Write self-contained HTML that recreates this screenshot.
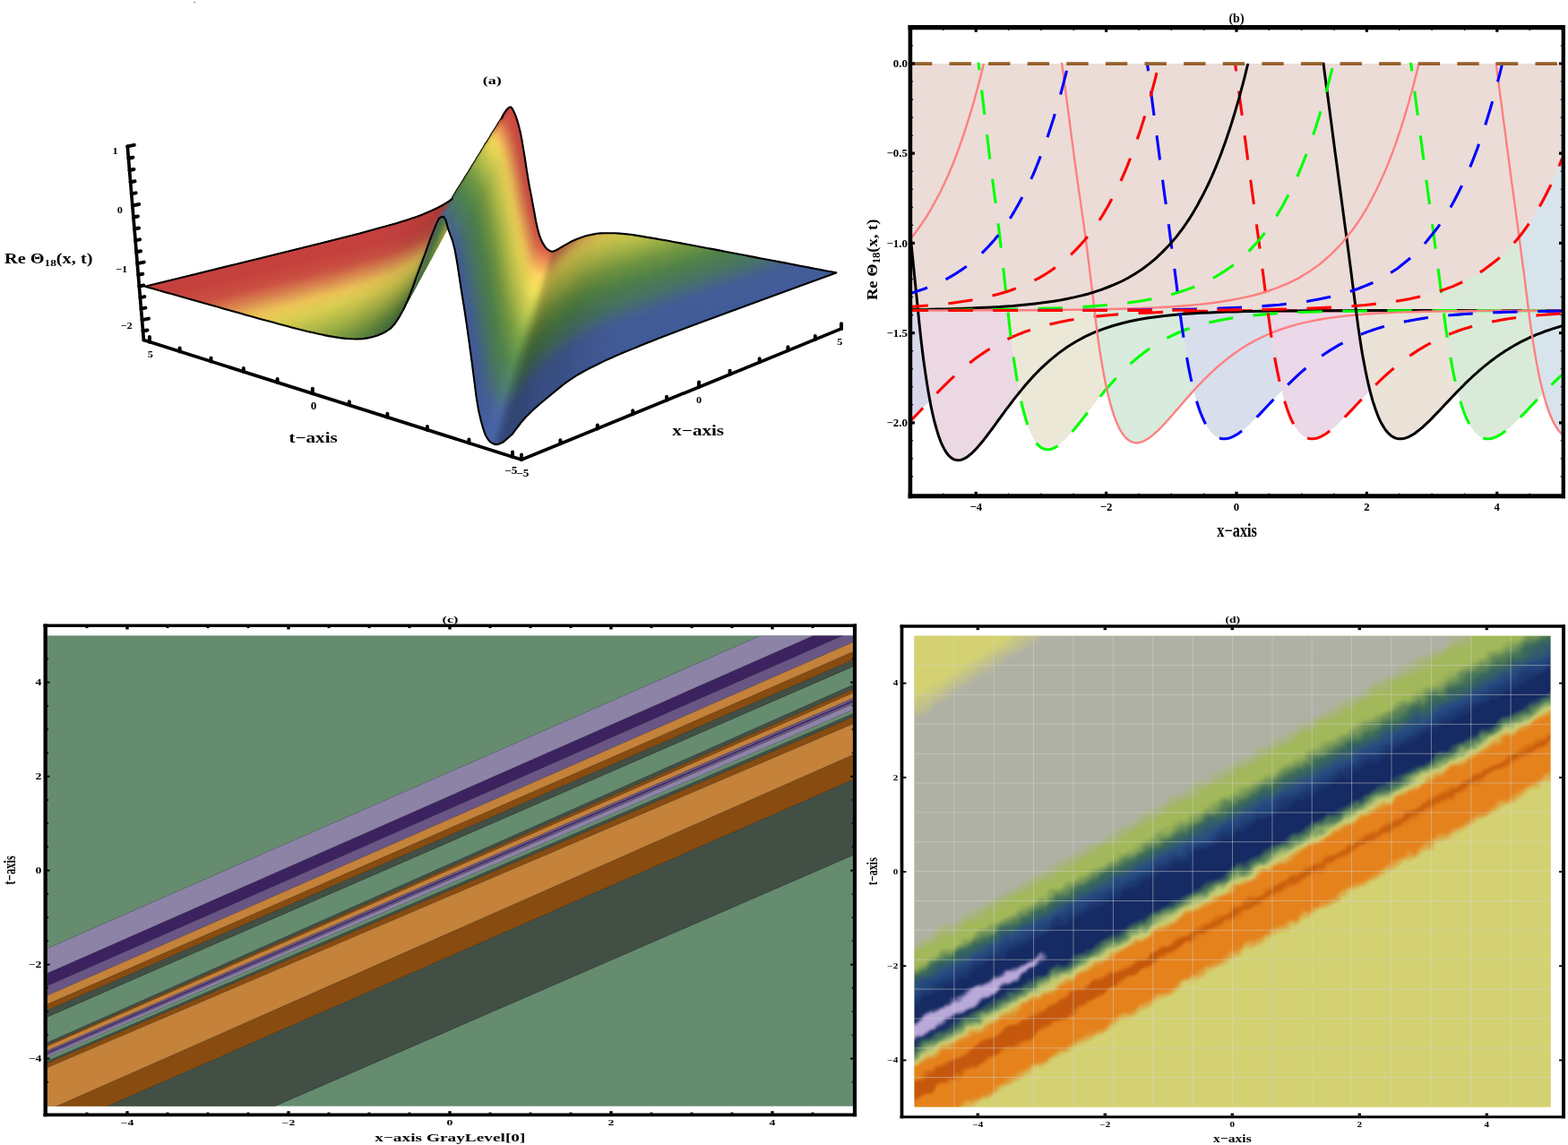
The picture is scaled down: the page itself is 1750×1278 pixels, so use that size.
<!DOCTYPE html>
<html lang="en"><head><meta charset="utf-8"><title>Figure</title>
<style>
html,body{margin:0;padding:0;background:#fff;}
body{width:1750px;height:1278px;overflow:hidden;}
svg{display:block;font-family:"Liberation Serif","DejaVu Serif",serif;fill:#000;}
</style></head><body>
<svg width="1750" height="1278" viewBox="0 0 1750 1278">
<rect width="1750" height="1278" fill="#fff"/>
<rect x="216" y="2" width="2.2" height="1" fill="#8a8a8a"/>
<clipPath id="cc"><rect x="53" y="709.4" width="899" height="525.3"/></clipPath>
<rect x="53" y="709.4" width="899" height="525.3" fill="#668c70"/>
<g clip-path="url(#cc)">
<path d="M52,1058.9L953,663.8L953,689.9L52,1087.1Z" fill="#8c83a6" />
<path d="M52,1086.8L953,689.6L953,704.3L52,1101.1Z" fill="#3c2360" />
<path d="M52,1100.8L953,704L953,716.6L52,1111.8Z" fill="#6a5685" />
<path d="M52,1111.5L953,716.3L953,727.3L52,1121.6Z" fill="#c4823b" />
<path d="M52,1121.3L953,727L953,736.3L52,1128.2Z" fill="#884c10" />
<path d="M52,1127.9L953,736L953,743.7L52,1135.6Z" fill="#424f45" />
<path d="M52,1164L953,763.9L953,769.2L52,1166.8Z" fill="#424f45" />
<path d="M52,1166.5L953,768.9L953,773.3L52,1168.4Z" fill="#884c10" />
<path d="M52,1168.1L953,773L953,779L52,1173.3Z" fill="#c4823b" />
<path d="M52,1173L953,778.7L953,781.5L52,1175.3Z" fill="#6a5685" />
<path d="M52,1175L953,781.2L953,783.3L52,1176.6Z" fill="#3c2360" />
<path d="M52,1176.3L953,783L953,785.6L52,1178.3Z" fill="#6a5685" />
<path d="M52,1178L953,785.3L953,792.1L52,1180.8Z" fill="#8c83a6" />
<path d="M52,1184.6L953,796L953,800.3L52,1187.3Z" fill="#424f45" />
<path d="M52,1187L953,800L953,807.8L52,1192.3Z" fill="#884c10" />
<path d="M52,1192L953,807.5L953,842.3L52,1240Z" fill="#c4823b" />
<path d="M52,1239.7L953,842L953,870.2L52,1264.8Z" fill="#884c10" />
<path d="M52,1264.5L953,869.9L953,954.3L52,1345.5Z" fill="#424f45" />
<path d="M52,1058.9L953,663.8M52,1086.8L953,689.6M52,1100.8L953,704M52,1111.5L953,716.3M52,1121.3L953,727M52,1127.9L953,736M52,1135.3L953,743.4M52,1164L953,763.9M52,1166.5L953,768.9M52,1168.1L953,773M52,1173L953,778.7M52,1178L953,785.3M52,1180.5L953,791.8M52,1184.6L953,796M52,1187L953,800M52,1192L953,807.5M52,1239.7L953,842M52,1264.5L953,869.9M52,1345.2L953,954" stroke="#15151a" stroke-opacity="0.4" stroke-width="0.6" fill="none"/>
</g>
<path d="M48.5,698.3H956.1" stroke="#000" stroke-width="3.5"/>
<path d="M48.5,1244.4H956.1" stroke="#000" stroke-width="3.8"/>
<path d="M50.7,696.5V1246.3" stroke="#000" stroke-width="4.4"/>
<path d="M954,696.5V1246.3" stroke="#000" stroke-width="4.2"/>
<path d="M97,1242.9L97,1241.6" stroke="#000" stroke-width="3.0" fill="none"/>
<path d="M97,699.8L97,701.1" stroke="#000" stroke-width="3.0" fill="none"/>
<path d="M187,1242.9L187,1241.6" stroke="#000" stroke-width="3.0" fill="none"/>
<path d="M187,699.8L187,701.1" stroke="#000" stroke-width="3.0" fill="none"/>
<path d="M232,1242.9L232,1241.6" stroke="#000" stroke-width="3.0" fill="none"/>
<path d="M232,699.8L232,701.1" stroke="#000" stroke-width="3.0" fill="none"/>
<path d="M277,1242.9L277,1241.6" stroke="#000" stroke-width="3.0" fill="none"/>
<path d="M277,699.8L277,701.1" stroke="#000" stroke-width="3.0" fill="none"/>
<path d="M367,1242.9L367,1241.6" stroke="#000" stroke-width="3.0" fill="none"/>
<path d="M367,699.8L367,701.1" stroke="#000" stroke-width="3.0" fill="none"/>
<path d="M412,1242.9L412,1241.6" stroke="#000" stroke-width="3.0" fill="none"/>
<path d="M412,699.8L412,701.1" stroke="#000" stroke-width="3.0" fill="none"/>
<path d="M457,1242.9L457,1241.6" stroke="#000" stroke-width="3.0" fill="none"/>
<path d="M457,699.8L457,701.1" stroke="#000" stroke-width="3.0" fill="none"/>
<path d="M547,1242.9L547,1241.6" stroke="#000" stroke-width="3.0" fill="none"/>
<path d="M547,699.8L547,701.1" stroke="#000" stroke-width="3.0" fill="none"/>
<path d="M592,1242.9L592,1241.6" stroke="#000" stroke-width="3.0" fill="none"/>
<path d="M592,699.8L592,701.1" stroke="#000" stroke-width="3.0" fill="none"/>
<path d="M637,1242.9L637,1241.6" stroke="#000" stroke-width="3.0" fill="none"/>
<path d="M637,699.8L637,701.1" stroke="#000" stroke-width="3.0" fill="none"/>
<path d="M727,1242.9L727,1241.6" stroke="#000" stroke-width="3.0" fill="none"/>
<path d="M727,699.8L727,701.1" stroke="#000" stroke-width="3.0" fill="none"/>
<path d="M772,1242.9L772,1241.6" stroke="#000" stroke-width="3.0" fill="none"/>
<path d="M772,699.8L772,701.1" stroke="#000" stroke-width="3.0" fill="none"/>
<path d="M817,1242.9L817,1241.6" stroke="#000" stroke-width="3.0" fill="none"/>
<path d="M817,699.8L817,701.1" stroke="#000" stroke-width="3.0" fill="none"/>
<path d="M907,1242.9L907,1241.6" stroke="#000" stroke-width="3.0" fill="none"/>
<path d="M907,699.8L907,701.1" stroke="#000" stroke-width="3.0" fill="none"/>
<path d="M142,1242.9L142,1240.2" stroke="#000" stroke-width="3.4" fill="none"/>
<path d="M142,699.8L142,702.5" stroke="#000" stroke-width="3.4" fill="none"/>
<path d="M322,1242.9L322,1240.2" stroke="#000" stroke-width="3.4" fill="none"/>
<path d="M322,699.8L322,702.5" stroke="#000" stroke-width="3.4" fill="none"/>
<path d="M502,1242.9L502,1240.2" stroke="#000" stroke-width="3.4" fill="none"/>
<path d="M502,699.8L502,702.5" stroke="#000" stroke-width="3.4" fill="none"/>
<path d="M682,1242.9L682,1240.2" stroke="#000" stroke-width="3.4" fill="none"/>
<path d="M682,699.8L682,702.5" stroke="#000" stroke-width="3.4" fill="none"/>
<path d="M862,1242.9L862,1240.2" stroke="#000" stroke-width="3.4" fill="none"/>
<path d="M862,699.8L862,702.5" stroke="#000" stroke-width="3.4" fill="none"/>
<path d="M52.2,1207.8L53.9,1207.8" stroke="#000" stroke-width="1.6" fill="none"/>
<path d="M952.5,1207.8L950.8,1207.8" stroke="#000" stroke-width="1.6" fill="none"/>
<path d="M52.2,1155.3L53.9,1155.3" stroke="#000" stroke-width="1.6" fill="none"/>
<path d="M952.5,1155.3L950.8,1155.3" stroke="#000" stroke-width="1.6" fill="none"/>
<path d="M52.2,1129.1L53.9,1129.1" stroke="#000" stroke-width="1.6" fill="none"/>
<path d="M952.5,1129.1L950.8,1129.1" stroke="#000" stroke-width="1.6" fill="none"/>
<path d="M52.2,1102.8L53.9,1102.8" stroke="#000" stroke-width="1.6" fill="none"/>
<path d="M952.5,1102.8L950.8,1102.8" stroke="#000" stroke-width="1.6" fill="none"/>
<path d="M52.2,1050.3L53.9,1050.3" stroke="#000" stroke-width="1.6" fill="none"/>
<path d="M952.5,1050.3L950.8,1050.3" stroke="#000" stroke-width="1.6" fill="none"/>
<path d="M52.2,1024.1L53.9,1024.1" stroke="#000" stroke-width="1.6" fill="none"/>
<path d="M952.5,1024.1L950.8,1024.1" stroke="#000" stroke-width="1.6" fill="none"/>
<path d="M52.2,997.9L53.9,997.9" stroke="#000" stroke-width="1.6" fill="none"/>
<path d="M952.5,997.9L950.8,997.9" stroke="#000" stroke-width="1.6" fill="none"/>
<path d="M52.2,945.4L53.9,945.4" stroke="#000" stroke-width="1.6" fill="none"/>
<path d="M952.5,945.4L950.8,945.4" stroke="#000" stroke-width="1.6" fill="none"/>
<path d="M52.2,919.1L53.9,919.1" stroke="#000" stroke-width="1.6" fill="none"/>
<path d="M952.5,919.1L950.8,919.1" stroke="#000" stroke-width="1.6" fill="none"/>
<path d="M52.2,892.9L53.9,892.9" stroke="#000" stroke-width="1.6" fill="none"/>
<path d="M952.5,892.9L950.8,892.9" stroke="#000" stroke-width="1.6" fill="none"/>
<path d="M52.2,840.4L53.9,840.4" stroke="#000" stroke-width="1.6" fill="none"/>
<path d="M952.5,840.4L950.8,840.4" stroke="#000" stroke-width="1.6" fill="none"/>
<path d="M52.2,814.1L53.9,814.1" stroke="#000" stroke-width="1.6" fill="none"/>
<path d="M952.5,814.1L950.8,814.1" stroke="#000" stroke-width="1.6" fill="none"/>
<path d="M52.2,787.9L53.9,787.9" stroke="#000" stroke-width="1.6" fill="none"/>
<path d="M952.5,787.9L950.8,787.9" stroke="#000" stroke-width="1.6" fill="none"/>
<path d="M52.2,735.4L53.9,735.4" stroke="#000" stroke-width="1.6" fill="none"/>
<path d="M952.5,735.4L950.8,735.4" stroke="#000" stroke-width="1.6" fill="none"/>
<path d="M52.2,1181.6L55.6,1181.6" stroke="#000" stroke-width="1.9" fill="none"/>
<path d="M952.5,1181.6L949.1,1181.6" stroke="#000" stroke-width="1.9" fill="none"/>
<path d="M52.2,1076.6L55.6,1076.6" stroke="#000" stroke-width="1.9" fill="none"/>
<path d="M952.5,1076.6L949.1,1076.6" stroke="#000" stroke-width="1.9" fill="none"/>
<path d="M52.2,971.6L55.6,971.6" stroke="#000" stroke-width="1.9" fill="none"/>
<path d="M952.5,971.6L949.1,971.6" stroke="#000" stroke-width="1.9" fill="none"/>
<path d="M52.2,866.6L55.6,866.6" stroke="#000" stroke-width="1.9" fill="none"/>
<path d="M952.5,866.6L949.1,866.6" stroke="#000" stroke-width="1.9" fill="none"/>
<path d="M52.2,761.6L55.6,761.6" stroke="#000" stroke-width="1.9" fill="none"/>
<path d="M952.5,761.6L949.1,761.6" stroke="#000" stroke-width="1.9" fill="none"/>
<text transform="translate(46.5,1184.8) scale(1.450,1.000)" font-size="9.5" text-anchor="end" font-weight="bold" >−4</text>
<text transform="translate(142,1256) scale(1.600,1.000)" font-size="8.6" text-anchor="middle" font-weight="bold" >−4</text>
<text transform="translate(46.5,1079.8) scale(1.450,1.000)" font-size="9.5" text-anchor="end" font-weight="bold" >−2</text>
<text transform="translate(322,1256) scale(1.600,1.000)" font-size="8.6" text-anchor="middle" font-weight="bold" >−2</text>
<text transform="translate(46.5,974.8) scale(1.450,1.000)" font-size="9.5" text-anchor="end" font-weight="bold" >0</text>
<text transform="translate(502,1256) scale(1.600,1.000)" font-size="8.6" text-anchor="middle" font-weight="bold" >0</text>
<text transform="translate(46.5,869.8) scale(1.450,1.000)" font-size="9.5" text-anchor="end" font-weight="bold" >2</text>
<text transform="translate(682,1256) scale(1.600,1.000)" font-size="8.6" text-anchor="middle" font-weight="bold" >2</text>
<text transform="translate(46.5,764.8) scale(1.450,1.000)" font-size="9.5" text-anchor="end" font-weight="bold" >4</text>
<text transform="translate(862,1256) scale(1.600,1.000)" font-size="8.6" text-anchor="middle" font-weight="bold" >4</text>
<text transform="translate(502.5,695) scale(1.550,1.000)" font-size="10.5" text-anchor="middle" font-weight="bold" >(c)</text>
<text transform="translate(502.3,1274.3) scale(1.535,1.000)" font-size="12.6" text-anchor="middle" font-weight="bold" >x−axis GrayLevel[0]</text>
<text transform="translate(17.2,971.3) rotate(-90) scale(0.675,1.000)" font-size="18.6" text-anchor="middle" font-weight="bold" >t−axis</text>
<clipPath id="cd"><rect x="1020.5" y="709.7" width="710" height="525.8"/></clipPath>
<filter id="jag" filterUnits="userSpaceOnUse" x="1000" y="690" width="750" height="570"><feTurbulence type="fractalNoise" baseFrequency="0.07" numOctaves="2" seed="7" result="n"/><feDisplacementMap in="SourceGraphic" in2="n" scale="11" xChannelSelector="R" yChannelSelector="G"/><feGaussianBlur stdDeviation="0.8"/></filter>
<filter id="bl3" x="-20%" y="-50%" width="140%" height="200%"><feGaussianBlur stdDeviation="1.6"/></filter>
<rect x="1020.5" y="709.7" width="710" height="525.8" fill="#d4d172"/>
<g clip-path="url(#cd)"><g filter="url(#jag)">
<rect x="996.5" y="679.7" width="758" height="585.8" fill="#d4d172"/>
<path d="M1006.5,708.9L1744.5,238.1L1744.5,315.6L1006.5,786.4Z" fill="#d4d172" />
<path d="M1006.5,784.9L1744.5,314.1L1744.5,317.7L1006.5,788.6Z" fill="#d3d074" />
<path d="M1006.5,787.1L1744.5,316.2L1744.5,319.9L1006.5,790.7Z" fill="#d0ce77" />
<path d="M1006.5,789.2L1744.5,318.4L1744.5,322L1006.5,792.9Z" fill="#cdcb7b" />
<path d="M1006.5,791.4L1744.5,320.5L1744.5,324.1L1006.5,795Z" fill="#cbc97f" />
<path d="M1006.5,793.5L1744.5,322.6L1744.5,326.3L1006.5,797.1Z" fill="#c8c782" />
<path d="M1006.5,795.6L1744.5,324.8L1744.5,328.4L1006.5,799.3Z" fill="#c5c486" />
<path d="M1006.5,797.8L1744.5,326.9L1744.5,330.6L1006.5,801.4Z" fill="#c3c28a" />
<path d="M1006.5,799.9L1744.5,329.1L1744.5,332.7L1006.5,803.6Z" fill="#c0c08d" />
<path d="M1006.5,802.1L1744.5,331.2L1744.5,334.9L1006.5,805.7Z" fill="#bebe91" />
<path d="M1006.5,804.2L1744.5,333.4L1744.5,337L1006.5,807.9Z" fill="#bbbb95" />
<path d="M1006.5,806.4L1744.5,335.5L1744.5,339.1L1006.5,810Z" fill="#b8b998" />
<path d="M1006.5,808.5L1744.5,337.6L1744.5,341.3L1006.5,812.1Z" fill="#b6b79c" />
<path d="M1006.5,810.6L1744.5,339.8L1744.5,343.4L1006.5,814.3Z" fill="#b3b4a0" />
<path d="M1006.5,812.8L1744.5,341.9L1744.5,345.6L1006.5,816.4Z" fill="#b0b2a3" />
<path d="M1006.5,814.9L1744.5,344.1L1744.5,641.6L1006.5,1059.4Z" fill="#afb1a5" />
<path d="M1006.5,1057.9L1744.5,640.1L1744.5,643.8L1006.5,1061.4Z" fill="#aeb1a1" />
<path d="M1006.5,1059.9L1744.5,642.3L1744.5,646L1006.5,1063.4Z" fill="#adb298" />
<path d="M1006.5,1061.9L1744.5,644.5L1744.5,648.3L1006.5,1065.4Z" fill="#abb390" />
<path d="M1006.5,1063.9L1744.5,646.8L1744.5,650.5L1006.5,1067.4Z" fill="#aab488" />
<path d="M1006.5,1065.9L1744.5,649L1744.5,652.7L1006.5,1069.4Z" fill="#a8b480" />
<path d="M1006.5,1067.9L1744.5,651.2L1744.5,654.9L1006.5,1071.4Z" fill="#a7b577" />
<path d="M1006.5,1069.9L1744.5,653.4L1744.5,657.2L1006.5,1073.4Z" fill="#a6b66f" />
<path d="M1006.5,1071.9L1744.5,655.7L1744.5,659.4L1006.5,1075.4Z" fill="#a4b766" />
<path d="M1006.5,1073.9L1744.5,657.9L1744.5,661.6L1006.5,1077.4Z" fill="#a3b85e" />
<path d="M1006.5,1075.9L1744.5,660.1L1744.5,683.8L1006.5,1087.2Z" fill="#a2b85a" />
<path d="M1006.5,1085.7L1744.5,682.3L1744.5,686.1L1006.5,1088.4Z" fill="#9db45a" />
<path d="M1006.5,1086.9L1744.5,684.6L1744.5,688.3L1006.5,1089.7Z" fill="#93ad5a" />
<path d="M1006.5,1088.2L1744.5,686.8L1744.5,690.5L1006.5,1091Z" fill="#88a55a" />
<path d="M1006.5,1089.5L1744.5,689L1744.5,692.7L1006.5,1092.3Z" fill="#7e9d59" />
<path d="M1006.5,1090.8L1744.5,691.2L1744.5,694.9L1006.5,1093.6Z" fill="#749659" />
<path d="M1006.5,1092.1L1744.5,693.4L1744.5,697.2L1006.5,1094.8Z" fill="#6a8e59" />
<path d="M1006.5,1093.3L1744.5,695.7L1744.5,699.4L1006.5,1096.1Z" fill="#608759" />
<path d="M1006.5,1094.6L1744.5,697.9L1744.5,701.6L1006.5,1097.4Z" fill="#567f58" />
<path d="M1006.5,1095.9L1744.5,700.1L1744.5,703.8L1006.5,1098.7Z" fill="#4b7758" />
<path d="M1006.5,1097.2L1744.5,702.3L1744.5,706L1006.5,1100Z" fill="#417058" />
<path d="M1006.5,1098.5L1744.5,704.5L1744.5,708.3L1006.5,1101.6Z" fill="#3b6a5b" />
<path d="M1006.5,1100.1L1744.5,706.8L1744.5,710.6L1006.5,1103.2Z" fill="#386660" />
<path d="M1006.5,1101.7L1744.5,709.1L1744.5,712.8L1006.5,1104.8Z" fill="#366265" />
<path d="M1006.5,1103.3L1744.5,711.3L1744.5,715.1L1006.5,1106.4Z" fill="#335e6a" />
<path d="M1006.5,1104.9L1744.5,713.6L1744.5,717.3L1006.5,1108Z" fill="#315a70" />
<path d="M1006.5,1106.5L1744.5,715.8L1744.5,719.6L1006.5,1109.6Z" fill="#2e5675" />
<path d="M1006.5,1108.1L1744.5,718.1L1744.5,721.9L1006.5,1111.3Z" fill="#2c527a" />
<path d="M1006.5,1109.8L1744.5,720.4L1744.5,724.1L1006.5,1112.9Z" fill="#294e7f" />
<path d="M1006.5,1111.4L1744.5,722.6L1744.5,726.4L1006.5,1114.9Z" fill="#274a80" />
<path d="M1006.5,1113.4L1744.5,724.9L1744.5,728.6L1006.5,1116.9Z" fill="#25467d" />
<path d="M1006.5,1115.4L1744.5,727.1L1744.5,730.8L1006.5,1118.9Z" fill="#23437a" />
<path d="M1006.5,1117.4L1744.5,729.3L1744.5,733L1006.5,1120.9Z" fill="#213f76" />
<path d="M1006.5,1119.4L1744.5,731.5L1744.5,735.3L1006.5,1122.9Z" fill="#1f3b73" />
<path d="M1006.5,1121.4L1744.5,733.8L1744.5,737.5L1006.5,1124.8Z" fill="#1d3770" />
<path d="M1006.5,1123.3L1744.5,736L1744.5,739.7L1006.5,1126.8Z" fill="#1b336c" />
<path d="M1006.5,1125.3L1744.5,738.2L1744.5,741.9L1006.5,1128.8Z" fill="#193069" />
<path d="M1006.5,1127.3L1744.5,740.4L1744.5,744.2L1006.5,1130.8Z" fill="#172c66" />
<path d="M1006.5,1129.3L1744.5,742.7L1744.5,764.8L1006.5,1173.2Z" fill="#162a64" />
<path d="M1006.5,1171.7L1744.5,763.3L1744.5,766.5L1006.5,1175.3Z" fill="#1c3263" />
<path d="M1006.5,1173.8L1744.5,765L1744.5,768.3L1006.5,1177.3Z" fill="#274361" />
<path d="M1006.5,1175.8L1744.5,766.8L1744.5,770.1L1006.5,1179.3Z" fill="#33545f" />
<path d="M1006.5,1177.8L1744.5,768.6L1744.5,771.9L1006.5,1181.3Z" fill="#3f645d" />
<path d="M1006.5,1179.8L1744.5,770.4L1744.5,773.7L1006.5,1183.3Z" fill="#4a755b" />
<path d="M1006.5,1181.8L1744.5,772.2L1744.5,775.7L1006.5,1185.3Z" fill="#5c865d" />
<path d="M1006.5,1183.8L1744.5,774.2L1744.5,777.7L1006.5,1187.3Z" fill="#769763" />
<path d="M1006.5,1185.8L1744.5,776.2L1744.5,779.7L1006.5,1189.3Z" fill="#8ea869" />
<path d="M1006.5,1187.8L1744.5,778.2L1744.5,781.7L1006.5,1191.3Z" fill="#a8ba6f" />
<path d="M1006.5,1189.8L1744.5,780.2L1744.5,783.7L1006.5,1193.3Z" fill="#c0cb75" />
<path d="M1006.5,1191.8L1744.5,782.2L1744.5,786L1006.5,1195.5Z" fill="#d0ca6c" />
<path d="M1006.5,1194L1744.5,784.5L1744.5,788.2L1006.5,1197.8Z" fill="#d6b556" />
<path d="M1006.5,1196.3L1744.5,786.7L1744.5,790.5L1006.5,1200Z" fill="#dca13e" />
<path d="M1006.5,1198.5L1744.5,789L1744.5,792.7L1006.5,1202.3Z" fill="#e28c28" />
<path d="M1006.5,1200.8L1744.5,791.2L1744.5,809.7L1006.5,1219.3Z" fill="#e5821c" />
<path d="M1006.5,1217.8L1744.5,808.2L1744.5,812.1L1006.5,1221.6Z" fill="#e07b19" />
<path d="M1006.5,1220.1L1744.5,810.6L1744.5,814.4L1006.5,1223.9Z" fill="#d66d13" />
<path d="M1006.5,1222.4L1744.5,812.9L1744.5,816.7L1006.5,1226.3Z" fill="#cb5f0d" />
<path d="M1006.5,1224.8L1744.5,815.2L1744.5,819.1L1006.5,1228.6Z" fill="#cb5f0d" />
<path d="M1006.5,1227.1L1744.5,817.6L1744.5,821.4L1006.5,1230.9Z" fill="#d66d13" />
<path d="M1006.5,1229.4L1744.5,819.9L1744.5,823.7L1006.5,1233.3Z" fill="#e07b19" />
<path d="M1006.5,1231.8L1744.5,822.2L1744.5,855.6L1006.5,1271.4Z" fill="#e5821c" />
<path d="M1006.5,1269.9L1744.5,854.1L1744.5,857.8L1006.5,1273.4Z" fill="#e38a25" />
<path d="M1006.5,1271.9L1744.5,856.3L1744.5,860L1006.5,1275.4Z" fill="#e09a36" />
<path d="M1006.5,1273.9L1744.5,858.5L1744.5,862.2L1006.5,1277.4Z" fill="#dcaa47" />
<path d="M1006.5,1275.9L1744.5,860.7L1744.5,864.4L1006.5,1279.4Z" fill="#d9b958" />
<path d="M1006.5,1277.9L1744.5,862.9L1744.5,866.6L1006.5,1281.4Z" fill="#d6c969" />
<path d="M1006.5,1279.9L1744.5,865.1L1744.5,1293.6L1006.5,1709.4Z" fill="#d4d172" />
<path d="M1006,1214L1190,1111.9L1260,1077.1L1330,1042.2L1330,1048.2L1260,1091.1L1190,1133.9L1006,1236Z" fill="#c6580a" filter="url(#bl3)"/>
<path d="M1005,1151.3L1060,1119.6L1100,1097.7L1130,1081.7L1150,1072L1166,1065.1L1166,1068.1L1150,1080L1130,1093.7L1100,1112.7L1060,1137.6L1005,1170.3Z" fill="#b9a9da" filter="url(#bl3)"/>
</g>
<path d="M1064.9,709.7V1235.5" stroke="#d6d6d0" stroke-opacity="0.47" stroke-width="1"/>
<path d="M1020.5,742.6H1730.5" stroke="#d6d6d0" stroke-opacity="0.47" stroke-width="1"/>
<path d="M1109.2,709.7V1235.5" stroke="#d6d6d0" stroke-opacity="0.47" stroke-width="1"/>
<path d="M1020.5,775.4H1730.5" stroke="#d6d6d0" stroke-opacity="0.47" stroke-width="1"/>
<path d="M1153.6,709.7V1235.5" stroke="#d6d6d0" stroke-opacity="0.47" stroke-width="1"/>
<path d="M1020.5,808.3H1730.5" stroke="#d6d6d0" stroke-opacity="0.47" stroke-width="1"/>
<path d="M1198,709.7V1235.5" stroke="#d6d6d0" stroke-opacity="0.47" stroke-width="1"/>
<path d="M1020.5,841.2H1730.5" stroke="#d6d6d0" stroke-opacity="0.47" stroke-width="1"/>
<path d="M1242.4,709.7V1235.5" stroke="#d6d6d0" stroke-opacity="0.47" stroke-width="1"/>
<path d="M1020.5,874H1730.5" stroke="#d6d6d0" stroke-opacity="0.47" stroke-width="1"/>
<path d="M1286.8,709.7V1235.5" stroke="#d6d6d0" stroke-opacity="0.47" stroke-width="1"/>
<path d="M1020.5,906.9H1730.5" stroke="#d6d6d0" stroke-opacity="0.47" stroke-width="1"/>
<path d="M1331.1,709.7V1235.5" stroke="#d6d6d0" stroke-opacity="0.47" stroke-width="1"/>
<path d="M1020.5,939.7H1730.5" stroke="#d6d6d0" stroke-opacity="0.47" stroke-width="1"/>
<path d="M1375.5,709.7V1235.5" stroke="#d6d6d0" stroke-opacity="0.47" stroke-width="1"/>
<path d="M1020.5,972.6H1730.5" stroke="#d6d6d0" stroke-opacity="0.47" stroke-width="1"/>
<path d="M1419.9,709.7V1235.5" stroke="#d6d6d0" stroke-opacity="0.47" stroke-width="1"/>
<path d="M1020.5,1005.5H1730.5" stroke="#d6d6d0" stroke-opacity="0.47" stroke-width="1"/>
<path d="M1464.2,709.7V1235.5" stroke="#d6d6d0" stroke-opacity="0.47" stroke-width="1"/>
<path d="M1020.5,1038.3H1730.5" stroke="#d6d6d0" stroke-opacity="0.47" stroke-width="1"/>
<path d="M1508.6,709.7V1235.5" stroke="#d6d6d0" stroke-opacity="0.47" stroke-width="1"/>
<path d="M1020.5,1071.2H1730.5" stroke="#d6d6d0" stroke-opacity="0.47" stroke-width="1"/>
<path d="M1553,709.7V1235.5" stroke="#d6d6d0" stroke-opacity="0.47" stroke-width="1"/>
<path d="M1020.5,1104H1730.5" stroke="#d6d6d0" stroke-opacity="0.47" stroke-width="1"/>
<path d="M1597.4,709.7V1235.5" stroke="#d6d6d0" stroke-opacity="0.47" stroke-width="1"/>
<path d="M1020.5,1136.9H1730.5" stroke="#d6d6d0" stroke-opacity="0.47" stroke-width="1"/>
<path d="M1641.8,709.7V1235.5" stroke="#d6d6d0" stroke-opacity="0.47" stroke-width="1"/>
<path d="M1020.5,1169.8H1730.5" stroke="#d6d6d0" stroke-opacity="0.47" stroke-width="1"/>
<path d="M1686.1,709.7V1235.5" stroke="#d6d6d0" stroke-opacity="0.47" stroke-width="1"/>
<path d="M1020.5,1202.6H1730.5" stroke="#d6d6d0" stroke-opacity="0.47" stroke-width="1"/>
</g>
<path d="M1004.6,699H1747" stroke="#000" stroke-width="3.3"/>
<path d="M1004.6,1246.8H1747" stroke="#000" stroke-width="3.1"/>
<path d="M1006.5,697.4V1248.3" stroke="#000" stroke-width="3.7"/>
<path d="M1745,697.4V1248.3" stroke="#000" stroke-width="4.0"/>
<path d="M1091.3,1245.3L1091.3,1242.6" stroke="#000" stroke-width="3.4" fill="none"/>
<path d="M1091.3,700.5L1091.3,703.2" stroke="#000" stroke-width="3.4" fill="none"/>
<path d="M1233.3,1245.3L1233.3,1242.6" stroke="#000" stroke-width="3.4" fill="none"/>
<path d="M1233.3,700.5L1233.3,703.2" stroke="#000" stroke-width="3.4" fill="none"/>
<path d="M1375.3,1245.3L1375.3,1242.6" stroke="#000" stroke-width="3.4" fill="none"/>
<path d="M1375.3,700.5L1375.3,703.2" stroke="#000" stroke-width="3.4" fill="none"/>
<path d="M1517.3,1245.3L1517.3,1242.6" stroke="#000" stroke-width="3.4" fill="none"/>
<path d="M1517.3,700.5L1517.3,703.2" stroke="#000" stroke-width="3.4" fill="none"/>
<path d="M1659.3,1245.3L1659.3,1242.6" stroke="#000" stroke-width="3.4" fill="none"/>
<path d="M1659.3,700.5L1659.3,703.2" stroke="#000" stroke-width="3.4" fill="none"/>
<path d="M1008,1183.4L1011.4,1183.4" stroke="#000" stroke-width="1.9" fill="none"/>
<path d="M1743.5,1183.4L1740.1,1183.4" stroke="#000" stroke-width="1.9" fill="none"/>
<path d="M1008,1078.2L1011.4,1078.2" stroke="#000" stroke-width="1.9" fill="none"/>
<path d="M1743.5,1078.2L1740.1,1078.2" stroke="#000" stroke-width="1.9" fill="none"/>
<path d="M1008,973L1011.4,973" stroke="#000" stroke-width="1.9" fill="none"/>
<path d="M1743.5,973L1740.1,973" stroke="#000" stroke-width="1.9" fill="none"/>
<path d="M1008,867.8L1011.4,867.8" stroke="#000" stroke-width="1.9" fill="none"/>
<path d="M1743.5,867.8L1740.1,867.8" stroke="#000" stroke-width="1.9" fill="none"/>
<path d="M1008,762.6L1011.4,762.6" stroke="#000" stroke-width="1.9" fill="none"/>
<path d="M1743.5,762.6L1740.1,762.6" stroke="#000" stroke-width="1.9" fill="none"/>
<text transform="translate(1002.2,1186.2) scale(1.350,1.000)" font-size="8.2" text-anchor="end" font-weight="bold" >−4</text>
<text transform="translate(1091.3,1257.8) scale(1.350,1.000)" font-size="8.2" text-anchor="middle" font-weight="bold" >−4</text>
<text transform="translate(1002.2,1081) scale(1.350,1.000)" font-size="8.2" text-anchor="end" font-weight="bold" >−2</text>
<text transform="translate(1233.3,1257.8) scale(1.350,1.000)" font-size="8.2" text-anchor="middle" font-weight="bold" >−2</text>
<text transform="translate(1002.2,975.8) scale(1.350,1.000)" font-size="8.2" text-anchor="end" font-weight="bold" >0</text>
<text transform="translate(1375.3,1257.8) scale(1.350,1.000)" font-size="8.2" text-anchor="middle" font-weight="bold" >0</text>
<text transform="translate(1002.2,870.6) scale(1.350,1.000)" font-size="8.2" text-anchor="end" font-weight="bold" >2</text>
<text transform="translate(1517.3,1257.8) scale(1.350,1.000)" font-size="8.2" text-anchor="middle" font-weight="bold" >2</text>
<text transform="translate(1002.2,765.4) scale(1.350,1.000)" font-size="8.2" text-anchor="end" font-weight="bold" >4</text>
<text transform="translate(1659.3,1257.8) scale(1.350,1.000)" font-size="8.2" text-anchor="middle" font-weight="bold" >4</text>
<text transform="translate(1375.7,695.2) scale(1.300,1.000)" font-size="10.5" text-anchor="middle" font-weight="bold" >(d)</text>
<text transform="translate(1375.4,1274.6) scale(1.200,1.000)" font-size="13" text-anchor="middle" font-weight="bold" >x−axis</text>
<text transform="translate(978.6,972.6) rotate(-90) scale(0.755,1.000)" font-size="16" text-anchor="middle" font-weight="bold" >t−axis</text>
<clipPath id="cb"><rect x="1015.9" y="30.7" width="729.1" height="523.0"/></clipPath>
<clipPath id="cb2"><rect x="1015.9" y="69.8" width="729.1" height="482.70000000000005"/></clipPath>
<g clip-path="url(#cb2)">
<path d="M1016.5,71L1016.5,469.4L1018.1,467.8L1019.7,466.2L1021.3,464.5L1023,462.9L1024.6,461.2L1026.2,459.5L1027.8,457.8L1029.4,456.1L1031,454.3L1032.7,452.6L1034.3,450.9L1035.9,449.2L1037.5,447.5L1039.1,445.7L1040.7,444L1042.3,442.3L1044,440.6L1045.6,439L1047.2,437.3L1048.8,435.6L1050.4,434L1052,432.4L1053.7,430.7L1055.3,429.1L1056.9,427.5L1058.5,426L1060.1,424.4L1061.7,422.9L1063.4,421.4L1065,419.9L1066.6,418.4L1068.2,416.9L1069.8,415.5L1071.4,414.1L1073,412.7L1074.7,411.3L1076.3,409.9L1077.9,408.6L1079.5,407.3L1081.1,406L1082.7,404.7L1084.4,403.5L1086,402.2L1087.6,401L1089.2,399.8L1090.8,398.6L1092.4,397.5L1094,396.3L1095.7,395.2L1097.3,394.1L1098.9,393.1L1100.5,392L1102.1,391L1103.7,390L1105.4,389L1107,388L1108.6,387L1110.2,386.1L1111.8,385.2L1113.4,384.3L1115,383.4L1116.7,382.5L1118.3,381.7L1119.9,380.9L1121.5,380L1123.1,379.2L1124.7,378.5L1126.4,377.7L1128,377L1129.6,376.2L1131.2,375.5L1132.8,374.8L1134.4,374.1L1136.1,373.4L1137.7,372.8L1139.3,372.2L1140.9,371.5L1142.5,370.9L1144.1,370.3L1145.7,369.7L1147.4,369.2L1149,368.6L1150.6,368L1152.2,367.5L1153.8,367L1155.4,366.5L1157.1,366L1158.7,365.5L1160.3,365L1161.9,364.5L1171.8,361.9L1181.6,359.7L1191.5,357.7L1201.3,356.1L1211.2,354.6L1221,353.4L1230.9,352.4L1240.8,351.5L1250.6,350.7L1260.5,350.1L1270.3,349.5L1280.2,349.1L1290,348.7L1299.9,348.3L1309.8,348L1319.6,347.8L1329.5,347.6L1339.3,347.4L1349.2,347.3L1359.1,347.2L1368.9,347.1L1378.8,347L1388.6,346.9L1398.5,346.9L1408.3,346.8L1418.2,346.8L1428.1,346.7L1437.9,346.7L1447.8,346.7L1457.6,346.7L1467.5,346.6L1477.3,346.6L1487.2,346.6L1497.1,346.6L1506.9,346.6L1516.8,346.6L1526.6,346.6L1536.5,346.6L1546.3,346.6L1556.2,346.6L1566.1,346.6L1575.9,346.6L1585.8,346.6L1595.6,346.6L1605.5,346.6L1615.4,346.6L1625.2,346.6L1635.1,346.6L1644.9,346.6L1654.8,346.6L1664.6,346.6L1674.5,346.6L1684.4,346.6L1694.2,346.6L1704.1,346.6L1713.9,346.6L1723.8,346.6L1733.6,346.6L1743.5,346.6L1743.5,71Z" fill="#d9d8eb" />
<path d="M1016.5,71L1016.5,267.5L1018.1,282.9L1019.7,298.7L1021.3,314.7L1023,331L1024.6,347.4L1026.2,363.1L1027.8,377.8L1029.4,391.4L1031,404L1032.7,415.6L1034.3,426.4L1035.9,436.3L1037.5,445.3L1039.1,453.7L1040.7,461.3L1042.3,468.2L1044,474.5L1045.6,480.2L1047.2,485.4L1048.8,490L1050.4,494.1L1052,497.7L1053.7,500.9L1055.3,503.7L1056.9,506L1058.5,508L1060.1,509.7L1061.7,511.1L1063.4,512.1L1065,512.9L1066.6,513.4L1068.2,513.6L1069.8,513.7L1071.4,513.5L1073,513.1L1074.7,512.5L1076.3,511.8L1077.9,510.9L1079.5,509.9L1081.1,508.7L1082.7,507.4L1084.4,506L1086,504.5L1087.6,502.9L1089.2,501.2L1090.8,499.4L1092.4,497.6L1094,495.7L1095.7,493.8L1097.3,491.8L1098.9,489.7L1100.5,487.6L1102.1,485.5L1103.7,483.4L1105.4,481.2L1107,479L1108.6,476.8L1110.2,474.6L1111.8,472.4L1113.4,470.2L1115,468L1116.7,465.7L1118.3,463.5L1119.9,461.3L1121.5,459.1L1123.1,456.9L1124.7,454.8L1126.4,452.6L1128,450.5L1129.6,448.3L1131.2,446.2L1132.8,444.2L1134.4,442.1L1136.1,440.1L1137.7,438L1139.3,436.1L1140.9,434.1L1142.5,432.2L1144.1,430.3L1145.7,428.4L1147.4,426.5L1149,424.7L1150.6,422.9L1152.2,421.1L1153.8,419.4L1155.4,417.7L1157.1,416L1158.7,414.4L1160.3,412.7L1161.9,411.2L1171.8,402.1L1181.6,394.1L1191.5,387.1L1201.3,381L1211.2,375.7L1221,371.2L1230.9,367.3L1240.8,364L1250.6,361.2L1260.5,358.8L1270.3,356.8L1280.2,355.1L1290,353.7L1299.9,352.5L1309.8,351.5L1319.6,350.6L1329.5,349.9L1339.3,349.3L1349.2,348.9L1359.1,348.5L1368.9,348.1L1378.8,347.9L1388.6,347.6L1398.5,347.4L1408.3,347.3L1418.2,347.1L1428.1,347L1437.9,347L1447.8,346.9L1457.6,346.8L1467.5,346.8L1477.3,346.7L1487.2,346.7L1497.1,346.7L1506.9,346.7L1516.8,346.6L1526.6,346.6L1536.5,346.6L1546.3,346.6L1556.2,346.6L1566.1,346.6L1575.9,346.6L1585.8,346.6L1595.6,346.6L1605.5,346.6L1615.4,346.6L1625.2,346.6L1635.1,346.6L1644.9,346.6L1654.8,346.6L1664.6,346.6L1674.5,346.6L1684.4,346.6L1694.2,346.6L1704.1,346.6L1713.9,346.6L1723.8,346.6L1733.6,346.6L1743.5,346.6L1743.5,71Z" fill="#ebd8e3" />
<path d="M1090.7,71L1090.7,71L1092.3,72.4L1093.9,86L1095.5,99.6L1097.1,113.2L1098.7,126.8L1100.3,140.4L1102,154L1103.6,167.6L1105.2,180.6L1106.8,193.2L1108.4,205.7L1110,218.1L1111.7,230.6L1113.3,243.5L1114.9,256.7L1116.5,270.3L1118.1,284.4L1119.7,298.9L1121.3,313.7L1123,328.9L1124.6,344.2L1126.2,359.2L1127.8,373.2L1129.4,386.1L1131,398L1132.7,409.1L1134.3,419.3L1135.9,428.7L1137.5,437.3L1139.1,445.2L1140.7,452.4L1142.4,459L1144,464.9L1145.6,470.3L1147.2,475.2L1148.8,479.5L1150.4,483.4L1152,486.8L1153.7,489.9L1155.3,492.5L1156.9,494.7L1158.5,496.6L1160.1,498.2L1161.7,499.4L1163.4,500.4L1165,501.1L1166.6,501.6L1168.2,501.8L1169.8,501.8L1171.4,501.7L1173,501.3L1174.7,500.8L1176.3,500.1L1177.9,499.2L1179.5,498.2L1181.1,497.1L1182.7,495.9L1184.4,494.6L1186,493.1L1187.6,491.6L1189.2,490L1190.8,488.4L1192.4,486.7L1194,484.9L1195.7,483L1197.3,481.1L1198.9,479.2L1200.5,477.3L1202.1,475.3L1203.7,473.3L1205.4,471.2L1207,469.2L1208.6,467.1L1210.2,465L1211.8,463L1213.4,460.9L1215.1,458.8L1216.7,456.7L1218.3,454.6L1219.9,452.6L1221.5,450.5L1223.1,448.5L1224.7,446.4L1226.4,444.4L1228,442.4L1229.6,440.4L1231.2,438.5L1232.8,436.5L1234.4,434.6L1236.1,432.7L1244.7,423L1253.3,414L1261.9,405.9L1270.5,398.5L1279.1,391.8L1287.7,385.9L1296.3,380.7L1304.9,376.1L1313.5,372L1322.1,368.5L1330.7,365.4L1339.3,362.7L1347.9,360.4L1356.5,358.4L1365.1,356.7L1373.7,355.2L1382.3,353.9L1390.9,352.8L1399.5,351.9L1408.1,351.1L1416.7,350.4L1425.3,349.8L1433.9,349.3L1442.5,348.9L1451.1,348.5L1459.7,348.2L1468.3,348L1476.9,347.7L1485.5,347.6L1494.1,347.4L1502.7,347.3L1511.3,347.2L1519.9,347.1L1528.5,347L1537.1,346.9L1545.7,346.9L1554.3,346.8L1562.9,346.8L1571.5,346.7L1580.1,346.7L1588.7,346.7L1597.3,346.7L1605.9,346.6L1614.5,346.6L1623.1,346.6L1631.7,346.6L1640.3,346.6L1648.9,346.6L1657.5,346.6L1666.1,346.6L1674.7,346.6L1683.3,346.6L1691.9,346.6L1700.5,346.6L1709.1,346.6L1717.7,346.6L1726.3,346.6L1734.9,346.6L1743.5,346.6L1743.5,71Z" fill="#ebe8d8" />
<path d="M1016.5,71L1016.5,266.3L1016.7,266L1016.9,265.7L1017.2,265.5L1017.4,265.2L1017.6,264.9L1017.8,264.6L1018,264.4L1018.2,264.1L1018.5,263.8L1018.7,263.6L1018.9,263.3L1019.1,263L1019.3,262.7L1019.6,262.4L1019.8,262.2L1020,261.9L1020.2,261.6L1020.4,261.3L1020.6,261L1020.9,260.7L1021.1,260.5L1021.3,260.2L1021.5,259.9L1021.7,259.6L1022,259.3L1022.2,259L1022.4,258.7L1022.6,258.4L1022.8,258.1L1023,257.8L1023.3,257.5L1023.5,257.2L1023.7,257L1023.9,256.7L1024.1,256.4L1024.4,256.1L1024.6,255.7L1024.8,255.4L1025,255.1L1025.2,254.8L1027.1,252.2L1029,249.5L1030.8,246.7L1032.7,243.9L1034.5,241L1036.4,237.9L1038.3,234.8L1040.1,231.6L1042,228.2L1043.9,224.8L1045.7,221.3L1047.6,217.7L1049.5,214.1L1051.3,210.3L1053.2,206.5L1055,202.6L1056.9,198.5L1058.8,194.3L1060.6,189.9L1062.5,185.4L1064.4,180.7L1066.2,176L1068.1,171.1L1070,166.1L1071.8,160.9L1073.7,155.5L1075.6,150L1077.4,144.4L1079.3,138.6L1081.1,132.7L1083,126.6L1084.9,120.4L1086.7,114L1088.6,107.3L1090.5,100.4L1092.3,93.4L1094.2,86.1L1096.1,78.6L1097.9,71L1097.9,71Z" fill="#d8ebdd" />
<path d="M1183.7,71L1183.7,71L1185.3,72.2L1186.9,84.5L1188.6,96.7L1190.2,109L1191.8,121.2L1193.4,133.5L1195,145.7L1196.6,158L1198.2,170.2L1199.9,182.4L1201.5,194.3L1203.1,205.8L1204.7,217L1206.3,228.2L1207.9,239.4L1209.6,250.9L1211.2,262.7L1212.8,274.9L1214.4,287.4L1216,300.4L1217.6,313.7L1219.3,327.3L1220.9,341L1222.5,354.7L1224.1,367.5L1225.7,379.4L1227.3,390.5L1228.9,400.8L1230.6,410.4L1232.2,419.3L1233.8,427.4L1235.4,435L1237,441.9L1238.6,448.3L1240.3,454.1L1241.9,459.4L1243.5,464.3L1245.1,468.6L1246.7,472.6L1248.3,476.1L1249.9,479.3L1251.6,482.1L1253.2,484.5L1254.8,486.7L1256.4,488.5L1258,490L1259.6,491.3L1261.3,492.3L1262.9,493.1L1264.5,493.7L1266.1,494L1267.7,494.2L1269.3,494.2L1271,494L1272.6,493.7L1274.2,493.2L1275.8,492.6L1277.4,491.8L1279,491L1280.6,490L1282.3,488.9L1283.9,487.8L1285.5,486.5L1287.1,485.2L1288.7,483.8L1290.3,482.4L1292,480.8L1293.6,479.3L1295.2,477.6L1296.8,476L1298.4,474.3L1300,472.6L1301.6,470.8L1303.3,469L1304.9,467.2L1306.5,465.4L1308.1,463.5L1309.7,461.7L1311.3,459.8L1313,457.9L1314.6,456.1L1316.2,454.2L1317.8,452.3L1319.4,450.5L1321,448.6L1322.6,446.8L1324.3,444.9L1325.9,443.1L1327.5,441.2L1329.1,439.4L1336.1,431.7L1343.2,424.4L1350.2,417.4L1357.2,410.9L1364.2,404.8L1371.3,399.2L1378.3,394L1385.3,389.2L1392.3,384.9L1399.3,380.9L1406.4,377.3L1413.4,374L1420.4,371.1L1427.4,368.4L1434.5,366L1441.5,363.8L1448.5,361.9L1455.5,360.2L1462.6,358.6L1469.6,357.3L1476.6,356L1483.6,354.9L1490.7,354L1497.7,353.1L1504.7,352.3L1511.7,351.7L1518.7,351.1L1525.8,350.5L1532.8,350L1539.8,349.6L1546.8,349.3L1553.9,348.9L1560.9,348.6L1567.9,348.4L1574.9,348.2L1582,348L1589,347.8L1596,347.6L1603,347.5L1610.1,347.4L1617.1,347.3L1624.1,347.2L1631.1,347.1L1638.1,347L1645.2,347L1652.2,346.9L1659.2,346.9L1666.2,346.8L1673.3,346.8L1680.3,346.8L1687.3,346.7L1694.3,346.7L1701.4,346.7L1708.4,346.7L1715.4,346.7L1722.4,346.6L1729.5,346.6L1736.5,346.6L1743.5,346.6L1743.5,71Z" fill="#d8ebdd" />
<path d="M1016.5,71L1016.5,327.3L1019.1,326.6L1021.7,325.8L1024.2,324.9L1026.8,324L1029.4,323.1L1032,322.2L1034.6,321.2L1037.1,320.2L1039.7,319.1L1042.3,318.1L1044.9,317L1047.5,315.8L1050.1,314.6L1052.6,313.4L1055.2,312.1L1057.8,310.7L1060.4,309.2L1063,307.7L1065.5,306.2L1068.1,304.5L1070.7,302.8L1073.3,301.1L1075.9,299.3L1078.4,297.5L1081,295.5L1083.6,293.5L1086.2,291.3L1088.8,289.1L1091.3,286.8L1093.9,284.4L1096.5,281.9L1099.1,279.3L1101.7,276.7L1104.2,274L1106.8,271.1L1109.4,268.2L1112,265.1L1114.6,261.8L1117.2,258.4L1119.7,254.8L1121.6,252.2L1123.5,249.5L1125.3,246.7L1127.2,243.9L1129.1,241L1130.9,237.9L1132.8,234.8L1134.6,231.6L1136.5,228.2L1138.4,224.8L1140.2,221.3L1142.1,217.7L1144,214.1L1145.8,210.3L1147.7,206.5L1149.6,202.6L1151.4,198.5L1153.3,194.3L1155.2,189.9L1157,185.4L1158.9,180.7L1160.7,176L1162.6,171.1L1164.5,166.1L1166.3,160.9L1168.2,155.5L1170.1,150L1171.9,144.4L1173.8,138.6L1175.7,132.7L1177.5,126.6L1179.4,120.4L1181.2,114L1183.1,107.3L1185,100.4L1186.8,93.4L1188.7,86.1L1190.6,78.6L1192.4,71L1192.4,71Z" fill="#d8deeb" />
<path d="M1278.9,71L1278.9,71L1280.6,72.2L1282.2,84.5L1283.8,96.7L1285.4,109L1287,121.2L1288.6,133.5L1290.3,145.7L1291.9,158L1293.5,170.2L1295.1,182.4L1296.7,194.6L1298.3,206.6L1299.9,218.5L1301.6,230.4L1303.2,242.4L1304.8,254.4L1306.4,266.5L1308,278.8L1309.6,291.1L1311.3,303.5L1312.9,316.1L1314.5,328.8L1316.1,341.5L1317.7,354L1319.3,365.9L1321,376.9L1322.6,387.3L1324.2,396.9L1325.8,405.9L1327.4,414.2L1329,422L1330.6,429.2L1332.3,435.8L1333.9,441.9L1335.5,447.6L1337.1,452.8L1338.7,457.5L1340.3,461.8L1342,465.8L1343.6,469.4L1345.2,472.6L1346.8,475.4L1348.4,478L1350,480.3L1351.6,482.3L1353.3,484L1354.9,485.4L1356.5,486.7L1358.1,487.7L1359.7,488.5L1361.3,489.1L1363,489.5L1364.6,489.8L1366.2,489.8L1367.8,489.8L1369.4,489.5L1371,489.2L1372.6,488.7L1374.3,488.1L1375.9,487.4L1377.5,486.6L1379.1,485.7L1380.7,484.7L1382.3,483.7L1384,482.5L1385.6,481.3L1387.2,480.1L1388.8,478.7L1390.4,477.4L1392,475.9L1393.7,474.5L1395.3,472.9L1396.9,471.4L1398.5,469.8L1400.1,468.2L1401.7,466.6L1403.3,464.9L1405,463.3L1406.6,461.6L1408.2,459.9L1409.8,458.2L1411.4,456.5L1413,454.8L1414.7,453L1416.3,451.3L1417.9,449.6L1419.5,447.9L1421.1,446.2L1422.7,444.5L1424.3,442.8L1429.8,437.1L1435.2,431.6L1440.6,426.3L1446,421.2L1451.4,416.2L1456.8,411.5L1462.2,407L1467.6,402.8L1473,398.8L1478.4,395L1483.9,391.4L1489.3,388.1L1494.7,384.9L1500.1,382L1505.5,379.3L1510.9,376.7L1516.3,374.3L1521.7,372.1L1527.1,370.1L1532.5,368.2L1537.9,366.4L1543.4,364.8L1548.8,363.3L1554.2,361.9L1559.6,360.6L1565,359.5L1570.4,358.4L1575.8,357.4L1581.2,356.5L1586.6,355.6L1592,354.8L1597.4,354.1L1602.9,353.5L1608.3,352.9L1613.7,352.3L1619.1,351.8L1624.5,351.4L1629.9,350.9L1635.3,350.5L1640.7,350.2L1646.1,349.9L1651.5,349.6L1657,349.3L1662.4,349.1L1667.8,348.8L1673.2,348.6L1678.6,348.4L1684,348.3L1689.4,348.1L1694.8,348L1700.2,347.8L1705.6,347.7L1711,347.6L1716.5,347.5L1721.9,347.4L1727.3,347.4L1732.7,347.3L1738.1,347.2L1743.5,347.2L1743.5,71Z" fill="#d8deeb" />
<path d="M1016.5,71L1016.5,342.4L1021.6,342.1L1026.7,341.7L1031.8,341.3L1036.9,340.9L1042,340.4L1047.1,339.9L1052.3,339.4L1057.4,338.8L1062.5,338.2L1067.6,337.5L1072.7,336.8L1077.8,336L1082.9,335.2L1088,334.3L1093.1,333.3L1098.2,332.2L1103.3,331L1108.4,329.8L1113.5,328.5L1118.6,327L1123.8,325.4L1128.9,323.7L1134,321.8L1139.1,319.8L1144.2,317.7L1149.3,315.5L1154.4,313L1159.5,310.3L1164.6,307.4L1169.7,304.2L1174.8,300.8L1179.9,297.1L1185,293.1L1190.1,288.8L1195.3,284.1L1200.4,279.1L1205.5,273.8L1210.6,268L1215.7,261.7L1220.8,254.8L1222.7,252.2L1224.5,249.5L1226.4,246.7L1228.2,243.9L1230.1,241L1232,237.9L1233.8,234.8L1235.7,231.6L1237.6,228.2L1239.4,224.8L1241.3,221.3L1243.2,217.7L1245,214.1L1246.9,210.3L1248.7,206.5L1250.6,202.6L1252.5,198.5L1254.3,194.3L1256.2,189.9L1258.1,185.4L1259.9,180.7L1261.8,176L1263.7,171.1L1265.5,166.1L1267.4,160.9L1269.3,155.5L1271.1,150L1273,144.4L1274.8,138.6L1276.7,132.7L1278.6,126.6L1280.4,120.4L1282.3,114L1284.2,107.3L1286,100.4L1287.9,93.4L1289.8,86.1L1291.6,78.6L1293.5,71L1293.5,71Z" fill="#ebd8e9" />
<path d="M1377.1,71L1377.1,71L1378.7,72.2L1380.3,84.5L1381.9,96.7L1383.6,109L1385.2,121.2L1386.8,133.5L1388.4,145.7L1390,158L1391.6,170.2L1393.2,182.4L1394.9,194.6L1396.5,206.6L1398.1,218.5L1399.7,230.4L1401.3,242.4L1402.9,254.4L1404.6,266.5L1406.2,278.8L1407.8,291.1L1409.4,303.5L1411,316.1L1412.6,328.8L1414.2,341.5L1415.9,354L1417.5,365.9L1419.1,376.9L1420.7,387.3L1422.3,396.9L1423.9,405.9L1425.6,414.2L1427.2,422L1428.8,429.2L1430.4,435.8L1432,441.9L1433.6,447.6L1435.3,452.8L1436.9,457.5L1438.5,461.8L1440.1,465.8L1441.7,469.4L1443.3,472.6L1444.9,475.4L1446.6,478L1448.2,480.3L1449.8,482.3L1451.4,484L1453,485.4L1454.6,486.7L1456.3,487.7L1457.9,488.5L1459.5,489.1L1461.1,489.5L1462.7,489.8L1464.3,489.8L1465.9,489.8L1467.6,489.5L1469.2,489.2L1470.8,488.7L1472.4,488.1L1474,487.4L1475.6,486.6L1477.3,485.7L1478.9,484.7L1480.5,483.7L1482.1,482.5L1483.7,481.3L1485.3,480.1L1486.9,478.7L1488.6,477.4L1490.2,475.9L1491.8,474.5L1493.4,472.9L1495,471.4L1496.6,469.8L1498.3,468.2L1499.9,466.6L1501.5,464.9L1503.1,463.3L1504.7,461.6L1506.3,459.9L1508,458.2L1509.6,456.5L1511.2,454.8L1512.8,453L1514.4,451.3L1516,449.6L1517.6,447.9L1519.3,446.2L1520.9,444.5L1522.5,442.8L1526.2,438.8L1530,435L1533.7,431.2L1537.5,427.5L1541.2,423.9L1545,420.4L1548.7,417L1552.5,413.7L1556.2,410.5L1560,407.4L1563.7,404.4L1567.4,401.5L1571.2,398.8L1574.9,396.1L1578.7,393.6L1582.4,391.1L1586.2,388.8L1589.9,386.6L1593.7,384.5L1597.4,382.4L1601.2,380.5L1604.9,378.7L1608.6,376.9L1612.4,375.2L1616.1,373.6L1619.9,372.1L1623.6,370.7L1627.4,369.3L1631.1,368L1634.9,366.8L1638.6,365.7L1642.4,364.6L1646.1,363.5L1649.9,362.5L1653.6,361.6L1657.3,360.7L1661.1,359.9L1664.8,359.1L1668.6,358.4L1672.3,357.7L1676.1,357L1679.8,356.4L1683.6,355.8L1687.3,355.2L1691.1,354.7L1694.8,354.2L1698.5,353.8L1702.3,353.3L1706,352.9L1709.8,352.5L1713.5,352.2L1717.3,351.8L1721,351.5L1724.8,351.2L1728.5,350.9L1732.3,350.6L1736,350.4L1739.8,350.1L1743.5,349.9L1743.5,71Z" fill="#ebd8e9" />
<path d="M1016.5,71L1016.5,345.6L1024.1,345.5L1031.7,345.4L1039.3,345.2L1046.9,345.1L1054.4,344.9L1062,344.7L1069.6,344.4L1077.2,344.2L1084.8,343.9L1092.4,343.6L1100,343.3L1107.6,342.9L1115.2,342.5L1122.8,341.9L1130.3,341.4L1137.9,340.7L1145.5,340L1153.1,339.2L1160.7,338.3L1168.3,337.3L1175.9,336.2L1183.5,335L1191.1,333.5L1198.7,331.9L1206.2,330.1L1213.8,328.2L1221.4,325.9L1229,323.4L1236.6,320.5L1244.2,317.4L1251.8,314L1259.4,310L1267,305.5L1274.6,300.5L1282.1,294.9L1289.7,288.6L1297.3,281.4L1304.9,273.6L1312.5,264.9L1320.1,254.8L1322,252.2L1323.8,249.5L1325.7,246.7L1327.6,243.9L1329.4,241L1331.3,237.9L1333.1,234.8L1335,231.6L1336.9,228.2L1338.7,224.8L1340.6,221.3L1342.5,217.7L1344.3,214.1L1346.2,210.3L1348.1,206.5L1349.9,202.6L1351.8,198.5L1353.6,194.3L1355.5,189.9L1357.4,185.4L1359.2,180.7L1361.1,176L1363,171.1L1364.8,166.1L1366.7,160.9L1368.6,155.5L1370.4,150L1372.3,144.4L1374.2,138.6L1376,132.7L1377.9,126.6L1379.7,120.4L1381.6,114L1383.5,107.3L1385.3,100.4L1387.2,93.4L1389.1,86.1L1390.9,78.6L1392.8,71L1392.8,71Z" fill="#ebe2d8" />
<path d="M1475.6,71L1475.6,71L1477.2,72.2L1478.8,84.5L1480.4,96.7L1482.1,109L1483.7,121.2L1485.3,133.5L1486.9,145.7L1488.5,158L1490.1,170.2L1491.8,182.4L1493.4,194.6L1495,206.6L1496.6,218.5L1498.2,230.4L1499.8,242.4L1501.4,254.4L1503.1,266.5L1504.7,278.8L1506.3,291.1L1507.9,303.5L1509.5,316.1L1511.1,328.8L1512.8,341.5L1514.4,354L1516,365.9L1517.6,376.9L1519.2,387.3L1520.8,396.9L1522.5,405.9L1524.1,414.2L1525.7,422L1527.3,429.2L1528.9,435.8L1530.5,441.9L1532.1,447.6L1533.8,452.8L1535.4,457.5L1537,461.8L1538.6,465.8L1540.2,469.4L1541.8,472.6L1543.5,475.4L1545.1,478L1546.7,480.3L1548.3,482.3L1549.9,484L1551.5,485.4L1553.1,486.7L1554.8,487.7L1556.4,488.5L1558,489.1L1559.6,489.5L1561.2,489.8L1562.8,489.8L1564.5,489.8L1566.1,489.5L1567.7,489.2L1569.3,488.7L1570.9,488.1L1572.5,487.4L1574.1,486.6L1575.8,485.7L1577.4,484.7L1579,483.7L1580.6,482.5L1582.2,481.3L1583.8,480.1L1585.5,478.7L1587.1,477.4L1588.7,475.9L1590.3,474.5L1591.9,472.9L1593.5,471.4L1595.2,469.8L1596.8,468.2L1598.4,466.6L1600,464.9L1601.6,463.3L1603.2,461.6L1604.8,459.9L1606.5,458.2L1608.1,456.5L1609.7,454.8L1611.3,453L1612.9,451.3L1614.5,449.6L1616.2,447.9L1617.8,446.2L1619.4,444.5L1621,442.8L1623.1,440.6L1625.2,438.4L1627.2,436.3L1629.3,434.2L1631.4,432.1L1633.5,430L1635.5,427.9L1637.6,425.9L1639.7,423.9L1641.8,422L1643.8,420L1645.9,418.1L1648,416.3L1650.1,414.4L1652.1,412.6L1654.2,410.9L1656.3,409.1L1658.4,407.4L1660.4,405.8L1662.5,404.1L1664.6,402.5L1666.7,401L1668.8,399.4L1670.8,397.9L1672.9,396.5L1675,395.1L1677.1,393.7L1679.1,392.3L1681.2,391L1683.3,389.7L1685.4,388.4L1687.4,387.2L1689.5,386L1691.6,384.8L1693.7,383.6L1695.7,382.5L1697.8,381.4L1699.9,380.4L1702,379.3L1704.1,378.3L1706.1,377.4L1708.2,376.4L1710.3,375.5L1712.4,374.6L1714.4,373.7L1716.5,372.9L1718.6,372.1L1720.7,371.3L1722.7,370.5L1724.8,369.7L1726.9,369L1729,368.3L1731,367.6L1733.1,366.9L1735.2,366.3L1737.3,365.6L1739.3,365L1741.4,364.4L1743.5,363.8L1743.5,71Z" fill="#ebe2d8" />
<path d="M1016.5,71L1016.5,346.3L1026.5,346.3L1036.4,346.2L1046.4,346.2L1056.4,346.2L1066.4,346.1L1076.3,346L1086.3,345.9L1096.3,345.8L1106.3,345.7L1116.2,345.6L1126.2,345.4L1136.2,345.2L1146.2,345L1156.1,344.7L1166.1,344.4L1176.1,344L1186.1,343.7L1196,343.2L1206,342.7L1216,342.1L1226,341.3L1235.9,340.5L1245.9,339.5L1255.9,338.3L1265.9,337L1275.8,335.5L1285.8,333.7L1295.8,331.5L1305.8,329.1L1315.7,326.3L1325.7,322.9L1335.7,319.1L1345.7,314.7L1355.6,309.5L1365.6,303.4L1375.6,296.4L1385.6,288.2L1395.5,278.6L1405.5,267.8L1415.5,254.8L1417.3,252.2L1419.2,249.5L1421.1,246.7L1422.9,243.9L1424.8,241L1426.7,237.9L1428.5,234.8L1430.4,231.6L1432.3,228.2L1434.1,224.8L1436,221.3L1437.8,217.7L1439.7,214.1L1441.6,210.3L1443.4,206.5L1445.3,202.6L1447.2,198.5L1449,194.3L1450.9,189.9L1452.8,185.4L1454.6,180.7L1456.5,176L1458.4,171.1L1460.2,166.1L1462.1,160.9L1463.9,155.5L1465.8,150L1467.7,144.4L1469.5,138.6L1471.4,132.7L1473.3,126.6L1475.1,120.4L1477,114L1478.9,107.3L1480.7,100.4L1482.6,93.4L1484.4,86.1L1486.3,78.6L1488.2,71L1488.2,71Z" fill="#d9ebd8" />
<path d="M1573.2,71L1573.2,71L1574.9,72.2L1576.5,84.5L1578.1,96.7L1579.7,109L1581.3,121.2L1582.9,133.5L1584.5,145.7L1586.2,158L1587.8,170.2L1589.4,182.4L1591,194.6L1592.6,206.6L1594.2,218.5L1595.9,230.4L1597.5,242.4L1599.1,254.4L1600.7,266.5L1602.3,278.8L1603.9,291.1L1605.5,303.5L1607.2,316.1L1608.8,328.8L1610.4,341.5L1612,354L1613.6,365.9L1615.2,376.9L1616.9,387.3L1618.5,396.9L1620.1,405.9L1621.7,414.2L1623.3,422L1624.9,429.2L1626.5,435.8L1628.2,441.9L1629.8,447.6L1631.4,452.8L1633,457.5L1634.6,461.8L1636.2,465.8L1637.9,469.4L1639.5,472.6L1641.1,475.4L1642.7,478L1644.3,480.3L1645.9,482.3L1647.6,484L1649.2,485.4L1650.8,486.7L1652.4,487.7L1654,488.5L1655.6,489.1L1657.2,489.5L1658.9,489.8L1660.5,489.8L1662.1,489.8L1663.7,489.5L1665.3,489.2L1666.9,488.7L1668.6,488.1L1670.2,487.4L1671.8,486.6L1673.4,485.7L1675,484.7L1676.6,483.7L1678.2,482.5L1679.9,481.3L1681.5,480.1L1683.1,478.7L1684.7,477.4L1686.3,475.9L1687.9,474.5L1689.6,472.9L1691.2,471.4L1692.8,469.8L1694.4,468.2L1696,466.6L1697.6,464.9L1699.2,463.3L1700.9,461.6L1702.5,459.9L1704.1,458.2L1705.7,456.5L1707.3,454.8L1708.9,453L1710.6,451.3L1712.2,449.6L1713.8,447.9L1715.4,446.2L1717,444.5L1718.6,442.8L1719.1,442.3L1719.5,441.9L1719.9,441.4L1720.3,441L1720.7,440.6L1721.2,440.1L1721.6,439.7L1722,439.2L1722.4,438.8L1722.9,438.4L1723.3,437.9L1723.7,437.5L1724.1,437.1L1724.5,436.6L1725,436.2L1725.4,435.8L1725.8,435.3L1726.2,434.9L1726.6,434.5L1727.1,434L1727.5,433.6L1727.9,433.2L1728.3,432.8L1728.8,432.3L1729.2,431.9L1729.6,431.5L1730,431.1L1730.4,430.6L1730.9,430.2L1731.3,429.8L1731.7,429.4L1732.1,429L1732.5,428.6L1733,428.2L1733.4,427.7L1733.8,427.3L1734.2,426.9L1734.7,426.5L1735.1,426.1L1735.5,425.7L1735.9,425.3L1736.3,424.9L1736.8,424.5L1737.2,424.1L1737.6,423.7L1738,423.3L1738.4,422.9L1738.9,422.5L1739.3,422.1L1739.7,421.7L1740.1,421.3L1740.6,420.9L1741,420.5L1741.4,420.1L1741.8,419.7L1742.2,419.3L1742.7,419L1743.1,418.6L1743.5,418.2L1743.5,71Z" fill="#d9ebd8" />
<path d="M1016.5,71L1016.5,346.5L1028.9,346.5L1041.2,346.5L1053.6,346.5L1065.9,346.4L1078.3,346.4L1090.7,346.4L1103,346.3L1115.4,346.3L1127.7,346.2L1140.1,346.2L1152.4,346.2L1164.8,346.1L1177.2,346L1189.5,345.8L1201.9,345.7L1214.2,345.5L1226.6,345.3L1239,345L1251.3,344.7L1263.7,344.3L1276,343.9L1288.4,343.4L1300.8,342.8L1313.1,342L1325.5,341L1337.8,339.9L1350.2,338.5L1362.6,336.8L1374.9,334.8L1387.3,332.4L1399.6,329.5L1412,326L1424.3,321.7L1436.7,316.7L1449.1,310.6L1461.4,303.1L1473.8,294.2L1486.1,283.3L1498.5,270.5L1510.9,254.8L1512.7,252.2L1514.6,249.5L1516.5,246.7L1518.3,243.9L1520.2,241L1522,237.9L1523.9,234.8L1525.8,231.6L1527.6,228.2L1529.5,224.8L1531.4,221.3L1533.2,217.7L1535.1,214.1L1537,210.3L1538.8,206.5L1540.7,202.6L1542.5,198.5L1544.4,194.3L1546.3,189.9L1548.1,185.4L1550,180.7L1551.9,176L1553.7,171.1L1555.6,166.1L1557.5,160.9L1559.3,155.5L1561.2,150L1563.1,144.4L1564.9,138.6L1566.8,132.7L1568.6,126.6L1570.5,120.4L1572.4,114L1574.2,107.3L1576.1,100.4L1578,93.4L1579.8,86.1L1581.7,78.6L1583.6,71L1583.6,71Z" fill="#d8e4eb" />
<path d="M1668.3,71L1668.3,71L1669.9,72.2L1671.5,84.5L1673.1,96.7L1674.7,109L1676.3,121.2L1677.9,133.5L1679.6,145.7L1681.2,158L1682.8,170.2L1684.4,182.4L1686,194.6L1687.6,206.6L1689.3,218.5L1690.9,230.4L1692.5,242.4L1694.1,254.4L1695.7,266.5L1697.3,278.8L1699,291.1L1700.6,303.5L1702.2,316.1L1703.8,328.8L1705.4,341.5L1707,354L1708.6,365.9L1710.3,376.9L1711.9,387.3L1713.5,396.9L1715.1,405.9L1716.7,414.2L1718.3,422L1720,429.2L1721.6,435.8L1723.2,441.9L1724.8,447.6L1726.4,452.8L1728,457.5L1729.6,461.8L1731.3,465.8L1732.9,469.4L1734.5,472.6L1736.1,475.4L1737.7,478L1739.3,480.3L1741,482.3L1742.6,484L1743.5,484.9L1743.5,71Z" fill="#d8e4eb" />
<path d="M1016.5,71L1016.5,346.5L1031.2,346.5L1045.9,346.5L1060.6,346.5L1075.2,346.5L1089.9,346.5L1104.6,346.5L1119.3,346.5L1134,346.5L1148.7,346.4L1163.4,346.4L1178,346.4L1192.7,346.3L1207.4,346.3L1222.1,346.2L1236.8,346.2L1251.5,346.1L1266.2,346L1280.8,345.9L1295.5,345.7L1310.2,345.5L1324.9,345.2L1339.6,344.9L1354.3,344.4L1368.9,343.9L1383.6,343.3L1398.3,342.5L1413,341.4L1427.7,340.2L1442.4,338.6L1457.1,336.6L1471.7,334.1L1486.4,331L1501.1,327.2L1515.8,322.3L1530.5,316.3L1545.2,308.9L1559.9,299.5L1574.5,287.7L1589.2,273.1L1603.9,254.8L1605.8,252.2L1607.6,249.5L1609.5,246.7L1611.4,243.9L1613.2,241L1615.1,237.9L1617,234.8L1618.8,231.6L1620.7,228.2L1622.6,224.8L1624.4,221.3L1626.3,217.7L1628.1,214.1L1630,210.3L1631.9,206.5L1633.7,202.6L1635.6,198.5L1637.5,194.3L1639.3,189.9L1641.2,185.4L1643.1,180.7L1644.9,176L1646.8,171.1L1648.7,166.1L1650.5,160.9L1652.4,155.5L1654.2,150L1656.1,144.4L1658,138.6L1659.8,132.7L1661.7,126.6L1663.6,120.4L1665.4,114L1667.3,107.3L1669.2,100.4L1671,93.4L1672.9,86.1L1674.8,78.6L1676.6,71L1676.6,71Z" fill="#e6d8eb" />
<path d="M1016.5,71L1016.5,346.5L1032.9,346.5L1049.2,346.5L1065.6,346.5L1081.9,346.5L1098.3,346.5L1114.6,346.5L1131,346.5L1147.4,346.5L1163.7,346.5L1180.1,346.5L1196.4,346.5L1212.8,346.5L1229.1,346.5L1245.5,346.5L1261.9,346.4L1278.2,346.4L1294.6,346.3L1310.9,346.3L1327.3,346.2L1343.7,346.2L1360,346L1376.4,345.9L1392.7,345.7L1409.1,345.5L1425.4,345.2L1441.8,344.8L1458.2,344.2L1474.5,343.6L1490.9,342.9L1507.2,341.8L1523.6,340.5L1539.9,338.7L1556.3,336.5L1572.7,333.7L1589,330.1L1605.4,325.5L1621.7,319.6L1638.1,312.1L1654.4,302.4L1670.8,290L1672.7,288.3L1674.5,286.7L1676.4,284.9L1678.3,283.2L1680.1,281.3L1682,279.5L1683.8,277.6L1685.7,275.6L1687.6,273.7L1689.4,271.6L1691.3,269.5L1693.2,267.3L1695,265.1L1696.9,262.7L1698.8,260.3L1700.6,257.8L1702.5,255.3L1704.4,252.6L1706.2,249.9L1708.1,247.2L1709.9,244.3L1711.8,241.4L1713.7,238.4L1715.5,235.3L1717.4,232.1L1719.3,228.8L1721.1,225.4L1723,221.9L1724.9,218.3L1726.7,214.7L1728.6,210.9L1730.5,207.1L1732.3,203.2L1734.2,199.1L1736,194.9L1737.9,190.6L1739.8,186.1L1741.6,181.5L1743.5,176.7L1743.5,71Z" fill="#ebdcd8" />
<path d="M1016.5,469.4L1018.1,467.8L1019.7,466.2L1021.3,464.5L1023,462.9L1024.6,461.2L1026.2,459.5L1027.8,457.8L1029.4,456.1L1031,454.3L1032.7,452.6L1034.3,450.9L1035.9,449.2L1037.5,447.5L1039.1,445.7L1040.7,444L1042.3,442.3L1044,440.6L1045.6,439L1047.2,437.3L1048.8,435.6L1050.4,434L1052,432.4L1053.7,430.7L1055.3,429.1L1056.9,427.5L1058.5,426L1060.1,424.4L1061.7,422.9L1063.4,421.4L1065,419.9L1066.6,418.4L1068.2,416.9L1069.8,415.5L1071.4,414.1L1073,412.7L1074.7,411.3L1076.3,409.9L1077.9,408.6L1079.5,407.3L1081.1,406L1082.7,404.7L1084.4,403.5L1086,402.2L1087.6,401L1089.2,399.8L1090.8,398.6L1092.4,397.5L1094,396.3L1095.7,395.2L1097.3,394.1L1098.9,393.1L1100.5,392L1102.1,391L1103.7,390L1105.4,389L1107,388L1108.6,387L1110.2,386.1L1111.8,385.2L1113.4,384.3L1115,383.4L1116.7,382.5L1118.3,381.7L1119.9,380.9L1121.5,380L1123.1,379.2L1124.7,378.5L1126.4,377.7L1128,377L1129.6,376.2L1131.2,375.5L1132.8,374.8L1134.4,374.1L1136.1,373.4L1137.7,372.8L1139.3,372.2L1140.9,371.5L1142.5,370.9L1144.1,370.3L1145.7,369.7L1147.4,369.2L1149,368.6L1150.6,368L1152.2,367.5L1153.8,367L1155.4,366.5L1157.1,366L1158.7,365.5L1160.3,365L1161.9,364.5L1171.8,361.9L1181.6,359.7L1191.5,357.7L1201.3,356.1L1211.2,354.6L1221,353.4L1230.9,352.4L1240.8,351.5L1250.6,350.7L1260.5,350.1L1270.3,349.5L1280.2,349.1L1290,348.7L1299.9,348.3L1309.8,348L1319.6,347.8L1329.5,347.6L1339.3,347.4L1349.2,347.3L1359.1,347.2L1368.9,347.1L1378.8,347L1388.6,346.9L1398.5,346.9L1408.3,346.8L1418.2,346.8L1428.1,346.7L1437.9,346.7L1447.8,346.7L1457.6,346.7L1467.5,346.6L1477.3,346.6L1487.2,346.6L1497.1,346.6L1506.9,346.6L1516.8,346.6L1526.6,346.6L1536.5,346.6L1546.3,346.6L1556.2,346.6L1566.1,346.6L1575.9,346.6L1585.8,346.6L1595.6,346.6L1605.5,346.6L1615.4,346.6L1625.2,346.6L1635.1,346.6L1644.9,346.6L1654.8,346.6L1664.6,346.6L1674.5,346.6L1684.4,346.6L1694.2,346.6L1704.1,346.6L1713.9,346.6L1723.8,346.6L1733.6,346.6L1743.5,346.6" fill="none" stroke="#ff0000" stroke-width="3.1" stroke-dasharray="27.5 22.5" stroke-dashoffset="8"/>
<path d="M1016.5,267.5L1018.1,282.9L1019.7,298.7L1021.3,314.7L1023,331L1024.6,347.4L1026.2,363.1L1027.8,377.8L1029.4,391.4L1031,404L1032.7,415.6L1034.3,426.4L1035.9,436.3L1037.5,445.3L1039.1,453.7L1040.7,461.3L1042.3,468.2L1044,474.5L1045.6,480.2L1047.2,485.4L1048.8,490L1050.4,494.1L1052,497.7L1053.7,500.9L1055.3,503.7L1056.9,506L1058.5,508L1060.1,509.7L1061.7,511.1L1063.4,512.1L1065,512.9L1066.6,513.4L1068.2,513.6L1069.8,513.7L1071.4,513.5L1073,513.1L1074.7,512.5L1076.3,511.8L1077.9,510.9L1079.5,509.9L1081.1,508.7L1082.7,507.4L1084.4,506L1086,504.5L1087.6,502.9L1089.2,501.2L1090.8,499.4L1092.4,497.6L1094,495.7L1095.7,493.8L1097.3,491.8L1098.9,489.7L1100.5,487.6L1102.1,485.5L1103.7,483.4L1105.4,481.2L1107,479L1108.6,476.8L1110.2,474.6L1111.8,472.4L1113.4,470.2L1115,468L1116.7,465.7L1118.3,463.5L1119.9,461.3L1121.5,459.1L1123.1,456.9L1124.7,454.8L1126.4,452.6L1128,450.5L1129.6,448.3L1131.2,446.2L1132.8,444.2L1134.4,442.1L1136.1,440.1L1137.7,438L1139.3,436.1L1140.9,434.1L1142.5,432.2L1144.1,430.3L1145.7,428.4L1147.4,426.5L1149,424.7L1150.6,422.9L1152.2,421.1L1153.8,419.4L1155.4,417.7L1157.1,416L1158.7,414.4L1160.3,412.7L1161.9,411.2L1171.8,402.1L1181.6,394.1L1191.5,387.1L1201.3,381L1211.2,375.7L1221,371.2L1230.9,367.3L1240.8,364L1250.6,361.2L1260.5,358.8L1270.3,356.8L1280.2,355.1L1290,353.7L1299.9,352.5L1309.8,351.5L1319.6,350.6L1329.5,349.9L1339.3,349.3L1349.2,348.9L1359.1,348.5L1368.9,348.1L1378.8,347.9L1388.6,347.6L1398.5,347.4L1408.3,347.3L1418.2,347.1L1428.1,347L1437.9,347L1447.8,346.9L1457.6,346.8L1467.5,346.8L1477.3,346.7L1487.2,346.7L1497.1,346.7L1506.9,346.7L1516.8,346.6L1526.6,346.6L1536.5,346.6L1546.3,346.6L1556.2,346.6L1566.1,346.6L1575.9,346.6L1585.8,346.6L1595.6,346.6L1605.5,346.6L1615.4,346.6L1625.2,346.6L1635.1,346.6L1644.9,346.6L1654.8,346.6L1664.6,346.6L1674.5,346.6L1684.4,346.6L1694.2,346.6L1704.1,346.6L1713.9,346.6L1723.8,346.6L1733.6,346.6L1743.5,346.6" fill="none" stroke="#000000" stroke-width="3.0"/>
<path d="M1090.7,58.8L1092.3,72.4L1093.9,86L1095.5,99.6L1097.1,113.2L1098.7,126.8L1100.3,140.4L1102,154L1103.6,167.6L1105.2,180.6L1106.8,193.2L1108.4,205.7L1110,218.1L1111.7,230.6L1113.3,243.5L1114.9,256.7L1116.5,270.3L1118.1,284.4L1119.7,298.9L1121.3,313.7L1123,328.9L1124.6,344.2L1126.2,359.2L1127.8,373.2L1129.4,386.1L1131,398L1132.7,409.1L1134.3,419.3L1135.9,428.7L1137.5,437.3L1139.1,445.2L1140.7,452.4L1142.4,459L1144,464.9L1145.6,470.3L1147.2,475.2L1148.8,479.5L1150.4,483.4L1152,486.8L1153.7,489.9L1155.3,492.5L1156.9,494.7L1158.5,496.6L1160.1,498.2L1161.7,499.4L1163.4,500.4L1165,501.1L1166.6,501.6L1168.2,501.8L1169.8,501.8L1171.4,501.7L1173,501.3L1174.7,500.8L1176.3,500.1L1177.9,499.2L1179.5,498.2L1181.1,497.1L1182.7,495.9L1184.4,494.6L1186,493.1L1187.6,491.6L1189.2,490L1190.8,488.4L1192.4,486.7L1194,484.9L1195.7,483L1197.3,481.1L1198.9,479.2L1200.5,477.3L1202.1,475.3L1203.7,473.3L1205.4,471.2L1207,469.2L1208.6,467.1L1210.2,465L1211.8,463L1213.4,460.9L1215.1,458.8L1216.7,456.7L1218.3,454.6L1219.9,452.6L1221.5,450.5L1223.1,448.5L1224.7,446.4L1226.4,444.4L1228,442.4L1229.6,440.4L1231.2,438.5L1232.8,436.5L1234.4,434.6L1236.1,432.7L1244.7,423L1253.3,414L1261.9,405.9L1270.5,398.5L1279.1,391.8L1287.7,385.9L1296.3,380.7L1304.9,376.1L1313.5,372L1322.1,368.5L1330.7,365.4L1339.3,362.7L1347.9,360.4L1356.5,358.4L1365.1,356.7L1373.7,355.2L1382.3,353.9L1390.9,352.8L1399.5,351.9L1408.1,351.1L1416.7,350.4L1425.3,349.8L1433.9,349.3L1442.5,348.9L1451.1,348.5L1459.7,348.2L1468.3,348L1476.9,347.7L1485.5,347.6L1494.1,347.4L1502.7,347.3L1511.3,347.2L1519.9,347.1L1528.5,347L1537.1,346.9L1545.7,346.9L1554.3,346.8L1562.9,346.8L1571.5,346.7L1580.1,346.7L1588.7,346.7L1597.3,346.7L1605.9,346.6L1614.5,346.6L1623.1,346.6L1631.7,346.6L1640.3,346.6L1648.9,346.6L1657.5,346.6L1666.1,346.6L1674.7,346.6L1683.3,346.6L1691.9,346.6L1700.5,346.6L1709.1,346.6L1717.7,346.6L1726.3,346.6L1734.9,346.6L1743.5,346.6" fill="none" stroke="#00ff00" stroke-width="3.1" stroke-dasharray="27.5 22.5" stroke-dashoffset="8"/>
<path d="M1016.5,266.3L1016.7,266L1016.9,265.7L1017.2,265.5L1017.4,265.2L1017.6,264.9L1017.8,264.6L1018,264.4L1018.2,264.1L1018.5,263.8L1018.7,263.6L1018.9,263.3L1019.1,263L1019.3,262.7L1019.6,262.4L1019.8,262.2L1020,261.9L1020.2,261.6L1020.4,261.3L1020.6,261L1020.9,260.7L1021.1,260.5L1021.3,260.2L1021.5,259.9L1021.7,259.6L1022,259.3L1022.2,259L1022.4,258.7L1022.6,258.4L1022.8,258.1L1023,257.8L1023.3,257.5L1023.5,257.2L1023.7,257L1023.9,256.7L1024.1,256.4L1024.4,256.1L1024.6,255.7L1024.8,255.4L1025,255.1L1025.2,254.8L1027.1,252.2L1029,249.5L1030.8,246.7L1032.7,243.9L1034.5,241L1036.4,237.9L1038.3,234.8L1040.1,231.6L1042,228.2L1043.9,224.8L1045.7,221.3L1047.6,217.7L1049.5,214.1L1051.3,210.3L1053.2,206.5L1055,202.6L1056.9,198.5L1058.8,194.3L1060.6,189.9L1062.5,185.4L1064.4,180.7L1066.2,176L1068.1,171.1L1070,166.1L1071.8,160.9L1073.7,155.5L1075.6,150L1077.4,144.4L1079.3,138.6L1081.1,132.7L1083,126.6L1084.9,120.4L1086.7,114L1088.6,107.3L1090.5,100.4L1092.3,93.4L1094.2,86.1L1096.1,78.6L1097.9,71" fill="none" stroke="#ff8080" stroke-width="2.4"/>
<path d="M1183.7,60L1185.3,72.2L1186.9,84.5L1188.6,96.7L1190.2,109L1191.8,121.2L1193.4,133.5L1195,145.7L1196.6,158L1198.2,170.2L1199.9,182.4L1201.5,194.3L1203.1,205.8L1204.7,217L1206.3,228.2L1207.9,239.4L1209.6,250.9L1211.2,262.7L1212.8,274.9L1214.4,287.4L1216,300.4L1217.6,313.7L1219.3,327.3L1220.9,341L1222.5,354.7L1224.1,367.5L1225.7,379.4L1227.3,390.5L1228.9,400.8L1230.6,410.4L1232.2,419.3L1233.8,427.4L1235.4,435L1237,441.9L1238.6,448.3L1240.3,454.1L1241.9,459.4L1243.5,464.3L1245.1,468.6L1246.7,472.6L1248.3,476.1L1249.9,479.3L1251.6,482.1L1253.2,484.5L1254.8,486.7L1256.4,488.5L1258,490L1259.6,491.3L1261.3,492.3L1262.9,493.1L1264.5,493.7L1266.1,494L1267.7,494.2L1269.3,494.2L1271,494L1272.6,493.7L1274.2,493.2L1275.8,492.6L1277.4,491.8L1279,491L1280.6,490L1282.3,488.9L1283.9,487.8L1285.5,486.5L1287.1,485.2L1288.7,483.8L1290.3,482.4L1292,480.8L1293.6,479.3L1295.2,477.6L1296.8,476L1298.4,474.3L1300,472.6L1301.6,470.8L1303.3,469L1304.9,467.2L1306.5,465.4L1308.1,463.5L1309.7,461.7L1311.3,459.8L1313,457.9L1314.6,456.1L1316.2,454.2L1317.8,452.3L1319.4,450.5L1321,448.6L1322.6,446.8L1324.3,444.9L1325.9,443.1L1327.5,441.2L1329.1,439.4L1336.1,431.7L1343.2,424.4L1350.2,417.4L1357.2,410.9L1364.2,404.8L1371.3,399.2L1378.3,394L1385.3,389.2L1392.3,384.9L1399.3,380.9L1406.4,377.3L1413.4,374L1420.4,371.1L1427.4,368.4L1434.5,366L1441.5,363.8L1448.5,361.9L1455.5,360.2L1462.6,358.6L1469.6,357.3L1476.6,356L1483.6,354.9L1490.7,354L1497.7,353.1L1504.7,352.3L1511.7,351.7L1518.7,351.1L1525.8,350.5L1532.8,350L1539.8,349.6L1546.8,349.3L1553.9,348.9L1560.9,348.6L1567.9,348.4L1574.9,348.2L1582,348L1589,347.8L1596,347.6L1603,347.5L1610.1,347.4L1617.1,347.3L1624.1,347.2L1631.1,347.1L1638.1,347L1645.2,347L1652.2,346.9L1659.2,346.9L1666.2,346.8L1673.3,346.8L1680.3,346.8L1687.3,346.7L1694.3,346.7L1701.4,346.7L1708.4,346.7L1715.4,346.7L1722.4,346.6L1729.5,346.6L1736.5,346.6L1743.5,346.6" fill="none" stroke="#ff8080" stroke-width="2.4"/>
<path d="M1016.5,327.3L1019.1,326.6L1021.7,325.8L1024.2,324.9L1026.8,324L1029.4,323.1L1032,322.2L1034.6,321.2L1037.1,320.2L1039.7,319.1L1042.3,318.1L1044.9,317L1047.5,315.8L1050.1,314.6L1052.6,313.4L1055.2,312.1L1057.8,310.7L1060.4,309.2L1063,307.7L1065.5,306.2L1068.1,304.5L1070.7,302.8L1073.3,301.1L1075.9,299.3L1078.4,297.5L1081,295.5L1083.6,293.5L1086.2,291.3L1088.8,289.1L1091.3,286.8L1093.9,284.4L1096.5,281.9L1099.1,279.3L1101.7,276.7L1104.2,274L1106.8,271.1L1109.4,268.2L1112,265.1L1114.6,261.8L1117.2,258.4L1119.7,254.8L1121.6,252.2L1123.5,249.5L1125.3,246.7L1127.2,243.9L1129.1,241L1130.9,237.9L1132.8,234.8L1134.6,231.6L1136.5,228.2L1138.4,224.8L1140.2,221.3L1142.1,217.7L1144,214.1L1145.8,210.3L1147.7,206.5L1149.6,202.6L1151.4,198.5L1153.3,194.3L1155.2,189.9L1157,185.4L1158.9,180.7L1160.7,176L1162.6,171.1L1164.5,166.1L1166.3,160.9L1168.2,155.5L1170.1,150L1171.9,144.4L1173.8,138.6L1175.7,132.7L1177.5,126.6L1179.4,120.4L1181.2,114L1183.1,107.3L1185,100.4L1186.8,93.4L1188.7,86.1L1190.6,78.6L1192.4,71" fill="none" stroke="#0000ff" stroke-width="3.1" stroke-dasharray="27.5 22.5" stroke-dashoffset="8"/>
<path d="M1278.9,60L1280.6,72.2L1282.2,84.5L1283.8,96.7L1285.4,109L1287,121.2L1288.6,133.5L1290.3,145.7L1291.9,158L1293.5,170.2L1295.1,182.4L1296.7,194.6L1298.3,206.6L1299.9,218.5L1301.6,230.4L1303.2,242.4L1304.8,254.4L1306.4,266.5L1308,278.8L1309.6,291.1L1311.3,303.5L1312.9,316.1L1314.5,328.8L1316.1,341.5L1317.7,354L1319.3,365.9L1321,376.9L1322.6,387.3L1324.2,396.9L1325.8,405.9L1327.4,414.2L1329,422L1330.6,429.2L1332.3,435.8L1333.9,441.9L1335.5,447.6L1337.1,452.8L1338.7,457.5L1340.3,461.8L1342,465.8L1343.6,469.4L1345.2,472.6L1346.8,475.4L1348.4,478L1350,480.3L1351.6,482.3L1353.3,484L1354.9,485.4L1356.5,486.7L1358.1,487.7L1359.7,488.5L1361.3,489.1L1363,489.5L1364.6,489.8L1366.2,489.8L1367.8,489.8L1369.4,489.5L1371,489.2L1372.6,488.7L1374.3,488.1L1375.9,487.4L1377.5,486.6L1379.1,485.7L1380.7,484.7L1382.3,483.7L1384,482.5L1385.6,481.3L1387.2,480.1L1388.8,478.7L1390.4,477.4L1392,475.9L1393.7,474.5L1395.3,472.9L1396.9,471.4L1398.5,469.8L1400.1,468.2L1401.7,466.6L1403.3,464.9L1405,463.3L1406.6,461.6L1408.2,459.9L1409.8,458.2L1411.4,456.5L1413,454.8L1414.7,453L1416.3,451.3L1417.9,449.6L1419.5,447.9L1421.1,446.2L1422.7,444.5L1424.3,442.8L1429.8,437.1L1435.2,431.6L1440.6,426.3L1446,421.2L1451.4,416.2L1456.8,411.5L1462.2,407L1467.6,402.8L1473,398.8L1478.4,395L1483.9,391.4L1489.3,388.1L1494.7,384.9L1500.1,382L1505.5,379.3L1510.9,376.7L1516.3,374.3L1521.7,372.1L1527.1,370.1L1532.5,368.2L1537.9,366.4L1543.4,364.8L1548.8,363.3L1554.2,361.9L1559.6,360.6L1565,359.5L1570.4,358.4L1575.8,357.4L1581.2,356.5L1586.6,355.6L1592,354.8L1597.4,354.1L1602.9,353.5L1608.3,352.9L1613.7,352.3L1619.1,351.8L1624.5,351.4L1629.9,350.9L1635.3,350.5L1640.7,350.2L1646.1,349.9L1651.5,349.6L1657,349.3L1662.4,349.1L1667.8,348.8L1673.2,348.6L1678.6,348.4L1684,348.3L1689.4,348.1L1694.8,348L1700.2,347.8L1705.6,347.7L1711,347.6L1716.5,347.5L1721.9,347.4L1727.3,347.4L1732.7,347.3L1738.1,347.2L1743.5,347.2" fill="none" stroke="#0000ff" stroke-width="3.1" stroke-dasharray="27.5 22.5" stroke-dashoffset="8"/>
<path d="M1016.5,342.4L1021.6,342.1L1026.7,341.7L1031.8,341.3L1036.9,340.9L1042,340.4L1047.1,339.9L1052.3,339.4L1057.4,338.8L1062.5,338.2L1067.6,337.5L1072.7,336.8L1077.8,336L1082.9,335.2L1088,334.3L1093.1,333.3L1098.2,332.2L1103.3,331L1108.4,329.8L1113.5,328.5L1118.6,327L1123.8,325.4L1128.9,323.7L1134,321.8L1139.1,319.8L1144.2,317.7L1149.3,315.5L1154.4,313L1159.5,310.3L1164.6,307.4L1169.7,304.2L1174.8,300.8L1179.9,297.1L1185,293.1L1190.1,288.8L1195.3,284.1L1200.4,279.1L1205.5,273.8L1210.6,268L1215.7,261.7L1220.8,254.8L1222.7,252.2L1224.5,249.5L1226.4,246.7L1228.2,243.9L1230.1,241L1232,237.9L1233.8,234.8L1235.7,231.6L1237.6,228.2L1239.4,224.8L1241.3,221.3L1243.2,217.7L1245,214.1L1246.9,210.3L1248.7,206.5L1250.6,202.6L1252.5,198.5L1254.3,194.3L1256.2,189.9L1258.1,185.4L1259.9,180.7L1261.8,176L1263.7,171.1L1265.5,166.1L1267.4,160.9L1269.3,155.5L1271.1,150L1273,144.4L1274.8,138.6L1276.7,132.7L1278.6,126.6L1280.4,120.4L1282.3,114L1284.2,107.3L1286,100.4L1287.9,93.4L1289.8,86.1L1291.6,78.6L1293.5,71" fill="none" stroke="#ff0000" stroke-width="3.1" stroke-dasharray="27.5 22.5" stroke-dashoffset="8"/>
<path d="M1377.1,60L1378.7,72.2L1380.3,84.5L1381.9,96.7L1383.6,109L1385.2,121.2L1386.8,133.5L1388.4,145.7L1390,158L1391.6,170.2L1393.2,182.4L1394.9,194.6L1396.5,206.6L1398.1,218.5L1399.7,230.4L1401.3,242.4L1402.9,254.4L1404.6,266.5L1406.2,278.8L1407.8,291.1L1409.4,303.5L1411,316.1L1412.6,328.8L1414.2,341.5L1415.9,354L1417.5,365.9L1419.1,376.9L1420.7,387.3L1422.3,396.9L1423.9,405.9L1425.6,414.2L1427.2,422L1428.8,429.2L1430.4,435.8L1432,441.9L1433.6,447.6L1435.3,452.8L1436.9,457.5L1438.5,461.8L1440.1,465.8L1441.7,469.4L1443.3,472.6L1444.9,475.4L1446.6,478L1448.2,480.3L1449.8,482.3L1451.4,484L1453,485.4L1454.6,486.7L1456.3,487.7L1457.9,488.5L1459.5,489.1L1461.1,489.5L1462.7,489.8L1464.3,489.8L1465.9,489.8L1467.6,489.5L1469.2,489.2L1470.8,488.7L1472.4,488.1L1474,487.4L1475.6,486.6L1477.3,485.7L1478.9,484.7L1480.5,483.7L1482.1,482.5L1483.7,481.3L1485.3,480.1L1486.9,478.7L1488.6,477.4L1490.2,475.9L1491.8,474.5L1493.4,472.9L1495,471.4L1496.6,469.8L1498.3,468.2L1499.9,466.6L1501.5,464.9L1503.1,463.3L1504.7,461.6L1506.3,459.9L1508,458.2L1509.6,456.5L1511.2,454.8L1512.8,453L1514.4,451.3L1516,449.6L1517.6,447.9L1519.3,446.2L1520.9,444.5L1522.5,442.8L1526.2,438.8L1530,435L1533.7,431.2L1537.5,427.5L1541.2,423.9L1545,420.4L1548.7,417L1552.5,413.7L1556.2,410.5L1560,407.4L1563.7,404.4L1567.4,401.5L1571.2,398.8L1574.9,396.1L1578.7,393.6L1582.4,391.1L1586.2,388.8L1589.9,386.6L1593.7,384.5L1597.4,382.4L1601.2,380.5L1604.9,378.7L1608.6,376.9L1612.4,375.2L1616.1,373.6L1619.9,372.1L1623.6,370.7L1627.4,369.3L1631.1,368L1634.9,366.8L1638.6,365.7L1642.4,364.6L1646.1,363.5L1649.9,362.5L1653.6,361.6L1657.3,360.7L1661.1,359.9L1664.8,359.1L1668.6,358.4L1672.3,357.7L1676.1,357L1679.8,356.4L1683.6,355.8L1687.3,355.2L1691.1,354.7L1694.8,354.2L1698.5,353.8L1702.3,353.3L1706,352.9L1709.8,352.5L1713.5,352.2L1717.3,351.8L1721,351.5L1724.8,351.2L1728.5,350.9L1732.3,350.6L1736,350.4L1739.8,350.1L1743.5,349.9" fill="none" stroke="#ff0000" stroke-width="3.1" stroke-dasharray="27.5 22.5" stroke-dashoffset="8"/>
<path d="M1016.5,345.6L1024.1,345.5L1031.7,345.4L1039.3,345.2L1046.9,345.1L1054.4,344.9L1062,344.7L1069.6,344.4L1077.2,344.2L1084.8,343.9L1092.4,343.6L1100,343.3L1107.6,342.9L1115.2,342.5L1122.8,341.9L1130.3,341.4L1137.9,340.7L1145.5,340L1153.1,339.2L1160.7,338.3L1168.3,337.3L1175.9,336.2L1183.5,335L1191.1,333.5L1198.7,331.9L1206.2,330.1L1213.8,328.2L1221.4,325.9L1229,323.4L1236.6,320.5L1244.2,317.4L1251.8,314L1259.4,310L1267,305.5L1274.6,300.5L1282.1,294.9L1289.7,288.6L1297.3,281.4L1304.9,273.6L1312.5,264.9L1320.1,254.8L1322,252.2L1323.8,249.5L1325.7,246.7L1327.6,243.9L1329.4,241L1331.3,237.9L1333.1,234.8L1335,231.6L1336.9,228.2L1338.7,224.8L1340.6,221.3L1342.5,217.7L1344.3,214.1L1346.2,210.3L1348.1,206.5L1349.9,202.6L1351.8,198.5L1353.6,194.3L1355.5,189.9L1357.4,185.4L1359.2,180.7L1361.1,176L1363,171.1L1364.8,166.1L1366.7,160.9L1368.6,155.5L1370.4,150L1372.3,144.4L1374.2,138.6L1376,132.7L1377.9,126.6L1379.7,120.4L1381.6,114L1383.5,107.3L1385.3,100.4L1387.2,93.4L1389.1,86.1L1390.9,78.6L1392.8,71" fill="none" stroke="#000000" stroke-width="3.0"/>
<path d="M1475.6,60L1477.2,72.2L1478.8,84.5L1480.4,96.7L1482.1,109L1483.7,121.2L1485.3,133.5L1486.9,145.7L1488.5,158L1490.1,170.2L1491.8,182.4L1493.4,194.6L1495,206.6L1496.6,218.5L1498.2,230.4L1499.8,242.4L1501.4,254.4L1503.1,266.5L1504.7,278.8L1506.3,291.1L1507.9,303.5L1509.5,316.1L1511.1,328.8L1512.8,341.5L1514.4,354L1516,365.9L1517.6,376.9L1519.2,387.3L1520.8,396.9L1522.5,405.9L1524.1,414.2L1525.7,422L1527.3,429.2L1528.9,435.8L1530.5,441.9L1532.1,447.6L1533.8,452.8L1535.4,457.5L1537,461.8L1538.6,465.8L1540.2,469.4L1541.8,472.6L1543.5,475.4L1545.1,478L1546.7,480.3L1548.3,482.3L1549.9,484L1551.5,485.4L1553.1,486.7L1554.8,487.7L1556.4,488.5L1558,489.1L1559.6,489.5L1561.2,489.8L1562.8,489.8L1564.5,489.8L1566.1,489.5L1567.7,489.2L1569.3,488.7L1570.9,488.1L1572.5,487.4L1574.1,486.6L1575.8,485.7L1577.4,484.7L1579,483.7L1580.6,482.5L1582.2,481.3L1583.8,480.1L1585.5,478.7L1587.1,477.4L1588.7,475.9L1590.3,474.5L1591.9,472.9L1593.5,471.4L1595.2,469.8L1596.8,468.2L1598.4,466.6L1600,464.9L1601.6,463.3L1603.2,461.6L1604.8,459.9L1606.5,458.2L1608.1,456.5L1609.7,454.8L1611.3,453L1612.9,451.3L1614.5,449.6L1616.2,447.9L1617.8,446.2L1619.4,444.5L1621,442.8L1623.1,440.6L1625.2,438.4L1627.2,436.3L1629.3,434.2L1631.4,432.1L1633.5,430L1635.5,427.9L1637.6,425.9L1639.7,423.9L1641.8,422L1643.8,420L1645.9,418.1L1648,416.3L1650.1,414.4L1652.1,412.6L1654.2,410.9L1656.3,409.1L1658.4,407.4L1660.4,405.8L1662.5,404.1L1664.6,402.5L1666.7,401L1668.8,399.4L1670.8,397.9L1672.9,396.5L1675,395.1L1677.1,393.7L1679.1,392.3L1681.2,391L1683.3,389.7L1685.4,388.4L1687.4,387.2L1689.5,386L1691.6,384.8L1693.7,383.6L1695.7,382.5L1697.8,381.4L1699.9,380.4L1702,379.3L1704.1,378.3L1706.1,377.4L1708.2,376.4L1710.3,375.5L1712.4,374.6L1714.4,373.7L1716.5,372.9L1718.6,372.1L1720.7,371.3L1722.7,370.5L1724.8,369.7L1726.9,369L1729,368.3L1731,367.6L1733.1,366.9L1735.2,366.3L1737.3,365.6L1739.3,365L1741.4,364.4L1743.5,363.8" fill="none" stroke="#000000" stroke-width="3.0"/>
<path d="M1016.5,346.3L1026.5,346.3L1036.4,346.2L1046.4,346.2L1056.4,346.2L1066.4,346.1L1076.3,346L1086.3,345.9L1096.3,345.8L1106.3,345.7L1116.2,345.6L1126.2,345.4L1136.2,345.2L1146.2,345L1156.1,344.7L1166.1,344.4L1176.1,344L1186.1,343.7L1196,343.2L1206,342.7L1216,342.1L1226,341.3L1235.9,340.5L1245.9,339.5L1255.9,338.3L1265.9,337L1275.8,335.5L1285.8,333.7L1295.8,331.5L1305.8,329.1L1315.7,326.3L1325.7,322.9L1335.7,319.1L1345.7,314.7L1355.6,309.5L1365.6,303.4L1375.6,296.4L1385.6,288.2L1395.5,278.6L1405.5,267.8L1415.5,254.8L1417.3,252.2L1419.2,249.5L1421.1,246.7L1422.9,243.9L1424.8,241L1426.7,237.9L1428.5,234.8L1430.4,231.6L1432.3,228.2L1434.1,224.8L1436,221.3L1437.8,217.7L1439.7,214.1L1441.6,210.3L1443.4,206.5L1445.3,202.6L1447.2,198.5L1449,194.3L1450.9,189.9L1452.8,185.4L1454.6,180.7L1456.5,176L1458.4,171.1L1460.2,166.1L1462.1,160.9L1463.9,155.5L1465.8,150L1467.7,144.4L1469.5,138.6L1471.4,132.7L1473.3,126.6L1475.1,120.4L1477,114L1478.9,107.3L1480.7,100.4L1482.6,93.4L1484.4,86.1L1486.3,78.6L1488.2,71" fill="none" stroke="#00ff00" stroke-width="3.1" stroke-dasharray="27.5 22.5" stroke-dashoffset="8"/>
<path d="M1573.2,60L1574.9,72.2L1576.5,84.5L1578.1,96.7L1579.7,109L1581.3,121.2L1582.9,133.5L1584.5,145.7L1586.2,158L1587.8,170.2L1589.4,182.4L1591,194.6L1592.6,206.6L1594.2,218.5L1595.9,230.4L1597.5,242.4L1599.1,254.4L1600.7,266.5L1602.3,278.8L1603.9,291.1L1605.5,303.5L1607.2,316.1L1608.8,328.8L1610.4,341.5L1612,354L1613.6,365.9L1615.2,376.9L1616.9,387.3L1618.5,396.9L1620.1,405.9L1621.7,414.2L1623.3,422L1624.9,429.2L1626.5,435.8L1628.2,441.9L1629.8,447.6L1631.4,452.8L1633,457.5L1634.6,461.8L1636.2,465.8L1637.9,469.4L1639.5,472.6L1641.1,475.4L1642.7,478L1644.3,480.3L1645.9,482.3L1647.6,484L1649.2,485.4L1650.8,486.7L1652.4,487.7L1654,488.5L1655.6,489.1L1657.2,489.5L1658.9,489.8L1660.5,489.8L1662.1,489.8L1663.7,489.5L1665.3,489.2L1666.9,488.7L1668.6,488.1L1670.2,487.4L1671.8,486.6L1673.4,485.7L1675,484.7L1676.6,483.7L1678.2,482.5L1679.9,481.3L1681.5,480.1L1683.1,478.7L1684.7,477.4L1686.3,475.9L1687.9,474.5L1689.6,472.9L1691.2,471.4L1692.8,469.8L1694.4,468.2L1696,466.6L1697.6,464.9L1699.2,463.3L1700.9,461.6L1702.5,459.9L1704.1,458.2L1705.7,456.5L1707.3,454.8L1708.9,453L1710.6,451.3L1712.2,449.6L1713.8,447.9L1715.4,446.2L1717,444.5L1718.6,442.8L1719.1,442.3L1719.5,441.9L1719.9,441.4L1720.3,441L1720.7,440.6L1721.2,440.1L1721.6,439.7L1722,439.2L1722.4,438.8L1722.9,438.4L1723.3,437.9L1723.7,437.5L1724.1,437.1L1724.5,436.6L1725,436.2L1725.4,435.8L1725.8,435.3L1726.2,434.9L1726.6,434.5L1727.1,434L1727.5,433.6L1727.9,433.2L1728.3,432.8L1728.8,432.3L1729.2,431.9L1729.6,431.5L1730,431.1L1730.4,430.6L1730.9,430.2L1731.3,429.8L1731.7,429.4L1732.1,429L1732.5,428.6L1733,428.2L1733.4,427.7L1733.8,427.3L1734.2,426.9L1734.7,426.5L1735.1,426.1L1735.5,425.7L1735.9,425.3L1736.3,424.9L1736.8,424.5L1737.2,424.1L1737.6,423.7L1738,423.3L1738.4,422.9L1738.9,422.5L1739.3,422.1L1739.7,421.7L1740.1,421.3L1740.6,420.9L1741,420.5L1741.4,420.1L1741.8,419.7L1742.2,419.3L1742.7,419L1743.1,418.6L1743.5,418.2" fill="none" stroke="#00ff00" stroke-width="3.1" stroke-dasharray="27.5 22.5" stroke-dashoffset="8"/>
<path d="M1016.5,346.5L1028.9,346.5L1041.2,346.5L1053.6,346.5L1065.9,346.4L1078.3,346.4L1090.7,346.4L1103,346.3L1115.4,346.3L1127.7,346.2L1140.1,346.2L1152.4,346.2L1164.8,346.1L1177.2,346L1189.5,345.8L1201.9,345.7L1214.2,345.5L1226.6,345.3L1239,345L1251.3,344.7L1263.7,344.3L1276,343.9L1288.4,343.4L1300.8,342.8L1313.1,342L1325.5,341L1337.8,339.9L1350.2,338.5L1362.6,336.8L1374.9,334.8L1387.3,332.4L1399.6,329.5L1412,326L1424.3,321.7L1436.7,316.7L1449.1,310.6L1461.4,303.1L1473.8,294.2L1486.1,283.3L1498.5,270.5L1510.9,254.8L1512.7,252.2L1514.6,249.5L1516.5,246.7L1518.3,243.9L1520.2,241L1522,237.9L1523.9,234.8L1525.8,231.6L1527.6,228.2L1529.5,224.8L1531.4,221.3L1533.2,217.7L1535.1,214.1L1537,210.3L1538.8,206.5L1540.7,202.6L1542.5,198.5L1544.4,194.3L1546.3,189.9L1548.1,185.4L1550,180.7L1551.9,176L1553.7,171.1L1555.6,166.1L1557.5,160.9L1559.3,155.5L1561.2,150L1563.1,144.4L1564.9,138.6L1566.8,132.7L1568.6,126.6L1570.5,120.4L1572.4,114L1574.2,107.3L1576.1,100.4L1578,93.4L1579.8,86.1L1581.7,78.6L1583.6,71" fill="none" stroke="#ff8080" stroke-width="2.4"/>
<path d="M1668.3,60L1669.9,72.2L1671.5,84.5L1673.1,96.7L1674.7,109L1676.3,121.2L1677.9,133.5L1679.6,145.7L1681.2,158L1682.8,170.2L1684.4,182.4L1686,194.6L1687.6,206.6L1689.3,218.5L1690.9,230.4L1692.5,242.4L1694.1,254.4L1695.7,266.5L1697.3,278.8L1699,291.1L1700.6,303.5L1702.2,316.1L1703.8,328.8L1705.4,341.5L1707,354L1708.6,365.9L1710.3,376.9L1711.9,387.3L1713.5,396.9L1715.1,405.9L1716.7,414.2L1718.3,422L1720,429.2L1721.6,435.8L1723.2,441.9L1724.8,447.6L1726.4,452.8L1728,457.5L1729.6,461.8L1731.3,465.8L1732.9,469.4L1734.5,472.6L1736.1,475.4L1737.7,478L1739.3,480.3L1741,482.3L1742.6,484L1743.5,484.9" fill="none" stroke="#ff8080" stroke-width="2.4"/>
<path d="M1016.5,346.5L1031.2,346.5L1045.9,346.5L1060.6,346.5L1075.2,346.5L1089.9,346.5L1104.6,346.5L1119.3,346.5L1134,346.5L1148.7,346.4L1163.4,346.4L1178,346.4L1192.7,346.3L1207.4,346.3L1222.1,346.2L1236.8,346.2L1251.5,346.1L1266.2,346L1280.8,345.9L1295.5,345.7L1310.2,345.5L1324.9,345.2L1339.6,344.9L1354.3,344.4L1368.9,343.9L1383.6,343.3L1398.3,342.5L1413,341.4L1427.7,340.2L1442.4,338.6L1457.1,336.6L1471.7,334.1L1486.4,331L1501.1,327.2L1515.8,322.3L1530.5,316.3L1545.2,308.9L1559.9,299.5L1574.5,287.7L1589.2,273.1L1603.9,254.8L1605.8,252.2L1607.6,249.5L1609.5,246.7L1611.4,243.9L1613.2,241L1615.1,237.9L1617,234.8L1618.8,231.6L1620.7,228.2L1622.6,224.8L1624.4,221.3L1626.3,217.7L1628.1,214.1L1630,210.3L1631.9,206.5L1633.7,202.6L1635.6,198.5L1637.5,194.3L1639.3,189.9L1641.2,185.4L1643.1,180.7L1644.9,176L1646.8,171.1L1648.7,166.1L1650.5,160.9L1652.4,155.5L1654.2,150L1656.1,144.4L1658,138.6L1659.8,132.7L1661.7,126.6L1663.6,120.4L1665.4,114L1667.3,107.3L1669.2,100.4L1671,93.4L1672.9,86.1L1674.8,78.6L1676.6,71" fill="none" stroke="#0000ff" stroke-width="3.1" stroke-dasharray="27.5 22.5" stroke-dashoffset="8"/>
<path d="M1016.5,346.5L1032.9,346.5L1049.2,346.5L1065.6,346.5L1081.9,346.5L1098.3,346.5L1114.6,346.5L1131,346.5L1147.4,346.5L1163.7,346.5L1180.1,346.5L1196.4,346.5L1212.8,346.5L1229.1,346.5L1245.5,346.5L1261.9,346.4L1278.2,346.4L1294.6,346.3L1310.9,346.3L1327.3,346.2L1343.7,346.2L1360,346L1376.4,345.9L1392.7,345.7L1409.1,345.5L1425.4,345.2L1441.8,344.8L1458.2,344.2L1474.5,343.6L1490.9,342.9L1507.2,341.8L1523.6,340.5L1539.9,338.7L1556.3,336.5L1572.7,333.7L1589,330.1L1605.4,325.5L1621.7,319.6L1638.1,312.1L1654.4,302.4L1670.8,290L1672.7,288.3L1674.5,286.7L1676.4,284.9L1678.3,283.2L1680.1,281.3L1682,279.5L1683.8,277.6L1685.7,275.6L1687.6,273.7L1689.4,271.6L1691.3,269.5L1693.2,267.3L1695,265.1L1696.9,262.7L1698.8,260.3L1700.6,257.8L1702.5,255.3L1704.4,252.6L1706.2,249.9L1708.1,247.2L1709.9,244.3L1711.8,241.4L1713.7,238.4L1715.5,235.3L1717.4,232.1L1719.3,228.8L1721.1,225.4L1723,221.9L1724.9,218.3L1726.7,214.7L1728.6,210.9L1730.5,207.1L1732.3,203.2L1734.2,199.1L1736,194.9L1737.9,190.6L1739.8,186.1L1741.6,181.5L1743.5,176.7" fill="none" stroke="#ff0000" stroke-width="3.1" stroke-dasharray="27.5 22.5" stroke-dashoffset="8"/>
</g>
<path d="M1015.9,71.2H1745.0" stroke="#96602a" stroke-width="3.7" stroke-dasharray="24.4 19.2" fill="none"/>
<path d="M1013.6,30.6H1747" stroke="#000" stroke-width="5.2"/>
<path d="M1013.6,553.8H1747" stroke="#000" stroke-width="5.0"/>
<path d="M1015.9,28V556.3" stroke="#000" stroke-width="4.6"/>
<path d="M1744.8,28V556.3" stroke="#000" stroke-width="4.3"/>
<path d="M1089.2,553.7v-5M1089.2,30.7v5" stroke="#000" stroke-width="3.2"/>
<text transform="translate(1089.2,569.9) scale(0.980,1.000)" font-size="13" text-anchor="middle" font-weight="bold" >−4</text>
<path d="M1234.6,553.7v-5M1234.6,30.7v5" stroke="#000" stroke-width="3.2"/>
<text transform="translate(1234.6,569.9) scale(0.980,1.000)" font-size="13" text-anchor="middle" font-weight="bold" >−2</text>
<path d="M1380,553.7v-5M1380,30.7v5" stroke="#000" stroke-width="3.2"/>
<text transform="translate(1380,569.9) scale(0.980,1.000)" font-size="13" text-anchor="middle" font-weight="bold" >0</text>
<path d="M1525.4,553.7v-5M1525.4,30.7v5" stroke="#000" stroke-width="3.2"/>
<text transform="translate(1525.4,569.9) scale(0.980,1.000)" font-size="13" text-anchor="middle" font-weight="bold" >2</text>
<path d="M1670.8,553.7v-5M1670.8,30.7v5" stroke="#000" stroke-width="3.2"/>
<text transform="translate(1670.8,569.9) scale(0.980,1.000)" font-size="13" text-anchor="middle" font-weight="bold" >4</text>
<path d="M1052.8,553.7v-3.3M1052.8,30.7v3.3" stroke="#000" stroke-width="1.2"/>
<path d="M1125.5,553.7v-3.3M1125.5,30.7v3.3" stroke="#000" stroke-width="1.2"/>
<path d="M1161.9,553.7v-3.3M1161.9,30.7v3.3" stroke="#000" stroke-width="1.2"/>
<path d="M1198.2,553.7v-3.3M1198.2,30.7v3.3" stroke="#000" stroke-width="1.2"/>
<path d="M1271,553.7v-3.3M1271,30.7v3.3" stroke="#000" stroke-width="1.2"/>
<path d="M1307.3,553.7v-3.3M1307.3,30.7v3.3" stroke="#000" stroke-width="1.2"/>
<path d="M1343.7,553.7v-3.3M1343.7,30.7v3.3" stroke="#000" stroke-width="1.2"/>
<path d="M1416.3,553.7v-3.3M1416.3,30.7v3.3" stroke="#000" stroke-width="1.2"/>
<path d="M1452.7,553.7v-3.3M1452.7,30.7v3.3" stroke="#000" stroke-width="1.2"/>
<path d="M1489,553.7v-3.3M1489,30.7v3.3" stroke="#000" stroke-width="1.2"/>
<path d="M1561.8,553.7v-3.3M1561.8,30.7v3.3" stroke="#000" stroke-width="1.2"/>
<path d="M1598.1,553.7v-3.3M1598.1,30.7v3.3" stroke="#000" stroke-width="1.2"/>
<path d="M1634.5,553.7v-3.3M1634.5,30.7v3.3" stroke="#000" stroke-width="1.2"/>
<path d="M1707.2,553.7v-3.3M1707.2,30.7v3.3" stroke="#000" stroke-width="1.2"/>
<path d="M1015.9,71h5M1745.0,71h-5" stroke="#000" stroke-width="3.2"/>
<text transform="translate(1013,75.2) scale(1.050,1.000)" font-size="12.3" text-anchor="end" font-weight="bold" >0.0</text>
<path d="M1015.9,171.2h5M1745.0,171.2h-5" stroke="#000" stroke-width="3.2"/>
<text transform="translate(1013,175.4) scale(1.050,1.000)" font-size="12.3" text-anchor="end" font-weight="bold" >−0.5</text>
<path d="M1015.9,271.4h5M1745.0,271.4h-5" stroke="#000" stroke-width="3.2"/>
<text transform="translate(1013,275.6) scale(1.050,1.000)" font-size="12.3" text-anchor="end" font-weight="bold" >−1.0</text>
<path d="M1015.9,371.6h5M1745.0,371.6h-5" stroke="#000" stroke-width="3.2"/>
<text transform="translate(1013,375.8) scale(1.050,1.000)" font-size="12.3" text-anchor="end" font-weight="bold" >−1.5</text>
<path d="M1015.9,471.8h5M1745.0,471.8h-5" stroke="#000" stroke-width="3.2"/>
<text transform="translate(1013,476) scale(1.050,1.000)" font-size="12.3" text-anchor="end" font-weight="bold" >−2.0</text>
<path d="M1015.9,531.9h3.3M1745.0,531.9h-3.3" stroke="#000" stroke-width="1.1"/>
<path d="M1015.9,511.9h3.3M1745.0,511.9h-3.3" stroke="#000" stroke-width="1.1"/>
<path d="M1015.9,491.8h3.3M1745.0,491.8h-3.3" stroke="#000" stroke-width="1.1"/>
<path d="M1015.9,451.8h3.3M1745.0,451.8h-3.3" stroke="#000" stroke-width="1.1"/>
<path d="M1015.9,431.7h3.3M1745.0,431.7h-3.3" stroke="#000" stroke-width="1.1"/>
<path d="M1015.9,411.7h3.3M1745.0,411.7h-3.3" stroke="#000" stroke-width="1.1"/>
<path d="M1015.9,391.6h3.3M1745.0,391.6h-3.3" stroke="#000" stroke-width="1.1"/>
<path d="M1015.9,351.6h3.3M1745.0,351.6h-3.3" stroke="#000" stroke-width="1.1"/>
<path d="M1015.9,331.5h3.3M1745.0,331.5h-3.3" stroke="#000" stroke-width="1.1"/>
<path d="M1015.9,311.5h3.3M1745.0,311.5h-3.3" stroke="#000" stroke-width="1.1"/>
<path d="M1015.9,291.4h3.3M1745.0,291.4h-3.3" stroke="#000" stroke-width="1.1"/>
<path d="M1015.9,251.4h3.3M1745.0,251.4h-3.3" stroke="#000" stroke-width="1.1"/>
<path d="M1015.9,231.3h3.3M1745.0,231.3h-3.3" stroke="#000" stroke-width="1.1"/>
<path d="M1015.9,211.3h3.3M1745.0,211.3h-3.3" stroke="#000" stroke-width="1.1"/>
<path d="M1015.9,191.2h3.3M1745.0,191.2h-3.3" stroke="#000" stroke-width="1.1"/>
<path d="M1015.9,151.2h3.3M1745.0,151.2h-3.3" stroke="#000" stroke-width="1.1"/>
<path d="M1015.9,131.1h3.3M1745.0,131.1h-3.3" stroke="#000" stroke-width="1.1"/>
<path d="M1015.9,111.1h3.3M1745.0,111.1h-3.3" stroke="#000" stroke-width="1.1"/>
<path d="M1015.9,91h3.3M1745.0,91h-3.3" stroke="#000" stroke-width="1.1"/>
<path d="M1015.9,51h3.3M1745.0,51h-3.3" stroke="#000" stroke-width="1.1"/>
<text transform="translate(1380,24.8) scale(0.970,1.000)" font-size="14.4" text-anchor="middle" font-weight="bold" >(b)</text>
<text transform="translate(1380.6,599.3) scale(0.795,1.000)" font-size="20.5" text-anchor="middle" font-weight="bold" >x−axis</text>
<text transform="translate(979.3,289.8) rotate(-90) scale(1.060,1.000)" font-size="17.5" text-anchor="middle" font-weight="bold" >Re Θ<tspan font-size="12" dy="3">18</tspan><tspan dy="-3">(x, t)</tspan></text>
<g id="sf" fill="currentColor" stroke="currentColor" stroke-width="0.8">
<path color="#c3403e" d="M399.9,262.9l41,-11.4l1.5,-2.3l-41.7,11.5z"/>
<path color="#c3403e" d="M399.2,265l40.2,-11.2l1.5,-2.3l-41,11.4z"/>
<path color="#c3403e" d="M398.4,267.2l39.5,-11l1.5,-2.4l-40.2,11.2z"/>
<path color="#c3403e" d="M397.7,269.4l38.6,-10.9l1.6,-2.3l-39.5,11z"/>
<path color="#c5413e" d="M357.2,273.7l42.7,-10.8l0.8,-2.2l-43.6,11z"/>
<path color="#c3403e" d="M389.1,273.7l45.7,-12.8l1.5,-2.4l-46.5,13z"/>
<path color="#c5413e" d="M357.3,275.7l41.9,-10.7l0.7,-2.1l-42.7,10.8z"/>
<path color="#c3403e" d="M388.5,275.9l44.7,-12.6l1.6,-2.4l-45.7,12.8z"/>
<path color="#9fb046" d="M739.2,269.6l3.9,-1.3l-5,-0.8l0,0z"/>
<path color="#c5413e" d="M357.4,277.7l41,-10.5l0.8,-2.2l-41.9,10.7z"/>
<path color="#c3403e" d="M387.9,278.1l43.7,-12.3l1.6,-2.5l-44.7,12.6z"/>
<path color="#97ac45" d="M739.2,272.1l9,-2.9l-5.1,-0.9l-3.9,1.3z"/>
<path color="#c5413e" d="M357.4,279.8l40.3,-10.4l0.7,-2.2l-41,10.5z"/>
<path color="#90a845" d="M739.2,274.6l14,-4.4l-5,-1l-9,2.9z"/>
<path color="#c3403e" d="M387.3,280.3l42.7,-12.1l1.6,-2.4l-43.7,12.3z"/>
<path color="#89a444" d="M739.2,277.2l19.1,-6.1l-5.1,-0.9l-14,4.4z"/>
<path color="#c3413e" d="M386.6,282.6l41.8,-11.9l1.6,-2.5l-42.7,12.1z"/>
<path color="#82a043" d="M739.2,279.8l24.2,-7.7l-5.1,-1l-19.1,6.1z"/>
<path color="#c5413e" d="M312.6,284.8l44.6,-11.1l-0.1,-2l-45.5,11.3z"/>
<path color="#c5413e" d="M341.3,286l47.8,-12.3l0.7,-2.2l-48.9,12.5z"/>
<path color="#c4433f" d="M386,284.9l40.7,-11.7l1.7,-2.5l-41.8,11.9z"/>
<path color="#7a9b42" d="M739.2,282.4l29.3,-9.4l-5.1,-0.9l-24.2,7.7z"/>
<path color="#c5413e" d="M313.5,286.7l43.8,-11l-0.1,-2l-44.6,11.1z"/>
<path color="#c5413e" d="M341.7,287.9l46.8,-12l0.6,-2.2l-47.8,12.3z"/>
<path color="#739742" d="M739.1,285l34.6,-11l-5.2,-1l-29.3,9.4z"/>
<path color="#c5453f" d="M385.4,287.2l39.7,-11.5l1.6,-2.5l-40.7,11.7z"/>
<path color="#c5413e" d="M314.5,288.5l42.9,-10.8l-0.1,-2l-43.8,11z"/>
<path color="#699143" d="M761.9,283l22.2,-7l-5.2,-1l-19.7,6.2z"/>
<path color="#c5413e" d="M342.2,290l45.7,-11.9l0.6,-2.2l-46.8,12z"/>
<path color="#6d9442" d="M739.1,287.7l39.8,-12.7l-5.2,-1l-34.6,11z"/>
<path color="#648e44" d="M764.6,284.8l24.7,-7.8l-5.2,-1l-22.2,7z"/>
<path color="#c5413e" d="M315.5,290.4l41.9,-10.6l0,-2.1l-42.9,10.8z"/>
<path color="#c54740" d="M384.7,289.5l38.7,-11.2l1.7,-2.6l-39.7,11.5z"/>
<path color="#608b45" d="M767.3,286.7l27.2,-8.8l-5.2,-0.9l-24.7,7.8z"/>
<path color="#c5413e" d="M342.6,292l44.7,-11.7l0.6,-2.2l-45.7,11.9z"/>
<path color="#5b8946" d="M770,288.5l29.8,-9.6l-5.3,-1l-27.2,8.8z"/>
<path color="#c5423f" d="M343.1,294l43.5,-11.4l0.7,-2.3l-44.7,11.7z"/>
<path color="#568648" d="M772.7,290.4l32.4,-10.5l-5.3,-1l-29.8,9.6z"/>
<path color="#c64a40" d="M374.4,294.5l47.3,-13.6l1.7,-2.6l-48.6,13.9z"/>
<path color="#689143" d="M739.1,290.4l22.8,-7.4l-2.7,-1.8l-20.1,6.5z"/>
<path color="#c5413e" d="M265.9,296.3l46.7,-11.5l-1,-1.8l-47.6,11.7z"/>
<path color="#528349" d="M775.5,292.3l34.9,-11.3l-5.3,-1.1l-32.4,10.5z"/>
<path color="#c6443f" d="M343.5,296.1l42.5,-11.2l0.6,-2.3l-43.5,11.4z"/>
<path color="#4e7e4f" d="M794.6,291.6l26.5,-8.6l-5.4,-1l-24.7,8z"/>
<path color="#c74c41" d="M374,296.8l46,-13.3l1.7,-2.6l-47.3,13.6z"/>
<path color="#638e44" d="M739.1,293.1l25.5,-8.3l-2.7,-1.8l-22.8,7.4z"/>
<path color="#c5413e" d="M267.9,298l45.6,-11.3l-0.9,-1.9l-46.7,11.5z"/>
<path color="#4e804b" d="M778.3,294.1l37.4,-12.1l-5.3,-1l-34.9,11.3z"/>
<path color="#c5413e" d="M291.1,298.6l50.2,-12.6l-0.4,-2l-51.4,12.8z"/>
<path color="#4d7c53" d="M798.3,293.2l28.1,-9.2l-5.3,-1l-26.5,8.6z"/>
<path color="#c74640" d="M344,298.2l41.4,-11l0.6,-2.3l-42.5,11.2z"/>
<path color="#c5413e" d="M269.8,299.6l44.7,-11.1l-1,-1.8l-45.6,11.3z"/>
<path color="#c5413e" d="M292.7,300.4l49,-12.5l-0.4,-1.9l-50.2,12.6z"/>
<path color="#5f8b45" d="M739.1,295.9l28.2,-9.2l-2.7,-1.9l-25.5,8.3z"/>
<path color="#c74e41" d="M373.6,299.1l44.7,-13l1.7,-2.6l-46,13.3z"/>
<path color="#4c7a57" d="M802.1,294.9l29.7,-9.9l-5.4,-1l-28.1,9.2z"/>
<path color="#c74940" d="M344.4,300.3l40.3,-10.8l0.7,-2.3l-41.4,11z"/>
<path color="#c5413e" d="M271.8,301.3l43.7,-10.9l-1,-1.9l-44.7,11.1z"/>
<path color="#4b785b" d="M805.8,296.5l31.5,-10.4l-5.5,-1.1l-29.7,9.9z"/>
<path color="#c5413e" d="M294.3,302.1l47.9,-12.1l-0.5,-2.1l-49,12.5z"/>
<path color="#5a8847" d="M739.1,298.7l30.9,-10.2l-2.7,-1.8l-28.2,9.2z"/>
<path color="#c85042" d="M373.2,301.5l43.3,-12.7l1.8,-2.7l-44.7,13z"/>
<path color="#4a765f" d="M809.6,298.1l33.1,-11l-5.4,-1l-31.5,10.4z"/>
<path color="#c5413e" d="M295.9,303.9l46.7,-11.9l-0.4,-2l-47.9,12.1z"/>
<path color="#497564" d="M813.4,299.8l34.8,-11.6l-5.5,-1.1l-33.1,11z"/>
<path color="#558548" d="M739.1,301.5l33.6,-11.1l-2.7,-1.9l-30.9,10.2z"/>
<path color="#ca5844" d="M372.8,303.9l41.9,-12.4l1.8,-2.7l-43.3,12.7z"/>
<path color="#4d7e4f" d="M767.3,300.6l27.3,-9l-3.6,-1.6l-25.6,8.4z"/>
<path color="#c6433f" d="M297.6,305.7l45.5,-11.7l-0.5,-2l-46.7,11.9z"/>
<path color="#477268" d="M817.3,301.5l36.4,-12.3l-5.5,-1l-34.8,11.6z"/>
<path color="#476c77" d="M835.1,301.4l29.7,-10.1l-5.6,-1l-28.4,9.6z"/>
<path color="#518249" d="M739.1,304.3l36.4,-12l-2.8,-1.9l-33.6,11.1z"/>
<path color="#476f6f" d="M821.1,303.2l38.1,-12.9l-5.5,-1.1l-36.4,12.3z"/>
<path color="#c84b41" d="M324.7,307.7l49.7,-13.2l0.4,-2.3l-51.1,13.5z"/>
<path color="#c5413e" d="M217.1,308.3l48.8,-12l-1.9,-1.6l-49.9,12.2z"/>
<path color="#4c7c54" d="M769.2,302.9l29.1,-9.7l-3.7,-1.6l-27.3,9z"/>
<path color="#c6453f" d="M299.2,307.6l44.3,-11.5l-0.4,-2.1l-45.5,11.7z"/>
<path color="#cd6146" d="M372.4,306.3l40.6,-12l1.7,-2.8l-41.9,12.4z"/>
<path color="#46687e" d="M839.5,302.9l30.8,-10.5l-5.5,-1.1l-29.7,10.1z"/>
<path color="#c5413e" d="M220.1,309.8l47.8,-11.8l-2,-1.7l-48.8,12z"/>
<path color="#4e804c" d="M739,307.2l39.3,-13.1l-2.8,-1.8l-36.4,12z"/>
<path color="#c94d42" d="M325.8,309.7l48.2,-12.9l0.4,-2.3l-49.7,13.2z"/>
<path color="#4b7a58" d="M771.2,305.1l30.9,-10.2l-3.8,-1.7l-29.1,9.7z"/>
<path color="#c74740" d="M300.8,309.4l43.2,-11.2l-0.5,-2.1l-44.3,11.5z"/>
<path color="#466585" d="M843.9,304.5l32,-11.1l-5.6,-1l-30.8,10.5z"/>
<path color="#d06a49" d="M372,308.7l39.1,-11.7l1.9,-2.7l-40.6,12z"/>
<path color="#c5413e" d="M238.4,311.8l52.7,-13.2l-1.6,-1.8l-54,13.5z"/>
<path color="#c5413e" d="M223.2,311.2l46.6,-11.6l-1.9,-1.6l-47.8,11.8z"/>
<path color="#45628d" d="M848.3,306.1l33.3,-11.6l-5.7,-1.1l-32,11.1z"/>
<path color="#4a785c" d="M773.1,307.4l32.7,-10.9l-3.7,-1.6l-30.9,10.2z"/>
<path color="#c84941" d="M302.5,311.2l41.9,-10.9l-0.4,-2.1l-43.2,11.2z"/>
<path color="#c94f42" d="M326.9,311.7l46.7,-12.6l0.4,-2.3l-48.2,12.9z"/>
<path color="#c5413e" d="M226.2,312.6l45.6,-11.3l-2,-1.7l-46.6,11.6z"/>
<path color="#c5413e" d="M241.2,313.3l51.5,-12.9l-1.6,-1.8l-52.7,13.2z"/>
<path color="#455e94" d="M852.7,307.6l34.5,-12l-5.6,-1.1l-33.3,11.6z"/>
<path color="#d2744b" d="M371.6,311.1l37.7,-11.3l1.8,-2.8l-39.1,11.7z"/>
<path color="#497660" d="M775.1,309.7l34.5,-11.6l-3.8,-1.6l-32.7,10.9z"/>
<path color="#445d97" d="M857.1,309.2l35.8,-12.5l-5.7,-1.1l-34.5,12z"/>
<path color="#c5413e" d="M244.1,314.8l50.2,-12.7l-1.6,-1.7l-51.5,12.9z"/>
<path color="#ca5243" d="M328,313.7l45.2,-12.2l0.4,-2.4l-46.7,12.6z"/>
<path color="#4d7d50" d="M739,310.1l28.3,-9.5l-1.9,-2.2l-26.4,8.8z"/>
<path color="#445d98" d="M861.6,310.8l37,-13l-5.7,-1.1l-35.8,12.5z"/>
<path color="#c6413f" d="M247,316.3l48.9,-12.4l-1.6,-1.8l-50.2,12.7z"/>
<path color="#487465" d="M777.1,312.1l36.3,-12.3l-3.8,-1.7l-34.5,11.6z"/>
<path color="#cd5b45" d="M329.1,315.8l43.7,-11.9l0.4,-2.4l-45.2,12.2z"/>
<path color="#435d98" d="M866.1,312.4l38.2,-13.5l-5.7,-1.1l-37,13z"/>
<path color="#4c7b54" d="M739,313.1l30.2,-10.2l-1.9,-2.3l-28.3,9.5z"/>
<path color="#435d99" d="M878.7,311.1l31.4,-11.1l-5.8,-1.1l-30.4,10.7z"/>
<path color="#466b78" d="M804.3,311.9l30.8,-10.5l-4.3,-1.5l-29.4,10z"/>
<path color="#c6433f" d="M249.9,317.9l47.7,-12.2l-1.7,-1.8l-48.9,12.4z"/>
<path color="#d57e4e" d="M358.8,317.1l48.7,-14.5l1.8,-2.8l-50.6,15z"/>
<path color="#47716a" d="M779.1,314.4l38.2,-12.9l-3.9,-1.7l-36.3,12.3z"/>
<path color="#435d99" d="M883.5,312.6l32.3,-11.5l-5.7,-1.1l-31.4,11.1z"/>
<path color="#cf6448" d="M330.2,317.8l42.2,-11.5l0.4,-2.4l-43.7,11.9z"/>
<path color="#466880" d="M807.4,314l32.1,-11.1l-4.4,-1.5l-30.8,10.5z"/>
<path color="#c74640" d="M252.9,319.4l46.3,-11.8l-1.6,-1.9l-47.7,12.2z"/>
<path color="#4b7959" d="M739,316.1l32.2,-11l-2,-2.2l-30.2,10.2z"/>
<path color="#425d99" d="M888.4,314.2l33.2,-12l-5.8,-1.1l-32.3,11.5z"/>
<path color="#c5413e" d="M166,320.9l51.1,-12.6l-3,-1.4l-52.3,12.8z"/>
<path color="#476e72" d="M781.1,316.8l40,-13.6l-3.8,-1.7l-38.2,12.9z"/>
<path color="#d88750" d="M358.9,319.5l46.7,-14l1.9,-2.9l-48.7,14.5z"/>
<path color="#c94c41" d="M272.6,321.3l52.1,-13.6l-1,-2l-53.8,13.9z"/>
<path color="#466487" d="M810.4,316l33.5,-11.5l-4.4,-1.6l-32.1,11.1z"/>
<path color="#c74840" d="M255.8,320.9l45,-11.5l-1.6,-1.8l-46.3,11.8z"/>
<path color="#d26e4a" d="M331.3,319.9l40.7,-11.2l0.4,-2.4l-42.2,11.5z"/>
<path color="#c5413e" d="M170.2,322.1l49.9,-12.3l-3,-1.5l-51.1,12.6z"/>
<path color="#425d99" d="M893.3,315.7l34.2,-12.4l-5.9,-1.1l-33.2,12z"/>
<path color="#4a775d" d="M739,319.1l34.1,-11.7l-1.9,-2.3l-32.2,11z"/>
<path color="#c94e42" d="M275.2,322.9l50.6,-13.2l-1.1,-2l-52.1,13.6z"/>
<path color="#c5413e" d="M174.4,323.3l48.8,-12.1l-3.1,-1.4l-49.9,12.3z"/>
<path color="#425c9a" d="M898.2,317.2l35.1,-12.8l-5.8,-1.1l-34.2,12.4z"/>
<path color="#45618f" d="M813.4,318.1l34.9,-12l-4.4,-1.6l-33.5,11.5z"/>
<path color="#c84a41" d="M258.8,322.5l43.7,-11.3l-1.7,-1.8l-45,11.5z"/>
<path color="#db9152" d="M359,321.8l44.7,-13.4l1.9,-2.9l-46.7,14z"/>
<path color="#d5774c" d="M332.4,322l39.2,-10.9l0.4,-2.4l-40.7,11.2z"/>
<path color="#c5413e" d="M178.7,324.5l47.5,-11.9l-3,-1.4l-48.8,12.1z"/>
<path color="#c5413e" d="M182.9,325.7l55.5,-13.9l-2.9,-1.5l-56.8,14.2z"/>
<path color="#ca5042" d="M277.9,324.6l49,-12.9l-1.1,-2l-50.6,13.2z"/>
<path color="#455e96" d="M816.5,320.2l36.2,-12.6l-4.4,-1.5l-34.9,12z"/>
<path color="#497561" d="M739,322.1l36.1,-12.4l-2,-2.3l-34.1,11.7z"/>
<path color="#c5413e" d="M187.2,326.9l54,-13.6l-2.8,-1.5l-55.5,13.9z"/>
<path color="#de9b53" d="M359.1,324.2l42.7,-12.9l1.9,-2.9l-44.7,13.4z"/>
<path color="#cb5443" d="M280.6,326.3l47.4,-12.6l-1.1,-2l-49,12.9z"/>
<path color="#445d98" d="M819.6,322.4l37.5,-13.2l-4.4,-1.6l-36.2,12.6z"/>
<path color="#c5413e" d="M191.5,328.1l52.6,-13.3l-2.9,-1.5l-54,13.6z"/>
<path color="#466a7a" d="M772.3,322.9l32,-11l-2.9,-2l-30.7,10.4z"/>
<path color="#487366" d="M739,325.2l38.1,-13.1l-2,-2.4l-36.1,12.4z"/>
<path color="#435d99" d="M846,322.8l32.7,-11.7l-4.8,-1.5l-31.6,11.3z"/>
<path color="#ce5e46" d="M283.3,327.9l45.8,-12.1l-1.1,-2.1l-47.4,12.6z"/>
<path color="#c6423f" d="M195.8,329.3l51.2,-13l-2.9,-1.5l-52.6,13.3z"/>
<path color="#445d98" d="M822.8,324.5l38.8,-13.7l-4.5,-1.6l-37.5,13.2z"/>
<path color="#e1a654" d="M359.1,326.7l40.8,-12.5l1.9,-2.9l-42.7,12.9z"/>
<path color="#466781" d="M773.9,325.5l33.5,-11.5l-3.1,-2.1l-32,11z"/>
<path color="#435d99" d="M849.8,324.8l33.7,-12.2l-4.8,-1.5l-32.7,11.7z"/>
<path color="#c6443f" d="M200.1,330.5l49.8,-12.6l-2.9,-1.6l-51.2,13z"/>
<path color="#d06748" d="M286.1,329.6l44.1,-11.8l-1.1,-2l-45.8,12.1z"/>
<path color="#435d98" d="M825.9,326.7l40.2,-14.3l-4.5,-1.6l-38.8,13.7z"/>
<path color="#47706c" d="M738.9,328.3l40.2,-13.9l-2,-2.3l-38.1,13.1z"/>
<path color="#d8814f" d="M307.6,331.2l51.2,-14.1l-0.1,-2.3l-53.3,14.5z"/>
<path color="#e5b055" d="M359.2,329.1l38.7,-11.9l2,-3l-40.8,12.5z"/>
<path color="#c74640" d="M204.5,331.8l48.4,-12.4l-3,-1.5l-49.8,12.6z"/>
<path color="#425d99" d="M853.6,326.7l34.8,-12.5l-4.9,-1.6l-33.7,12.2z"/>
<path color="#d3704b" d="M288.8,331.3l42.5,-11.4l-1.1,-2.1l-44.1,11.8z"/>
<path color="#456389" d="M775.4,328.2l35,-12.2l-3,-2l-33.5,11.5z"/>
<path color="#c84840" d="M208.8,333l47,-12.1l-2.9,-1.5l-48.4,12.4z"/>
<path color="#db8b52" d="M309.9,333l49,-13.5l-0.1,-2.4l-51.2,14.1z"/>
<path color="#476d74" d="M738.9,331.5l42.2,-14.7l-2,-2.4l-40.2,13.9z"/>
<path color="#425d9a" d="M857.4,328.7l35.9,-13l-4.9,-1.5l-34.8,12.5z"/>
<path color="#e8ba56" d="M359.3,331.6l36.6,-11.4l2,-3l-38.7,11.9z"/>
<path color="#d6794d" d="M291.6,333l40.8,-11l-1.1,-2.1l-42.5,11.4z"/>
<path color="#c84a41" d="M213.2,334.3l45.6,-11.8l-3,-1.6l-47,12.1z"/>
<path color="#c94d42" d="M217.7,335.5l54.9,-14.2l-2.7,-1.7l-56.7,14.7z"/>
<path color="#456091" d="M777,330.8l36.4,-12.7l-3,-2.1l-35,12.2z"/>
<path color="#de9553" d="M312.1,334.9l46.9,-13.1l-0.1,-2.3l-49,13.5z"/>
<path color="#425c9a" d="M861.3,330.7l36.9,-13.5l-4.9,-1.5l-35.9,13z"/>
<path color="#c94f42" d="M222.1,336.7l53.1,-13.8l-2.6,-1.6l-54.9,14.2z"/>
<path color="#eac357" d="M359.4,334l34.5,-10.7l2,-3.1l-36.6,11.4z"/>
<path color="#445d97" d="M778.6,333.5l37.9,-13.3l-3.1,-2.1l-36.4,12.7z"/>
<path color="#ca5143" d="M226.6,338l51.3,-13.4l-2.7,-1.7l-53.1,13.8z"/>
<path color="#e19f54" d="M314.4,336.8l44.7,-12.6l-0.1,-2.4l-46.9,13.1z"/>
<path color="#46697b" d="M738.9,334.7l33.4,-11.8l-1.6,-2.6l-31.8,11.2z"/>
<path color="#cc5744" d="M231,339.3l49.6,-13l-2.7,-1.7l-51.3,13.4z"/>
<path color="#445d98" d="M780.3,336.3l39.3,-13.9l-3.1,-2.2l-37.9,13.3z"/>
<path color="#435d99" d="M811.9,335l34.1,-12.2l-3.7,-1.9l-33,11.7z"/>
<path color="#e4aa55" d="M316.7,338.6l42.4,-11.9l0,-2.5l-44.7,12.6z"/>
<path color="#cf6047" d="M235.5,340.5l47.8,-12.6l-2.7,-1.6l-49.6,13z"/>
<path color="#466683" d="M738.9,337.9l35,-12.4l-1.6,-2.6l-33.4,11.8z"/>
<path color="#435d99" d="M814.5,337.5l35.3,-12.7l-3.8,-2l-34.1,12.2z"/>
<path color="#435d98" d="M781.9,339l40.9,-14.5l-3.2,-2.1l-39.3,13.9z"/>
<path color="#d16949" d="M240.1,341.8l46,-12.2l-2.8,-1.7l-47.8,12.6z"/>
<path color="#e7c656" d="M342.9,341.5l49,-15.1l2,-3.1l-52.2,16z"/>
<path color="#e7b456" d="M319,340.6l40.2,-11.5l-0.1,-2.4l-42.4,11.9z"/>
<path color="#d4724b" d="M244.6,343.1l44.2,-11.8l-2.7,-1.7l-46,12.2z"/>
<path color="#45628b" d="M738.9,341.2l36.5,-13l-1.5,-2.7l-35,12.4z"/>
<path color="#425d99" d="M817.1,339.9l36.5,-13.2l-3.8,-1.9l-35.3,12.7z"/>
<path color="#ebbe57" d="M321.3,342.5l38,-10.9l-0.1,-2.5l-40.2,11.5z"/>
<path color="#435d98" d="M783.6,341.8l42.3,-15.1l-3.1,-2.2l-40.9,14.5z"/>
<path color="#e4c755" d="M344.1,343.7l45.8,-14.2l2,-3.1l-49,15.1z"/>
<path color="#d98450" d="M253.8,345.7l53.8,-14.5l-2.2,-1.9l-56.2,15.1z"/>
<path color="#d77c4e" d="M249.2,344.4l42.4,-11.4l-2.8,-1.7l-44.2,11.8z"/>
<path color="#425c9a" d="M819.8,342.4l37.6,-13.7l-3.8,-2l-36.5,13.2z"/>
<path color="#dc8e52" d="M258.4,347l51.5,-14l-2.3,-1.8l-53.8,14.5z"/>
<path color="#ebc558" d="M323.6,344.4l35.8,-10.4l-0.1,-2.4l-38,10.9z"/>
<path color="#455f92" d="M738.9,344.5l38.1,-13.7l-1.6,-2.6l-36.5,13z"/>
<path color="#e0c954" d="M345.3,346l42.5,-13.3l2.1,-3.2l-45.8,14.2z"/>
<path color="#df9853" d="M263,348.3l49.1,-13.4l-2.2,-1.9l-51.5,14z"/>
<path color="#425c9a" d="M822.5,344.9l38.8,-14.2l-3.9,-2l-37.6,13.7z"/>
<path color="#e2a254" d="M267.7,349.6l46.7,-12.8l-2.3,-1.9l-49.1,13.4z"/>
<path color="#445d97" d="M738.8,347.9l39.8,-14.4l-1.6,-2.7l-38.1,13.7z"/>
<path color="#ddca52" d="M346.6,348.2l39.1,-12.3l2.1,-3.2l-42.5,13.3z"/>
<path color="#e5ac56" d="M272.4,350.9l44.3,-12.3l-2.3,-1.8l-46.7,12.8z"/>
<path color="#435d99" d="M776.2,347.9l35.7,-12.9l-2.6,-2.4l-34.5,12.3z"/>
<path color="#435d97" d="M738.8,351.3l41.5,-15l-1.7,-2.8l-39.8,14.4z"/>
<path color="#dacc51" d="M347.8,350.5l35.8,-11.4l2.1,-3.2l-39.1,12.3z"/>
<path color="#e8b757" d="M277.1,352.2l41.9,-11.6l-2.3,-2l-44.3,12.3z"/>
<path color="#425d99" d="M777.5,350.8l37,-13.3l-2.6,-2.5l-35.7,12.9z"/>
<path color="#ecc158" d="M281.8,353.5l39.5,-11l-2.3,-1.9l-41.9,11.6z"/>
<path color="#e8c856" d="M291.3,356.2l51.6,-14.7l-1.2,-2.2l-55.1,15.6z"/>
<path color="#d4ca50" d="M349.1,352.8l32.3,-10.4l2.2,-3.3l-35.8,11.4z"/>
<path color="#435d98" d="M738.8,354.7l43.1,-15.7l-1.6,-2.7l-41.5,15z"/>
<path color="#ebc658" d="M286.6,354.9l37,-10.5l-2.3,-1.9l-39.5,11z"/>
<path color="#425c99" d="M778.9,353.8l38.2,-13.9l-2.6,-2.4l-37,13.3z"/>
<path color="#e5c955" d="M296.1,357.5l48,-13.8l-1.2,-2.2l-51.6,14.7z"/>
<path color="#cec74f" d="M350.3,355.1l29,-9.4l2.1,-3.3l-32.3,10.4z"/>
<path color="#435d98" d="M738.8,358.2l44.8,-16.4l-1.7,-2.8l-43.1,15.7z"/>
<path color="#e2cb54" d="M301,358.8l44.3,-12.8l-1.2,-2.3l-48,13.8z"/>
<path color="#425c9a" d="M780.3,356.9l39.5,-14.5l-2.7,-2.5l-38.2,13.9z"/>
<path color="#decd53" d="M305.8,360.1l40.8,-11.9l-1.3,-2.2l-44.3,12.8z"/>
<path color="#c8c44d" d="M351.6,357.4l25.5,-8.3l2.2,-3.4l-29,9.4z"/>
<path color="#425c9a" d="M781.7,360l40.8,-15.1l-2.7,-2.5l-39.5,14.5z"/>
<path color="#dbce52" d="M310.7,361.5l37.1,-11l-1.2,-2.3l-40.8,11.9z"/>
<path color="#435c98" d="M738.8,361.7l37.4,-13.8l-1.4,-3l-36,13.3z"/>
<path color="#d5cb50" d="M315.6,362.8l33.5,-10l-1.3,-2.3l-37.1,11z"/>
<path color="#425c99" d="M738.8,365.3l38.7,-14.5l-1.3,-2.9l-37.4,13.8z"/>
<path color="#cfc84f" d="M320.5,364.1l29.8,-9l-1.2,-2.3l-33.5,10z"/>
<path color="#c2c14c" d="M330.4,366.7l44.4,-14.2l2.3,-3.4l-51.6,16.3z"/>
<path color="#c9c54e" d="M325.5,365.4l26.1,-8l-1.3,-2.3l-29.8,9z"/>
<path color="#bcbe4b" d="M335.4,368l37.2,-12.1l2.2,-3.4l-44.4,14.2z"/>
<path color="#425c99" d="M738.7,368.9l40.2,-15.1l-1.4,-3l-38.7,14.5z"/>
<path color="#b6bb4a" d="M340.4,369.2l29.9,-9.8l2.3,-3.5l-37.2,12.1z"/>
<path color="#425c99" d="M738.7,372.5l41.6,-15.6l-1.4,-3.1l-40.2,15.1z"/>
<path color="#afb848" d="M345.5,370.4l22.5,-7.5l2.3,-3.5l-29.9,9.8z"/>
<path color="#415c9a" d="M738.7,376.2l43,-16.2l-1.4,-3.1l-41.6,15.6z"/>
<path color="#a8b447" d="M350.6,371.6l15.1,-5.1l2.3,-3.6l-22.5,7.5z"/>
<path color="#a1b045" d="M355.6,372.8l7.7,-2.7l2.4,-3.6l-15.1,5.1z"/>
<path color="#99ab44" d="M360.8,373.8l0.1,0l2.4,-3.7l-7.7,2.7z"/>
<path color="#92a643" d="M365.9,374.8l0,0l-5,-1l-0.1,0z"/>
<path color="#95312f" d="M529.1,198.4l-0.7,1.2l-2.7,3.1z"/>
<path color="#94312f" d="M528.4,199.6l0.7,-1.2l4.7,-6.7l-1.6,2.9z"/>
<path color="#92302e" d="M532.2,194.6l1.6,-2.9l2.3,-3.7l1.8,-3.2l-1.9,3.6z"/>
<path color="#9c3331" d="M519.7,209.4l-0.9,1.7l-3.5,2.5z"/>
<path color="#a83735" d="M536,188.4l1.9,-3.6l3.8,-7.2l-2,3.5z"/>
<path color="#983230" d="M518.8,211.1l0.9,-1.7l4.7,-5.1l-1.8,3.5z"/>
<path color="#96312f" d="M522.6,207.8l1.8,-3.5l1.3,-1.6l2.7,-3.1l-2,3.9z"/>
<path color="#a93836" d="M539.7,181.1l2,-3.5l1.6,-3.5l-1.9,3.4z"/>
<path color="#94312f" d="M526.4,203.5l2,-3.9l3.8,-5l-2,3.8z"/>
<path color="#aa3836" d="M541.4,177.5l1.9,-3.4l1.6,-3.7l-1.9,3.3z"/>
<path color="#a63635" d="M505.4,221.6l-0.1,0.3l-0.7,0.3z"/>
<path color="#a43634" d="M505.3,221.9l0.1,-0.3l4.8,-3.7l-1.2,2.2z"/>
<path color="#a03433" d="M509,220.1l1.2,-2.2l4.8,-4.1l-2.2,4z"/>
<path color="#9d3332" d="M512.8,217.8l2.2,-4l0.3,-0.2l3.5,-2.5l-2.2,4.1z"/>
<path color="#ab3836" d="M543,173.7l1.9,-3.3l1.7,-3.9l-1.9,3.3z"/>
<path color="#92302e" d="M530.2,198.4l2,-3.8l3.8,-6.2l-2.1,3.7z"/>
<path color="#ab3836" d="M544.7,169.8l1.9,-3.3l1.6,-4.1l-1.9,3.3z"/>
<path color="#983230" d="M516.6,215.2l2.2,-4.1l3.8,-3.3l-2.2,4z"/>
<path color="#a83735" d="M499.2,227.6l1.4,-2.7l4,-2.7l0.7,-0.3l-2.3,4.2z"/>
<path color="#ac3836" d="M546.3,165.7l1.9,-3.3l1.7,-4.2l-1.9,3.2z"/>
<path color="#ac3836" d="M495.4,228.6l0.4,-0.7l4.8,-3l-1.4,2.7z"/>
<path color="#ae3937" d="M495.8,227.9l-0.4,0.7l-1.5,0.4z"/>
<path color="#a83735" d="M533.9,192.1l2.1,-3.7l3.7,-7.3l-1.9,3.5z"/>
<path color="#ac3836" d="M548,161.4l1.9,-3.2l1.6,-4.3l-1.9,3.1z"/>
<path color="#a43634" d="M503,226.1l2.3,-4.2l3.7,-1.8l-2.2,4.2z"/>
<path color="#95312f" d="M520.4,211.8l2.2,-4l3.8,-4.3l-2.2,3.9z"/>
<path color="#ac3836" d="M549.6,157l1.9,-3.1l1.6,-4.4l-1.8,3.1z"/>
<path color="#aa3836" d="M537.8,184.6l1.9,-3.5l1.7,-3.6l-2,3.4z"/>
<path color="#a03433" d="M506.8,224.3l2.2,-4.2l3.8,-2.3l-2.2,4.2z"/>
<path color="#ac3937" d="M551.3,152.6l1.8,-3.1l1.7,-4.6l-1.8,3.1z"/>
<path color="#94302f" d="M524.2,207.4l2.2,-3.9l3.8,-5.1l-2.1,3.8z"/>
<path color="#af3937" d="M487.9,234l1.4,-2.5l4.6,-2.5l1.5,-0.4l-2.5,4.3z"/>
<path color="#aa3836" d="M539.4,180.9l2,-3.4l1.6,-3.8l-1.9,3.5z"/>
<path color="#b23b38" d="M489.3,231.5l-1.4,2.5l-4.9,0.5z"/>
<path color="#ac3836" d="M553,148l1.8,-3.1l1.7,-4.5l-1.9,3.1z"/>
<path color="#ab3836" d="M541.1,177.2l1.9,-3.5l1.7,-3.9l-2,3.4z"/>
<path color="#9c3332" d="M510.6,222l2.2,-4.2l3.8,-2.6l-2.2,4.1z"/>
<path color="#cf5244" d="M600.4,267l1.3,-5.4l1.8,4.9l-1.4,5.4z"/>
<path color="#d35446" d="M602.1,271.9l1.4,-5.4l1.7,3.9l-1.3,5.3z"/>
<path color="#cc5043" d="M598.6,260.8l1.4,-5.5l1.7,6.3l-1.3,5.4z"/>
<path color="#d85747" d="M603.9,275.7l1.3,-5.3l1.8,3l-1.4,5.3z"/>
<path color="#ac3836" d="M492.9,232.9l2.5,-4.3l3.8,-1l-2.4,4.3z"/>
<path color="#c94e42" d="M596.8,253l1.4,-5.5l1.8,7.8l-1.4,5.5z"/>
<path color="#db5b49" d="M605.6,278.7l1.4,-5.3l1.7,2.6l-1.3,5.2z"/>
<path color="#92302e" d="M528.1,202.2l2.1,-3.8l3.7,-6.3l-2,3.7z"/>
<path color="#e0614b" d="M607.4,281.2l1.3,-5.2l1.7,1.8l-1.3,5.2z"/>
<path color="#ab3836" d="M554.6,143.5l1.9,-3.1l1.6,-4.1l-1.8,3.1z"/>
<path color="#ab3836" d="M542.7,173.2l2,-3.4l1.6,-4.1l-1.9,3.3z"/>
<path color="#c64c41" d="M595.1,243.4l1.4,-5.6l1.7,9.7l-1.4,5.5z"/>
<path color="#e1644c" d="M609.1,283l1.3,-5.2l1.8,1.3l-1.3,5.1z"/>
<path color="#c74c41" d="M593.3,233.9l1.4,-5.5l1.8,9.4l-1.4,5.6z"/>
<path color="#e0674c" d="M610.9,284.2l1.3,-5.1l1.7,1l-1.2,5.1z"/>
<path color="#983230" d="M514.4,219.3l2.2,-4.1l3.8,-3.4l-2.2,4.1z"/>
<path color="#aa3836" d="M556.3,139.4l1.8,-3.1l1.7,-3.9l-1.8,3z"/>
<path color="#a83735" d="M496.8,231.9l2.4,-4.3l3.8,-1.5l-2.4,4.3z"/>
<path color="#ac3836" d="M544.4,169l1.9,-3.3l1.7,-4.3l-2,3.3z"/>
<path color="#d7674a" d="M612.7,285.2l1.2,-5.1l1.8,0.6l-1.3,5.1z"/>
<path color="#c64b41" d="M591.5,224.2l1.5,-5.3l1.7,9.5l-1.4,5.5z"/>
<path color="#bc5d41" d="M614.4,285.8l1.3,-5.1l1.7,-0.1l-1.2,5z"/>
<path color="#b33b39" d="M480.2,238.9l2.5,-4.3l0.3,-0.1l4.9,-0.5l-2.6,4.3z"/>
<path color="#c64a40" d="M589.7,214.8l1.5,-5.1l1.8,9.2l-1.5,5.3z"/>
<path color="#b63c39" d="M475.2,239.2l0.9,-1.7l6.6,-2.9l-2.5,4.3z"/>
<path color="#a83735" d="M531.9,195.8l2,-3.7l3.9,-7.5l-2.1,3.6z"/>
<path color="#aa3836" d="M558,135.4l1.8,-3l1.7,-3.7l-1.8,2.9z"/>
<path color="#b73c3a" d="M476.1,237.5l-0.9,1.7l-3.2,0z"/>
<path color="#ac3836" d="M546,164.7l2,-3.3l1.6,-4.4l-1.9,3.3z"/>
<path color="#ae583d" d="M616.2,285.6l1.2,-5l1.8,-0.7l-1.2,4.9z"/>
<path color="#c64940" d="M588,205l1.5,-4.8l1.7,9.5l-1.5,5.1z"/>
<path color="#a43634" d="M500.6,230.4l2.4,-4.3l3.8,-1.8l-2.4,4.3z"/>
<path color="#95312f" d="M518.2,215.9l2.2,-4.1l3.8,-4.4l-2.1,4z"/>
<path color="#a73735" d="M559.7,131.6l1.8,-2.9l1.7,-3.2l-1.8,2.9z"/>
<path color="#ac593c" d="M618,284.8l1.2,-4.9l1.8,-0.9l-1.2,4.9z"/>
<path color="#c4483f" d="M586.2,193.8l1.5,-4.6l1.8,11l-1.5,4.8z"/>
<path color="#ac3836" d="M547.7,160.3l1.9,-3.3l1.7,-4.4l-1.9,3.2z"/>
<path color="#aa3836" d="M535.7,188.2l2.1,-3.6l1.6,-3.7l-2,3.6z"/>
<path color="#ac5c3d" d="M619.8,283.9l1.2,-4.9l1.7,-0.8l-1.1,4.8z"/>
<path color="#95312f" d="M561.4,128.4l1.8,-2.9l1.7,-2.2l-1.8,2.8z"/>
<path color="#c3473f" d="M584.4,181.4l1.5,-4.4l1.8,12.2l-1.5,4.6z"/>
<path color="#a03433" d="M504.4,228.6l2.4,-4.3l3.8,-2.3l-2.3,4.3z"/>
<path color="#a85c3c" d="M621.6,283l1.1,-4.8l1.3,-0.8l-1.2,4.9z"/>
<path color="#ac3937" d="M549.4,155.8l1.9,-3.2l1.7,-4.6l-1.9,3.2z"/>
<path color="#94302f" d="M522.1,211.4l2.1,-4l3.9,-5.2l-2.2,3.9z"/>
<path color="#af3937" d="M485.3,238.3l2.6,-4.3l5,-1.1l-2.4,4.4z"/>
<path color="#aa3836" d="M537.4,184.5l2,-3.6l1.7,-3.7l-2,3.4z"/>
<path color="#95312f" d="M563.1,126.1l1.8,-2.8l1.7,-2l-1.8,2.8z"/>
<path color="#c4463f" d="M582.6,170.4l1.5,-4.2l1.8,10.8l-1.5,4.4z"/>
<path color="#b73c3a" d="M467.4,243.7l2.1,-3.5l2.5,-1l3.2,0l-2.7,4.5z"/>
<path color="#aa603d" d="M622.8,282.3l1.2,-4.9l4.1,-2.5l-1.2,4.8z"/>
<path color="#993230" d="M564.8,124.1l1.8,-2.8l1.7,-1.5l-1.7,2.9z"/>
<path color="#ac3836" d="M551.1,151.2l1.9,-3.2l1.6,-4.5l-1.8,3.1z"/>
<path color="#c4463f" d="M580.8,160.1l1.6,-4.1l1.7,10.2l-1.5,4.2z"/>
<path color="#ab3836" d="M539.1,180.6l2,-3.4l1.6,-4l-2,3.4z"/>
<path color="#bb3d3b" d="M462.3,243.4l0.5,-0.7l6.7,-2.5l-2.1,3.5z"/>
<path color="#d46048" d="M598.9,272.6l1.5,-5.6l1.7,4.9l-1.4,5.5z"/>
<path color="#9c3331" d="M508.3,226.3l2.3,-4.3l3.8,-2.7l-2.3,4.3z"/>
<path color="#d8654a" d="M600.7,277.4l1.4,-5.5l1.8,3.8l-1.4,5.5z"/>
<path color="#cf5a46" d="M597.2,266.4l1.4,-5.6l1.8,6.2l-1.5,5.6z"/>
<path color="#bd3e3c" d="M462.8,242.7l-0.5,0.7l-1.5,-0.1z"/>
<path color="#de6b4c" d="M602.5,281.2l1.4,-5.5l1.7,3l-1.3,5.4z"/>
<path color="#cb5644" d="M595.4,258.7l1.4,-5.7l1.8,7.8l-1.4,5.6z"/>
<path color="#b23a38" d="M566.6,122.7l1.7,-2.9l1.7,-0.4l-1.7,3z"/>
<path color="#e1704e" d="M604.3,284.1l1.3,-5.4l1.8,2.5l-1.4,5.4z"/>
<path color="#c5453f" d="M579,150.9l1.6,-3.9l1.8,9l-1.6,4.1z"/>
<path color="#ac3836" d="M490.5,237.3l2.4,-4.4l3.9,-1l-2.5,4.3z"/>
<path color="#e67651" d="M606,286.6l1.4,-5.4l1.7,1.8l-1.3,5.3z"/>
<path color="#91302e" d="M525.9,206.1l2.2,-3.9l3.8,-6.4l-2.1,3.8z"/>
<path color="#c85142" d="M593.6,249l1.5,-5.6l1.7,9.6l-1.4,5.7z"/>
<path color="#c74540" d="M577.2,143.4l1.6,-3.6l1.8,7.2l-1.6,3.9z"/>
<path color="#d64644" d="M568.3,122.4l1.7,-3l1.8,1.8l-1.7,3.2z"/>
<path color="#ab3836" d="M552.8,146.6l1.8,-3.1l1.7,-4.1l-1.9,3z"/>
<path color="#ab3836" d="M540.7,176.6l2,-3.4l1.7,-4.2l-2,3.4z"/>
<path color="#ce4542" d="M570.1,124.4l1.7,-3.2l1.7,3.5l-1.7,3.2z"/>
<path color="#c84540" d="M575.4,137l1.6,-3.4l1.8,6.2l-1.6,3.6z"/>
<path color="#e67951" d="M607.8,288.3l1.3,-5.3l1.8,1.2l-1.3,5.3z"/>
<path color="#cd4541" d="M571.8,127.9l1.7,-3.2l1.8,4l-1.7,3.3z"/>
<path color="#ca4540" d="M573.6,132l1.7,-3.3l1.7,4.9l-1.6,3.4z"/>
<path color="#ad683f" d="M626.9,279.7l1.2,-4.8l4.1,-2.3l-1.1,4.7z"/>
<path color="#c85042" d="M591.8,239.5l1.5,-5.6l1.8,9.5l-1.5,5.6z"/>
<path color="#e57c51" d="M609.6,289.5l1.3,-5.3l1.8,1l-1.3,5.2z"/>
<path color="#983230" d="M512.1,223.6l2.3,-4.3l3.8,-3.4l-2.2,4.2z"/>
<path color="#b63c39" d="M472.5,243.7l2.7,-4.5l5,-0.3l-2.6,4.5z"/>
<path color="#a83735" d="M494.3,236.2l2.5,-4.3l3.8,-1.5l-2.4,4.4z"/>
<path color="#aa3836" d="M554.4,142.4l1.9,-3l1.7,-4l-1.8,3z"/>
<path color="#c74f42" d="M590,229.7l1.5,-5.5l1.8,9.7l-1.5,5.6z"/>
<path color="#db794e" d="M611.4,290.4l1.3,-5.2l1.7,0.6l-1.2,5.1z"/>
<path color="#ac3836" d="M542.4,172.4l2,-3.4l1.6,-4.3l-1.9,3.3z"/>
<path color="#c06d45" d="M613.2,290.9l1.2,-5.1l1.8,-0.2l-1.2,5z"/>
<path color="#c74e41" d="M588.2,219.9l1.5,-5.1l1.8,9.4l-1.5,5.5z"/>
<path color="#b06f42" d="M631.1,277.3l1.1,-4.7l4.1,-2.3l-1,4.8z"/>
<path color="#a83735" d="M529.8,199.6l2.1,-3.8l3.8,-7.6l-2,3.7z"/>
<path color="#aa3836" d="M556.2,138.4l1.8,-3l1.7,-3.8l-1.8,3z"/>
<path color="#be3e3c" d="M454.4,247.5l1.6,-2.6l4.8,-1.6l1.5,0.1l-2.8,4.6z"/>
<path color="#ac3836" d="M544.1,168l1.9,-3.3l1.7,-4.4l-1.9,3.3z"/>
<path color="#b26741" d="M615,290.6l1.2,-5l1.8,-0.8l-1.2,5.1z"/>
<path color="#c74d41" d="M586.4,209.9l1.6,-4.9l1.7,9.8l-1.5,5.1z"/>
<path color="#a43634" d="M498.2,234.8l2.4,-4.4l3.8,-1.8l-2.4,4.3z"/>
<path color="#95312f" d="M516,220.1l2.2,-4.2l3.9,-4.5l-2.2,4.1z"/>
<path color="#b33b39" d="M477.6,243.4l2.6,-4.5l5.1,-0.6l-2.5,4.5z"/>
<path color="#bf3f3c" d="M456,244.9l-1.6,2.6l-4.9,-0.5z"/>
<path color="#b06840" d="M616.8,289.9l1.2,-5.1l1.8,-0.9l-1.2,5.1z"/>
<path color="#a73735" d="M557.9,134.6l1.8,-3l1.7,-3.2l-1.8,3z"/>
<path color="#c54c40" d="M584.6,198.5l1.6,-4.7l1.8,11.2l-1.6,4.9z"/>
<path color="#ac3836" d="M545.8,163.6l1.9,-3.3l1.7,-4.5l-1.9,3.3z"/>
<path color="#b67944" d="M635.3,275.1l1,-4.8l4.2,-2l-1,4.8z"/>
<path color="#aa3836" d="M533.7,191.9l2,-3.7l1.7,-3.7l-2.1,3.6z"/>
<path color="#b06b41" d="M618.6,289l1.2,-5.1l1.8,-0.9l-1.2,5z"/>
<path color="#95322f" d="M559.6,131.4l1.8,-3l1.7,-2.3l-1.8,2.9z"/>
<path color="#c44b40" d="M582.8,186l1.6,-4.6l1.8,12.4l-1.6,4.7z"/>
<path color="#bb3d3b" d="M459.5,248l2.8,-4.6l5.1,0.3l-2.8,4.5z"/>
<path color="#a03433" d="M502,232.9l2.4,-4.3l3.9,-2.3l-2.4,4.3z"/>
<path color="#ac6b40" d="M620.4,288l1.2,-5l1.2,-0.7l-1.2,4.9z"/>
<path color="#ad3937" d="M547.5,159.1l1.9,-3.3l1.7,-4.6l-2,3.2z"/>
<path color="#94302f" d="M519.9,215.5l2.2,-4.1l3.8,-5.3l-2.1,4z"/>
<path color="#af3937" d="M482.8,242.8l2.5,-4.5l5.2,-1l-2.6,4.5z"/>
<path color="#aa3836" d="M535.3,188.1l2.1,-3.6l1.7,-3.9l-2.1,3.6z"/>
<path color="#963330" d="M561.3,129l1.8,-2.9l1.7,-2l-1.7,3z"/>
<path color="#c54b40" d="M581,174.8l1.6,-4.4l1.8,11l-1.6,4.6z"/>
<path color="#bb8246" d="M639.5,273.1l1,-4.8l4.2,-1.8l-1,4.8z"/>
<path color="#ae6f41" d="M621.6,287.2l1.2,-4.9l4.1,-2.6l-1.1,4.9z"/>
<path color="#c54a40" d="M579.1,164.2l1.7,-4.1l1.8,10.3l-1.6,4.4z"/>
<path color="#9a3531" d="M563.1,127.1l1.7,-3l1.8,-1.4l-1.8,2.9z"/>
<path color="#ad3a37" d="M549.1,154.4l2,-3.2l1.7,-4.6l-2,3.2z"/>
<path color="#da744d" d="M597.5,278.3l1.4,-5.7l1.8,4.8l-1.4,5.6z"/>
<path color="#df794f" d="M599.3,283l1.4,-5.6l1.8,3.8l-1.4,5.5z"/>
<path color="#d56e4b" d="M595.7,272.1l1.5,-5.7l1.7,6.2l-1.4,5.7z"/>
<path color="#b73c3a" d="M464.6,248.2l2.8,-4.5l5.1,0l-2.7,4.5z"/>
<path color="#ab3936" d="M537,184.2l2.1,-3.6l1.6,-4l-2,3.5z"/>
<path color="#9c3331" d="M505.9,230.6l2.4,-4.3l3.8,-2.7l-2.3,4.3z"/>
<path color="#e48052" d="M601.1,286.7l1.4,-5.5l1.8,2.9l-1.4,5.5z"/>
<path color="#d16949" d="M593.9,264.4l1.5,-5.7l1.8,7.7l-1.5,5.7z"/>
<path color="#e88554" d="M602.9,289.6l1.4,-5.5l1.7,2.5l-1.3,5.4z"/>
<path color="#c64940" d="M577.3,154.9l1.7,-4l1.8,9.2l-1.7,4.1z"/>
<path color="#b53e3a" d="M564.8,125.6l1.8,-2.9l1.7,-0.3l-1.7,3.1z"/>
<path color="#ac3836" d="M487.9,241.8l2.6,-4.5l3.8,-1.1l-2.5,4.5z"/>
<path color="#bf3f3c" d="M446.4,251.6l2.8,-4.5l0.3,-0.1l4.9,0.5l-2.9,4.6z"/>
<path color="#ed8b56" d="M604.7,292l1.3,-5.4l1.8,1.7l-1.3,5.4z"/>
<path color="#ce6447" d="M592.1,254.8l1.5,-5.8l1.8,9.7l-1.5,5.7z"/>
<path color="#91302e" d="M523.8,210.1l2.1,-4l3.9,-6.5l-2.2,3.9z"/>
<path color="#c03f3d" d="M441.3,251l1.1,-1.8l6.8,-2.1l-2.8,4.5z"/>
<path color="#c84941" d="M575.5,147.2l1.7,-3.8l1.8,7.5l-1.7,4z"/>
<path color="#d74b45" d="M566.6,125.5l1.7,-3.1l1.8,2l-1.8,3.2z"/>
<path color="#bf8b47" d="M643.7,271.3l1,-4.8l4.2,-1.5l-1,4.8z"/>
<path color="#ac3a37" d="M550.8,149.8l2,-3.2l1.6,-4.2l-1.8,3.2z"/>
<path color="#ac3a37" d="M538.7,180.1l2,-3.5l1.7,-4.2l-2,3.4z"/>
<path color="#ec8e56" d="M606.5,293.7l1.3,-5.4l1.8,1.2l-1.3,5.3z"/>
<path color="#c94941" d="M573.7,140.5l1.7,-3.5l1.8,6.4l-1.7,3.8z"/>
<path color="#d04943" d="M568.3,127.6l1.8,-3.2l1.7,3.5l-1.7,3.3z"/>
<path color="#ce4942" d="M570.1,131.2l1.7,-3.3l1.8,4.1l-1.7,3.4z"/>
<path color="#cc4942" d="M571.9,135.4l1.7,-3.4l1.8,5l-1.7,3.5z"/>
<path color="#b27842" d="M625.8,284.6l1.1,-4.9l4.2,-2.4l-1.1,4.9z"/>
<path color="#cd6146" d="M590.3,245.2l1.5,-5.7l1.8,9.5l-1.5,5.8z"/>
<path color="#ea9056" d="M608.3,294.8l1.3,-5.3l1.8,0.9l-1.3,5.3z"/>
<path color="#983230" d="M509.8,227.9l2.3,-4.3l3.9,-3.5l-2.3,4.3z"/>
<path color="#b63c39" d="M469.8,248.2l2.7,-4.5l5.1,-0.3l-2.7,4.6z"/>
<path color="#cc5d45" d="M588.5,235.3l1.5,-5.6l1.8,9.8l-1.5,5.7z"/>
<path color="#a83735" d="M491.8,240.7l2.5,-4.5l3.9,-1.4l-2.5,4.5z"/>
<path color="#ab3b37" d="M552.6,145.6l1.8,-3.2l1.8,-4l-1.9,3.1z"/>
<path color="#de8b52" d="M610.1,295.7l1.3,-5.3l1.8,0.5l-1.3,5.2z"/>
<path color="#ac3b37" d="M540.4,175.8l2,-3.4l1.7,-4.4l-2,3.4z"/>
<path color="#c59649" d="M647.9,269.8l1,-4.8l4.2,-1.4l-0.9,4.8z"/>
<path color="#ca5944" d="M586.7,225.2l1.5,-5.3l1.8,9.8l-1.5,5.6z"/>
<path color="#c37d49" d="M611.9,296.1l1.3,-5.2l1.8,-0.3l-1.3,5.2z"/>
<path color="#b68044" d="M630,282.2l1.1,-4.9l4.2,-2.2l-1.1,4.8z"/>
<path color="#a93936" d="M527.6,203.5l2.2,-3.9l3.9,-7.7l-2.2,3.7z"/>
<path color="#ab3b37" d="M554.3,141.5l1.9,-3.1l1.7,-3.8l-1.9,3.1z"/>
<path color="#be3e3c" d="M451.5,252.1l2.9,-4.6l5.1,0.5l-2.9,4.6z"/>
<path color="#c95643" d="M584.8,214.9l1.6,-5l1.8,10l-1.5,5.3z"/>
<path color="#ad3b37" d="M542.1,171.4l2,-3.4l1.7,-4.4l-2,3.4z"/>
<path color="#b67744" d="M613.7,295.8l1.3,-5.2l1.8,-0.7l-1.3,5.1z"/>
<path color="#a43634" d="M495.7,239.3l2.5,-4.5l3.8,-1.9l-2.4,4.5z"/>
<path color="#95322f" d="M513.7,224.4l2.3,-4.3l3.9,-4.6l-2.3,4.2z"/>
<path color="#b33b39" d="M474.9,248l2.7,-4.6l5.2,-0.6l-2.7,4.6z"/>
<path color="#c75242" d="M583,203.2l1.6,-4.7l1.8,11.4l-1.6,5z"/>
<path color="#caa04b" d="M652.2,268.4l0.9,-4.8l4.2,-1.1l-0.8,4.8z"/>
<path color="#b47843" d="M615.5,295l1.3,-5.1l1.8,-0.9l-1.3,5.1z"/>
<path color="#a93b36" d="M556,137.7l1.9,-3.1l1.7,-3.2l-1.9,3z"/>
<path color="#ad3c37" d="M543.8,167l2,-3.4l1.7,-4.5l-2,3.3z"/>
<path color="#bb8a46" d="M634.2,279.9l1.1,-4.8l4.2,-2l-1,4.8z"/>
<path color="#ab3b37" d="M531.5,195.6l2.2,-3.7l1.6,-3.8l-2.1,3.7z"/>
<path color="#b57b43" d="M617.3,294.1l1.3,-5.1l1.8,-1l-1.3,5.1z"/>
<path color="#c54f41" d="M581.2,190.5l1.6,-4.5l1.8,12.5l-1.6,4.7z"/>
<path color="#bb3d3b" d="M456.6,252.6l2.9,-4.6l5.1,0.2l-2.8,4.7z"/>
<path color="#963530" d="M557.7,134.4l1.9,-3l1.7,-2.4l-1.8,3z"/>
<path color="#a03433" d="M499.6,237.4l2.4,-4.5l3.9,-2.3l-2.4,4.5z"/>
<path color="#b17b42" d="M619.1,293.1l1.3,-5.1l1.2,-0.8l-1.2,5.1z"/>
<path color="#cea94d" d="M656.5,267.3l0.8,-4.8l4.3,-0.9l-0.8,4.7z"/>
<path color="#94332f" d="M517.6,219.7l2.3,-4.2l3.9,-5.4l-2.3,4.1z"/>
<path color="#ae3d38" d="M545.5,162.4l2,-3.3l1.6,-4.7l-1.9,3.3z"/>
<path color="#af3937" d="M480.1,247.4l2.7,-4.6l5.1,-1l-2.6,4.6z"/>
<path color="#ac3c37" d="M533.2,191.8l2.1,-3.7l1.7,-3.9l-2.1,3.6z"/>
<path color="#c64f41" d="M579.3,179.2l1.7,-4.4l1.8,11.2l-1.6,4.5z"/>
<path color="#973631" d="M559.5,132l1.8,-3l1.8,-1.9l-1.9,2.9z"/>
<path color="#c09448" d="M638.5,277.9l1,-4.8l4.2,-1.8l-1,4.9z"/>
<path color="#b38043" d="M620.4,292.3l1.2,-5.1l4.2,-2.6l-1.2,5z"/>
<path color="#c64e41" d="M577.5,168.5l1.6,-4.3l1.9,10.6l-1.7,4.4z"/>
<path color="#c03f3d" d="M438.2,255.6l3.1,-4.6l5.1,0.6l-3,4.7z"/>
<path color="#e08752" d="M596,284l1.5,-5.7l1.8,4.7l-1.4,5.7z"/>
<path color="#9c3832" d="M561.2,130l1.9,-2.9l1.7,-1.5l-1.8,3z"/>
<path color="#e58e55" d="M597.9,288.7l1.4,-5.7l1.8,3.7l-1.4,5.7z"/>
<path color="#db8150" d="M594.2,278l1.5,-5.9l1.8,6.2l-1.5,5.7z"/>
<path color="#ae3e38" d="M547.2,157.7l1.9,-3.3l1.7,-4.6l-1.9,3.3z"/>
<path color="#b73c3a" d="M461.8,252.9l2.8,-4.7l5.2,0l-2.8,4.7z"/>
<path color="#9d3532" d="M503.5,235.1l2.4,-4.5l3.9,-2.7l-2.3,4.5z"/>
<path color="#ac3d37" d="M534.9,187.8l2.1,-3.6l1.7,-4.1l-2.1,3.6z"/>
<path color="#eb9457" d="M599.7,292.4l1.4,-5.7l1.8,2.9l-1.4,5.7z"/>
<path color="#d77c4e" d="M592.4,270.3l1.5,-5.9l1.8,7.7l-1.5,5.9z"/>
<path color="#d1b04e" d="M660.8,266.3l0.8,-4.7l4.2,-0.8l-0.7,4.8z"/>
<path color="#ef9a59" d="M601.5,295.3l1.4,-5.7l1.8,2.4l-1.4,5.6z"/>
<path color="#c74e41" d="M575.7,159l1.6,-4.1l1.8,9.3l-1.6,4.3z"/>
<path color="#ac3836" d="M485.3,246.4l2.6,-4.6l3.9,-1.1l-2.5,4.6z"/>
<path color="#b8433c" d="M563,128.6l1.8,-3l1.8,-0.1l-1.8,3.1z"/>
<path color="#d3774c" d="M590.6,260.7l1.5,-5.9l1.8,9.6l-1.5,5.9z"/>
<path color="#f3a05b" d="M603.3,297.6l1.4,-5.6l1.8,1.7l-1.4,5.5z"/>
<path color="#c94e42" d="M573.8,151l1.7,-3.8l1.8,7.7l-1.6,4.1z"/>
<path color="#92332f" d="M521.5,214.2l2.3,-4.1l3.8,-6.6l-2.1,4z"/>
<path color="#d74f46" d="M564.8,128.6l1.8,-3.1l1.7,2.1l-1.7,3.3z"/>
<path color="#c59e49" d="M642.7,276.2l1,-4.9l4.2,-1.5l-0.9,4.8z"/>
<path color="#ad3e38" d="M548.9,153.1l1.9,-3.3l1.8,-4.2l-2,3.2z"/>
<path color="#f2a35a" d="M605.1,299.2l1.4,-5.5l1.8,1.1l-1.4,5.5z"/>
<path color="#ad3e38" d="M536.6,183.7l2.1,-3.6l1.7,-4.3l-2.1,3.6z"/>
<path color="#ca4d42" d="M572,144.1l1.7,-3.6l1.8,6.7l-1.7,3.8z"/>
<path color="#d14e44" d="M566.6,130.9l1.7,-3.3l1.8,3.6l-1.7,3.4z"/>
<path color="#d3744b" d="M588.8,251.1l1.5,-5.9l1.8,9.6l-1.5,5.9z"/>
<path color="#cf4e43" d="M568.4,134.6l1.7,-3.4l1.8,4.2l-1.7,3.4z"/>
<path color="#cd4e43" d="M570.2,138.8l1.7,-3.4l1.8,5.1l-1.7,3.6z"/>
<path color="#b78944" d="M624.6,289.6l1.2,-5l4.2,-2.4l-1.1,5z"/>
<path color="#bf3f3c" d="M443.4,256.3l3,-4.7l5.1,0.5l-3,4.7z"/>
<path color="#f0a559" d="M606.9,300.3l1.4,-5.5l1.8,0.9l-1.4,5.4z"/>
<path color="#d3b64f" d="M665.1,265.6l0.7,-4.8l4.3,-0.4l-0.7,4.8z"/>
<path color="#993531" d="M507.5,232.4l2.3,-4.5l3.9,-3.5l-2.3,4.4z"/>
<path color="#b63c39" d="M467,252.9l2.8,-4.7l5.1,-0.2l-2.7,4.6z"/>
<path color="#d1704a" d="M586.9,241l1.6,-5.7l1.8,9.9l-1.5,5.9z"/>
<path color="#a83735" d="M489.3,245.3l2.5,-4.6l3.9,-1.4l-2.5,4.5z"/>
<path color="#e29f54" d="M608.7,301.1l1.4,-5.4l1.8,0.4l-1.3,5.4z"/>
<path color="#ac3f38" d="M550.6,148.8l2,-3.2l1.7,-4.1l-1.9,3.2z"/>
<path color="#ae3f38" d="M538.3,179.4l2.1,-3.6l1.7,-4.4l-2.1,3.5z"/>
<path color="#d06c49" d="M585.1,230.6l1.6,-5.4l1.8,10.1l-1.6,5.7z"/>
<path color="#caa84b" d="M647,274.6l0.9,-4.8l4.3,-1.4l-0.9,4.9z"/>
<path color="#c78f4a" d="M610.6,301.5l1.3,-5.4l1.8,-0.3l-1.3,5.3z"/>
<path color="#bb9246" d="M628.9,287.2l1.1,-5l4.2,-2.3l-1.1,5z"/>
<path color="#d3b94f" d="M669.4,265.2l0.7,-4.8l4.3,-0.2l-0.7,4.8z"/>
<path color="#aa3d37" d="M525.5,207.5l2.1,-4l3.9,-7.9l-2.1,3.8z"/>
<path color="#ce6848" d="M583.2,220l1.6,-5.1l1.9,10.3l-1.6,5.4z"/>
<path color="#ac3f38" d="M552.4,144.7l1.9,-3.2l1.7,-3.8l-1.9,3.1z"/>
<path color="#be3e3c" d="M448.5,256.8l3,-4.7l5.1,0.5l-2.9,4.7z"/>
<path color="#ba8845" d="M612.4,301.1l1.3,-5.3l1.8,-0.8l-1.3,5.2z"/>
<path color="#ae3f38" d="M540,174.9l2.1,-3.5l1.7,-4.4l-2,3.4z"/>
<path color="#a43834" d="M493.2,243.8l2.5,-4.5l3.9,-1.9l-2.5,4.5z"/>
<path color="#963530" d="M511.4,228.8l2.3,-4.4l3.9,-4.7l-2.3,4.3z"/>
<path color="#b33b39" d="M472.2,252.6l2.7,-4.6l5.2,-0.6l-2.6,4.7z"/>
<path color="#cc6447" d="M581.4,208.1l1.6,-4.9l1.8,11.7l-1.6,5.1z"/>
<path color="#cbac4c" d="M651.3,273.3l0.9,-4.9l4.3,-1.1l-0.9,4.9z"/>
<path color="#b98945" d="M614.2,300.2l1.3,-5.2l1.8,-0.9l-1.3,5.2z"/>
<path color="#aa3f37" d="M554.1,140.8l1.9,-3.1l1.7,-3.3l-1.9,3z"/>
<path color="#ae4038" d="M541.8,170.4l2,-3.4l1.7,-4.6l-2,3.5z"/>
<path color="#d2bd4e" d="M673.7,265l0.7,-4.8l5.8,0l-0.7,4.8z"/>
<path color="#c19c48" d="M633.1,284.9l1.1,-5l4.3,-2l-1.1,5z"/>
<path color="#b98c45" d="M616,299.3l1.3,-5.2l1.8,-1l-1.2,5.2z"/>
<path color="#ac3f38" d="M529.4,199.4l2.1,-3.8l1.7,-3.8l-2.1,3.7z"/>
<path color="#ca6046" d="M579.5,195.2l1.7,-4.7l1.8,12.7l-1.6,4.9z"/>
<path color="#bb3d3b" d="M453.7,257.3l2.9,-4.7l5.2,0.3l-2.9,4.7z"/>
<path color="#973831" d="M555.8,137.4l1.9,-3l1.8,-2.4l-1.9,3z"/>
<path color="#a13833" d="M497.1,241.9l2.5,-4.5l3.9,-2.3l-2.4,4.5z"/>
<path color="#b68c44" d="M617.9,298.3l1.2,-5.2l1.3,-0.8l-1.3,5.1z"/>
<path color="#cbaf4c" d="M655.6,272.2l0.9,-4.9l4.3,-1l-0.9,4.9z"/>
<path color="#953630" d="M515.3,224l2.3,-4.3l3.9,-5.5l-2.2,4.2z"/>
<path color="#af3a38" d="M477.5,252.1l2.6,-4.7l5.2,-1l-2.6,4.6z"/>
<path color="#af4139" d="M543.5,165.9l2,-3.5l1.7,-4.7l-2,3.4z"/>
<path color="#ca5e45" d="M577.7,183.7l1.6,-4.5l1.9,11.3l-1.7,4.7z"/>
<path color="#ad4038" d="M531.1,195.5l2.1,-3.7l1.7,-4l-2.1,3.7z"/>
<path color="#993a32" d="M557.6,135l1.9,-3l1.7,-2l-1.8,3.1z"/>
<path color="#c5a549" d="M637.4,282.9l1.1,-5l4.2,-1.7l-1,5z"/>
<path color="#d1c04e" d="M679.5,265l0.7,-4.8l5.7,0.1l-0.5,4.8z"/>
<path color="#b79144" d="M619.1,297.4l1.3,-5.1l4.2,-2.7l-1.2,5.1z"/>
<path color="#ca5a44" d="M575.8,172.9l1.7,-4.4l1.8,10.7l-1.6,4.5z"/>
<path color="#e79d56" d="M594.6,290l1.4,-6l1.9,4.7l-1.5,5.9z"/>
<path color="#c03f3d" d="M435.1,260.4l3.1,-4.8l5.2,0.7l-3.1,4.7z"/>
<path color="#e19654" d="M592.7,283.9l1.5,-5.9l1.8,6l-1.4,6z"/>
<path color="#eca458" d="M596.4,294.6l1.5,-5.9l1.8,3.7l-1.5,5.8z"/>
<path color="#9d3c33" d="M559.4,133.1l1.8,-3.1l1.8,-1.4l-1.8,3.1z"/>
<path color="#af4239" d="M545.2,161.1l2,-3.4l1.7,-4.6l-2,3.3z"/>
<path color="#f2ab5a" d="M598.2,298.2l1.5,-5.8l1.8,2.9l-1.5,5.7z"/>
<path color="#b73c3a" d="M458.9,257.6l2.9,-4.7l5.2,0l-2.8,4.7z"/>
<path color="#9e3833" d="M501.1,239.6l2.4,-4.5l4,-2.7l-2.4,4.5z"/>
<path color="#dd9053" d="M590.9,276.2l1.5,-5.9l1.8,7.7l-1.5,5.9z"/>
<path color="#ad4138" d="M532.8,191.5l2.1,-3.7l1.7,-4.1l-2.1,3.6z"/>
<path color="#ccb44c" d="M659.9,271.2l0.9,-4.9l4.3,-0.7l-0.8,4.9z"/>
<path color="#f6b25c" d="M600,301l1.5,-5.7l1.8,2.3l-1.4,5.7z"/>
<path color="#ca5744" d="M574,163.1l1.7,-4.1l1.8,9.5l-1.7,4.4z"/>
<path color="#d98a51" d="M589,266.7l1.6,-6l1.8,9.6l-1.5,5.9z"/>
<path color="#ad3b37" d="M482.7,251l2.6,-4.6l4,-1.1l-2.6,4.6z"/>
<path color="#bd493e" d="M561.2,131.7l1.8,-3.1l1.8,0l-1.9,3.1z"/>
<path color="#fab85d" d="M601.9,303.3l1.4,-5.7l1.8,1.6l-1.4,5.6z"/>
<path color="#ca5443" d="M572.1,154.8l1.7,-3.8l1.9,8l-1.7,4.1z"/>
<path color="#933630" d="M519.3,218.4l2.2,-4.2l4,-6.7l-2.3,4z"/>
<path color="#c5a849" d="M641.7,281.2l1,-5l4.3,-1.6l-1,5z"/>
<path color="#d85447" d="M562.9,131.7l1.9,-3.1l1.8,2.3l-1.8,3.3z"/>
<path color="#f8ba5c" d="M603.7,304.8l1.4,-5.6l1.8,1.1l-1.4,5.5z"/>
<path color="#d88750" d="M587.2,257.1l1.6,-6l1.8,9.6l-1.6,6z"/>
<path color="#ae4239" d="M546.9,156.4l2,-3.3l1.7,-4.3l-1.9,3.3z"/>
<path color="#cb5243" d="M570.3,147.7l1.7,-3.6l1.8,6.9l-1.7,3.8z"/>
<path color="#ae4239" d="M534.5,187.3l2.1,-3.6l1.7,-4.3l-2.1,3.6z"/>
<path color="#d25245" d="M564.8,134.2l1.8,-3.3l1.8,3.7l-1.8,3.5z"/>
<path color="#d15345" d="M566.6,138.1l1.8,-3.5l1.8,4.2l-1.8,3.6z"/>
<path color="#ce5244" d="M568.4,142.4l1.8,-3.6l1.8,5.3l-1.7,3.6z"/>
<path color="#bc9a46" d="M623.4,294.7l1.2,-5.1l4.3,-2.4l-1.2,5z"/>
<path color="#cfc44d" d="M685.4,265.1l0.5,-4.8l5.8,0.3l-0.5,4.8z"/>
<path color="#bf3f3c" d="M440.3,261l3.1,-4.7l5.1,0.5l-3,4.8z"/>
<path color="#f5bb5b" d="M605.5,305.8l1.4,-5.5l1.8,0.8l-1.3,5.5z"/>
<path color="#ceb94d" d="M664.3,270.5l0.8,-4.9l4.3,-0.4l-0.8,4.9z"/>
<path color="#d7834f" d="M585.3,246.8l1.6,-5.8l1.9,10.1l-1.6,6z"/>
<path color="#993832" d="M505.1,236.9l2.4,-4.5l3.9,-3.6l-2.4,4.4z"/>
<path color="#b63c39" d="M464.2,257.6l2.8,-4.7l5.2,-0.3l-2.8,4.8z"/>
<path color="#a93b36" d="M486.7,249.9l2.6,-4.6l3.9,-1.5l-2.6,4.7z"/>
<path color="#e5b255" d="M607.4,306.6l1.3,-5.5l1.9,0.4l-1.4,5.4z"/>
<path color="#ae4239" d="M548.7,152.1l1.9,-3.3l1.8,-4.1l-2,3.2z"/>
<path color="#af4239" d="M536.2,183l2.1,-3.6l1.7,-4.5l-2,3.6z"/>
<path color="#d57f4e" d="M583.5,236.1l1.6,-5.5l1.8,10.4l-1.6,5.8z"/>
<path color="#c5ac4a" d="M646,279.6l1,-5l4.3,-1.3l-0.9,5z"/>
<path color="#cba04c" d="M609.2,306.9l1.4,-5.4l1.8,-0.4l-1.4,5.4z"/>
<path color="#bea047" d="M627.7,292.2l1.2,-5l4.2,-2.3l-1.1,5.1z"/>
<path color="#cdbc4d" d="M668.6,270.1l0.8,-4.9l4.3,-0.2l-0.7,4.9z"/>
<path color="#d47b4d" d="M581.6,225.2l1.6,-5.2l1.9,10.6l-1.6,5.5z"/>
<path color="#ab4138" d="M523.2,211.5l2.3,-4l3.9,-8.1l-2.2,3.9z"/>
<path color="#cdc44e" d="M691.2,265.4l0.5,-4.8l5.9,0.5l-0.5,4.9z"/>
<path color="#ad4339" d="M550.4,147.9l2,-3.2l1.7,-3.9l-1.9,3.2z"/>
<path color="#be3e3c" d="M445.5,261.6l3,-4.8l5.2,0.5l-2.9,4.8z"/>
<path color="#bf9947" d="M611,306.5l1.4,-5.4l1.8,-0.9l-1.3,5.4z"/>
<path color="#af4339" d="M538,178.5l2,-3.6l1.8,-4.5l-2.1,3.5z"/>
<path color="#a53b35" d="M490.6,248.5l2.6,-4.7l3.9,-1.9l-2.5,4.7z"/>
<path color="#973831" d="M509,233.2l2.4,-4.4l3.9,-4.8l-2.3,4.4z"/>
<path color="#b43d39" d="M469.4,257.4l2.8,-4.8l5.3,-0.5l-2.8,4.7z"/>
<path color="#d2774c" d="M579.7,213.1l1.7,-5l1.8,11.9l-1.6,5.2z"/>
<path color="#c6af4a" d="M650.4,278.3l0.9,-5l4.3,-1.1l-0.9,5z"/>
<path color="#bd9a46" d="M612.9,305.6l1.3,-5.4l1.8,-0.9l-1.3,5.3z"/>
<path color="#ab4338" d="M552.2,144l1.9,-3.2l1.7,-3.4l-1.9,3.2z"/>
<path color="#af4439" d="M539.7,173.9l2.1,-3.5l1.7,-4.5l-2.1,3.4z"/>
<path color="#ccc04c" d="M673,269.9l0.7,-4.9l5.8,0l-0.6,4.9z"/>
<path color="#bfa447" d="M632,290l1.1,-5.1l4.3,-2l-1.1,5.1z"/>
<path color="#be9d47" d="M614.7,304.6l1.3,-5.3l1.9,-1l-1.3,5.2z"/>
<path color="#d0734a" d="M577.9,200l1.6,-4.8l1.9,12.9l-1.7,5z"/>
<path color="#ad4339" d="M527.2,203.3l2.2,-3.9l1.7,-3.9l-2.2,3.9z"/>
<path color="#c7c34d" d="M697.1,266l0.5,-4.9l5.8,0.7l-0.3,4.9z"/>
<path color="#bb3d3b" d="M450.8,262.1l2.9,-4.8l5.2,0.3l-2.9,4.8z"/>
<path color="#973c32" d="M553.9,140.6l1.9,-3.2l1.8,-2.4l-1.9,3.1z"/>
<path color="#a23b34" d="M494.6,246.6l2.5,-4.7l4,-2.3l-2.5,4.7z"/>
<path color="#ba9b45" d="M616.6,303.5l1.3,-5.2l1.2,-0.9l-1.2,5.3z"/>
<path color="#c5b249" d="M654.7,277.2l0.9,-5l4.3,-1l-0.8,5z"/>
<path color="#b03e39" d="M474.7,256.8l2.8,-4.7l5.2,-1.1l-2.7,4.8z"/>
<path color="#963931" d="M513,228.4l2.3,-4.4l4,-5.6l-2.3,4.3z"/>
<path color="#d0704a" d="M576,188.3l1.7,-4.6l1.8,11.5l-1.6,4.8z"/>
<path color="#b0453a" d="M541.4,169.3l2.1,-3.4l1.7,-4.8l-2.1,3.5z"/>
<path color="#ae4439" d="M528.9,199.4l2.2,-3.9l1.7,-4l-2.2,3.8z"/>
<path color="#9a3d33" d="M555.7,138.1l1.9,-3.1l1.8,-1.9l-1.9,3.1z"/>
<path color="#c0a848" d="M636.3,288l1.1,-5.1l4.3,-1.7l-1,5.1z"/>
<path color="#c8bf4c" d="M678.9,269.9l0.6,-4.9l5.9,0.1l-0.6,5z"/>
<path color="#eeb359" d="M593,296l1.6,-6l1.8,4.6l-1.5,6z"/>
<path color="#cf6d49" d="M574.1,177.3l1.7,-4.4l1.9,10.8l-1.7,4.6z"/>
<path color="#b99c45" d="M617.9,302.7l1.2,-5.3l4.3,-2.7l-1.2,5.2z"/>
<path color="#e8ac57" d="M591.2,290l1.5,-6.1l1.9,6.1l-1.6,6z"/>
<path color="#f4bb5b" d="M594.9,300.6l1.5,-6l1.8,3.6l-1.5,5.9z"/>
<path color="#c03f3d" d="M431.9,265.2l3.2,-4.8l5.2,0.6l-3.1,4.9z"/>
<path color="#c2c14c" d="M703.1,266.7l0.3,-4.9l5.9,0.8l-0.3,5z"/>
<path color="#e4a555" d="M589.3,282.3l1.6,-6.1l1.8,7.7l-1.5,6.1z"/>
<path color="#fac35d" d="M596.7,304.1l1.5,-5.9l1.8,2.8l-1.4,5.9z"/>
<path color="#9f4034" d="M557.5,136.2l1.9,-3.1l1.8,-1.4l-1.9,3.1z"/>
<path color="#b83e3a" d="M456,262.4l2.9,-4.8l5.3,0l-2.9,4.8z"/>
<path color="#b0453a" d="M543.1,164.6l2.1,-3.5l1.7,-4.7l-2,3.4z"/>
<path color="#9f3c34" d="M498.6,244.3l2.5,-4.7l4,-2.7l-2.5,4.6z"/>
<path color="#af4439" d="M530.6,195.3l2.2,-3.8l1.7,-4.2l-2.1,3.8z"/>
<path color="#c6b74a" d="M659.1,276.2l0.8,-5l4.4,-0.7l-0.8,5z"/>
<path color="#fec95f" d="M598.6,306.9l1.4,-5.9l1.9,2.3l-1.5,5.8z"/>
<path color="#cf6a48" d="M572.2,167.3l1.8,-4.2l1.8,9.8l-1.7,4.4z"/>
<path color="#e09f53" d="M587.5,272.8l1.5,-6.1l1.9,9.5l-1.6,6.1z"/>
<path color="#ae3f38" d="M480,255.8l2.7,-4.8l4,-1.1l-2.7,4.8z"/>
<path color="#ffcf60" d="M600.4,309.1l1.5,-5.8l1.8,1.5l-1.4,5.8z"/>
<path color="#c24f40" d="M559.3,134.8l1.9,-3.1l1.7,0l-1.8,3.3z"/>
<path color="#d06748" d="M570.3,158.8l1.8,-4l1.9,8.3l-1.8,4.2z"/>
<path color="#943a31" d="M517,222.7l2.3,-4.3l3.9,-6.9l-2.2,4.1z"/>
<path color="#df9b53" d="M585.6,263.2l1.6,-6.1l1.8,9.6l-1.5,6.1z"/>
<path color="#c0ab47" d="M640.7,286.3l1,-5.1l4.3,-1.6l-1,5.1z"/>
<path color="#fed05f" d="M602.3,310.6l1.4,-5.8l1.8,1l-1.4,5.7z"/>
<path color="#d95b48" d="M561.1,135l1.8,-3.3l1.9,2.5l-1.9,3.5z"/>
<path color="#af463a" d="M544.9,159.8l2,-3.4l1.8,-4.3l-2.1,3.3z"/>
<path color="#d06448" d="M568.5,151.5l1.8,-3.8l1.8,7.1l-1.8,4z"/>
<path color="#d55d48" d="M562.9,137.7l1.9,-3.5l1.8,3.9l-1.8,3.5z"/>
<path color="#af453a" d="M532.4,191.1l2.1,-3.8l1.7,-4.3l-2.1,3.6z"/>
<path color="#d36248" d="M566.6,146l1.8,-3.6l1.9,5.3l-1.8,3.8z"/>
<path color="#d56048" d="M564.8,141.6l1.8,-3.5l1.8,4.3l-1.8,3.6z"/>
<path color="#b9a045" d="M622.2,299.9l1.2,-5.2l4.3,-2.5l-1.2,5.2z"/>
<path color="#c4be4b" d="M684.8,270.1l0.6,-5l5.8,0.3l-0.5,5z"/>
<path color="#fad05d" d="M604.1,311.5l1.4,-5.7l1.9,0.8l-1.4,5.6z"/>
<path color="#bcbf4b" d="M709,267.6l0.3,-5l6,1l-0.3,4.9z"/>
<path color="#bf3f3c" d="M437.2,265.9l3.1,-4.9l5.2,0.6l-3.1,4.9z"/>
<path color="#dd9752" d="M583.7,252.8l1.6,-6l1.9,10.3l-1.6,6.1z"/>
<path color="#c8bc4b" d="M663.5,275.5l0.8,-5l4.3,-0.4l-0.7,5z"/>
<path color="#9a3b32" d="M502.6,241.5l2.5,-4.6l3.9,-3.7l-2.4,4.6z"/>
<path color="#b7403a" d="M461.3,262.4l2.9,-4.8l5.2,-0.2l-2.8,4.8z"/>
<path color="#aa3f37" d="M484,254.7l2.7,-4.8l3.9,-1.4l-2.6,4.7z"/>
<path color="#e6c156" d="M606,312.2l1.4,-5.6l1.8,0.3l-1.4,5.6z"/>
<path color="#af463a" d="M546.6,155.4l2.1,-3.3l1.7,-4.2l-2,3.3z"/>
<path color="#db9352" d="M581.8,241.7l1.7,-5.6l1.8,10.7l-1.6,6z"/>
<path color="#b0463a" d="M534.1,186.6l2.1,-3.6l1.8,-4.5l-2.2,3.6z"/>
<path color="#c0af48" d="M645,284.7l1,-5.1l4.4,-1.3l-1,5.1z"/>
<path color="#cbac4c" d="M607.8,312.5l1.4,-5.6l1.8,-0.4l-1.3,5.5z"/>
<path color="#d98e51" d="M579.9,230.6l1.7,-5.4l1.9,10.9l-1.7,5.6z"/>
<path color="#c5bc4a" d="M667.9,275.1l0.7,-5l4.4,-0.2l-0.7,5z"/>
<path color="#b9a345" d="M626.5,297.4l1.2,-5.2l4.3,-2.2l-1.1,5.2z"/>
<path color="#c1bf4b" d="M690.7,270.4l0.5,-5l5.9,0.6l-0.4,5z"/>
<path color="#ad4539" d="M521,215.6l2.2,-4.1l4,-8.2l-2.3,4z"/>
<path color="#b6bc4a" d="M715,268.5l0.3,-4.9l5.9,1l-0.2,5z"/>
<path color="#be3f3c" d="M442.4,266.5l3.1,-4.9l5.3,0.5l-3.1,4.9z"/>
<path color="#af483a" d="M548.4,151.2l2,-3.3l1.8,-3.9l-2,3.2z"/>
<path color="#bda146" d="M609.7,312l1.3,-5.5l1.9,-0.9l-1.4,5.4z"/>
<path color="#b0473a" d="M535.8,182.1l2.2,-3.6l1.7,-4.6l-2.1,3.6z"/>
<path color="#a73f36" d="M488,253.2l2.6,-4.7l4,-1.9l-2.6,4.7z"/>
<path color="#983c32" d="M506.6,237.8l2.4,-4.6l4,-4.8l-2.4,4.4z"/>
<path color="#b5413a" d="M466.6,262.2l2.8,-4.8l5.3,-0.6l-2.8,4.9z"/>
<path color="#d78a50" d="M578.1,218.1l1.6,-5l1.9,12.1l-1.7,5.4z"/>
<path color="#baa045" d="M611.5,311l1.4,-5.4l1.8,-1l-1.3,5.4z"/>
<path color="#c0b248" d="M649.4,283.4l1,-5.1l4.3,-1.1l-0.9,5z"/>
<path color="#ae4a3a" d="M550.2,147.2l2,-3.2l1.7,-3.4l-2,3.1z"/>
<path color="#b14a3b" d="M537.6,177.5l2.1,-3.6l1.7,-4.6l-2.1,3.6z"/>
<path color="#c1bb4a" d="M672.3,274.9l0.7,-5l5.9,0l-0.7,5z"/>
<path color="#baa745" d="M630.9,295.2l1.1,-5.2l4.3,-2l-1.1,5.2z"/>
<path color="#d5864f" d="M576.1,204.9l1.8,-4.9l1.8,13.1l-1.6,5z"/>
<path color="#b9a145" d="M613.4,310l1.3,-5.4l1.9,-1.1l-1.3,5.4z"/>
<path color="#af473a" d="M524.9,207.3l2.3,-4l1.7,-3.9l-2.2,3.9z"/>
<path color="#bbbd4a" d="M696.7,271l0.4,-5l6,0.7l-0.5,5z"/>
<path color="#aeb848" d="M721,269.6l0.2,-5l6,1l-0.2,5z"/>
<path color="#bc413c" d="M447.7,267l3.1,-4.9l5.2,0.3l-3,5z"/>
<path color="#a33f35" d="M492,251.3l2.6,-4.7l4,-2.3l-2.6,4.7z"/>
<path color="#9a4434" d="M551.9,143.7l2,-3.1l1.8,-2.5l-2,3.1z"/>
<path color="#b49e43" d="M615.3,308.9l1.3,-5.4l1.3,-0.8l-1.3,5.4z"/>
<path color="#bfb447" d="M653.8,282.2l0.9,-5l4.4,-1l-0.9,5z"/>
<path color="#b2423a" d="M471.9,261.7l2.8,-4.9l5.3,-1l-2.7,4.8z"/>
<path color="#d6834f" d="M574.2,193l1.8,-4.7l1.9,11.7l-1.8,4.9z"/>
<path color="#973c32" d="M510.6,232.8l2.4,-4.4l4,-5.7l-2.4,4.3z"/>
<path color="#b24d3c" d="M539.3,172.9l2.1,-3.6l1.7,-4.7l-2,3.5z"/>
<path color="#b04a3b" d="M526.7,203.3l2.2,-3.9l1.7,-4.1l-2.2,3.8z"/>
<path color="#9d4835" d="M553.7,141.2l2,-3.1l1.8,-1.9l-2,3.1z"/>
<path color="#bbab46" d="M635.2,293.2l1.1,-5.2l4.4,-1.7l-1.1,5.2z"/>
<path color="#f5ca5b" d="M591.5,302.1l1.5,-6.1l1.9,4.6l-1.6,6.1z"/>
<path color="#efc259" d="M589.6,296.2l1.6,-6.2l1.8,6l-1.5,6.1z"/>
<path color="#d5804e" d="M572.3,181.8l1.8,-4.5l1.9,11l-1.8,4.7z"/>
<path color="#bdba49" d="M678.2,274.9l0.7,-5l5.9,0.2l-0.6,5z"/>
<path color="#fbd15d" d="M593.3,306.7l1.6,-6.1l1.8,3.5l-1.5,6.1z"/>
<path color="#b39f43" d="M616.6,308.1l1.3,-5.4l4.3,-2.8l-1.3,5.3z"/>
<path color="#c03f3d" d="M428.7,270.2l3.2,-5l5.3,0.7l-3.2,5z"/>
<path color="#a6b447" d="M727,270.6l0.2,-5l6,1l-0.1,5z"/>
<path color="#eabb57" d="M587.7,288.6l1.6,-6.3l1.9,7.7l-1.6,6.2z"/>
<path color="#b6bb4a" d="M702.6,271.7l0.5,-5l5.9,0.9l-0.3,5z"/>
<path color="#fed65f" d="M595.2,310.2l1.5,-6.1l1.9,2.8l-1.5,5.9z"/>
<path color="#b9423c" d="M453,267.4l3,-5l5.3,0l-2.9,5z"/>
<path color="#a44d38" d="M555.5,139.3l2,-3.1l1.8,-1.4l-1.9,3.2z"/>
<path color="#a03f34" d="M496,249l2.6,-4.7l4,-2.8l-2.5,4.7z"/>
<path color="#b3503d" d="M541.1,168.1l2,-3.5l1.8,-4.8l-2.1,3.5z"/>
<path color="#ffd95f" d="M597.1,312.8l1.5,-5.9l1.8,2.2l-1.5,5.9z"/>
<path color="#bdb548" d="M658.2,281.2l0.9,-5l4.4,-0.7l-0.8,5z"/>
<path color="#b14d3c" d="M528.4,199.1l2.2,-3.8l1.8,-4.2l-2.2,3.8z"/>
<path color="#e6b456" d="M585.8,279l1.7,-6.2l1.8,9.5l-1.6,6.3z"/>
<path color="#d57d4d" d="M570.4,171.7l1.8,-4.4l1.9,10l-1.8,4.5z"/>
<path color="#af4339" d="M477.3,260.6l2.7,-4.8l4,-1.1l-2.7,4.8z"/>
<path color="#ffdb5f" d="M598.9,315l1.5,-5.9l1.9,1.5l-1.5,5.8z"/>
<path color="#cb6346" d="M557.4,138l1.9,-3.2l1.8,0.2l-1.9,3.3z"/>
<path color="#d57a4d" d="M568.5,162.8l1.8,-4l1.9,8.5l-1.8,4.4z"/>
<path color="#e5b155" d="M584,269.4l1.6,-6.2l1.9,9.6l-1.7,6.2z"/>
<path color="#964032" d="M514.6,227l2.4,-4.3l4,-7.1l-2.4,4.2z"/>
<path color="#f8d65d" d="M600.8,316.4l1.5,-5.8l1.8,0.9l-1.4,5.8z"/>
<path color="#baae45" d="M639.6,291.5l1.1,-5.2l4.3,-1.6l-1,5.2z"/>
<path color="#de6f4d" d="M559.2,138.3l1.9,-3.3l1.8,2.7l-1.9,3.5z"/>
<path color="#d5774d" d="M566.7,155.3l1.8,-3.8l1.8,7.3l-1.8,4z"/>
<path color="#b3533d" d="M542.8,163.3l2.1,-3.5l1.7,-4.4l-2,3.4z"/>
<path color="#db714d" d="M561,141.2l1.9,-3.5l1.9,3.9l-1.9,3.6z"/>
<path color="#b3513d" d="M530.2,194.9l2.2,-3.8l1.7,-4.5l-2.2,3.8z"/>
<path color="#d8764d" d="M564.8,149.6l1.8,-3.6l1.9,5.5l-1.8,3.8z"/>
<path color="#da744d" d="M562.9,145.2l1.9,-3.6l1.8,4.4l-1.8,3.6z"/>
<path color="#b4a243" d="M620.9,305.2l1.3,-5.3l4.3,-2.5l-1.2,5.3z"/>
<path color="#b8b849" d="M684.2,275.1l0.6,-5l5.9,0.3l-0.5,5.1z"/>
<path color="#e3ac55" d="M582.1,258.8l1.6,-6l1.9,10.4l-1.6,6.2z"/>
<path color="#f2d35a" d="M602.7,317.3l1.4,-5.8l1.9,0.7l-1.5,5.8z"/>
<path color="#9daf46" d="M733.1,271.6l0.1,-5l6,1.1l0,5z"/>
<path color="#b0b848" d="M708.7,272.6l0.3,-5l6,0.9l-0.3,5.1z"/>
<path color="#c0413d" d="M434,270.9l3.2,-5l5.2,0.6l-3.1,5z"/>
<path color="#bdb748" d="M662.7,280.5l0.8,-5l4.4,-0.4l-0.8,5.1z"/>
<path color="#9b3f33" d="M500.1,246.2l2.5,-4.7l4,-3.7l-2.5,4.6z"/>
<path color="#b8443c" d="M458.4,267.4l2.9,-5l5.3,-0.2l-2.9,5z"/>
<path color="#dcc252" d="M604.5,318l1.5,-5.8l1.8,0.3l-1.4,5.6z"/>
<path color="#ab4338" d="M481.3,259.5l2.7,-4.8l4,-1.5l-2.7,4.9z"/>
<path color="#e1a754" d="M580.2,247.5l1.6,-5.8l1.9,11.1l-1.6,6z"/>
<path color="#b3563e" d="M544.6,158.8l2,-3.4l1.8,-4.2l-2,3.4z"/>
<path color="#b4543e" d="M531.9,190.4l2.2,-3.8l1.7,-4.5l-2.1,3.7z"/>
<path color="#b9af45" d="M644,289.9l1,-5.2l4.4,-1.3l-1,5.2z"/>
<path color="#c4ae49" d="M606.4,318.1l1.4,-5.6l1.9,-0.5l-1.4,5.6z"/>
<path color="#e0a353" d="M578.2,236l1.7,-5.4l1.9,11.1l-1.6,5.8z"/>
<path color="#bab648" d="M667.1,280.2l0.8,-5.1l4.4,-0.2l-0.7,5.1z"/>
<path color="#b4a643" d="M625.3,302.7l1.2,-5.3l4.4,-2.2l-1.2,5.2z"/>
<path color="#b5b949" d="M690.2,275.5l0.5,-5.1l6,0.6l-0.5,5.1z"/>
<path color="#a8b547" d="M714.7,273.6l0.3,-5.1l6,1.1l-0.2,5z"/>
<path color="#b1523c" d="M518.6,219.8l2.4,-4.2l3.9,-8.3l-2.3,4.1z"/>
<path color="#bf443d" d="M439.3,271.5l3.1,-5l5.3,0.5l-3.1,5.1z"/>
<path color="#b7a444" d="M608.3,317.6l1.4,-5.6l1.8,-1l-1.3,5.6z"/>
<path color="#b4583e" d="M546.4,154.6l2,-3.4l1.8,-4l-2.1,3.4z"/>
<path color="#b5573e" d="M533.7,185.8l2.1,-3.7l1.8,-4.6l-2.2,3.7z"/>
<path color="#a84337" d="M485.3,258.1l2.7,-4.9l4,-1.9l-2.6,4.9z"/>
<path color="#9a4334" d="M504.1,242.4l2.5,-4.6l4,-5l-2.4,4.6z"/>
<path color="#dd9f53" d="M576.3,223.3l1.8,-5.2l1.8,12.5l-1.7,5.4z"/>
<path color="#b6453b" d="M463.7,267.2l2.9,-5l5.3,-0.5l-2.8,4.9z"/>
<path color="#b5a343" d="M610.2,316.6l1.3,-5.6l1.9,-1l-1.3,5.5z"/>
<path color="#b7af45" d="M648.4,288.6l1,-5.2l4.4,-1.2l-0.9,5.2z"/>
<path color="#b35a3e" d="M548.1,150.6l2.1,-3.4l1.7,-3.5l-2,3.3z"/>
<path color="#b6b548" d="M671.6,280l0.7,-5.1l5.9,0l-0.6,5.2z"/>
<path color="#dc9a52" d="M574.4,209.9l1.7,-5l2,13.2l-1.8,5.2z"/>
<path color="#b5aa43" d="M629.7,300.4l1.2,-5.2l4.3,-2l-1.1,5.3z"/>
<path color="#b65a3f" d="M535.4,181.2l2.2,-3.7l1.7,-4.6l-2.1,3.6z"/>
<path color="#b3a343" d="M612.1,315.5l1.3,-5.5l1.9,-1.1l-1.3,5.5z"/>
<path color="#afb748" d="M696.2,276.1l0.5,-5.1l5.9,0.7l-0.4,5.2z"/>
<path color="#a0b046" d="M720.8,274.6l0.2,-5l6,1l-0.1,5.1z"/>
<path color="#b4573e" d="M522.6,211.4l2.3,-4.1l1.8,-4l-2.3,4z"/>
<path color="#bd453d" d="M444.6,272.1l3.1,-5.1l5.3,0.4l-3,5z"/>
<path color="#a54437" d="M489.4,256.2l2.6,-4.9l4,-2.3l-2.6,4.8z"/>
<path color="#9e5238" d="M549.9,147l2,-3.3l1.8,-2.5l-2,3.2z"/>
<path color="#afa041" d="M614,314.4l1.3,-5.5l1.3,-0.8l-1.3,5.5z"/>
<path color="#b4af45" d="M652.9,287.4l0.9,-5.2l4.4,-1l-0.9,5.2z"/>
<path color="#dc9752" d="M572.5,197.8l1.7,-4.8l1.9,11.9l-1.7,5z"/>
<path color="#b3463b" d="M469.1,266.6l2.8,-4.9l5.4,-1.1l-2.8,5z"/>
<path color="#9a4935" d="M508.2,237.4l2.4,-4.6l4,-5.8l-2.4,4.5z"/>
<path color="#b75e40" d="M537.2,176.5l2.1,-3.6l1.8,-4.8l-2.2,3.6z"/>
<path color="#b55b3f" d="M524.4,207.3l2.3,-4l1.7,-4.2l-2.3,4z"/>
<path color="#a25739" d="M551.7,144.4l2,-3.2l1.8,-1.9l-1.9,3.3z"/>
<path color="#b3ab44" d="M634.1,298.5l1.1,-5.3l4.4,-1.7l-1.1,5.3z"/>
<path color="#f1d15a" d="M589.9,308.4l1.6,-6.3l1.8,4.6l-1.5,6.2z"/>
<path color="#edcc58" d="M588,302.6l1.6,-6.4l1.9,5.9l-1.6,6.3z"/>
<path color="#db9352" d="M570.6,186.5l1.7,-4.7l1.9,11.2l-1.7,4.8z"/>
<path color="#f4d55b" d="M591.8,312.9l1.5,-6.2l1.9,3.5l-1.5,6.1z"/>
<path color="#b1b447" d="M677.6,280.1l0.6,-5.2l6,0.2l-0.6,5.2z"/>
<path color="#ebc858" d="M586.1,294.9l1.6,-6.3l1.9,7.6l-1.6,6.4z"/>
<path color="#aea141" d="M615.3,313.6l1.3,-5.5l4.3,-2.9l-1.3,5.5z"/>
<path color="#f8da5c" d="M593.7,316.3l1.5,-6.1l1.9,2.6l-1.6,6.2z"/>
<path color="#c1443e" d="M425.4,275.3l3.3,-5.1l5.3,0.7l-3.3,5.1z"/>
<path color="#97ab45" d="M726.9,275.7l0.1,-5.1l6.1,1l-0.1,5.2z"/>
<path color="#a9b447" d="M702.2,276.9l0.4,-5.2l6.1,0.9l-0.4,5.2z"/>
<path color="#ba463d" d="M450,272.4l3,-5l5.4,0l-3.1,5z"/>
<path color="#a24937" d="M493.4,253.8l2.6,-4.8l4.1,-2.8l-2.6,4.8z"/>
<path color="#a95d3c" d="M553.6,142.6l1.9,-3.3l1.9,-1.3l-2,3.3z"/>
<path color="#f9dd5d" d="M595.5,319l1.6,-6.2l1.8,2.2l-1.5,6.1z"/>
<path color="#e9c557" d="M584.2,285.4l1.6,-6.4l1.9,9.6l-1.6,6.3z"/>
<path color="#b86141" d="M538.9,171.7l2.2,-3.6l1.7,-4.8l-2.1,3.6z"/>
<path color="#da9052" d="M568.6,176.1l1.8,-4.4l1.9,10.1l-1.7,4.7z"/>
<path color="#b2b045" d="M657.3,286.4l0.9,-5.2l4.5,-0.7l-0.9,5.2z"/>
<path color="#b65e40" d="M526.1,203.1l2.3,-4l1.8,-4.2l-2.3,3.8z"/>
<path color="#f8df5d" d="M597.4,321.1l1.5,-6.1l1.9,1.4l-1.5,6z"/>
<path color="#b0463a" d="M474.5,265.6l2.8,-5l4,-1.1l-2.8,5z"/>
<path color="#eac457" d="M582.3,275.7l1.7,-6.3l1.8,9.6l-1.6,6.4z"/>
<path color="#d4774c" d="M555.4,141.3l2,-3.3l1.8,0.3l-1.9,3.3z"/>
<path color="#db8d52" d="M566.7,167l1.8,-4.2l1.9,8.9l-1.8,4.4z"/>
<path color="#f0d959" d="M599.3,322.4l1.5,-6l1.9,0.9l-1.5,6z"/>
<path color="#9a4e36" d="M512.2,231.5l2.4,-4.5l4,-7.2l-2.4,4.3z"/>
<path color="#b1aa43" d="M638.5,296.8l1.1,-5.3l4.4,-1.6l-1,5.3z"/>
<path color="#e38352" d="M557.3,141.6l1.9,-3.3l1.8,2.9l-1.9,3.5z"/>
<path color="#db8a51" d="M564.8,159.1l1.9,-3.8l1.8,7.5l-1.8,4.2z"/>
<path color="#b86341" d="M540.7,166.9l2.1,-3.6l1.8,-4.5l-2.1,3.5z"/>
<path color="#e18552" d="M559.1,144.7l1.9,-3.5l1.9,4l-1.9,3.6z"/>
<path color="#eac157" d="M580.4,265l1.7,-6.2l1.9,10.6l-1.7,6.3z"/>
<path color="#de8952" d="M562.9,153.4l1.9,-3.8l1.9,5.7l-1.9,3.8z"/>
<path color="#e08752" d="M561,148.8l1.9,-3.6l1.9,4.4l-1.9,3.8z"/>
<path color="#b86141" d="M527.9,198.7l2.3,-3.8l1.7,-4.5l-2.2,3.8z"/>
<path color="#aea441" d="M619.6,310.7l1.3,-5.5l4.4,-2.5l-1.2,5.4z"/>
<path color="#acb346" d="M683.6,280.3l0.6,-5.2l6,0.4l-0.6,5.2z"/>
<path color="#e9d557" d="M601.2,323.3l1.5,-6l1.8,0.7l-1.4,5.9z"/>
<path color="#8ea644" d="M733,276.8l0.1,-5.2l6.1,1.1l0,5.1z"/>
<path color="#a2b146" d="M708.3,277.8l0.4,-5.2l6,1l-0.3,5.2z"/>
<path color="#c1463e" d="M430.7,276l3.3,-5.1l5.3,0.6l-3.2,5.1z"/>
<path color="#b1b146" d="M661.8,285.7l0.9,-5.2l4.4,-0.3l-0.8,5.2z"/>
<path color="#9f4d37" d="M497.5,251l2.6,-4.8l4,-3.8l-2.5,4.8z"/>
<path color="#b9483d" d="M455.3,272.4l3.1,-5l5.3,-0.2l-3,5.1z"/>
<path color="#e7bc56" d="M578.4,253.3l1.8,-5.8l1.9,11.3l-1.7,6.2z"/>
<path color="#d3c24f" d="M603.1,323.9l1.4,-5.9l1.9,0.1l-1.4,5.8z"/>
<path color="#ae4a3a" d="M478.5,264.5l2.8,-5l4,-1.4l-2.7,4.9z"/>
<path color="#b86642" d="M542.5,162.3l2.1,-3.5l1.8,-4.2l-2.1,3.5z"/>
<path color="#b96542" d="M529.7,194.2l2.2,-3.8l1.8,-4.6l-2.3,3.8z"/>
<path color="#aeaa43" d="M643,295.2l1,-5.3l4.4,-1.3l-1,5.3z"/>
<path color="#bdaf46" d="M605,323.9l1.4,-5.8l1.9,-0.5l-1.4,5.8z"/>
<path color="#e6b856" d="M576.5,241.5l1.7,-5.5l2,11.5l-1.8,5.8z"/>
<path color="#afb146" d="M666.3,285.4l0.8,-5.2l4.5,-0.2l-0.8,5.2z"/>
<path color="#aca541" d="M624.1,308.1l1.2,-5.4l4.4,-2.3l-1.2,5.4z"/>
<path color="#a8b246" d="M689.6,280.7l0.6,-5.2l6,0.6l-0.5,5.2z"/>
<path color="#99ac45" d="M714.4,278.8l0.3,-5.2l6.1,1l-0.2,5.2z"/>
<path color="#b66241" d="M516.2,224.1l2.4,-4.3l4,-8.4l-2.3,4.1z"/>
<path color="#c1483f" d="M436.1,276.6l3.2,-5.1l5.3,0.6l-3.2,5.1z"/>
<path color="#b1a642" d="M606.9,323.4l1.4,-5.8l1.9,-1l-1.4,5.7z"/>
<path color="#b86942" d="M544.3,158.1l2.1,-3.5l1.7,-4l-2,3.4z"/>
<path color="#ba6843" d="M531.4,189.6l2.3,-3.8l1.7,-4.6l-2.2,3.8z"/>
<path color="#ab4f3a" d="M482.6,263l2.7,-4.9l4.1,-1.9l-2.7,4.9z"/>
<path color="#e4b355" d="M574.6,228.6l1.7,-5.3l1.9,12.7l-1.7,5.5z"/>
<path color="#9e5238" d="M501.6,247.2l2.5,-4.8l4.1,-5l-2.5,4.6z"/>
<path color="#b7493c" d="M460.7,272.3l3,-5.1l5.4,-0.6l-2.9,5.1z"/>
<path color="#afa541" d="M608.8,322.3l1.4,-5.7l1.9,-1.1l-1.4,5.7z"/>
<path color="#acaa43" d="M647.4,293.9l1,-5.3l4.5,-1.2l-1,5.3z"/>
<path color="#b86b43" d="M546.1,154l2,-3.4l1.8,-3.6l-2,3.3z"/>
<path color="#e2af54" d="M572.6,215l1.8,-5.1l1.9,13.4l-1.7,5.3z"/>
<path color="#abb045" d="M670.8,285.2l0.8,-5.2l6,0.1l-0.7,5.2z"/>
<path color="#aba641" d="M628.5,305.8l1.2,-5.4l4.4,-1.9l-1.2,5.4z"/>
<path color="#bb6b44" d="M533.2,185l2.2,-3.8l1.8,-4.7l-2.2,3.7z"/>
<path color="#aca341" d="M610.7,321.2l1.4,-5.7l1.9,-1.1l-1.4,5.7z"/>
<path color="#a2b045" d="M695.7,281.3l0.5,-5.2l6,0.8l-0.4,5.2z"/>
<path color="#91a844" d="M720.6,279.8l0.2,-5.2l6.1,1.1l-0.2,5.2z"/>
<path color="#b96842" d="M520.3,215.5l2.3,-4.1l1.8,-4.1l-2.3,4.1z"/>
<path color="#bf493e" d="M441.4,277.2l3.2,-5.1l5.4,0.3l-3.2,5.1z"/>
<path color="#a9533b" d="M486.7,261.1l2.7,-4.9l4,-2.4l-2.6,5z"/>
<path color="#a2603b" d="M547.9,150.3l2,-3.3l1.8,-2.6l-2,3.3z"/>
<path color="#a79f3f" d="M612.6,320.1l1.4,-5.7l1.3,-0.8l-1.4,5.6z"/>
<path color="#e2ac54" d="M570.7,202.7l1.8,-4.9l1.9,12.1l-1.8,5.1z"/>
<path color="#a9aa43" d="M651.9,292.7l1,-5.3l4.4,-1l-0.9,5.3z"/>
<path color="#b54e3d" d="M466.2,271.7l2.9,-5.1l5.4,-1l-2.9,5.1z"/>
<path color="#9f5739" d="M505.7,242l2.5,-4.6l4,-5.9l-2.5,4.5z"/>
<path color="#bc6e44" d="M535,180.2l2.2,-3.7l1.7,-4.8l-2.1,3.7z"/>
<path color="#ba6b43" d="M522.1,211.4l2.3,-4.1l1.7,-4.2l-2.3,4z"/>
<path color="#ead557" d="M588.3,314.8l1.6,-6.4l1.9,4.5l-1.6,6.4z"/>
<path color="#e7d056" d="M586.4,309l1.6,-6.4l1.9,5.8l-1.6,6.4z"/>
<path color="#a7653d" d="M549.7,147.7l2,-3.3l1.9,-1.8l-2,3.3z"/>
<path color="#a9a642" d="M632.9,303.9l1.2,-5.4l4.4,-1.7l-1.1,5.4z"/>
<path color="#e1a854" d="M568.7,191.2l1.9,-4.7l1.9,11.3l-1.8,4.9z"/>
<path color="#eeda59" d="M590.2,319.3l1.6,-6.4l1.9,3.4l-1.6,6.3z"/>
<path color="#e5cc55" d="M584.4,301.4l1.7,-6.5l1.9,7.7l-1.6,6.4z"/>
<path color="#a5ae44" d="M676.9,285.3l0.7,-5.2l6,0.2l-0.6,5.2z"/>
<path color="#a59f3f" d="M613.9,319.2l1.4,-5.6l4.3,-2.9l-1.3,5.5z"/>
<path color="#f1df5a" d="M592.1,322.6l1.6,-6.3l1.8,2.7l-1.5,6.2z"/>
<path color="#88a343" d="M726.7,280.9l0.2,-5.2l6.1,1.1l-0.1,5.2z"/>
<path color="#c3483f" d="M422,280.4l3.4,-5.1l5.3,0.7l-3.3,5.2z"/>
<path color="#9aac45" d="M701.8,282.1l0.4,-5.2l6.1,0.9l-0.3,5.2z"/>
<path color="#e3c855" d="M582.5,291.9l1.7,-6.5l1.9,9.5l-1.7,6.5z"/>
<path color="#f2e15a" d="M594,325.2l1.5,-6.2l1.9,2.1l-1.5,6.2z"/>
<path color="#bc4a3e" d="M446.8,277.5l3.2,-5.1l5.3,0l-3,5.2z"/>
<path color="#a7583b" d="M490.8,258.8l2.6,-5l4.1,-2.8l-2.6,4.9z"/>
<path color="#ae6c41" d="M551.6,145.9l2,-3.3l1.8,-1.3l-2,3.3z"/>
<path color="#e1a554" d="M566.8,180.6l1.8,-4.5l2,10.4l-1.9,4.7z"/>
<path color="#bd7145" d="M536.8,175.4l2.1,-3.7l1.8,-4.8l-2.2,3.6z"/>
<path color="#a7aa43" d="M656.4,291.7l0.9,-5.3l4.5,-0.7l-0.8,5.3z"/>
<path color="#bb6f44" d="M523.8,207.1l2.3,-4l1.8,-4.4l-2.3,4z"/>
<path color="#f1e25a" d="M595.9,327.3l1.5,-6.2l1.9,1.3l-1.5,6.1z"/>
<path color="#e4c855" d="M580.6,282.2l1.7,-6.5l1.9,9.7l-1.7,6.5z"/>
<path color="#b4553e" d="M471.6,270.7l2.9,-5.1l4,-1.1l-2.8,5z"/>
<path color="#e1a254" d="M564.8,171.2l1.9,-4.2l1.9,9.1l-1.8,4.5z"/>
<path color="#dd8d52" d="M553.4,144.6l2,-3.3l1.9,0.3l-2,3.5z"/>
<path color="#e6da56" d="M597.8,328.5l1.5,-6.1l1.9,0.9l-1.5,6z"/>
<path color="#a7a541" d="M637.4,302.2l1.1,-5.4l4.5,-1.6l-1.1,5.4z"/>
<path color="#9e5c39" d="M509.7,236l2.5,-4.5l4,-7.4l-2.4,4.4z"/>
<path color="#e19f54" d="M562.9,163.1l1.9,-4l1.9,7.9l-1.9,4.2z"/>
<path color="#e99757" d="M555.3,145.1l2,-3.5l1.8,3.1l-1.9,3.7z"/>
<path color="#e4c655" d="M578.6,271.3l1.8,-6.3l1.9,10.7l-1.7,6.5z"/>
<path color="#e79956" d="M557.2,148.4l1.9,-3.7l1.9,4.1l-1.9,3.8z"/>
<path color="#bd7446" d="M538.5,170.5l2.2,-3.6l1.8,-4.6l-2.2,3.6z"/>
<path color="#e49e55" d="M561,157.2l1.9,-3.8l1.9,5.7l-1.9,4z"/>
<path color="#e69c56" d="M559.1,152.6l1.9,-3.8l1.9,4.6l-1.9,3.8z"/>
<path color="#a49f3f" d="M618.3,316.2l1.3,-5.5l4.5,-2.6l-1.3,5.5z"/>
<path color="#9fac44" d="M683,285.5l0.6,-5.2l6,0.4l-0.5,5.2z"/>
<path color="#bd7245" d="M525.6,202.7l2.3,-4l1.8,-4.5l-2.3,4z"/>
<path color="#ded354" d="M599.7,329.3l1.5,-6l1.9,0.6l-1.5,5.9z"/>
<path color="#7f9e43" d="M732.9,282l0.1,-5.2l6.2,1l0,5.3z"/>
<path color="#92a844" d="M708,283l0.3,-5.2l6.1,1l-0.3,5.2z"/>
<path color="#c24a3f" d="M427.4,281.2l3.3,-5.2l5.4,0.6l-3.3,5.2z"/>
<path color="#a6ac44" d="M661,291l0.8,-5.3l4.5,-0.3l-0.8,5.3z"/>
<path color="#a45c3b" d="M494.9,255.9l2.6,-4.9l4.1,-3.8l-2.6,4.8z"/>
<path color="#bb4e3e" d="M452.3,277.6l3,-5.2l5.4,-0.1l-3,5.1z"/>
<path color="#e4c555" d="M576.7,259.3l1.7,-6l2,11.7l-1.8,6.3z"/>
<path color="#c7be4b" d="M601.6,329.8l1.5,-5.9l1.9,0l-1.5,6z"/>
<path color="#b25a3e" d="M475.7,269.5l2.8,-5l4.1,-1.5l-2.8,5.1z"/>
<path color="#bd7746" d="M540.3,165.9l2.2,-3.6l1.8,-4.2l-2.2,3.5z"/>
<path color="#be7546" d="M527.4,198.2l2.3,-4l1.7,-4.6l-2.2,3.9z"/>
<path color="#a4a541" d="M641.9,300.6l1.1,-5.4l4.4,-1.3l-1,5.4z"/>
<path color="#b3ab44" d="M603.5,329.9l1.5,-6l1.9,-0.5l-1.5,5.8z"/>
<path color="#e5c455" d="M574.7,247.2l1.8,-5.7l1.9,11.8l-1.7,6z"/>
<path color="#a3ab43" d="M665.5,290.7l0.8,-5.3l4.5,-0.2l-0.7,5.4z"/>
<path color="#a2a03f" d="M622.8,313.6l1.3,-5.5l4.4,-2.3l-1.2,5.6z"/>
<path color="#9aab44" d="M689.1,285.9l0.5,-5.2l6.1,0.6l-0.5,5.3z"/>
<path color="#8aa444" d="M714.1,284l0.3,-5.2l6.2,1l-0.3,5.3z"/>
<path color="#c24c40" d="M432.8,281.8l3.3,-5.2l5.3,0.6l-3.2,5.2z"/>
<path color="#bb7245" d="M513.8,228.5l2.4,-4.4l4.1,-8.6l-2.4,4.3z"/>
<path color="#a7a140" d="M605.4,329.2l1.5,-5.8l1.9,-1.1l-1.5,5.8z"/>
<path color="#bd7947" d="M542.1,161.6l2.2,-3.5l1.8,-4.1l-2.1,3.4z"/>
<path color="#e6c256" d="M572.8,234l1.8,-5.4l1.9,12.9l-1.8,5.7z"/>
<path color="#b05f3e" d="M479.8,268.1l2.8,-5.1l4.1,-1.9l-2.8,5.1z"/>
<path color="#bf7847" d="M529.2,193.5l2.2,-3.9l1.8,-4.6l-2.3,3.8z"/>
<path color="#a2603b" d="M499,252l2.6,-4.8l4.1,-5.2l-2.6,4.8z"/>
<path color="#bb5740" d="M457.7,277.4l3,-5.1l5.5,-0.6l-3,5.2z"/>
<path color="#a49f3f" d="M607.3,328.1l1.5,-5.8l1.9,-1.1l-1.4,5.8z"/>
<path color="#a1a541" d="M646.4,299.3l1,-5.4l4.5,-1.2l-0.9,5.4z"/>
<path color="#bd7c46" d="M544,157.4l2.1,-3.4l1.8,-3.7l-2.1,3.4z"/>
<path color="#e6c156" d="M570.8,220.2l1.8,-5.2l2,13.6l-1.8,5.4z"/>
<path color="#9eaa43" d="M670.1,290.6l0.7,-5.4l6.1,0.1l-0.7,5.4z"/>
<path color="#a1a13f" d="M627.3,311.4l1.2,-5.6l4.4,-1.9l-1.1,5.5z"/>
<path color="#a29e3e" d="M609.3,327l1.4,-5.8l1.9,-1.1l-1.4,5.7z"/>
<path color="#c07c48" d="M530.9,188.8l2.3,-3.8l1.8,-4.8l-2.3,3.8z"/>
<path color="#93a744" d="M695.2,286.6l0.5,-5.3l6.1,0.8l-0.4,5.3z"/>
<path color="#819f43" d="M720.3,285.1l0.3,-5.3l6.1,1.1l-0.1,5.3z"/>
<path color="#be7947" d="M517.9,219.8l2.4,-4.3l1.8,-4.1l-2.4,4.1z"/>
<path color="#c04e3f" d="M438.2,282.4l3.2,-5.2l5.4,0.3l-3.1,5.3z"/>
<path color="#ae633f" d="M483.9,266.2l2.8,-5.1l4.1,-2.3l-2.7,5z"/>
<path color="#9d9a3d" d="M611.2,325.8l1.4,-5.7l1.3,-0.9l-1.4,5.7z"/>
<path color="#a66f3e" d="M545.8,153.7l2.1,-3.4l1.8,-2.6l-2.1,3.4z"/>
<path color="#e8c157" d="M568.8,207.8l1.9,-5.1l1.9,12.3l-1.8,5.2z"/>
<path color="#9ea441" d="M651,298.1l0.9,-5.4l4.5,-1l-0.9,5.4z"/>
<path color="#ba5f41" d="M463.2,276.9l3,-5.2l5.4,-1l-2.9,5.1z"/>
<path color="#a3653c" d="M503.1,246.8l2.6,-4.8l4,-6l-2.5,4.6z"/>
<path color="#c18048" d="M532.7,184l2.3,-3.8l1.8,-4.8l-2.3,3.7z"/>
<path color="#e3d755" d="M586.6,321.4l1.7,-6.6l1.9,4.5l-1.7,6.5z"/>
<path color="#e1d454" d="M584.7,315.6l1.7,-6.6l1.9,5.8l-1.7,6.6z"/>
<path color="#bf7c47" d="M519.7,215.5l2.4,-4.1l1.7,-4.3l-2.3,4.1z"/>
<path color="#e6da56" d="M588.5,325.8l1.7,-6.5l1.9,3.3l-1.6,6.4z"/>
<path color="#e7bd56" d="M566.9,196l1.8,-4.8l2,11.5l-1.9,5.1z"/>
<path color="#ac7540" d="M547.6,151.1l2.1,-3.4l1.9,-1.8l-2.1,3.3z"/>
<path color="#decf53" d="M582.7,308l1.7,-6.6l2,7.6l-1.7,6.6z"/>
<path color="#9fa13f" d="M631.8,309.4l1.1,-5.5l4.5,-1.7l-1.1,5.5z"/>
<path color="#98a742" d="M676.2,290.7l0.7,-5.4l6.1,0.2l-0.7,5.4z"/>
<path color="#e7dd58" d="M590.5,329l1.6,-6.4l1.9,2.6l-1.6,6.4z"/>
<path color="#9b993d" d="M612.5,324.9l1.4,-5.7l4.4,-3l-1.3,5.7z"/>
<path color="#789a42" d="M726.6,286.2l0.1,-5.3l6.2,1.1l-0.1,5.3z"/>
<path color="#c44c40" d="M418.5,285.7l3.5,-5.3l5.4,0.8l-3.4,5.3z"/>
<path color="#8ba443" d="M701.4,287.4l0.4,-5.3l6.2,0.9l-0.4,5.4z"/>
<path color="#ddcc52" d="M580.8,298.6l1.7,-6.7l1.9,9.5l-1.7,6.6z"/>
<path color="#e7de58" d="M592.4,331.6l1.6,-6.4l1.9,2.1l-1.6,6.3z"/>
<path color="#bf5641" d="M443.7,282.8l3.1,-5.3l5.5,0.1l-3.2,5.3z"/>
<path color="#ab673f" d="M488.1,263.8l2.7,-5l4.1,-2.9l-2.7,5z"/>
<path color="#e7ba56" d="M564.9,185.2l1.9,-4.6l1.9,10.6l-1.8,4.8z"/>
<path color="#b47e43" d="M549.5,149.2l2.1,-3.3l1.8,-1.3l-2,3.4z"/>
<path color="#9ca541" d="M655.5,297.1l0.9,-5.4l4.6,-0.7l-0.9,5.5z"/>
<path color="#c28349" d="M534.5,179.1l2.3,-3.7l1.7,-4.9l-2.2,3.7z"/>
<path color="#c08048" d="M521.5,211.2l2.3,-4.1l1.8,-4.4l-2.3,4.1z"/>
<path color="#decb53" d="M578.8,288.8l1.8,-6.6l1.9,9.7l-1.7,6.7z"/>
<path color="#e3dc57" d="M594.3,333.6l1.6,-6.3l1.9,1.2l-1.6,6.3z"/>
<path color="#b96542" d="M468.7,275.8l2.9,-5.1l4.1,-1.2l-2.9,5.2z"/>
<path color="#e7b756" d="M562.9,175.5l1.9,-4.3l2,9.4l-1.9,4.6z"/>
<path color="#e7a456" d="M551.4,148l2,-3.4l1.9,0.5l-2.1,3.5z"/>
<path color="#d8d253" d="M596.2,334.8l1.6,-6.3l1.9,0.8l-1.6,6.2z"/>
<path color="#deca53" d="M576.9,277.7l1.7,-6.4l2,10.9l-1.8,6.6z"/>
<path color="#9ca03f" d="M636.3,307.7l1.1,-5.5l4.5,-1.6l-1.1,5.6z"/>
<path color="#bb7b46" d="M507.2,240.6l2.5,-4.6l4.1,-7.5l-2.5,4.5z"/>
<path color="#e7b456" d="M561,167.2l1.9,-4.1l1.9,8.1l-1.9,4.3z"/>
<path color="#efad59" d="M553.2,148.6l2.1,-3.5l1.9,3.3l-2,3.7z"/>
<path color="#edaf58" d="M555.2,152.1l2,-3.7l1.9,4.2l-2,3.8z"/>
<path color="#ebb457" d="M559,161.2l2,-4l1.9,5.9l-1.9,4.1z"/>
<path color="#c38649" d="M536.3,174.2l2.2,-3.7l1.8,-4.6l-2.2,3.7z"/>
<path color="#edb258" d="M557.1,156.4l2,-3.8l1.9,4.6l-2,4z"/>
<path color="#d0cb50" d="M598.1,335.5l1.6,-6.2l1.9,0.5l-1.5,6.2z"/>
<path color="#9a9a3d" d="M617,321.9l1.3,-5.7l4.5,-2.6l-1.3,5.7z"/>
<path color="#91a442" d="M682.3,290.9l0.7,-5.4l6.1,0.4l-0.6,5.5z"/>
<path color="#c28448" d="M523.3,206.8l2.3,-4.1l1.8,-4.5l-2.4,4z"/>
<path color="#709541" d="M732.8,287.3l0.1,-5.3l6.3,1.1l-0.1,5.3z"/>
<path color="#83a043" d="M707.6,288.4l0.4,-5.4l6.1,1l-0.3,5.4z"/>
<path color="#c34e40" d="M424,286.5l3.4,-5.3l5.4,0.6l-3.4,5.4z"/>
<path color="#9aa641" d="M660.1,296.5l0.9,-5.5l4.5,-0.3l-0.8,5.4z"/>
<path color="#dec853" d="M574.9,265.4l1.8,-6.1l1.9,12l-1.7,6.4z"/>
<path color="#a86a3f" d="M492.2,260.9l2.7,-5l4.1,-3.9l-2.6,5z"/>
<path color="#c06043" d="M449.1,282.9l3.2,-5.3l5.4,-0.2l-3.1,5.3z"/>
<path color="#bab648" d="M600.1,336l1.5,-6.2l1.9,0.1l-1.5,6z"/>
<path color="#b76a42" d="M472.8,274.7l2.9,-5.2l4.1,-1.4l-2.8,5.1z"/>
<path color="#c38949" d="M538.1,169.6l2.2,-3.7l1.8,-4.3l-2.1,3.6z"/>
<path color="#99a03f" d="M640.8,306.2l1.1,-5.6l4.5,-1.3l-1,5.5z"/>
<path color="#dfc753" d="M572.9,253l1.8,-5.8l2,12.1l-1.8,6.1z"/>
<path color="#c38749" d="M525,202.2l2.4,-4l1.8,-4.7l-2.4,4z"/>
<path color="#a7a541" d="M602,335.9l1.5,-6l1.9,-0.7l-1.5,6z"/>
<path color="#96a441" d="M664.7,296.1l0.8,-5.4l4.6,-0.1l-0.8,5.4z"/>
<path color="#999b3d" d="M621.5,319.3l1.3,-5.7l4.5,-2.2l-1.3,5.6z"/>
<path color="#8ba243" d="M688.5,291.4l0.6,-5.5l6.1,0.7l-0.5,5.4z"/>
<path color="#7b9b42" d="M713.8,289.4l0.3,-5.4l6.2,1.1l-0.2,5.4z"/>
<path color="#9c9b3d" d="M603.9,335.2l1.5,-6l1.9,-1.1l-1.4,6z"/>
<path color="#c55642" d="M429.4,287.2l3.4,-5.4l5.4,0.6l-3.3,5.4z"/>
<path color="#c08448" d="M511.3,233l2.5,-4.5l4.1,-8.7l-2.4,4.3z"/>
<path color="#dfc653" d="M570.9,239.5l1.9,-5.5l1.9,13.2l-1.8,5.8z"/>
<path color="#c38c49" d="M540,165.2l2.1,-3.6l1.9,-4.2l-2.2,3.6z"/>
<path color="#b56f43" d="M477,273.2l2.8,-5.1l4.1,-1.9l-2.8,5.1z"/>
<path color="#c48b49" d="M526.8,197.5l2.4,-4l1.7,-4.7l-2.3,3.9z"/>
<path color="#a76f3e" d="M496.4,257l2.6,-5l4.1,-5.2l-2.6,4.8z"/>
<path color="#c06844" d="M454.6,282.7l3.1,-5.3l5.5,-0.5l-3,5.3z"/>
<path color="#9a9a3d" d="M605.9,334.1l1.4,-6l2,-1.1l-1.5,5.9z"/>
<path color="#969f3e" d="M645.4,304.8l1,-5.5l4.6,-1.2l-1,5.6z"/>
<path color="#e0c553" d="M568.9,225.5l1.9,-5.3l2,13.8l-1.9,5.5z"/>
<path color="#c38e49" d="M541.8,161l2.2,-3.6l1.8,-3.7l-2.2,3.5z"/>
<path color="#90a241" d="M669.3,296l0.8,-5.4l6.1,0.1l-0.7,5.4z"/>
<path color="#979c3d" d="M626,317l1.3,-5.6l4.5,-2l-1.2,5.6z"/>
<path color="#98993c" d="M607.8,332.9l1.5,-5.9l1.9,-1.2l-1.4,5.9z"/>
<path color="#c68e4a" d="M528.6,192.7l2.3,-3.9l1.8,-4.8l-2.3,3.9z"/>
<path color="#849f42" d="M694.7,292l0.5,-5.4l6.2,0.8l-0.5,5.5z"/>
<path color="#729641" d="M720.1,290.5l0.2,-5.4l6.3,1.1l-0.2,5.4z"/>
<path color="#c38b49" d="M515.5,224.1l2.4,-4.3l1.8,-4.3l-2.4,4.3z"/>
<path color="#c56044" d="M434.9,287.8l3.3,-5.4l5.5,0.4l-3.3,5.4z"/>
<path color="#b27343" d="M481.1,271.3l2.8,-5.1l4.2,-2.4l-2.8,5.2z"/>
<path color="#e2c554" d="M566.9,212.9l1.9,-5.1l2,12.4l-1.9,5.3z"/>
<path color="#94953b" d="M609.8,331.7l1.4,-5.9l1.3,-0.9l-1.4,5.9z"/>
<path color="#ab7f40" d="M543.6,157.2l2.2,-3.5l1.8,-2.6l-2.1,3.4z"/>
<path color="#929e3e" d="M650,303.7l1,-5.6l4.5,-1l-0.9,5.6z"/>
<path color="#bf7045" d="M460.2,282.2l3,-5.3l5.5,-1.1l-3,5.3z"/>
<path color="#a7753e" d="M500.5,251.6l2.6,-4.8l4.1,-6.2l-2.5,4.8z"/>
<path color="#c7924a" d="M530.4,187.9l2.3,-3.9l1.8,-4.9l-2.2,3.8z"/>
<path color="#d5ce51" d="M583,322.4l1.7,-6.8l1.9,5.8l-1.7,6.7z"/>
<path color="#d7d153" d="M584.9,328.1l1.7,-6.7l1.9,4.4l-1.6,6.6z"/>
<path color="#d9d454" d="M586.9,332.4l1.6,-6.6l2,3.2l-1.7,6.6z"/>
<path color="#c58f49" d="M517.3,219.8l2.4,-4.3l1.8,-4.3l-2.4,4.2z"/>
<path color="#d3cc50" d="M581,314.8l1.7,-6.8l2,7.6l-1.7,6.8z"/>
<path color="#e4c555" d="M564.9,201l2,-5l1.9,11.8l-1.9,5.1z"/>
<path color="#949c3d" d="M630.6,315l1.2,-5.6l4.5,-1.7l-1.2,5.7z"/>
<path color="#b18642" d="M545.5,154.5l2.1,-3.4l1.9,-1.9l-2.1,3.5z"/>
<path color="#dad755" d="M588.8,335.6l1.7,-6.6l1.9,2.6l-1.7,6.5z"/>
<path color="#899f41" d="M675.5,296.1l0.7,-5.4l6.1,0.2l-0.6,5.5z"/>
<path color="#91943a" d="M611.1,330.8l1.4,-5.9l4.5,-3l-1.4,5.8z"/>
<path color="#d3ca50" d="M579,305.4l1.8,-6.8l1.9,9.4l-1.7,6.8z"/>
<path color="#6b9242" d="M726.4,291.6l0.2,-5.4l6.2,1.1l-0.1,5.5z"/>
<path color="#c65542" d="M415,291.1l3.5,-5.4l5.5,0.8l-3.5,5.4z"/>
<path color="#7c9b42" d="M700.9,292.9l0.5,-5.5l6.2,1l-0.4,5.5z"/>
<path color="#dad855" d="M590.7,338.1l1.7,-6.5l1.9,2l-1.6,6.4z"/>
<path color="#c46845" d="M440.4,288.2l3.3,-5.4l5.4,0.1l-3.2,5.4z"/>
<path color="#e6c556" d="M562.9,189.9l2,-4.7l2,10.8l-2,5z"/>
<path color="#b07742" d="M485.3,269l2.8,-5.2l4.1,-2.9l-2.7,5.2z"/>
<path color="#8f9e3f" d="M654.6,302.7l0.9,-5.6l4.6,-0.6l-0.9,5.5z"/>
<path color="#d5cb50" d="M577.1,295.6l1.7,-6.8l2,9.8l-1.8,6.8z"/>
<path color="#ba9046" d="M547.4,152.7l2.1,-3.5l1.9,-1.2l-2.1,3.5z"/>
<path color="#c8964b" d="M532.3,182.9l2.2,-3.8l1.8,-4.9l-2.2,3.8z"/>
<path color="#d5d454" d="M592.7,340l1.6,-6.4l1.9,1.2l-1.6,6.4z"/>
<path color="#c6924a" d="M519.1,215.4l2.4,-4.2l1.8,-4.4l-2.4,4.1z"/>
<path color="#be7646" d="M465.7,281.1l3,-5.3l4.1,-1.1l-2.9,5.3z"/>
<path color="#e8c556" d="M561,179.9l1.9,-4.4l2,9.7l-2,4.7z"/>
<path color="#c9c94f" d="M594.6,341.2l1.6,-6.4l1.9,0.7l-1.5,6.3z"/>
<path color="#d6cb50" d="M575.1,284.3l1.8,-6.6l1.9,11.1l-1.7,6.8z"/>
<path color="#f1bd5a" d="M549.3,151.5l2.1,-3.5l1.8,0.6l-2,3.6z"/>
<path color="#919b3d" d="M635.1,313.4l1.2,-5.7l4.5,-1.5l-1.1,5.6z"/>
<path color="#c18d48" d="M504.7,245.4l2.5,-4.8l4.1,-7.6l-2.5,4.6z"/>
<path color="#ebc557" d="M559,171.3l2,-4.1l1.9,8.3l-1.9,4.4z"/>
<path color="#f5c35b" d="M551.2,152.2l2,-3.6l2,3.5l-2.1,3.8z"/>
<path color="#f4c55b" d="M553.1,155.9l2.1,-3.8l1.9,4.3l-2,3.9z"/>
<path color="#c1c34d" d="M596.6,341.8l1.5,-6.3l2,0.5l-1.6,6.2z"/>
<path color="#f1c95a" d="M557,165.2l2,-4l2,6l-2,4.1z"/>
<path color="#f4c85b" d="M555.1,160.3l2,-3.9l1.9,4.8l-2,4z"/>
<path color="#c8994b" d="M534.1,178l2.2,-3.8l1.8,-4.6l-2.2,3.7z"/>
<path color="#90963b" d="M615.6,327.7l1.4,-5.8l4.5,-2.6l-1.3,5.7z"/>
<path color="#839c41" d="M681.7,296.4l0.6,-5.5l6.2,0.5l-0.6,5.5z"/>
<path color="#668f43" d="M732.7,292.8l0.1,-5.5l6.3,1.1l0,5.5z"/>
<path color="#c8964a" d="M520.9,210.9l2.4,-4.1l1.7,-4.6l-2.3,4.1z"/>
<path color="#749741" d="M707.2,293.9l0.4,-5.5l6.2,1l-0.3,5.5z"/>
<path color="#c85f45" d="M420.5,291.9l3.5,-5.4l5.4,0.7l-3.4,5.4z"/>
<path color="#d7cb50" d="M573.1,271.7l1.8,-6.3l2,12.3l-1.8,6.6z"/>
<path color="#8c9e40" d="M659.2,302l0.9,-5.5l4.6,-0.4l-0.9,5.6z"/>
<path color="#ad7a40" d="M489.5,266.1l2.7,-5.2l4.2,-3.9l-2.7,5z"/>
<path color="#c57147" d="M445.9,288.3l3.2,-5.4l5.5,-0.2l-3.1,5.4z"/>
<path color="#acaf45" d="M598.5,342.2l1.6,-6.2l1.9,-0.1l-1.5,6.2z"/>
<path color="#bc7b46" d="M469.9,280l2.9,-5.3l4.2,-1.5l-2.9,5.3z"/>
<path color="#d8ca51" d="M571.1,258.9l1.8,-5.9l2,12.4l-1.8,6.3z"/>
<path color="#c99b4b" d="M535.9,173.3l2.2,-3.7l1.9,-4.4l-2.3,3.6z"/>
<path color="#8d9a3d" d="M639.7,311.8l1.1,-5.6l4.6,-1.4l-1.1,5.7z"/>
<path color="#9b9f3e" d="M600.5,342.1l1.5,-6.2l1.9,-0.7l-1.5,6.1z"/>
<path color="#c99a4b" d="M522.7,206.3l2.3,-4.1l1.8,-4.7l-2.3,4z"/>
<path color="#889c40" d="M663.8,301.7l0.9,-5.6l4.6,-0.1l-0.8,5.6z"/>
<path color="#8e963b" d="M620.2,325l1.3,-5.7l4.5,-2.3l-1.2,5.8z"/>
<path color="#7d9a41" d="M687.9,296.9l0.6,-5.5l6.2,0.6l-0.5,5.6z"/>
<path color="#6d9341" d="M713.5,294.9l0.3,-5.5l6.3,1.1l-0.2,5.5z"/>
<path color="#92963b" d="M602.4,341.3l1.5,-6.1l2,-1.1l-1.5,6z"/>
<path color="#ca6947" d="M426,292.6l3.4,-5.4l5.5,0.6l-3.4,5.4z"/>
<path color="#c6974a" d="M508.8,237.6l2.5,-4.6l4.2,-8.9l-2.5,4.4z"/>
<path color="#d9c951" d="M569.1,245.2l1.8,-5.7l2,13.5l-1.8,5.9z"/>
<path color="#c99e4b" d="M537.7,168.8l2.3,-3.6l1.8,-4.2l-2.2,3.6z"/>
<path color="#ba8045" d="M474.1,278.5l2.9,-5.3l4.1,-1.9l-2.8,5.3z"/>
<path color="#ac7f40" d="M493.7,262l2.7,-5l4.1,-5.4l-2.7,5z"/>
<path color="#c57949" d="M451.5,288.1l3.1,-5.4l5.6,-0.5l-3.1,5.4z"/>
<path color="#ca9e4b" d="M524.5,201.5l2.3,-4l1.8,-4.8l-2.3,4z"/>
<path color="#90953b" d="M604.4,340.1l1.5,-6l1.9,-1.2l-1.5,6z"/>
<path color="#89983d" d="M644.3,310.5l1.1,-5.7l4.6,-1.1l-1,5.6z"/>
<path color="#d9c851" d="M567,230.9l1.9,-5.4l2,14l-1.8,5.7z"/>
<path color="#c8a04b" d="M539.6,164.6l2.2,-3.6l1.8,-3.8l-2.1,3.6z"/>
<path color="#829a40" d="M668.5,301.6l0.8,-5.6l6.2,0.1l-0.8,5.6z"/>
<path color="#8c963b" d="M624.8,322.8l1.2,-5.8l4.6,-2l-1.3,5.8z"/>
<path color="#8d933a" d="M606.3,338.9l1.5,-6l2,-1.2l-1.5,6z"/>
<path color="#cba14c" d="M526.3,196.7l2.3,-4l1.8,-4.8l-2.3,4z"/>
<path color="#759641" d="M694.2,297.6l0.5,-5.6l6.2,0.9l-0.4,5.6z"/>
<path color="#679043" d="M719.9,296l0.2,-5.5l6.3,1.1l-0.2,5.6z"/>
<path color="#cb7249" d="M431.5,293.2l3.4,-5.4l5.5,0.4l-3.3,5.4z"/>
<path color="#c99e4b" d="M513,228.5l2.5,-4.4l1.8,-4.3l-2.5,4.4z"/>
<path color="#b88445" d="M478.3,276.6l2.8,-5.3l4.2,-2.3l-2.8,5.2z"/>
<path color="#dcc852" d="M565,218.1l1.9,-5.2l2,12.6l-1.9,5.4z"/>
<path color="#8a9039" d="M608.3,337.7l1.5,-6l1.3,-0.9l-1.4,5.9z"/>
<path color="#b08f41" d="M541.5,160.8l2.1,-3.6l1.9,-2.7l-2.2,3.5z"/>
<path color="#85963d" d="M649,309.3l1,-5.6l4.6,-1l-1,5.6z"/>
<path color="#c48149" d="M457.1,287.6l3.1,-5.4l5.5,-1.1l-3.1,5.4z"/>
<path color="#ac8540" d="M497.8,256.6l2.7,-5l4.2,-6.2l-2.7,4.8z"/>
<path color="#c8c84f" d="M581.2,329.3l1.8,-6.9l1.9,5.7l-1.7,6.8z"/>
<path color="#cacb50" d="M583.2,334.9l1.7,-6.8l2,4.3l-1.7,6.8z"/>
<path color="#cda54c" d="M528.1,191.9l2.3,-4l1.9,-5l-2.4,4z"/>
<path color="#c7c64e" d="M579.2,321.7l1.8,-6.9l2,7.6l-1.8,6.9z"/>
<path color="#cccf51" d="M585.2,339.2l1.7,-6.8l1.9,3.2l-1.7,6.7z"/>
<path color="#ddc853" d="M563,206l1.9,-5l2,11.9l-1.9,5.2z"/>
<path color="#cba14b" d="M514.8,224.2l2.5,-4.4l1.8,-4.4l-2.5,4.3z"/>
<path color="#89963b" d="M629.3,320.8l1.3,-5.8l4.5,-1.6l-1.1,5.7z"/>
<path color="#cdd152" d="M587.1,342.3l1.7,-6.7l1.9,2.5l-1.6,6.6z"/>
<path color="#b69744" d="M543.3,158l2.2,-3.5l1.9,-1.8l-2.2,3.5z"/>
<path color="#c7c44d" d="M577.2,312.3l1.8,-6.9l2,9.4l-1.8,6.9z"/>
<path color="#7b973f" d="M674.7,301.7l0.8,-5.6l6.2,0.3l-0.7,5.6z"/>
<path color="#878f38" d="M609.7,336.7l1.4,-5.9l4.5,-3.1l-1.4,5.9z"/>
<path color="#628c44" d="M726.2,297.2l0.2,-5.6l6.3,1.2l-0.1,5.5z"/>
<path color="#cc6747" d="M411.4,296.6l3.6,-5.5l5.5,0.8l-3.6,5.6z"/>
<path color="#6d9341" d="M700.5,298.5l0.4,-5.6l6.3,1l-0.4,5.6z"/>
<path color="#cdd152" d="M589.1,344.7l1.6,-6.6l2,1.9l-1.7,6.6z"/>
<path color="#dfc853" d="M561,194.7l1.9,-4.8l2,11.1l-1.9,5z"/>
<path color="#ca7a4a" d="M437.1,293.6l3.3,-5.4l5.5,0.1l-3.3,5.5z"/>
<path color="#b58844" d="M482.5,274.2l2.8,-5.2l4.2,-2.9l-2.8,5.2z"/>
<path color="#c9c54e" d="M575.3,302.5l1.8,-6.9l1.9,9.8l-1.8,6.9z"/>
<path color="#81963d" d="M653.6,308.3l1,-5.6l4.6,-0.7l-0.9,5.6z"/>
<path color="#c7cd51" d="M591,346.6l1.7,-6.6l1.9,1.2l-1.6,6.5z"/>
<path color="#c0a047" d="M545.2,156.2l2.2,-3.5l1.9,-1.2l-2.2,3.6z"/>
<path color="#cea84d" d="M529.9,186.9l2.4,-4l1.8,-4.9l-2.3,3.8z"/>
<path color="#cca54c" d="M516.6,219.7l2.5,-4.3l1.8,-4.5l-2.5,4.2z"/>
<path color="#c38849" d="M462.6,286.5l3.1,-5.4l4.2,-1.1l-3,5.4z"/>
<path color="#e1c854" d="M559,184.4l2,-4.5l1.9,10l-1.9,4.8z"/>
<path color="#cac54e" d="M573.2,291.1l1.9,-6.8l2,11.3l-1.8,6.9z"/>
<path color="#bac14c" d="M593,347.7l1.6,-6.5l2,0.6l-1.6,6.5z"/>
<path color="#f6d05c" d="M547.1,155.1l2.2,-3.6l1.9,0.7l-2.1,3.7z"/>
<path color="#84943b" d="M634,319.1l1.1,-5.7l4.6,-1.6l-1.1,5.8z"/>
<path color="#c69f4a" d="M502,250.2l2.7,-4.8l4.1,-7.8l-2.6,4.7z"/>
<path color="#e4c955" d="M557,175.5l2,-4.2l2,8.6l-2,4.5z"/>
<path color="#f4d05b" d="M549.1,155.9l2.1,-3.7l1.9,3.7l-2.1,3.9z"/>
<path color="#b2ba49" d="M595,348.3l1.6,-6.5l1.9,0.4l-1.6,6.4z"/>
<path color="#f2cf5a" d="M551,159.8l2.1,-3.9l2,4.4l-2.1,4z"/>
<path color="#eacc57" d="M555,169.2l2,-4l2,6.1l-2,4.2z"/>
<path color="#efcf59" d="M553,164.3l2.1,-4l1.9,4.9l-2,4z"/>
<path color="#74943f" d="M681,302l0.7,-5.6l6.2,0.5l-0.6,5.6z"/>
<path color="#859039" d="M614.2,333.6l1.4,-5.9l4.6,-2.7l-1.4,5.9z"/>
<path color="#ceab4d" d="M531.8,181.8l2.3,-3.8l1.8,-4.7l-2.3,3.8z"/>
<path color="#cbc54e" d="M571.2,278l1.9,-6.3l2,12.6l-1.9,6.8z"/>
<path color="#5d8945" d="M732.6,298.3l0.1,-5.5l6.4,1.1l0,5.6z"/>
<path color="#689042" d="M706.8,299.5l0.4,-5.6l6.3,1l-0.3,5.7z"/>
<path color="#ce7149" d="M416.9,297.5l3.6,-5.6l5.5,0.7l-3.5,5.6z"/>
<path color="#cda94d" d="M518.4,215.1l2.5,-4.2l1.8,-4.6l-2.5,4.1z"/>
<path color="#7e963e" d="M658.3,307.6l0.9,-5.6l4.6,-0.3l-0.8,5.6z"/>
<path color="#b28b42" d="M486.7,271.3l2.8,-5.2l4.2,-4.1l-2.8,5.2z"/>
<path color="#cb834c" d="M442.6,293.8l3.3,-5.5l5.6,-0.2l-3.3,5.5z"/>
<path color="#9fa742" d="M596.9,348.6l1.6,-6.4l2,-0.1l-1.6,6.3z"/>
<path color="#c28d48" d="M466.9,285.4l3,-5.4l4.2,-1.5l-3,5.4z"/>
<path color="#cdc64e" d="M569.2,264.9l1.9,-6l2,12.8l-1.9,6.3z"/>
<path color="#cdac4c" d="M533.6,177.1l2.3,-3.8l1.8,-4.5l-2.2,3.8z"/>
<path color="#80923b" d="M638.6,317.6l1.1,-5.8l4.6,-1.3l-1,5.8z"/>
<path color="#8f983c" d="M598.9,348.4l1.6,-6.3l1.9,-0.8l-1.5,6.3z"/>
<path color="#ceac4d" d="M520.2,210.4l2.5,-4.1l1.8,-4.8l-2.5,4.1z"/>
<path color="#7a943e" d="M663,307.3l0.8,-5.6l4.7,-0.1l-0.8,5.7z"/>
<path color="#829039" d="M618.8,330.9l1.4,-5.9l4.6,-2.2l-1.3,5.9z"/>
<path color="#6d923f" d="M687.3,302.5l0.6,-5.6l6.3,0.7l-0.5,5.7z"/>
<path color="#638d44" d="M713.2,300.6l0.3,-5.7l6.4,1.1l-0.3,5.7z"/>
<path color="#879039" d="M600.9,347.6l1.5,-6.3l2,-1.2l-1.5,6.3z"/>
<path color="#cfc64e" d="M567.1,250.9l2,-5.7l2,13.7l-1.9,6z"/>
<path color="#d07b4c" d="M422.5,298.2l3.5,-5.6l5.5,0.6l-3.5,5.6z"/>
<path color="#cca94c" d="M506.2,242.3l2.6,-4.7l4.2,-9.1l-2.6,4.6z"/>
<path color="#caab4b" d="M535.5,172.6l2.2,-3.8l1.9,-4.2l-2.3,3.7z"/>
<path color="#c09247" d="M471.1,283.9l3,-5.4l4.2,-1.9l-3,5.4z"/>
<path color="#cb8c4c" d="M448.2,293.6l3.3,-5.5l5.6,-0.5l-3.2,5.5z"/>
<path color="#b08f42" d="M490.9,267.2l2.8,-5.2l4.1,-5.4l-2.7,5.1z"/>
<path color="#cdad4c" d="M522,205.6l2.5,-4.1l1.8,-4.8l-2.4,4.1z"/>
<path color="#858f38" d="M602.9,346.4l1.5,-6.3l1.9,-1.2l-1.5,6.2z"/>
<path color="#7c913b" d="M643.3,316.3l1,-5.8l4.7,-1.2l-1.1,5.8z"/>
<path color="#d0c74f" d="M565.1,236.5l1.9,-5.6l2.1,14.3l-2,5.7z"/>
<path color="#74923e" d="M667.7,307.3l0.8,-5.7l6.2,0.1l-0.7,5.7z"/>
<path color="#c8ab4b" d="M537.3,168.3l2.3,-3.7l1.9,-3.8l-2.3,3.6z"/>
<path color="#7f8f3a" d="M623.5,328.7l1.3,-5.9l4.5,-2l-1.2,5.9z"/>
<path color="#828d38" d="M604.8,345.1l1.5,-6.2l2,-1.2l-1.5,6.1z"/>
<path color="#698f41" d="M693.7,303.3l0.5,-5.7l6.3,0.9l-0.5,5.7z"/>
<path color="#ccad4c" d="M523.9,200.8l2.4,-4.1l1.8,-4.8l-2.4,4z"/>
<path color="#5e8a45" d="M719.6,301.7l0.3,-5.7l6.3,1.2l-0.1,5.7z"/>
<path color="#d0844e" d="M428,298.8l3.5,-5.6l5.6,0.4l-3.4,5.7z"/>
<path color="#ccac4c" d="M510.4,233.1l2.6,-4.6l1.8,-4.3l-2.6,4.4z"/>
<path color="#bd9546" d="M475.3,282l3,-5.4l4.2,-2.4l-2.9,5.4z"/>
<path color="#d4c950" d="M563,223.5l2,-5.4l2,12.8l-1.9,5.6z"/>
<path color="#7e8a37" d="M606.8,343.8l1.5,-6.1l1.4,-1l-1.5,6.1z"/>
<path color="#778f3b" d="M647.9,315.1l1.1,-5.8l4.6,-1l-1,5.8z"/>
<path color="#ad9541" d="M539.2,164.4l2.3,-3.6l1.8,-2.8l-2.2,3.6z"/>
<path color="#ca944b" d="M453.9,293.1l3.2,-5.5l5.5,-1.1l-3.1,5.5z"/>
<path color="#bcc24c" d="M579.4,336.3l1.8,-7l2,5.6l-1.8,7z"/>
<path color="#b09341" d="M495.1,261.7l2.7,-5.1l4.2,-6.4l-2.7,5z"/>
<path color="#bec54e" d="M581.4,341.9l1.8,-7l2,4.3l-1.8,6.9z"/>
<path color="#bbc04b" d="M577.4,328.8l1.8,-7.1l2,7.6l-1.8,7z"/>
<path color="#bfc84f" d="M583.4,346.1l1.8,-6.9l1.9,3.1l-1.7,6.9z"/>
<path color="#d6cb50" d="M561,211.2l2,-5.2l2,12.1l-2,5.4z"/>
<path color="#ccae4c" d="M525.7,195.9l2.4,-4l1.8,-5l-2.3,4z"/>
<path color="#cbad4c" d="M512.2,228.6l2.6,-4.4l1.8,-4.5l-2.5,4.4z"/>
<path color="#c0ca4f" d="M585.4,349.2l1.7,-6.9l2,2.4l-1.7,6.8z"/>
<path color="#bbbe4b" d="M575.4,319.4l1.8,-7.1l2,9.4l-1.8,7.1z"/>
<path color="#7c8f3a" d="M628.1,326.7l1.2,-5.9l4.7,-1.7l-1.2,5.9z"/>
<path color="#b39b43" d="M541.1,161.6l2.2,-3.6l1.9,-1.8l-2.2,3.6z"/>
<path color="#6d8f3e" d="M674,307.4l0.7,-5.7l6.3,0.3l-0.7,5.8z"/>
<path color="#7b8937" d="M608.2,342.8l1.5,-6.1l4.5,-3.1l-1.4,6.1z"/>
<path color="#beca4f" d="M587.4,351.5l1.7,-6.8l1.9,1.9l-1.6,6.7z"/>
<path color="#598646" d="M726.1,302.9l0.1,-5.7l6.4,1.1l-0.1,5.7z"/>
<path color="#648d43" d="M700,304.2l0.5,-5.7l6.3,1l-0.4,5.7z"/>
<path color="#d17a4c" d="M407.7,302.3l3.7,-5.7l5.5,0.9l-3.6,5.6z"/>
<path color="#bdbf4b" d="M573.4,309.5l1.9,-7l1.9,9.8l-1.8,7.1z"/>
<path color="#d9cb51" d="M559,199.7l2,-5l2,11.3l-2,5.2z"/>
<path color="#cf8d4d" d="M433.7,299.3l3.4,-5.7l5.5,0.2l-3.3,5.6z"/>
<path color="#ba9945" d="M479.6,279.6l2.9,-5.4l4.2,-2.9l-2.9,5.4z"/>
<path color="#b7c44d" d="M589.4,353.3l1.6,-6.7l2,1.1l-1.7,6.7z"/>
<path color="#748e3c" d="M652.6,314.1l1,-5.8l4.7,-0.7l-0.9,5.8z"/>
<path color="#bba446" d="M543,159.8l2.2,-3.6l1.9,-1.1l-2.2,3.6z"/>
<path color="#cbaf4c" d="M527.6,190.9l2.3,-4l1.9,-5.1l-2.4,4z"/>
<path color="#caad4b" d="M514.1,224.1l2.5,-4.4l1.8,-4.6l-2.5,4.4z"/>
<path color="#c99b4b" d="M459.5,292l3.1,-5.5l4.3,-1.1l-3.1,5.5z"/>
<path color="#bebf4b" d="M571.4,297.9l1.8,-6.8l2.1,11.4l-1.9,7z"/>
<path color="#dbcb52" d="M556.9,189l2.1,-4.6l2,10.3l-2,5z"/>
<path color="#aab748" d="M591.3,354.4l1.7,-6.7l2,0.6l-1.7,6.6z"/>
<path color="#f2d65a" d="M544.9,158.7l2.2,-3.6l2,0.8l-2.2,3.7z"/>
<path color="#788d3a" d="M632.8,325l1.2,-5.9l4.6,-1.5l-1.2,5.9z"/>
<path color="#ddcc53" d="M554.9,179.8l2.1,-4.3l2,8.9l-2.1,4.6z"/>
<path color="#c6a94a" d="M499.3,255.2l2.7,-5l4.2,-7.9l-2.6,4.8z"/>
<path color="#edd358" d="M546.9,159.6l2.2,-3.7l1.9,3.9l-2.1,4z"/>
<path color="#a2b146" d="M593.3,354.9l1.7,-6.6l1.9,0.3l-1.6,6.6z"/>
<path color="#ebd357" d="M548.9,163.8l2.1,-4l2,4.5l-2.1,4.1z"/>
<path color="#bfbf4b" d="M569.3,284.5l1.9,-6.5l2,13.1l-1.8,6.8z"/>
<path color="#e3d055" d="M552.9,173.4l2.1,-4.2l2,6.3l-2.1,4.3z"/>
<path color="#e8d257" d="M550.9,168.4l2.1,-4.1l2,4.9l-2.1,4.2z"/>
<path color="#678d3f" d="M680.3,307.8l0.7,-5.8l6.3,0.5l-0.6,5.8z"/>
<path color="#798937" d="M612.8,339.7l1.4,-6.1l4.6,-2.7l-1.3,6.1z"/>
<path color="#538348" d="M732.5,304l0.1,-5.7l6.5,1.2l0,5.7z"/>
<path color="#c9af4b" d="M529.4,185.8l2.4,-4l1.8,-4.7l-2.3,3.9z"/>
<path color="#5f8a44" d="M706.4,305.2l0.4,-5.7l6.4,1.1l-0.3,5.7z"/>
<path color="#d3844e" d="M413.3,303.1l3.6,-5.6l5.6,0.7l-3.6,5.7z"/>
<path color="#caae4b" d="M515.9,219.5l2.5,-4.4l1.8,-4.7l-2.5,4.3z"/>
<path color="#708e3d" d="M657.4,313.4l0.9,-5.8l4.7,-0.3l-0.9,5.8z"/>
<path color="#b49843" d="M483.8,276.7l2.9,-5.4l4.2,-4.1l-2.8,5.3z"/>
<path color="#d1974e" d="M439.3,299.4l3.3,-5.6l5.6,-0.2l-3.3,5.7z"/>
<path color="#909f3f" d="M595.3,355.2l1.6,-6.6l2,-0.2l-1.6,6.5z"/>
<path color="#c79f4a" d="M463.8,290.9l3.1,-5.5l4.2,-1.5l-3.1,5.6z"/>
<path color="#c1c04c" d="M567.3,271.1l1.9,-6.2l2,13.1l-1.9,6.5z"/>
<path color="#82903a" d="M597.3,354.9l1.6,-6.5l2,-0.8l-1.6,6.4z"/>
<path color="#738b3a" d="M637.4,323.5l1.2,-5.9l4.7,-1.3l-1.2,5.9z"/>
<path color="#c7af4a" d="M531.3,181l2.3,-3.9l1.9,-4.5l-2.4,3.8z"/>
<path color="#c9af4b" d="M517.7,214.7l2.5,-4.3l1.8,-4.8l-2.4,4.3z"/>
<path color="#6b8c3d" d="M662.1,313.1l0.9,-5.8l4.7,0l-0.8,5.8z"/>
<path color="#768938" d="M617.5,337l1.3,-6.1l4.7,-2.2l-1.4,6z"/>
<path color="#648c41" d="M686.7,308.3l0.6,-5.8l6.4,0.8l-0.6,5.8z"/>
<path color="#c3c04c" d="M565.2,256.8l1.9,-5.9l2.1,14l-1.9,6.2z"/>
<path color="#5a8746" d="M712.9,306.3l0.3,-5.7l6.4,1.1l-0.2,5.8z"/>
<path color="#7a8937" d="M599.3,354l1.6,-6.4l2,-1.2l-1.6,6.3z"/>
<path color="#d68e50" d="M418.9,303.9l3.6,-5.7l5.5,0.6l-3.5,5.7z"/>
<path color="#c7ad4a" d="M503.6,247.1l2.6,-4.8l4.2,-9.2l-2.6,4.6z"/>
<path color="#c5a349" d="M468,289.5l3.1,-5.6l4.2,-1.9l-3,5.5z"/>
<path color="#c5ae49" d="M533.1,176.4l2.4,-3.8l1.8,-4.3l-2.3,3.8z"/>
<path color="#d19f4e" d="M444.9,299.3l3.3,-5.7l5.7,-0.5l-3.3,5.7z"/>
<path color="#af9641" d="M488.1,272.5l2.8,-5.3l4.2,-5.5l-2.8,5.2z"/>
<path color="#c8b04a" d="M519.6,209.9l2.4,-4.3l1.9,-4.8l-2.5,4.2z"/>
<path color="#788837" d="M601.3,352.7l1.6,-6.3l1.9,-1.3l-1.5,6.3z"/>
<path color="#6f893a" d="M642.1,322.2l1.2,-5.9l4.6,-1.2l-1,5.9z"/>
<path color="#c4c14c" d="M563.1,242.1l2,-5.6l2,14.4l-1.9,5.9z"/>
<path color="#678a3d" d="M666.9,313.1l0.8,-5.8l6.3,0.1l-0.8,5.9z"/>
<path color="#c3ae49" d="M535,172.1l2.3,-3.8l1.9,-3.9l-2.3,3.7z"/>
<path color="#738838" d="M622.1,334.7l1.4,-6l4.6,-2l-1.3,6z"/>
<path color="#768636" d="M603.3,351.4l1.5,-6.3l2,-1.3l-1.5,6.3z"/>
<path color="#5f8943" d="M693.1,309.1l0.6,-5.8l6.3,0.9l-0.4,5.8z"/>
<path color="#558447" d="M719.4,307.5l0.2,-5.8l6.5,1.2l-0.2,5.8z"/>
<path color="#c7b14a" d="M521.4,205l2.5,-4.2l1.8,-4.9l-2.4,4.2z"/>
<path color="#d69850" d="M424.5,304.5l3.5,-5.7l5.7,0.5l-3.5,5.7z"/>
<path color="#c8c34d" d="M561,228.9l2,-5.4l2.1,13l-2,5.6z"/>
<path color="#c6af4a" d="M507.8,237.7l2.6,-4.6l1.8,-4.5l-2.6,4.6z"/>
<path color="#bea147" d="M472.3,287.5l3,-5.5l4.3,-2.4l-3,5.5z"/>
<path color="#738436" d="M605.3,350.1l1.5,-6.3l1.4,-1l-1.5,6.3z"/>
<path color="#6a873a" d="M646.9,321l1,-5.9l4.7,-1l-1,5.9z"/>
<path color="#aebb4a" d="M577.6,343.5l1.8,-7.2l2,5.6l-1.8,7.1z"/>
<path color="#a8983f" d="M536.9,168.1l2.3,-3.7l1.9,-2.8l-2.3,3.6z"/>
<path color="#d0a74d" d="M450.6,298.8l3.3,-5.7l5.6,-1.1l-3.2,5.7z"/>
<path color="#afbe4b" d="M579.6,349l1.8,-7.1l2,4.2l-1.8,7.1z"/>
<path color="#aeb949" d="M575.6,336l1.8,-7.2l2,7.5l-1.8,7.2z"/>
<path color="#ab9640" d="M492.3,266.9l2.8,-5.2l4.2,-6.5l-2.7,5z"/>
<path color="#b0c14c" d="M581.6,353.2l1.8,-7.1l2,3.1l-1.8,7z"/>
<path color="#cac54e" d="M559,216.4l2,-5.2l2,12.3l-2,5.4z"/>
<path color="#c6b14a" d="M523.3,200.1l2.4,-4.2l1.9,-5l-2.5,4.1z"/>
<path color="#aeb848" d="M573.5,326.7l1.9,-7.3l2,9.4l-1.8,7.2z"/>
<path color="#b0c24d" d="M583.6,356.2l1.8,-7l2,2.3l-1.8,7z"/>
<path color="#c5b04a" d="M509.6,233.2l2.6,-4.6l1.9,-4.5l-2.6,4.5z"/>
<path color="#6f8739" d="M626.8,332.7l1.3,-6l4.7,-1.7l-1.3,6.1z"/>
<path color="#63893f" d="M673.2,313.3l0.8,-5.9l6.3,0.4l-0.7,5.9z"/>
<path color="#ae9e41" d="M538.8,165.2l2.3,-3.6l1.9,-1.8l-2.2,3.7z"/>
<path color="#6f8235" d="M606.7,349.1l1.5,-6.3l4.6,-3.1l-1.4,6.1z"/>
<path color="#aec14d" d="M585.6,358.5l1.8,-7l2,1.8l-1.8,6.9z"/>
<path color="#b0b949" d="M571.5,316.8l1.9,-7.3l2,9.9l-1.9,7.3z"/>
<path color="#4f8049" d="M725.9,308.7l0.2,-5.8l6.4,1.1l-0.1,5.9z"/>
<path color="#5b8745" d="M699.6,310l0.4,-5.8l6.4,1l-0.4,5.9z"/>
<path color="#d78d50" d="M403.9,308.1l3.8,-5.8l5.6,0.8l-3.8,5.8z"/>
<path color="#cdc64e" d="M556.9,204.7l2.1,-5l2,11.5l-2,5.2z"/>
<path color="#d6a150" d="M430.2,305l3.5,-5.7l5.6,0.1l-3.4,5.8z"/>
<path color="#b79e44" d="M476.6,285.1l3,-5.5l4.2,-2.9l-2.9,5.4z"/>
<path color="#a6ba4b" d="M587.6,360.2l1.8,-6.9l1.9,1.1l-1.7,6.8z"/>
<path color="#66873a" d="M651.6,320l1,-5.9l4.8,-0.7l-1,5.9z"/>
<path color="#b7a844" d="M540.8,163.5l2.2,-3.7l1.9,-1.1l-2.2,3.7z"/>
<path color="#b1b949" d="M569.4,305l2,-7.1l2,11.6l-1.9,7.3z"/>
<path color="#c5b249" d="M525.1,195l2.5,-4.1l1.8,-5.1l-2.4,4.1z"/>
<path color="#c4b149" d="M511.5,228.6l2.6,-4.5l1.8,-4.6l-2.6,4.4z"/>
<path color="#ceac4d" d="M456.3,297.7l3.2,-5.7l4.3,-1.1l-3.2,5.7z"/>
<path color="#d0c84f" d="M554.8,193.7l2.1,-4.7l2.1,10.7l-2.1,5z"/>
<path color="#98ac46" d="M589.6,361.2l1.7,-6.8l2,0.5l-1.7,6.7z"/>
<path color="#eddb58" d="M542.7,162.4l2.2,-3.7l2,0.9l-2.2,3.9z"/>
<path color="#6b8639" d="M631.5,331.1l1.3,-6.1l4.6,-1.5l-1.1,6.1z"/>
<path color="#d4ca50" d="M552.8,184.3l2.1,-4.5l2,9.2l-2.1,4.7z"/>
<path color="#c1ac48" d="M496.6,260.2l2.7,-5l4.3,-8.1l-2.8,4.9z"/>
<path color="#b3b949" d="M567.4,291.2l1.9,-6.7l2.1,13.4l-2,7.1z"/>
<path color="#91a643" d="M591.6,361.6l1.7,-6.7l2,0.3l-1.6,6.6z"/>
<path color="#e5d655" d="M544.7,163.5l2.2,-3.9l2,4.2l-2.2,4.1z"/>
<path color="#e4d655" d="M546.7,167.9l2.2,-4.1l2,4.6l-2.2,4.2z"/>
<path color="#dad052" d="M550.7,177.7l2.2,-4.3l2,6.4l-2.1,4.5z"/>
<path color="#5e8741" d="M679.6,313.7l0.7,-5.9l6.4,0.5l-0.6,5.9z"/>
<path color="#e0d454" d="M548.7,172.6l2.2,-4.2l2,5l-2.2,4.3z"/>
<path color="#6d8236" d="M611.4,345.8l1.4,-6.1l4.7,-2.7l-1.5,6.1z"/>
<path color="#4d7e4d" d="M732.4,309.9l0.1,-5.9l6.6,1.2l-0.1,5.9z"/>
<path color="#568447" d="M706,311.1l0.4,-5.9l6.5,1.1l-0.3,5.9z"/>
<path color="#c3b249" d="M527,189.9l2.4,-4.1l1.9,-4.8l-2.4,4z"/>
<path color="#d99851" d="M409.5,308.9l3.8,-5.8l5.6,0.8l-3.7,5.8z"/>
<path color="#64873c" d="M656.4,319.3l1,-5.9l4.7,-0.3l-0.9,6z"/>
<path color="#c4b249" d="M513.3,223.9l2.6,-4.4l1.8,-4.8l-2.5,4.4z"/>
<path color="#af9a41" d="M480.9,282.1l2.9,-5.4l4.3,-4.2l-2.9,5.4z"/>
<path color="#81963d" d="M593.7,361.8l1.6,-6.6l2,-0.3l-1.6,6.6z"/>
<path color="#d7aa50" d="M435.9,305.2l3.4,-5.8l5.6,-0.1l-3.3,5.7z"/>
<path color="#c7aa4a" d="M460.6,296.6l3.2,-5.7l4.2,-1.4l-3.1,5.6z"/>
<path color="#b5ba49" d="M565.3,277.4l2,-6.3l2,13.4l-1.9,6.7z"/>
<path color="#758838" d="M595.7,361.5l1.6,-6.6l2,-0.9l-1.6,6.5z"/>
<path color="#668338" d="M636.3,329.6l1.1,-6.1l4.7,-1.3l-1.1,6z"/>
<path color="#c1b248" d="M528.9,185l2.4,-4l1.8,-4.6l-2.3,4z"/>
<path color="#c3b249" d="M515.2,219.1l2.5,-4.4l1.9,-4.8l-2.6,4.3z"/>
<path color="#61863e" d="M661.2,319.1l0.9,-6l4.8,0l-0.9,5.9z"/>
<path color="#6a8237" d="M616,343.1l1.5,-6.1l4.6,-2.3l-1.3,6.1z"/>
<path color="#b6ba49" d="M563.2,262.8l2,-6l2.1,14.3l-2,6.3z"/>
<path color="#5b8644" d="M686.1,314.2l0.6,-5.9l6.4,0.8l-0.5,5.9z"/>
<path color="#508148" d="M712.6,312.2l0.3,-5.9l6.5,1.2l-0.3,5.9z"/>
<path color="#6e8235" d="M597.7,360.5l1.6,-6.5l2,-1.3l-1.6,6.5z"/>
<path color="#dca352" d="M415.2,309.7l3.7,-5.8l5.6,0.6l-3.6,5.9z"/>
<path color="#c1b048" d="M500.8,252l2.8,-4.9l4.2,-9.4l-2.7,4.8z"/>
<path color="#c0a748" d="M464.9,295.1l3.1,-5.6l4.3,-2l-3.1,5.7z"/>
<path color="#bfb147" d="M530.8,180.4l2.3,-4l1.9,-4.3l-2.3,3.9z"/>
<path color="#d7b350" d="M441.6,305l3.3,-5.7l5.7,-0.5l-3.3,5.7z"/>
<path color="#a9983f" d="M485.2,277.9l2.9,-5.4l4.2,-5.6l-2.8,5.3z"/>
<path color="#c2b348" d="M517,214.2l2.6,-4.3l1.8,-4.9l-2.5,4.3z"/>
<path color="#6c8135" d="M599.7,359.2l1.6,-6.5l2,-1.3l-1.6,6.5z"/>
<path color="#618138" d="M641,328.2l1.1,-6l4.8,-1.2l-1.1,6z"/>
<path color="#b8bb4a" d="M561.1,247.9l2,-5.8l2.1,14.7l-2,6z"/>
<path color="#5e8540" d="M666,319l0.9,-5.9l6.3,0.2l-0.8,6z"/>
<path color="#668137" d="M620.8,340.8l1.3,-6.1l4.7,-2l-1.3,6.2z"/>
<path color="#697f35" d="M601.7,357.9l1.6,-6.5l2,-1.3l-1.6,6.4z"/>
<path color="#bdb147" d="M532.7,176l2.3,-3.9l1.9,-4l-2.3,3.8z"/>
<path color="#568445" d="M692.6,315l0.5,-5.9l6.5,0.9l-0.5,6z"/>
<path color="#4d7f4c" d="M719.1,313.4l0.3,-5.9l6.5,1.2l-0.2,5.9z"/>
<path color="#c1b448" d="M518.9,209.3l2.5,-4.3l1.9,-4.9l-2.5,4.2z"/>
<path color="#ddad52" d="M420.9,310.4l3.6,-5.9l5.7,0.5l-3.6,5.9z"/>
<path color="#bcbd4b" d="M559,234.5l2,-5.6l2.1,13.2l-2,5.8z"/>
<path color="#c1b248" d="M505.1,242.5l2.7,-4.8l1.8,-4.5l-2.6,4.6z"/>
<path color="#b9a445" d="M469.2,293.2l3.1,-5.7l4.3,-2.4l-3,5.7z"/>
<path color="#677d34" d="M603.7,356.5l1.6,-6.4l1.4,-1l-1.5,6.4z"/>
<path color="#9fb348" d="M575.7,350.9l1.9,-7.4l2,5.5l-1.8,7.3z"/>
<path color="#5e813a" d="M645.8,327l1.1,-6l4.7,-1l-1,6z"/>
<path color="#a0b549" d="M577.8,356.3l1.8,-7.3l2,4.2l-1.8,7.2z"/>
<path color="#cfb14d" d="M447.3,304.5l3.3,-5.7l5.7,-1.1l-3.2,5.8z"/>
<path color="#9fb147" d="M573.7,343.4l1.9,-7.4l2,7.5l-1.9,7.4z"/>
<path color="#a39a3d" d="M534.6,171.9l2.3,-3.8l1.9,-2.9l-2.3,3.8z"/>
<path color="#a0b84b" d="M579.8,360.4l1.8,-7.2l2,3l-1.8,7.2z"/>
<path color="#a6983e" d="M489.5,272.2l2.8,-5.3l4.3,-6.7l-2.8,5.2z"/>
<path color="#bebf4b" d="M556.9,221.8l2.1,-5.4l2,12.5l-2,5.6z"/>
<path color="#9fb046" d="M571.6,334.1l1.9,-7.4l2.1,9.3l-1.9,7.4z"/>
<path color="#a0b94b" d="M581.8,363.4l1.8,-7.2l2,2.3l-1.8,7.1z"/>
<path color="#c0b448" d="M520.8,204.3l2.5,-4.2l1.8,-5.1l-2.5,4.2z"/>
<path color="#628037" d="M625.5,338.9l1.3,-6.2l4.7,-1.6l-1.2,6.2z"/>
<path color="#c0b348" d="M507,237.8l2.6,-4.6l1.9,-4.6l-2.7,4.5z"/>
<path color="#5a8342" d="M672.4,319.3l0.8,-6l6.4,0.4l-0.7,6z"/>
<path color="#a2b146" d="M569.6,324.1l1.9,-7.3l2,9.9l-1.9,7.4z"/>
<path color="#9db84b" d="M583.8,365.6l1.8,-7.1l2,1.7l-1.7,7.1z"/>
<path color="#647b34" d="M605.2,355.5l1.5,-6.4l4.7,-3.3l-1.5,6.4z"/>
<path color="#a8a03f" d="M536.5,169l2.3,-3.8l2,-1.7l-2.3,3.8z"/>
<path color="#4c7c50" d="M725.7,314.6l0.2,-5.9l6.5,1.2l-0.1,5.9z"/>
<path color="#518147" d="M699.1,316l0.5,-6l6.4,1.1l-0.4,6z"/>
<path color="#dda253" d="M400.1,314l3.8,-5.9l5.6,0.8l-3.8,6z"/>
<path color="#c1c04c" d="M554.8,209.8l2.1,-5.1l2.1,11.7l-2.1,5.4z"/>
<path color="#dcb552" d="M426.6,310.9l3.6,-5.9l5.7,0.2l-3.6,5.8z"/>
<path color="#b2a142" d="M473.6,290.8l3,-5.7l4.3,-3l-3,5.6z"/>
<path color="#94af48" d="M585.9,367.3l1.7,-7.1l2,1l-1.7,7z"/>
<path color="#5d813c" d="M650.6,326l1,-6l4.8,-0.7l-1,6.1z"/>
<path color="#a4b246" d="M567.5,312.1l1.9,-7.1l2.1,11.8l-1.9,7.3z"/>
<path color="#b1a843" d="M538.5,167.3l2.3,-3.8l1.9,-1.1l-2.3,3.8z"/>
<path color="#bfb447" d="M522.6,199.2l2.5,-4.2l1.9,-5.1l-2.5,4.1z"/>
<path color="#c4c24c" d="M552.7,198.5l2.1,-4.8l2.1,11l-2.1,5.1z"/>
<path color="#c8af4b" d="M453.1,303.5l3.2,-5.8l4.3,-1.1l-3.2,5.8z"/>
<path color="#bfb447" d="M508.8,233.1l2.7,-4.5l1.8,-4.7l-2.6,4.5z"/>
<path color="#87a243" d="M587.9,368.2l1.7,-7l2,0.4l-1.7,6.9z"/>
<path color="#5e7e38" d="M630.3,337.3l1.2,-6.2l4.8,-1.5l-1.3,6.2z"/>
<path color="#e4da56" d="M540.4,166.2l2.3,-3.8l2,1.1l-2.3,3.9z"/>
<path color="#c7c44d" d="M550.6,188.8l2.2,-4.5l2,9.4l-2.1,4.8z"/>
<path color="#a5b246" d="M565.4,298l2,-6.8l2,13.8l-1.9,7.1z"/>
<path color="#bbb046" d="M493.8,265.4l2.8,-5.2l4.2,-8.2l-2.7,5.1z"/>
<path color="#809b41" d="M589.9,368.5l1.7,-6.9l2.1,0.2l-1.7,6.9z"/>
<path color="#d9d153" d="M542.4,167.4l2.3,-3.9l2,4.4l-2.2,4.2z"/>
<path color="#cec950" d="M548.5,182.1l2.2,-4.4l2.1,6.6l-2.2,4.5z"/>
<path color="#d7d052" d="M544.5,172.1l2.2,-4.2l2,4.7l-2.2,4.3z"/>
<path color="#558143" d="M678.9,319.7l0.7,-6l6.5,0.5l-0.6,6.1z"/>
<path color="#d3ce51" d="M546.5,176.9l2.2,-4.3l2,5.1l-2.2,4.4z"/>
<path color="#607b35" d="M609.9,352.2l1.5,-6.4l4.6,-2.7l-1.4,6.3z"/>
<path color="#4b7a55" d="M732.3,315.8l0.1,-5.9l6.6,1.2l0,6z"/>
<path color="#4d7f4a" d="M705.6,317.1l0.4,-6l6.6,1.1l-0.4,6z"/>
<path color="#e0ad53" d="M405.7,314.9l3.8,-6l5.7,0.8l-3.8,6z"/>
<path color="#bcb347" d="M524.5,194l2.5,-4.1l1.9,-4.9l-2.5,4z"/>
<path color="#5b813e" d="M655.4,325.4l1,-6.1l4.8,-0.2l-0.9,6z"/>
<path color="#bdb347" d="M510.7,228.4l2.6,-4.5l1.9,-4.8l-2.6,4.5z"/>
<path color="#738c3b" d="M592,368.7l1.7,-6.9l2,-0.3l-1.7,6.8z"/>
<path color="#aa9d3f" d="M477.9,287.7l3,-5.6l4.3,-4.2l-3,5.6z"/>
<path color="#d8b750" d="M432.3,311l3.6,-5.8l5.7,-0.2l-3.5,6z"/>
<path color="#a7b346" d="M563.3,283.8l2,-6.4l2.1,13.8l-2,6.8z"/>
<path color="#c2ad48" d="M457.4,302.4l3.2,-5.8l4.3,-1.5l-3.2,5.8z"/>
<path color="#688036" d="M594,368.3l1.7,-6.8l2,-1l-1.7,6.7z"/>
<path color="#5b7d39" d="M635,335.8l1.3,-6.2l4.7,-1.4l-1.1,6.2z"/>
<path color="#b9b146" d="M526.4,189l2.5,-4l1.9,-4.6l-2.5,4z"/>
<path color="#bcb247" d="M512.6,223.6l2.6,-4.5l1.8,-4.9l-2.6,4.4z"/>
<path color="#aab447" d="M561.1,269l2.1,-6.2l2.1,14.6l-2,6.4z"/>
<path color="#588140" d="M660.3,325.1l0.9,-6l4.8,-0.1l-0.9,6.1z"/>
<path color="#5d7b35" d="M614.6,349.4l1.4,-6.3l4.8,-2.3l-1.4,6.3z"/>
<path color="#528046" d="M685.5,320.3l0.6,-6.1l6.5,0.8l-0.6,6.1z"/>
<path color="#4c7d4f" d="M712.2,318.2l0.4,-6l6.5,1.2l-0.2,6z"/>
<path color="#627a34" d="M596,367.2l1.7,-6.7l2,-1.3l-1.6,6.6z"/>
<path color="#e2b854" d="M411.4,315.7l3.8,-6l5.7,0.7l-3.7,6z"/>
<path color="#bab146" d="M498.1,257.1l2.7,-5.1l4.3,-9.5l-2.7,4.8z"/>
<path color="#bbaa46" d="M461.7,300.9l3.2,-5.8l4.3,-1.9l-3.1,5.8z"/>
<path color="#d1b64e" d="M438.1,311l3.5,-6l5.7,-0.5l-3.4,6z"/>
<path color="#b6af45" d="M528.3,184.4l2.5,-4l1.9,-4.4l-2.4,4z"/>
<path color="#a49b3d" d="M482.2,283.5l3,-5.6l4.3,-5.7l-2.9,5.4z"/>
<path color="#bab146" d="M514.4,218.6l2.6,-4.4l1.9,-4.9l-2.6,4.4z"/>
<path color="#607a34" d="M598.1,365.8l1.6,-6.6l2,-1.3l-1.6,6.6z"/>
<path color="#acb547" d="M559,253.9l2.1,-6l2.1,14.9l-2.1,6.2z"/>
<path color="#597c3a" d="M639.9,334.4l1.1,-6.2l4.8,-1.2l-1.1,6.2z"/>
<path color="#557f42" d="M665.1,325.1l0.9,-6.1l6.4,0.3l-0.8,6.1z"/>
<path color="#5b7b37" d="M619.4,347.1l1.4,-6.3l4.7,-1.9l-1.3,6.3z"/>
<path color="#5d7833" d="M600.1,364.5l1.6,-6.6l2,-1.4l-1.5,6.6z"/>
<path color="#b4ad44" d="M530.3,180l2.4,-4l1.9,-4.1l-2.4,3.9z"/>
<path color="#4d7e48" d="M692,321.1l0.6,-6.1l6.5,1l-0.5,6.1z"/>
<path color="#4b7a54" d="M718.9,319.4l0.2,-6l6.6,1.2l-0.2,6.1z"/>
<path color="#afb748" d="M556.9,240.2l2.1,-5.7l2.1,13.4l-2.1,6z"/>
<path color="#b8b146" d="M516.3,213.7l2.6,-4.4l1.9,-5l-2.6,4.3z"/>
<path color="#dfbc53" d="M417.2,316.4l3.7,-6l5.7,0.5l-3.6,6z"/>
<path color="#b4a743" d="M466.1,299l3.1,-5.8l4.4,-2.4l-3.1,5.7z"/>
<path color="#b8b046" d="M502.4,247.3l2.7,-4.8l1.9,-4.7l-2.8,4.8z"/>
<path color="#5b7633" d="M602.2,363.1l1.5,-6.6l1.5,-1l-1.6,6.5z"/>
<path color="#90aa46" d="M573.8,358.4l1.9,-7.5l2.1,5.4l-1.9,7.5z"/>
<path color="#90ad48" d="M575.9,363.8l1.9,-7.5l2,4.1l-1.9,7.4z"/>
<path color="#8fa845" d="M571.8,350.9l1.9,-7.5l2,7.5l-1.9,7.5z"/>
<path color="#567b3c" d="M644.7,333.2l1.1,-6.2l4.8,-1l-1.1,6.2z"/>
<path color="#c9b44b" d="M443.9,310.5l3.4,-6l5.8,-1l-3.4,5.9z"/>
<path color="#90af49" d="M577.9,367.8l1.9,-7.4l2,3l-1.8,7.3z"/>
<path color="#9a953b" d="M532.2,175.8l2.4,-3.9l1.9,-2.9l-2.4,3.8z"/>
<path color="#9f983c" d="M486.6,277.6l2.9,-5.4l4.3,-6.8l-2.9,5.3z"/>
<path color="#90a845" d="M569.7,341.7l1.9,-7.6l2.1,9.3l-1.9,7.5z"/>
<path color="#b2b949" d="M554.7,227.4l2.2,-5.6l2.1,12.7l-2.1,5.7z"/>
<path color="#8fb04a" d="M580,370.7l1.8,-7.3l2,2.2l-1.8,7.3z"/>
<path color="#b6b046" d="M518.2,208.6l2.6,-4.3l1.8,-5.1l-2.5,4.3z"/>
<path color="#597a38" d="M624.2,345.2l1.3,-6.3l4.8,-1.6l-1.3,6.3z"/>
<path color="#93a945" d="M567.6,331.7l2,-7.6l2,10l-1.9,7.6z"/>
<path color="#b6b045" d="M504.2,242.6l2.8,-4.8l1.8,-4.7l-2.7,4.7z"/>
<path color="#8cae4a" d="M582,372.9l1.8,-7.3l2.1,1.7l-1.8,7.2z"/>
<path color="#517e44" d="M671.6,325.4l0.8,-6.1l6.5,0.4l-0.7,6.1z"/>
<path color="#577433" d="M603.6,362l1.6,-6.5l4.7,-3.3l-1.6,6.5z"/>
<path color="#a09c3e" d="M534.1,172.8l2.4,-3.8l2,-1.7l-2.4,3.8z"/>
<path color="#4a7859" d="M725.5,320.7l0.2,-6.1l6.6,1.2l-0.1,6.1z"/>
<path color="#4c7c4d" d="M698.6,322.1l0.5,-6.1l6.5,1.1l-0.4,6.1z"/>
<path color="#b5ba49" d="M552.6,215.1l2.2,-5.3l2.1,12l-2.2,5.6z"/>
<path color="#e4b655" d="M396.1,320l4,-6l5.6,0.9l-3.9,6z"/>
<path color="#d8bb50" d="M423,316.9l3.6,-6l5.7,0.1l-3.5,6.1z"/>
<path color="#83a546" d="M584.1,374.5l1.8,-7.2l2,0.9l-1.8,7.1z"/>
<path color="#aca340" d="M470.5,296.5l3.1,-5.7l4.3,-3.1l-3.1,5.8z"/>
<path color="#94a944" d="M565.5,319.5l2,-7.4l2.1,12l-2,7.6z"/>
<path color="#547c3e" d="M649.5,332.2l1.1,-6.2l4.8,-0.6l-1,6.2z"/>
<path color="#a7a441" d="M536.1,171.1l2.4,-3.8l1.9,-1.1l-2.3,3.9z"/>
<path color="#b7bc4a" d="M550.5,203.4l2.2,-4.9l2.1,11.3l-2.2,5.3z"/>
<path color="#b4af45" d="M520.1,203.5l2.5,-4.3l1.9,-5.2l-2.5,4.2z"/>
<path color="#c2b248" d="M449.7,309.4l3.4,-5.9l4.3,-1.1l-3.3,5.9z"/>
<path color="#769740" d="M586.1,375.3l1.8,-7.1l2,0.3l-1.7,7.1z"/>
<path color="#b4af45" d="M506.1,237.8l2.7,-4.7l1.9,-4.7l-2.7,4.7z"/>
<path color="#96a944" d="M563.3,305l2.1,-7l2.1,14.1l-2,7.4z"/>
<path color="#56793a" d="M629,343.6l1.3,-6.3l4.7,-1.5l-1.2,6.3z"/>
<path color="#bbbe4b" d="M548.4,193.4l2.2,-4.6l2.1,9.7l-2.2,4.9z"/>
<path color="#d7d554" d="M538.1,170.1l2.3,-3.9l2,1.2l-2.3,4z"/>
<path color="#70913e" d="M588.2,375.6l1.7,-7.1l2.1,0.2l-1.8,7z"/>
<path color="#b2ac44" d="M490.9,270.7l2.9,-5.3l4.3,-8.3l-2.9,5.1z"/>
<path color="#ccca50" d="M540.1,171.4l2.3,-4l2.1,4.7l-2.3,4.2z"/>
<path color="#c1c34d" d="M546.3,186.6l2.2,-4.5l2.1,6.7l-2.2,4.6z"/>
<path color="#caca50" d="M542.2,176.3l2.3,-4.2l2,4.8l-2.3,4.4z"/>
<path color="#4c7c46" d="M678.2,325.8l0.7,-6.1l6.6,0.6l-0.7,6.1z"/>
<path color="#567534" d="M608.3,358.7l1.6,-6.5l4.7,-2.8l-1.5,6.5z"/>
<path color="#c7c84f" d="M544.2,181.3l2.3,-4.4l2,5.2l-2.2,4.5z"/>
<path color="#49765e" d="M732.2,321.9l0.1,-6.1l6.7,1.3l0,6.1z"/>
<path color="#4b7a52" d="M705.2,323.2l0.4,-6.1l6.6,1.1l-0.3,6.2z"/>
<path color="#e5bf55" d="M401.8,320.9l3.9,-6l5.7,0.8l-3.8,6z"/>
<path color="#b1ad45" d="M522,198.2l2.5,-4.2l1.9,-5l-2.5,4.2z"/>
<path color="#527c40" d="M654.4,331.6l1,-6.2l4.9,-0.3l-1,6.3z"/>
<path color="#b3ae45" d="M508,233.1l2.7,-4.7l1.9,-4.8l-2.7,4.6z"/>
<path color="#648339" d="M590.2,375.7l1.8,-7l2,-0.4l-1.7,6.9z"/>
<path color="#a39c3e" d="M474.8,293.5l3.1,-5.8l4.3,-4.2l-3,5.6z"/>
<path color="#d2ba4e" d="M428.8,317.1l3.5,-6.1l5.8,0l-3.5,6z"/>
<path color="#99ab44" d="M561.2,290.4l2.1,-6.6l2.1,14.2l-2.1,7z"/>
<path color="#bcb046" d="M454.1,308.3l3.3,-5.9l4.3,-1.5l-3.2,5.9z"/>
<path color="#5a7834" d="M592.3,375.2l1.7,-6.9l2,-1.1l-1.7,6.9z"/>
<path color="#53783b" d="M633.8,342.1l1.2,-6.3l4.9,-1.4l-1.2,6.3z"/>
<path color="#afac44" d="M523.9,193.2l2.5,-4.2l1.9,-4.6l-2.5,4.1z"/>
<path color="#b1ad44" d="M509.9,228.2l2.7,-4.6l1.8,-5l-2.6,4.6z"/>
<path color="#9bac45" d="M559,275.3l2.1,-6.3l2.2,14.8l-2.1,6.6z"/>
<path color="#507b42" d="M659.3,331.4l1,-6.3l4.8,0l-0.9,6.3z"/>
<path color="#557637" d="M613.1,355.9l1.5,-6.5l4.8,-2.3l-1.5,6.5z"/>
<path color="#4c7b4b" d="M684.8,326.4l0.7,-6.1l6.5,0.8l-0.6,6.2z"/>
<path color="#4a7858" d="M711.9,324.4l0.3,-6.2l6.7,1.2l-0.3,6.2z"/>
<path color="#567333" d="M594.3,374.1l1.7,-6.9l2.1,-1.4l-1.7,6.8z"/>
<path color="#e0c053" d="M407.6,321.7l3.8,-6l5.8,0.7l-3.8,6.1z"/>
<path color="#b0ac44" d="M495.2,262.2l2.9,-5.1l4.3,-9.8l-2.8,5z"/>
<path color="#b4ab44" d="M458.5,306.8l3.2,-5.9l4.4,-1.9l-3.2,5.9z"/>
<path color="#cbb94c" d="M434.6,317l3.5,-6l5.8,-0.5l-3.5,6z"/>
<path color="#9b963b" d="M479.2,289.1l3,-5.6l4.4,-5.9l-3,5.6z"/>
<path color="#acaa43" d="M525.8,188.5l2.5,-4.1l2,-4.4l-2.5,4z"/>
<path color="#557333" d="M596.4,372.6l1.7,-6.8l2,-1.3l-1.6,6.7z"/>
<path color="#afac44" d="M511.8,223.2l2.6,-4.6l1.9,-4.9l-2.6,4.4z"/>
<path color="#9ead45" d="M556.9,260l2.1,-6.1l2.1,15.1l-2.1,6.3z"/>
<path color="#50773c" d="M638.7,340.7l1.2,-6.3l4.8,-1.2l-1.1,6.3z"/>
<path color="#4c7a44" d="M664.2,331.4l0.9,-6.3l6.5,0.3l-0.8,6.2z"/>
<path color="#537638" d="M617.9,353.6l1.5,-6.5l4.8,-1.9l-1.4,6.5z"/>
<path color="#537234" d="M598.5,371.2l1.6,-6.7l2.1,-1.4l-1.7,6.7z"/>
<path color="#a9a842" d="M527.8,184l2.5,-4l1.9,-4.2l-2.5,4z"/>
<path color="#4b7a50" d="M691.4,327.3l0.6,-6.2l6.6,1l-0.5,6.2z"/>
<path color="#49765d" d="M718.6,325.6l0.3,-6.2l6.6,1.3l-0.2,6.2z"/>
<path color="#a1b045" d="M554.7,246.1l2.2,-5.9l2.1,13.7l-2.1,6.1z"/>
<path color="#d9c051" d="M413.4,322.5l3.8,-6.1l5.8,0.5l-3.8,6.1z"/>
<path color="#adab44" d="M513.7,218.1l2.6,-4.4l1.9,-5.1l-2.6,4.5z"/>
<path color="#aba541" d="M462.9,304.9l3.2,-5.9l4.4,-2.5l-3.2,5.9z"/>
<path color="#80a245" d="M571.9,366.1l1.9,-7.7l2.1,5.4l-1.9,7.6z"/>
<path color="#aeab44" d="M499.6,252.3l2.8,-5l1.8,-4.7l-2.7,4.9z"/>
<path color="#527034" d="M600.5,369.8l1.7,-6.7l1.4,-1.1l-1.6,6.7z"/>
<path color="#80a446" d="M574,371.4l1.9,-7.6l2,4l-1.9,7.6z"/>
<path color="#80a044" d="M569.8,358.7l2,-7.8l2,7.5l-1.9,7.7z"/>
<path color="#4e763e" d="M643.6,339.5l1.1,-6.3l4.8,-1l-1,6.4z"/>
<path color="#80a648" d="M576,375.4l1.9,-7.6l2.1,2.9l-1.9,7.5z"/>
<path color="#c3b749" d="M440.4,316.5l3.5,-6l5.8,-1.1l-3.4,6z"/>
<path color="#819f43" d="M567.7,349.4l2,-7.7l2.1,9.2l-2,7.8z"/>
<path color="#a4b246" d="M552.6,233l2.1,-5.6l2.2,12.8l-2.2,5.9z"/>
<path color="#919139" d="M529.7,179.8l2.5,-4l1.9,-3l-2.4,4z"/>
<path color="#96933a" d="M483.6,283.2l3,-5.6l4.3,-6.9l-2.9,5.4z"/>
<path color="#7ea648" d="M578.1,378.2l1.9,-7.5l2,2.2l-1.8,7.4z"/>
<path color="#84a043" d="M565.5,339.4l2.1,-7.7l2.1,10l-2,7.7z"/>
<path color="#abab43" d="M515.6,213.1l2.6,-4.5l1.9,-5.1l-2.6,4.4z"/>
<path color="#51763a" d="M622.8,351.7l1.4,-6.5l4.8,-1.6l-1.4,6.5z"/>
<path color="#7ba448" d="M580.2,380.3l1.8,-7.4l2.1,1.6l-1.9,7.4z"/>
<path color="#acaa43" d="M501.5,247.5l2.7,-4.9l1.9,-4.8l-2.7,4.9z"/>
<path color="#4a7948" d="M670.8,331.6l0.8,-6.2l6.6,0.4l-0.7,6.3z"/>
<path color="#506f34" d="M602,368.7l1.6,-6.7l4.7,-3.3l-1.5,6.6z"/>
<path color="#a7b346" d="M550.4,220.5l2.2,-5.4l2.1,12.3l-2.1,5.6z"/>
<path color="#487462" d="M725.3,326.9l0.2,-6.2l6.7,1.2l-0.1,6.3z"/>
<path color="#4a7856" d="M698.1,328.3l0.5,-6.2l6.6,1.1l-0.4,6.3z"/>
<path color="#e3c255" d="M392.1,326.2l4,-6.2l5.7,0.9l-4,6.2z"/>
<path color="#97983c" d="M531.7,176.8l2.4,-4l2,-1.7l-2.4,4z"/>
<path color="#85a143" d="M563.4,327l2.1,-7.5l2.1,12.2l-2.1,7.7z"/>
<path color="#739a44" d="M582.2,381.9l1.9,-7.4l2,0.8l-1.8,7.3z"/>
<path color="#d1be4e" d="M419.2,323l3.8,-6.1l5.8,0.2l-3.7,6.1z"/>
<path color="#a29e3e" d="M467.3,302.4l3.2,-5.9l4.3,-3l-3.1,5.9z"/>
<path color="#4c7640" d="M648.5,338.6l1,-6.4l4.9,-0.6l-1,6.3z"/>
<path color="#aab547" d="M548.2,208.4l2.3,-5l2.1,11.7l-2.2,5.4z"/>
<path color="#9ea03f" d="M533.7,175.1l2.4,-4l2,-1l-2.4,4z"/>
<path color="#688d3f" d="M584.3,382.6l1.8,-7.3l2.1,0.3l-1.8,7.2z"/>
<path color="#a9aa43" d="M517.5,207.9l2.6,-4.4l1.9,-5.3l-2.6,4.4z"/>
<path color="#bbb246" d="M446.3,315.4l3.4,-6l4.4,-1.1l-3.4,6z"/>
<path color="#aaa943" d="M503.4,242.7l2.7,-4.9l1.9,-4.7l-2.7,4.7z"/>
<path color="#87a143" d="M561.2,312.1l2.1,-7.1l2.2,14.5l-2.1,7.5z"/>
<path color="#4e743c" d="M627.6,350.1l1.4,-6.5l4.8,-1.5l-1.3,6.5z"/>
<path color="#aeb748" d="M546.1,198.2l2.3,-4.8l2.1,10l-2.3,5z"/>
<path color="#cbcf51" d="M535.7,174.1l2.4,-4l2,1.3l-2.4,4.2z"/>
<path color="#63883e" d="M586.4,382.8l1.8,-7.2l2,0.1l-1.8,7.1z"/>
<path color="#a8a742" d="M488,276.1l2.9,-5.4l4.3,-8.5l-2.9,5.3z"/>
<path color="#bfc34d" d="M537.7,175.6l2.4,-4.2l2.1,4.9l-2.4,4.4z"/>
<path color="#b4bd4a" d="M544,191.2l2.3,-4.6l2.1,6.8l-2.3,4.8z"/>
<path color="#49784d" d="M677.5,332.1l0.7,-6.3l6.6,0.6l-0.7,6.4z"/>
<path color="#bdc34d" d="M539.8,180.7l2.4,-4.4l2,5l-2.3,4.4z"/>
<path color="#4e7036" d="M606.8,365.3l1.5,-6.6l4.8,-2.8l-1.5,6.6z"/>
<path color="#bac14c" d="M541.9,185.7l2.3,-4.4l2.1,5.3l-2.3,4.6z"/>
<path color="#477167" d="M732.1,328.2l0.1,-6.3l6.8,1.3l-0.1,6.3z"/>
<path color="#49765b" d="M704.8,329.5l0.4,-6.3l6.7,1.2l-0.4,6.3z"/>
<path color="#dec353" d="M397.8,327.1l4,-6.2l5.8,0.8l-3.9,6.3z"/>
<path color="#4a7742" d="M653.4,337.9l1,-6.3l4.9,-0.2l-0.9,6.3z"/>
<path color="#a7a842" d="M519.4,202.6l2.6,-4.4l1.9,-5l-2.6,4.3z"/>
<path color="#5a7c39" d="M588.4,382.8l1.8,-7.1l2.1,-0.5l-1.8,7.1z"/>
<path color="#a8a943" d="M505.3,237.8l2.7,-4.7l1.9,-4.9l-2.7,4.7z"/>
<path color="#8aa243" d="M559.1,297.2l2.1,-6.8l2.1,14.6l-2.1,7.1z"/>
<path color="#99973c" d="M471.7,299.4l3.1,-5.9l4.4,-4.4l-3.1,5.8z"/>
<path color="#ccbe4c" d="M425.1,323.2l3.7,-6.1l5.8,-0.1l-3.6,6.2z"/>
<path color="#b3ac44" d="M450.7,314.3l3.4,-6l4.4,-1.5l-3.4,6z"/>
<path color="#527236" d="M590.5,382.3l1.8,-7.1l2,-1.1l-1.7,7z"/>
<path color="#4b733d" d="M632.5,348.6l1.3,-6.5l4.9,-1.4l-1.2,6.5z"/>
<path color="#a4a642" d="M521.3,197.5l2.6,-4.3l1.9,-4.7l-2.5,4.2z"/>
<path color="#8ca443" d="M556.9,281.8l2.1,-6.5l2.2,15.1l-2.1,6.8z"/>
<path color="#a6a842" d="M507.2,232.9l2.7,-4.7l1.9,-5l-2.7,4.6z"/>
<path color="#487645" d="M658.4,337.7l0.9,-6.3l4.9,0l-0.9,6.3z"/>
<path color="#4d7138" d="M611.6,362.5l1.5,-6.6l4.8,-2.3l-1.4,6.6z"/>
<path color="#4a7753" d="M684.1,332.8l0.7,-6.4l6.6,0.9l-0.6,6.4z"/>
<path color="#4e6f35" d="M592.6,381.1l1.7,-7l2.1,-1.5l-1.7,7z"/>
<path color="#487460" d="M711.5,330.7l0.4,-6.3l6.7,1.2l-0.3,6.3z"/>
<path color="#dac451" d="M403.7,328l3.9,-6.3l5.8,0.8l-3.9,6.3z"/>
<path color="#a5a742" d="M492.3,267.5l2.9,-5.3l4.4,-9.9l-2.9,5.1z"/>
<path color="#aaa642" d="M455.1,312.8l3.4,-6l4.4,-1.9l-3.3,6z"/>
<path color="#c3ba49" d="M431,323.2l3.6,-6.2l5.8,-0.5l-3.5,6.2z"/>
<path color="#929239" d="M476.1,294.9l3.1,-5.8l4.4,-5.9l-3.1,5.6z"/>
<path color="#a1a541" d="M523.3,192.7l2.5,-4.2l2,-4.5l-2.6,4.2z"/>
<path color="#8fa543" d="M554.7,266.2l2.2,-6.2l2.1,15.3l-2.1,6.5z"/>
<path color="#4d6e35" d="M594.7,379.6l1.7,-7l2.1,-1.4l-1.7,7z"/>
<path color="#a4a742" d="M509.1,227.8l2.7,-4.6l1.9,-5.1l-2.7,4.6z"/>
<path color="#48723e" d="M637.5,347.2l1.2,-6.5l4.9,-1.2l-1.2,6.5z"/>
<path color="#48764a" d="M663.3,337.7l0.9,-6.3l6.6,0.2l-0.8,6.4z"/>
<path color="#4b713a" d="M616.5,360.2l1.4,-6.6l4.9,-1.9l-1.4,6.6z"/>
<path color="#4c6d35" d="M596.8,378.2l1.7,-7l2,-1.4l-1.6,6.9z"/>
<path color="#497659" d="M690.8,333.7l0.6,-6.4l6.7,1l-0.5,6.4z"/>
<path color="#92a744" d="M552.5,252.1l2.2,-6l2.2,13.9l-2.2,6.2z"/>
<path color="#9fa340" d="M525.2,188.2l2.6,-4.2l1.9,-4.2l-2.5,4.1z"/>
<path color="#477265" d="M718.3,331.9l0.3,-6.3l6.7,1.3l-0.2,6.4z"/>
<path color="#d3c34f" d="M409.5,328.8l3.9,-6.3l5.8,0.5l-3.8,6.3z"/>
<path color="#a2a641" d="M511,222.7l2.7,-4.6l1.9,-5l-2.7,4.5z"/>
<path color="#729a44" d="M569.9,374l2,-7.9l2.1,5.3l-2,7.9z"/>
<path color="#a1a03f" d="M459.6,310.9l3.3,-6l4.4,-2.5l-3.3,6.1z"/>
<path color="#719742" d="M567.8,366.6l2,-7.9l2.1,7.4l-2,7.9z"/>
<path color="#729c46" d="M572,379.3l2,-7.9l2,4l-1.9,7.8z"/>
<path color="#a3a641" d="M496.7,257.4l2.9,-5.1l1.9,-4.8l-2.9,5z"/>
<path color="#4a6c35" d="M598.9,376.7l1.6,-6.9l1.5,-1.1l-1.7,6.9z"/>
<path color="#739f49" d="M574.1,383.2l1.9,-7.8l2.1,2.8l-1.9,7.7z"/>
<path color="#457140" d="M642.4,346l1.2,-6.5l4.9,-0.9l-1.1,6.4z"/>
<path color="#729641" d="M565.6,357.3l2.1,-7.9l2.1,9.3l-2,7.9z"/>
<path color="#b9b247" d="M436.9,322.7l3.5,-6.2l5.9,-1.1l-3.5,6.2z"/>
<path color="#95a944" d="M550.3,238.8l2.3,-5.8l2.1,13.1l-2.2,6z"/>
<path color="#8d8e38" d="M480.5,288.8l3.1,-5.6l4.4,-7.1l-3.1,5.6z"/>
<path color="#878c37" d="M527.2,183.9l2.5,-4.1l2,-3l-2.5,4z"/>
<path color="#739f4a" d="M576.2,385.9l1.9,-7.7l2.1,2.1l-1.9,7.6z"/>
<path color="#749841" d="M563.5,347.3l2,-7.9l2.2,10l-2.1,7.9z"/>
<path color="#49713c" d="M621.4,358.3l1.4,-6.6l4.8,-1.6l-1.3,6.6z"/>
<path color="#709d4a" d="M578.3,387.9l1.9,-7.6l2,1.6l-1.9,7.5z"/>
<path color="#a0a541" d="M512.9,217.6l2.7,-4.5l1.9,-5.2l-2.7,4.5z"/>
<path color="#487550" d="M670,338l0.8,-6.4l6.7,0.5l-0.8,6.5z"/>
<path color="#a1a541" d="M498.6,252.5l2.9,-5l1.9,-4.8l-2.9,4.9z"/>
<path color="#486b36" d="M600.3,375.6l1.7,-6.9l4.8,-3.4l-1.6,6.8z"/>
<path color="#99ab45" d="M548.1,226l2.3,-5.5l2.2,12.5l-2.3,5.8z"/>
<path color="#48745e" d="M697.6,334.7l0.5,-6.4l6.7,1.2l-0.4,6.4z"/>
<path color="#466f6d" d="M725.1,333.3l0.2,-6.4l6.8,1.3l-0.1,6.4z"/>
<path color="#ddc552" d="M387.9,332.5l4.2,-6.3l5.7,0.9l-4,6.4z"/>
<path color="#769841" d="M561.3,334.7l2.1,-7.7l2.1,12.4l-2,7.9z"/>
<path color="#8e943a" d="M529.2,180.8l2.5,-4l2,-1.7l-2.5,4z"/>
<path color="#679246" d="M580.3,389.4l1.9,-7.5l2.1,0.7l-1.9,7.5z"/>
<path color="#cbc04c" d="M415.4,329.3l3.8,-6.3l5.9,0.2l-3.8,6.4z"/>
<path color="#99993c" d="M464,308.5l3.3,-6.1l4.4,-3l-3.2,6z"/>
<path color="#457244" d="M647.4,345l1.1,-6.4l4.9,-0.7l-1,6.5z"/>
<path color="#9bad45" d="M546,213.6l2.2,-5.2l2.2,12.1l-2.3,5.5z"/>
<path color="#5d8540" d="M582.4,390.1l1.9,-7.5l2.1,0.2l-1.9,7.4z"/>
<path color="#b0ac44" d="M442.8,321.6l3.5,-6.2l4.4,-1.1l-3.4,6.2z"/>
<path color="#949c3d" d="M531.2,179.1l2.5,-4l2,-1l-2.5,4.1z"/>
<path color="#9fa441" d="M514.8,212.4l2.7,-4.5l1.9,-5.3l-2.6,4.4z"/>
<path color="#789841" d="M559.1,319.4l2.1,-7.3l2.2,14.9l-2.1,7.7z"/>
<path color="#9fa441" d="M500.5,247.6l2.9,-4.9l1.9,-4.9l-2.9,4.9z"/>
<path color="#466f3d" d="M626.3,356.7l1.3,-6.6l4.9,-1.5l-1.3,6.6z"/>
<path color="#9fb046" d="M543.8,203l2.3,-4.8l2.1,10.2l-2.2,5.2z"/>
<path color="#59813f" d="M584.5,390.2l1.9,-7.4l2,0l-1.8,7.4z"/>
<path color="#bdc84f" d="M533.2,178.2l2.5,-4.1l2,1.5l-2.4,4.2z"/>
<path color="#9da240" d="M484.9,281.7l3.1,-5.6l4.3,-8.6l-2.9,5.4z"/>
<path color="#a6b548" d="M541.6,195.9l2.4,-4.7l2.1,7l-2.3,4.8z"/>
<path color="#b0bc4a" d="M535.3,179.8l2.4,-4.2l2.1,5.1l-2.4,4.5z"/>
<path color="#487455" d="M676.7,338.6l0.8,-6.5l6.6,0.7l-0.7,6.5z"/>
<path color="#afbc4a" d="M537.4,185.2l2.4,-4.5l2.1,5l-2.4,4.6z"/>
<path color="#476b38" d="M605.2,372.1l1.6,-6.8l4.8,-2.8l-1.5,6.7z"/>
<path color="#abba49" d="M539.5,190.3l2.4,-4.6l2.1,5.5l-2.4,4.7z"/>
<path color="#466b76" d="M732,334.6l0.1,-6.4l6.8,1.3l0,6.4z"/>
<path color="#477263" d="M704.4,335.9l0.4,-6.4l6.7,1.2l-0.3,6.4z"/>
<path color="#d8c651" d="M393.8,333.5l4,-6.4l5.9,0.9l-4.1,6.4z"/>
<path color="#467349" d="M652.4,344.4l1,-6.5l5,-0.2l-1,6.5z"/>
<path color="#7b9a41" d="M556.9,304.1l2.2,-6.9l2.1,14.9l-2.1,7.3z"/>
<path color="#9ca340" d="M516.8,207l2.6,-4.4l1.9,-5.1l-2.6,4.4z"/>
<path color="#51763b" d="M586.6,390.2l1.8,-7.4l2.1,-0.5l-1.8,7.2z"/>
<path color="#9da340" d="M502.4,242.7l2.9,-4.9l1.9,-4.9l-2.8,4.8z"/>
<path color="#90923a" d="M468.5,305.4l3.2,-6l4.4,-4.5l-3.1,6z"/>
<path color="#c2ba4a" d="M421.3,329.6l3.8,-6.4l5.9,0l-3.7,6.3z"/>
<path color="#a8a742" d="M447.3,320.5l3.4,-6.2l4.4,-1.5l-3.4,6.2z"/>
<path color="#4a6d37" d="M588.7,389.5l1.8,-7.2l2.1,-1.2l-1.8,7.1z"/>
<path color="#436e3f" d="M631.2,355.2l1.3,-6.6l5,-1.4l-1.3,6.7z"/>
<path color="#7d9b41" d="M554.7,288.4l2.2,-6.6l2.2,15.4l-2.2,6.9z"/>
<path color="#99a13f" d="M518.7,201.9l2.6,-4.4l2,-4.8l-2.6,4.3z"/>
<path color="#9ba240" d="M504.4,237.7l2.8,-4.8l1.9,-5.1l-2.8,4.8z"/>
<path color="#46724d" d="M657.4,344.2l1,-6.5l4.9,0l-0.9,6.6z"/>
<path color="#456c3a" d="M610.1,369.2l1.5,-6.7l4.9,-2.3l-1.5,6.8z"/>
<path color="#48735c" d="M683.4,339.3l0.7,-6.5l6.7,0.9l-0.6,6.5z"/>
<path color="#476a36" d="M590.8,388.2l1.8,-7.1l2.1,-1.5l-1.8,7.1z"/>
<path color="#466f6b" d="M711.2,337.1l0.3,-6.4l6.8,1.2l-0.3,6.5z"/>
<path color="#d3c74f" d="M399.6,334.4l4.1,-6.4l5.8,0.8l-3.9,6.4z"/>
<path color="#9aa13f" d="M489.4,272.9l2.9,-5.4l4.4,-10.1l-2.9,5.2z"/>
<path color="#a0a13f" d="M451.7,319l3.4,-6.2l4.5,-1.9l-3.4,6.2z"/>
<path color="#b8b447" d="M427.3,329.5l3.7,-6.3l5.9,-0.5l-3.7,6.3z"/>
<path color="#898d38" d="M473,300.9l3.1,-6l4.4,-6.1l-3.1,5.9z"/>
<path color="#809d42" d="M552.5,272.5l2.2,-6.3l2.2,15.6l-2.2,6.6z"/>
<path color="#969f3e" d="M520.7,197l2.6,-4.3l1.9,-4.5l-2.5,4.3z"/>
<path color="#466937" d="M592.9,386.7l1.8,-7.1l2.1,-1.4l-1.8,7.1z"/>
<path color="#436d43" d="M636.2,353.9l1.3,-6.7l4.9,-1.2l-1.2,6.6z"/>
<path color="#99a13f" d="M506.3,232.6l2.8,-4.8l1.9,-5.1l-2.8,4.7z"/>
<path color="#467252" d="M662.4,344.3l0.9,-6.6l6.7,0.3l-0.9,6.6z"/>
<path color="#436c3c" d="M615,367l1.5,-6.8l4.9,-1.9l-1.5,6.8z"/>
<path color="#446837" d="M595,385.3l1.8,-7.1l2.1,-1.5l-1.7,7z"/>
<path color="#839f42" d="M550.2,258.2l2.3,-6.1l2.2,14.1l-2.2,6.3z"/>
<path color="#477261" d="M690.2,340.2l0.6,-6.5l6.8,1l-0.5,6.6z"/>
<path color="#466c74" d="M718,338.4l0.3,-6.5l6.8,1.4l-0.2,6.5z"/>
<path color="#939d3e" d="M522.7,192.5l2.5,-4.3l2,-4.3l-2.6,4.2z"/>
<path color="#cac14c" d="M405.6,335.2l3.9,-6.4l5.9,0.5l-3.9,6.5z"/>
<path color="#689447" d="M567.8,382.1l2.1,-8.1l2.1,5.3l-2.1,8z"/>
<path color="#679145" d="M565.7,374.7l2.1,-8.1l2.1,7.4l-2.1,8.1z"/>
<path color="#699649" d="M569.9,387.3l2.1,-8l2.1,3.9l-2,7.9z"/>
<path color="#97a03f" d="M508.2,227.4l2.8,-4.7l1.9,-5.1l-2.7,4.7z"/>
<path color="#979b3d" d="M456.2,317.1l3.4,-6.2l4.4,-2.4l-3.3,6.1z"/>
<path color="#436737" d="M597.2,383.7l1.7,-7l1.4,-1.1l-1.7,7z"/>
<path color="#98a13f" d="M493.8,262.6l2.9,-5.2l1.9,-4.9l-2.9,5.1z"/>
<path color="#69994b" d="M572.1,391.1l2,-7.9l2.1,2.7l-2,7.8z"/>
<path color="#689043" d="M563.5,365.5l2.1,-8.2l2.2,9.3l-2.1,8.1z"/>
<path color="#436d47" d="M641.2,352.6l1.2,-6.6l5,-1l-1.2,6.7z"/>
<path color="#aead44" d="M433.2,329l3.7,-6.3l5.9,-1.1l-3.6,6.4z"/>
<path color="#86a143" d="M548,244.7l2.3,-5.9l2.2,13.3l-2.3,6.1z"/>
<path color="#68994c" d="M574.2,393.7l2,-7.8l2.1,2l-2,7.8z"/>
<path color="#838a36" d="M477.4,294.7l3.1,-5.9l4.4,-7.1l-3,5.7z"/>
<path color="#699143" d="M561.3,355.4l2.2,-8.1l2.1,10l-2.1,8.2z"/>
<path color="#7d8735" d="M524.6,188.1l2.6,-4.2l2,-3.1l-2.6,4.1z"/>
<path color="#66964c" d="M576.3,395.7l2,-7.8l2,1.5l-1.9,7.7z"/>
<path color="#426c3f" d="M619.9,365.1l1.5,-6.8l4.9,-1.6l-1.4,6.8z"/>
<path color="#959f3f" d="M510.2,222.3l2.7,-4.7l1.9,-5.2l-2.7,4.6z"/>
<path color="#467158" d="M669.1,344.6l0.9,-6.6l6.7,0.6l-0.8,6.6z"/>
<path color="#89a343" d="M545.8,231.7l2.3,-5.7l2.2,12.8l-2.3,5.9z"/>
<path color="#96a03f" d="M495.7,257.6l2.9,-5.1l1.9,-4.9l-2.9,5z"/>
<path color="#6a9142" d="M559.2,342.6l2.1,-7.9l2.2,12.6l-2.2,8.1z"/>
<path color="#416638" d="M598.6,382.6l1.7,-7l4.9,-3.5l-1.7,6.9z"/>
<path color="#467067" d="M697.1,341.3l0.5,-6.6l6.8,1.2l-0.5,6.6z"/>
<path color="#45687c" d="M724.9,339.8l0.2,-6.5l6.9,1.3l-0.1,6.5z"/>
<path color="#d7c950" d="M383.7,339l4.2,-6.5l5.9,1l-4.2,6.5z"/>
<path color="#5c8a47" d="M578.4,397.1l1.9,-7.7l2.1,0.7l-1.9,7.6z"/>
<path color="#838f38" d="M526.6,184.9l2.6,-4.1l2,-1.7l-2.5,4.2z"/>
<path color="#bfba4a" d="M411.5,335.8l3.9,-6.5l5.9,0.3l-3.8,6.4z"/>
<path color="#8f943a" d="M460.7,314.6l3.3,-6.1l4.5,-3.1l-3.3,6.1z"/>
<path color="#446e4c" d="M646.2,351.7l1.2,-6.7l5,-0.6l-1.1,6.7z"/>
<path color="#8ca443" d="M543.6,218.9l2.4,-5.3l2.1,12.4l-2.3,5.7z"/>
<path color="#537e42" d="M580.5,397.7l1.9,-7.6l2.1,0.1l-1.9,7.6z"/>
<path color="#a5a742" d="M439.2,328l3.6,-6.4l4.5,-1.1l-3.6,6.4z"/>
<path color="#6b9041" d="M556.9,326.9l2.2,-7.5l2.2,15.3l-2.1,7.9z"/>
<path color="#89963c" d="M528.7,183.3l2.5,-4.2l2,-0.9l-2.5,4.2z"/>
<path color="#929e3e" d="M512.1,217l2.7,-4.6l2,-5.4l-2.7,4.6z"/>
<path color="#939e3e" d="M497.6,252.6l2.9,-5l1.9,-4.9l-2.9,5z"/>
<path color="#426b43" d="M624.9,363.5l1.4,-6.8l4.9,-1.5l-1.3,6.8z"/>
<path color="#90a744" d="M541.4,208l2.4,-5l2.2,10.6l-2.4,5.3z"/>
<path color="#507b41" d="M582.6,397.8l1.9,-7.6l2.1,0l-1.8,7.5z"/>
<path color="#aec04d" d="M530.7,182.4l2.5,-4.2l2.1,1.6l-2.5,4.3z"/>
<path color="#929c3d" d="M481.9,287.4l3,-5.7l4.5,-8.8l-3.1,5.5z"/>
<path color="#96ac46" d="M539.2,200.7l2.4,-4.8l2.2,7.1l-2.4,5z"/>
<path color="#46705e" d="M675.9,345.2l0.8,-6.6l6.7,0.7l-0.7,6.6z"/>
<path color="#a1b348" d="M532.8,184.1l2.5,-4.3l2.1,5.4l-2.4,4.6z"/>
<path color="#9fb348" d="M535,189.8l2.4,-4.6l2.1,5.1l-2.4,4.7z"/>
<path color="#3f663a" d="M603.5,379l1.7,-6.9l4.9,-2.9l-1.6,7z"/>
<path color="#9cb147" d="M537.1,195l2.4,-4.7l2.1,5.6l-2.4,4.8z"/>
<path color="#456485" d="M731.9,341.1l0.1,-6.5l6.9,1.3l0,6.6z"/>
<path color="#466c71" d="M703.9,342.5l0.5,-6.6l6.8,1.2l-0.4,6.6z"/>
<path color="#cfc64e" d="M389.6,340l4.2,-6.5l5.8,0.9l-4.1,6.5z"/>
<path color="#6c9140" d="M554.7,311.1l2.2,-7l2.2,15.3l-2.2,7.5z"/>
<path color="#446f51" d="M651.3,351.1l1.1,-6.7l5,-0.2l-1.1,6.7z"/>
<path color="#48703c" d="M584.8,397.7l1.8,-7.5l2.1,-0.7l-1.8,7.4z"/>
<path color="#909c3e" d="M514.1,211.6l2.7,-4.6l1.9,-5.1l-2.7,4.5z"/>
<path color="#868d37" d="M465.2,311.5l3.3,-6.1l4.5,-4.5l-3.3,6.1z"/>
<path color="#b7b547" d="M417.5,336l3.8,-6.4l6,-0.1l-3.8,6.5z"/>
<path color="#919d3e" d="M499.5,247.7l2.9,-5l2,-5l-2.9,4.9z"/>
<path color="#9ea240" d="M443.7,326.9l3.6,-6.4l4.4,-1.5l-3.5,6.4z"/>
<path color="#426738" d="M586.9,396.9l1.8,-7.4l2.1,-1.3l-1.8,7.4z"/>
<path color="#416a46" d="M629.9,362l1.3,-6.8l5,-1.3l-1.3,6.8z"/>
<path color="#6e9240" d="M552.4,295.1l2.3,-6.7l2.2,15.7l-2.2,7z"/>
<path color="#8c9a3d" d="M516,206.4l2.7,-4.5l2,-4.9l-2.7,4.4z"/>
<path color="#8f9c3e" d="M501.5,242.6l2.9,-4.9l1.9,-5.1l-2.9,4.8z"/>
<path color="#446e55" d="M656.3,350.9l1.1,-6.7l5,0.1l-1,6.6z"/>
<path color="#3f683e" d="M608.5,376.2l1.6,-7l4.9,-2.2l-1.5,6.9z"/>
<path color="#466f64" d="M682.7,345.9l0.7,-6.6l6.8,0.9l-0.6,6.7z"/>
<path color="#3f6538" d="M589,395.6l1.8,-7.4l2.1,-1.5l-1.8,7.3z"/>
<path color="#45687a" d="M710.8,343.7l0.4,-6.6l6.8,1.3l-0.2,6.7z"/>
<path color="#c7c14c" d="M395.5,340.9l4.1,-6.5l6,0.8l-4.1,6.5z"/>
<path color="#959c3d" d="M448.2,325.4l3.5,-6.4l4.5,-1.9l-3.4,6.4z"/>
<path color="#8e9b3d" d="M486.3,278.4l3.1,-5.5l4.4,-10.3l-3,5.3z"/>
<path color="#adaf45" d="M423.5,336l3.8,-6.5l5.9,-0.5l-3.7,6.5z"/>
<path color="#719440" d="M550.2,279l2.3,-6.5l2.2,15.9l-2.3,6.7z"/>
<path color="#7e8835" d="M469.7,307l3.3,-6.1l4.4,-6.2l-3.2,5.9z"/>
<path color="#3e6538" d="M591.1,394l1.8,-7.3l2.1,-1.4l-1.7,7.2z"/>
<path color="#89983d" d="M518,201.4l2.7,-4.4l2,-4.5l-2.7,4.3z"/>
<path color="#416a4a" d="M634.9,360.7l1.3,-6.8l5,-1.3l-1.2,6.8z"/>
<path color="#8c9b3d" d="M503.4,237.4l2.9,-4.8l1.9,-5.2l-2.8,4.9z"/>
<path color="#446e5a" d="M661.4,350.9l1,-6.6l6.7,0.3l-0.8,6.7z"/>
<path color="#3d6439" d="M593.3,392.5l1.7,-7.2l2.2,-1.6l-1.8,7.3z"/>
<path color="#406842" d="M613.5,373.9l1.5,-6.9l4.9,-1.9l-1.4,6.9z"/>
<path color="#749641" d="M547.9,264.5l2.3,-6.3l2.3,14.3l-2.3,6.5z"/>
<path color="#456c6d" d="M689.6,346.9l0.6,-6.7l6.9,1.1l-0.6,6.7z"/>
<path color="#456583" d="M717.8,345.1l0.2,-6.7l6.9,1.4l-0.2,6.6z"/>
<path color="#5e8e49" d="M565.7,390.3l2.1,-8.2l2.1,5.2l-2,8.2z"/>
<path color="#86963c" d="M520,196.8l2.7,-4.3l1.9,-4.4l-2.6,4.2z"/>
<path color="#5e8b47" d="M563.6,383l2.1,-8.3l2.1,7.4l-2.1,8.2z"/>
<path color="#bebb4a" d="M401.5,341.7l4.1,-6.5l5.9,0.6l-4,6.6z"/>
<path color="#5f904c" d="M567.9,395.5l2,-8.2l2.2,3.8l-2.1,8.1z"/>
<path color="#8d953b" d="M452.8,323.5l3.4,-6.4l4.5,-2.5l-3.4,6.4z"/>
<path color="#8a993d" d="M505.4,232.3l2.8,-4.9l2,-5.1l-2.9,4.7z"/>
<path color="#5e8b46" d="M561.4,373.8l2.1,-8.3l2.2,9.2l-2.1,8.3z"/>
<path color="#3c6339" d="M595.4,391l1.8,-7.3l1.4,-1.1l-1.7,7.2z"/>
<path color="#5f934e" d="M570,399.2l2.1,-8.1l2.1,2.6l-2,8.1z"/>
<path color="#8b9a3d" d="M490.8,267.9l3,-5.3l1.9,-5l-3,5.3z"/>
<path color="#41694e" d="M640,359.4l1.2,-6.8l5,-0.9l-1.1,6.8z"/>
<path color="#779841" d="M545.7,250.7l2.3,-6l2.2,13.5l-2.3,6.3z"/>
<path color="#a3a842" d="M429.5,335.5l3.7,-6.5l6,-1l-3.7,6.5z"/>
<path color="#5e924f" d="M572.2,401.8l2,-8.1l2.1,2l-2,8z"/>
<path color="#608b45" d="M559.2,363.6l2.1,-8.2l2.2,10.1l-2.1,8.3z"/>
<path color="#788434" d="M474.2,300.6l3.2,-5.9l4.5,-7.3l-3.2,5.8z"/>
<path color="#728034" d="M522,192.3l2.6,-4.2l2,-3.2l-2.6,4.2z"/>
<path color="#5b8f4f" d="M574.3,403.7l2,-8l2.1,1.4l-2,7.9z"/>
<path color="#406946" d="M618.5,372l1.4,-6.9l5,-1.6l-1.4,6.9z"/>
<path color="#608b44" d="M556.9,350.6l2.3,-8l2.1,12.8l-2.1,8.2z"/>
<path color="#87983d" d="M507.3,227l2.9,-4.7l1.9,-5.3l-2.8,4.7z"/>
<path color="#7a9a41" d="M543.4,237.4l2.4,-5.7l2.2,13l-2.3,6z"/>
<path color="#446d60" d="M668.3,351.3l0.8,-6.7l6.8,0.6l-0.8,6.7z"/>
<path color="#3c623c" d="M596.9,389.8l1.7,-7.2l4.9,-3.6l-1.6,7.2z"/>
<path color="#89993d" d="M492.7,262.9l3,-5.3l1.9,-5l-3,5.2z"/>
<path color="#456977" d="M696.5,348l0.6,-6.7l6.8,1.2l-0.4,6.7z"/>
<path color="#45618c" d="M724.7,346.4l0.2,-6.6l7,1.3l-0.1,6.7z"/>
<path color="#ccc44e" d="M379.3,345.6l4.4,-6.6l5.9,1l-4.3,6.7z"/>
<path color="#528348" d="M576.4,405l2,-7.9l2.1,0.6l-1.9,7.8z"/>
<path color="#788937" d="M524,189.1l2.6,-4.2l2.1,-1.6l-2.6,4.2z"/>
<path color="#b4b447" d="M407.5,342.4l4,-6.6l6,0.2l-4,6.6z"/>
<path color="#848f38" d="M457.3,321l3.4,-6.4l4.5,-3.1l-3.3,6.3z"/>
<path color="#426a53" d="M645.1,358.5l1.1,-6.8l5.1,-0.6l-1.1,6.8z"/>
<path color="#7d9c42" d="M541.2,224.3l2.4,-5.4l2.2,12.8l-2.4,5.7z"/>
<path color="#497743" d="M578.6,405.5l1.9,-7.8l2.1,0.1l-1.9,7.8z"/>
<path color="#618b43" d="M554.7,334.5l2.2,-7.6l2.3,15.7l-2.3,8z"/>
<path color="#9aa240" d="M435.5,334.5l3.7,-6.5l4.5,-1.1l-3.6,6.5z"/>
<path color="#7d903a" d="M526.1,187.5l2.6,-4.2l2,-0.9l-2.5,4.3z"/>
<path color="#85973d" d="M509.3,221.7l2.8,-4.7l2,-5.4l-2.8,4.6z"/>
<path color="#86973d" d="M494.6,257.8l3,-5.2l1.9,-4.9l-2.9,5.1z"/>
<path color="#40684a" d="M623.5,370.4l1.4,-6.9l5,-1.5l-1.3,7z"/>
<path color="#819e42" d="M539,213.1l2.4,-5.1l2.2,10.9l-2.4,5.4z"/>
<path color="#477443" d="M580.7,405.6l1.9,-7.8l2.2,-0.1l-2,7.7z"/>
<path color="#9db74b" d="M528.2,186.7l2.5,-4.3l2.1,1.7l-2.5,4.4z"/>
<path color="#85953c" d="M478.7,293.2l3.2,-5.8l4.4,-9l-3.1,5.7z"/>
<path color="#87a344" d="M536.8,205.6l2.4,-4.9l2.2,7.3l-2.4,5.1z"/>
<path color="#446b69" d="M675.1,351.9l0.8,-6.7l6.8,0.7l-0.7,6.8z"/>
<path color="#91aa46" d="M530.3,188.5l2.5,-4.4l2.2,5.7l-2.6,4.6z"/>
<path color="#3d6340" d="M601.9,386.2l1.6,-7.2l5,-2.8l-1.6,7z"/>
<path color="#8faa46" d="M532.4,194.4l2.6,-4.6l2.1,5.2l-2.5,4.9z"/>
<path color="#8ca846" d="M534.6,199.9l2.5,-4.9l2.1,5.7l-2.4,4.9z"/>
<path color="#445d95" d="M731.8,347.8l0.1,-6.7l7,1.4l-0.1,6.7z"/>
<path color="#456580" d="M703.5,349.2l0.4,-6.7l6.9,1.2l-0.4,6.8z"/>
<path color="#638b42" d="M552.4,318.4l2.3,-7.3l2.2,15.8l-2.2,7.6z"/>
<path color="#c4c04c" d="M385.3,346.7l4.3,-6.7l5.9,0.9l-4.2,6.7z"/>
<path color="#436b59" d="M650.2,357.9l1.1,-6.8l5,-0.2l-1,6.8z"/>
<path color="#416a3f" d="M582.8,405.4l2,-7.7l2.1,-0.8l-1.9,7.6z"/>
<path color="#82953c" d="M511.3,216.2l2.8,-4.6l1.9,-5.2l-2.7,4.5z"/>
<path color="#7a8736" d="M461.9,317.8l3.3,-6.3l4.5,-4.5l-3.3,6.2z"/>
<path color="#abaf45" d="M413.5,342.6l4,-6.6l6,0l-3.9,6.7z"/>
<path color="#84963d" d="M496.6,252.8l2.9,-5.1l2,-5.1l-3,5z"/>
<path color="#929c3d" d="M440.1,333.4l3.6,-6.5l4.5,-1.5l-3.6,6.5z"/>
<path color="#3d633c" d="M585,404.5l1.9,-7.6l2.1,-1.3l-1.9,7.5z"/>
<path color="#40674e" d="M628.6,369l1.3,-7l5,-1.3l-1.3,6.9z"/>
<path color="#648c42" d="M550.1,302l2.3,-6.9l2.3,16l-2.3,7.3z"/>
<path color="#7f933c" d="M513.3,210.9l2.7,-4.5l2,-5l-2.7,4.6z"/>
<path color="#436b5d" d="M655.3,357.7l1,-6.8l5.1,0l-0.9,6.9z"/>
<path color="#81943c" d="M498.5,247.6l3,-5l1.9,-5.2l-2.9,5z"/>
<path color="#3e6445" d="M606.9,383.2l1.6,-7l5,-2.3l-1.6,7.1z"/>
<path color="#456973" d="M682,352.7l0.7,-6.8l6.9,1l-0.6,6.8z"/>
<path color="#3c613d" d="M587.1,403.1l1.9,-7.5l2.1,-1.6l-1.8,7.5z"/>
<path color="#456289" d="M710.4,350.5l0.4,-6.8l7,1.4l-0.3,6.8z"/>
<path color="#bcbb4a" d="M391.3,347.6l4.2,-6.7l6,0.8l-4.2,6.8z"/>
<path color="#8a963b" d="M444.6,331.9l3.6,-6.5l4.6,-1.9l-3.6,6.5z"/>
<path color="#81943c" d="M483.2,284.1l3.1,-5.7l4.5,-10.5l-3.1,5.5z"/>
<path color="#668d41" d="M547.8,285.7l2.4,-6.7l2.2,16.1l-2.3,6.9z"/>
<path color="#a2a942" d="M419.6,342.7l3.9,-6.7l6,-0.5l-3.8,6.7z"/>
<path color="#738134" d="M466.4,313.2l3.3,-6.2l4.5,-6.4l-3.3,6.1z"/>
<path color="#3c613e" d="M589.3,401.5l1.8,-7.5l2.2,-1.5l-1.9,7.4z"/>
<path color="#7c913b" d="M515.3,206l2.7,-4.6l2,-4.6l-2.7,4.5z"/>
<path color="#3f6652" d="M633.6,367.6l1.3,-6.9l5.1,-1.3l-1.2,7z"/>
<path color="#7f933c" d="M500.5,242.4l2.9,-5l2,-5.1l-2.9,4.9z"/>
<path color="#436964" d="M660.5,357.8l0.9,-6.9l6.9,0.4l-0.9,6.9z"/>
<path color="#688f41" d="M545.6,270.9l2.3,-6.4l2.3,14.5l-2.4,6.7z"/>
<path color="#3b603f" d="M591.4,399.9l1.9,-7.4l2.1,-1.5l-1.8,7.4z"/>
<path color="#3e6549" d="M611.9,381l1.6,-7.1l5,-1.9l-1.5,7.1z"/>
<path color="#54884c" d="M563.6,398.8l2.1,-8.5l2.2,5.2l-2.1,8.4z"/>
<path color="#44657c" d="M689,353.7l0.6,-6.8l6.9,1.1l-0.5,6.9z"/>
<path color="#445e92" d="M717.5,351.9l0.3,-6.8l6.9,1.3l-0.2,6.9z"/>
<path color="#548549" d="M561.4,391.4l2.2,-8.4l2.1,7.3l-2.1,8.5z"/>
<path color="#558a4e" d="M565.8,403.9l2.1,-8.4l2.1,3.7l-2.1,8.4z"/>
<path color="#798f3b" d="M517.3,201.3l2.7,-4.5l2,-4.5l-2.7,4.4z"/>
<path color="#b2b648" d="M397.3,348.5l4.2,-6.8l6,0.7l-4.1,6.7z"/>
<path color="#558548" d="M559.2,382.3l2.2,-8.5l2.2,9.2l-2.2,8.4z"/>
<path color="#818f39" d="M449.2,330l3.6,-6.5l4.5,-2.5l-3.5,6.5z"/>
<path color="#568d52" d="M567.9,407.6l2.1,-8.4l2.2,2.6l-2.1,8.2z"/>
<path color="#7d923c" d="M502.5,237.2l2.9,-4.9l1.9,-5.3l-2.8,4.9z"/>
<path color="#3b5f40" d="M593.6,398.4l1.8,-7.4l1.5,-1.2l-1.8,7.4z"/>
<path color="#7e923c" d="M487.7,273.4l3.1,-5.5l1.9,-5l-3.1,5.3z"/>
<path color="#6a9141" d="M543.3,256.9l2.4,-6.2l2.2,13.8l-2.3,6.4z"/>
<path color="#3f6656" d="M638.8,366.4l1.2,-7l5.1,-0.9l-1.2,6.9z"/>
<path color="#568547" d="M556.9,372.1l2.3,-8.5l2.2,10.2l-2.2,8.5z"/>
<path color="#568c54" d="M570.1,410l2.1,-8.2l2.1,1.9l-2.1,8.2z"/>
<path color="#97a23f" d="M425.7,342.2l3.8,-6.7l6,-1l-3.7,6.7z"/>
<path color="#6d7e33" d="M470.9,306.7l3.3,-6.1l4.5,-7.4l-3.2,6z"/>
<path color="#667a32" d="M519.3,196.7l2.7,-4.4l2,-3.2l-2.7,4.3z"/>
<path color="#548954" d="M572.2,411.9l2.1,-8.2l2.1,1.3l-2,8.2z"/>
<path color="#578546" d="M554.7,358.9l2.2,-8.3l2.3,13l-2.3,8.5z"/>
<path color="#3f654e" d="M617,379.1l1.5,-7.1l5,-1.6l-1.5,7.1z"/>
<path color="#6c9241" d="M541,243.4l2.4,-6l2.3,13.3l-2.4,6.2z"/>
<path color="#7a903c" d="M504.5,231.9l2.8,-4.9l2,-5.3l-2.9,4.8z"/>
<path color="#43676e" d="M667.4,358.2l0.9,-6.9l6.8,0.6l-0.8,6.9z"/>
<path color="#3a5f42" d="M595.1,397.2l1.8,-7.4l5,-3.6l-1.8,7.3z"/>
<path color="#7c913c" d="M489.6,268.2l3.1,-5.3l1.9,-5.1l-3,5.3z"/>
<path color="#446286" d="M696,354.9l0.5,-6.9l7,1.2l-0.5,6.9z"/>
<path color="#435c96" d="M724.5,353.3l0.2,-6.9l7.1,1.4l-0.1,6.9z"/>
<path color="#4c7c4e" d="M574.4,413.2l2,-8.2l2.2,0.5l-2,8.1z"/>
<path color="#c0be4b" d="M374.9,352.4l4.4,-6.8l6,1.1l-4.4,6.8z"/>
<path color="#6c8336" d="M521.3,193.4l2.7,-4.3l2.1,-1.6l-2.7,4.4z"/>
<path color="#a8af45" d="M403.4,349.1l4.1,-6.7l6,0.2l-4,6.8z"/>
<path color="#788837" d="M453.8,327.5l3.5,-6.5l4.6,-3.2l-3.5,6.5z"/>
<path color="#40675b" d="M643.9,365.4l1.2,-6.9l5.1,-0.6l-1.1,7z"/>
<path color="#588545" d="M552.4,342.3l2.3,-7.8l2.2,16.1l-2.2,8.3z"/>
<path color="#6e9340" d="M538.7,229.8l2.5,-5.5l2.2,13.1l-2.4,6z"/>
<path color="#46724a" d="M576.6,413.6l2,-8.1l2.1,0.1l-2,7.9z"/>
<path color="#8e9b3d" d="M431.8,341.2l3.7,-6.7l4.6,-1.1l-3.7,6.6z"/>
<path color="#788f3b" d="M506.4,226.5l2.9,-4.8l2,-5.5l-2.9,4.8z"/>
<path color="#718939" d="M523.4,191.9l2.7,-4.4l2.1,-0.8l-2.7,4.4z"/>
<path color="#79903b" d="M491.6,263.1l3,-5.3l2,-5l-3,5.2z"/>
<path color="#456f4a" d="M578.7,413.5l2,-7.9l2.1,-0.2l-1.9,7.8z"/>
<path color="#719541" d="M536.5,218.3l2.5,-5.2l2.2,11.2l-2.5,5.5z"/>
<path color="#3e6452" d="M622,377.5l1.5,-7.1l5.1,-1.4l-1.4,7.1z"/>
<path color="#8dae49" d="M525.5,191.1l2.7,-4.4l2.1,1.8l-2.6,4.6z"/>
<path color="#788e3a" d="M475.5,299.2l3.2,-6l4.5,-9.1l-3.2,5.8z"/>
<path color="#779a43" d="M534.2,210.6l2.6,-5l2.2,7.5l-2.5,5.2z"/>
<path color="#436478" d="M674.3,358.8l0.8,-6.9l6.9,0.8l-0.7,7z"/>
<path color="#598644" d="M550.1,325.8l2.3,-7.4l2.3,16.1l-2.3,7.8z"/>
<path color="#3b6047" d="M600.1,393.5l1.8,-7.3l5,-3l-1.7,7.3z"/>
<path color="#81a144" d="M527.7,193.1l2.6,-4.6l2.1,5.9l-2.5,4.9z"/>
<path color="#80a145" d="M529.9,199.3l2.5,-4.9l2.2,5.5l-2.6,4.9z"/>
<path color="#7c9f44" d="M532,204.8l2.6,-4.9l2.2,5.7l-2.6,5z"/>
<path color="#435c97" d="M731.7,354.7l0.1,-6.9l7,1.4l0,6.9z"/>
<path color="#445e8f" d="M703,356.1l0.5,-6.9l6.9,1.3l-0.3,7z"/>
<path color="#b8ba49" d="M380.9,353.5l4.4,-6.8l6,0.9l-4.3,6.9z"/>
<path color="#416663" d="M649.1,364.9l1.1,-7l5.1,-0.2l-1.1,7z"/>
<path color="#3e6645" d="M580.9,413.2l1.9,-7.8l2.2,-0.9l-1.9,7.8z"/>
<path color="#758e3b" d="M508.4,221l2.9,-4.8l2,-5.3l-2.9,4.7z"/>
<path color="#9fa942" d="M409.5,349.4l4,-6.8l6.1,0.1l-4,6.8z"/>
<path color="#6f8034" d="M458.4,324.3l3.5,-6.5l4.5,-4.6l-3.4,6.4z"/>
<path color="#778e3b" d="M493.6,258l3,-5.2l1.9,-5.2l-3,5.2z"/>
<path color="#86953c" d="M436.4,340l3.7,-6.6l4.5,-1.5l-3.6,6.6z"/>
<path color="#3b5f42" d="M583.1,412.3l1.9,-7.8l2.1,-1.4l-1.9,7.7z"/>
<path color="#5b8744" d="M547.8,309.1l2.3,-7.1l2.3,16.4l-2.3,7.4z"/>
<path color="#3e6355" d="M627.2,376.1l1.4,-7.1l5,-1.4l-1.3,7.2z"/>
<path color="#728b3a" d="M510.4,215.6l2.9,-4.7l2,-4.9l-2.8,4.6z"/>
<path color="#41656a" d="M654.2,364.7l1.1,-7l5.2,0.1l-1,7z"/>
<path color="#748d3b" d="M495.5,252.8l3,-5.2l2,-5.2l-3,5.1z"/>
<path color="#3c614c" d="M605.2,390.5l1.7,-7.3l5,-2.2l-1.6,7.2z"/>
<path color="#446282" d="M681.3,359.7l0.7,-7l7,1l-0.7,7z"/>
<path color="#3a5e43" d="M585.2,410.8l1.9,-7.7l2.2,-1.6l-1.9,7.6z"/>
<path color="#435c95" d="M710.1,357.5l0.3,-7l7.1,1.4l-0.3,6.9z"/>
<path color="#b0b648" d="M387,354.5l4.3,-6.9l6,0.9l-4.2,6.9z"/>
<path color="#5d8844" d="M545.5,292.5l2.3,-6.8l2.3,16.3l-2.3,7.1z"/>
<path color="#7d8f3a" d="M441,338.5l3.6,-6.6l4.6,-1.9l-3.6,6.6z"/>
<path color="#748c3b" d="M480,289.9l3.2,-5.8l4.5,-10.7l-3.2,5.6z"/>
<path color="#95a240" d="M415.6,349.5l4,-6.8l6.1,-0.5l-4,6.8z"/>
<path color="#677b33" d="M463,319.6l3.4,-6.4l4.5,-6.5l-3.3,6.3z"/>
<path color="#3a5e45" d="M587.4,409.1l1.9,-7.6l2.1,-1.6l-1.8,7.7z"/>
<path color="#6f893a" d="M512.5,210.6l2.8,-4.6l2,-4.7l-2.8,4.6z"/>
<path color="#3d6259" d="M632.3,374.8l1.3,-7.2l5.2,-1.2l-1.3,7.1z"/>
<path color="#728c3b" d="M497.5,247.5l3,-5.1l2,-5.2l-3,5.1z"/>
<path color="#5f8943" d="M543.1,277.5l2.5,-6.6l2.2,14.8l-2.3,6.8z"/>
<path color="#426373" d="M659.5,364.8l1,-7l6.9,0.4l-1,7.1z"/>
<path color="#395d46" d="M589.6,407.6l1.8,-7.7l2.2,-1.5l-1.8,7.5z"/>
<path color="#3d6251" d="M610.3,388.2l1.6,-7.2l5.1,-1.9l-1.6,7.3z"/>
<path color="#518353" d="M561.4,407.4l2.2,-8.6l2.2,5.1l-2.2,8.6z"/>
<path color="#4f814f" d="M559.2,400.1l2.2,-8.7l2.2,7.4l-2.2,8.6z"/>
<path color="#435f8c" d="M688.3,360.7l0.7,-7l7,1.2l-0.6,7z"/>
<path color="#435c96" d="M717.2,358.8l0.3,-6.9l7,1.4l-0.2,7z"/>
<path color="#528657" d="M563.6,412.5l2.2,-8.6l2.1,3.7l-2.1,8.5z"/>
<path color="#4e804d" d="M556.9,391l2.3,-8.7l2.2,9.1l-2.2,8.7z"/>
<path color="#a6b045" d="M393.1,355.4l4.2,-6.9l6.1,0.6l-4.2,6.9z"/>
<path color="#6c883a" d="M514.5,205.9l2.8,-4.6l2,-4.6l-2.8,4.5z"/>
<path color="#54885b" d="M565.8,416.1l2.1,-8.5l2.2,2.4l-2.1,8.5z"/>
<path color="#748838" d="M445.6,336.6l3.6,-6.6l4.6,-2.5l-3.6,6.6z"/>
<path color="#6f8a3a" d="M499.5,242.3l3,-5.1l2,-5.3l-3,5z"/>
<path color="#395c47" d="M591.8,405.9l1.8,-7.5l1.5,-1.2l-1.8,7.5z"/>
<path color="#4e804b" d="M554.7,380.8l2.2,-8.7l2.3,10.2l-2.3,8.7z"/>
<path color="#618b43" d="M540.8,263.3l2.5,-6.4l2.3,14l-2.5,6.6z"/>
<path color="#718b3a" d="M484.5,279l3.2,-5.6l1.9,-5.2l-3.1,5.6z"/>
<path color="#3e6160" d="M637.5,373.5l1.3,-7.1l5.1,-1l-1.2,7.2z"/>
<path color="#54885d" d="M568,418.5l2.1,-8.5l2.1,1.9l-2.1,8.4z"/>
<path color="#899a3e" d="M421.7,349l4,-6.8l6.1,-1l-3.9,6.8z"/>
<path color="#627732" d="M467.6,313l3.3,-6.3l4.6,-7.5l-3.4,6.1z"/>
<path color="#51845d" d="M570.1,420.3l2.1,-8.4l2.2,1.3l-2.1,8.3z"/>
<path color="#4e7f48" d="M552.4,367.3l2.3,-8.4l2.2,13.2l-2.2,8.7z"/>
<path color="#5b7331" d="M516.5,201.2l2.8,-4.5l2,-3.3l-2.7,4.5z"/>
<path color="#3d6255" d="M615.4,386.4l1.6,-7.3l5,-1.6l-1.4,7.3z"/>
<path color="#638c43" d="M538.5,249.4l2.5,-6l2.3,13.5l-2.5,6.4z"/>
<path color="#42617d" d="M666.4,365.3l1,-7.1l6.9,0.6l-0.8,7.1z"/>
<path color="#6d893a" d="M501.5,236.9l3,-5l1.9,-5.4l-2.9,5z"/>
<path color="#395b49" d="M593.3,404.7l1.8,-7.5l5,-3.7l-1.7,7.4z"/>
<path color="#497655" d="M572.3,421.5l2.1,-8.3l2.2,0.4l-2.1,8.2z"/>
<path color="#435b94" d="M695.4,361.9l0.6,-7l7,1.2l-0.5,7.1z"/>
<path color="#435c97" d="M724.3,360.3l0.2,-7l7.2,1.4l-0.2,7z"/>
<path color="#6e8a3a" d="M486.5,273.8l3.1,-5.6l2,-5.1l-3.1,5.4z"/>
<path color="#b4b949" d="M370.3,359.4l4.6,-7l6,1.1l-4.5,7z"/>
<path color="#9ba842" d="M399.2,356l4.2,-6.9l6.1,0.3l-4.2,7z"/>
<path color="#617c35" d="M518.6,197.9l2.7,-4.5l2.1,-1.5l-2.7,4.4z"/>
<path color="#6c8135" d="M450.2,334.1l3.6,-6.6l4.6,-3.2l-3.5,6.6z"/>
<path color="#4e7f47" d="M550,350.4l2.4,-8.1l2.3,16.6l-2.3,8.4z"/>
<path color="#3f6168" d="M642.7,372.6l1.2,-7.2l5.2,-0.5l-1.2,7.1z"/>
<path color="#648d42" d="M536.2,235.5l2.5,-5.7l2.3,13.6l-2.5,6z"/>
<path color="#436d51" d="M574.5,421.8l2.1,-8.2l2.1,-0.1l-2,8.2z"/>
<path color="#80943c" d="M427.9,348l3.9,-6.8l4.6,-1.2l-3.8,6.8z"/>
<path color="#6a883a" d="M503.5,231.5l2.9,-5l2,-5.5l-2.9,4.9z"/>
<path color="#648238" d="M520.7,196.3l2.7,-4.4l2.1,-0.8l-2.7,4.5z"/>
<path color="#6c883a" d="M488.5,268.5l3.1,-5.4l2,-5.1l-3.2,5.3z"/>
<path color="#426b51" d="M576.7,421.7l2,-8.2l2.2,-0.3l-2,8.1z"/>
<path color="#678f42" d="M533.9,223.6l2.6,-5.3l2.2,11.5l-2.5,5.7z"/>
<path color="#3d615a" d="M620.6,384.8l1.4,-7.3l5.2,-1.4l-1.5,7.3z"/>
<path color="#508047" d="M547.7,333.4l2.4,-7.6l2.3,16.5l-2.4,8.1z"/>
<path color="#7ca447" d="M522.8,195.6l2.7,-4.5l2.2,2l-2.7,4.6z"/>
<path color="#6b8739" d="M472.1,305.3l3.4,-6.1l4.5,-9.3l-3.3,5.9z"/>
<path color="#425e87" d="M673.5,365.9l0.8,-7.1l7,0.9l-0.8,7.1z"/>
<path color="#6b9343" d="M531.7,215.8l2.5,-5.2l2.3,7.7l-2.6,5.3z"/>
<path color="#395c4d" d="M598.4,400.9l1.7,-7.4l5.1,-3l-1.7,7.5z"/>
<path color="#719944" d="M527.2,204.2l2.7,-4.9l2.1,5.5l-2.6,5z"/>
<path color="#6f9744" d="M529.4,209.8l2.6,-5l2.2,5.8l-2.5,5.2z"/>
<path color="#719843" d="M525,197.7l2.7,-4.6l2.2,6.2l-2.7,4.9z"/>
<path color="#425c97" d="M731.5,361.7l0.2,-7l7.1,1.4l0,7.1z"/>
<path color="#435c95" d="M702.5,363.2l0.5,-7.1l7.1,1.4l-0.4,7.1z"/>
<path color="#abb447" d="M376.4,360.5l4.5,-7l6.1,1l-4.5,7z"/>
<path color="#3c614b" d="M578.9,421.3l2,-8.1l2.2,-0.9l-2,8z"/>
<path color="#406071" d="M647.9,372l1.2,-7.1l5.1,-0.2l-1,7.2z"/>
<path color="#91a241" d="M405.3,356.4l4.2,-7l6.1,0.1l-4.1,6.9z"/>
<path color="#637a33" d="M454.9,330.9l3.5,-6.6l4.6,-4.7l-3.5,6.5z"/>
<path color="#68863a" d="M505.5,225.9l2.9,-4.9l2,-5.4l-2.9,4.9z"/>
<path color="#69873a" d="M490.4,263.3l3.2,-5.3l1.9,-5.2l-3.1,5.3z"/>
<path color="#798e3a" d="M432.6,346.8l3.8,-6.8l4.6,-1.5l-3.8,6.9z"/>
<path color="#395c49" d="M581.1,420.3l2,-8l2.1,-1.5l-1.9,7.9z"/>
<path color="#528146" d="M545.4,316.4l2.4,-7.3l2.3,16.7l-2.4,7.6z"/>
<path color="#3c5e60" d="M625.7,383.4l1.5,-7.3l5.1,-1.3l-1.4,7.3z"/>
<path color="#648439" d="M507.5,220.5l2.9,-4.9l2.1,-5l-2.9,4.8z"/>
<path color="#405f78" d="M653.2,371.9l1,-7.2l5.3,0.1l-1.1,7.2z"/>
<path color="#3b5e53" d="M603.5,398l1.7,-7.5l5.1,-2.3l-1.7,7.5z"/>
<path color="#435b91" d="M680.5,366.8l0.8,-7.1l7,1l-0.6,7.2z"/>
<path color="#385b4a" d="M583.3,418.7l1.9,-7.9l2.2,-1.7l-1.9,7.9z"/>
<path color="#678539" d="M492.4,258.1l3.1,-5.3l2,-5.3l-3.1,5.3z"/>
<path color="#435c96" d="M709.7,364.6l0.4,-7.1l7.1,1.3l-0.3,7.2z"/>
<path color="#a3af45" d="M382.5,361.5l4.5,-7l6.1,0.9l-4.4,7.1z"/>
<path color="#548246" d="M543,299.5l2.5,-7l2.3,16.6l-2.4,7.3z"/>
<path color="#708838" d="M437.2,345.4l3.8,-6.9l4.6,-1.9l-3.7,6.8z"/>
<path color="#879a3f" d="M411.5,356.4l4.1,-6.9l6.1,-0.5l-4,7z"/>
<path color="#678539" d="M476.7,295.8l3.3,-5.9l4.5,-10.9l-3.2,5.7z"/>
<path color="#5c7432" d="M459.5,326.1l3.5,-6.5l4.6,-6.6l-3.5,6.4z"/>
<path color="#385b4b" d="M585.5,417l1.9,-7.9l2.2,-1.5l-1.9,7.8z"/>
<path color="#3d5c66" d="M630.9,382.1l1.4,-7.3l5.2,-1.3l-1.3,7.3z"/>
<path color="#618238" d="M509.6,215.4l2.9,-4.8l2,-4.7l-2.9,4.7z"/>
<path color="#648439" d="M494.4,252.8l3.1,-5.3l2,-5.2l-3,5.1z"/>
<path color="#568346" d="M540.7,284.3l2.4,-6.8l2.4,15l-2.5,7z"/>
<path color="#415d81" d="M658.4,372l1.1,-7.2l6.9,0.5l-0.9,7.2z"/>
<path color="#4f7f5d" d="M559.1,416.3l2.3,-8.9l2.2,5.1l-2.2,8.8z"/>
<path color="#4d7c58" d="M556.9,409l2.3,-8.9l2.2,7.3l-2.3,8.9z"/>
<path color="#385a4c" d="M587.7,415.4l1.9,-7.8l2.2,-1.7l-1.9,7.8z"/>
<path color="#3b5e5a" d="M608.6,395.7l1.7,-7.5l5.1,-1.8l-1.6,7.5z"/>
<path color="#508261" d="M561.4,421.3l2.2,-8.8l2.2,3.6l-2.2,8.7z"/>
<path color="#425b94" d="M687.7,367.9l0.6,-7.2l7.1,1.2l-0.6,7.3z"/>
<path color="#425c97" d="M716.9,366l0.3,-7.2l7.1,1.5l-0.2,7.2z"/>
<path color="#4c7c55" d="M554.6,399.9l2.3,-8.9l2.3,9.1l-2.3,8.9z"/>
<path color="#98a843" d="M388.7,362.5l4.4,-7.1l6.1,0.6l-4.3,7.2z"/>
<path color="#528465" d="M563.6,424.8l2.2,-8.7l2.2,2.4l-2.2,8.6z"/>
<path color="#608139" d="M511.6,210.6l2.9,-4.7l2,-4.7l-2.8,4.6z"/>
<path color="#688136" d="M441.9,343.4l3.7,-6.8l4.6,-2.5l-3.6,6.8z"/>
<path color="#4c7c53" d="M552.3,389.7l2.4,-8.9l2.2,10.2l-2.3,8.9z"/>
<path color="#37594d" d="M589.9,413.7l1.9,-7.8l1.5,-1.2l-1.9,7.8z"/>
<path color="#628339" d="M496.5,247.4l3,-5.1l2,-5.4l-3,5.2z"/>
<path color="#588545" d="M538.3,269.8l2.5,-6.5l2.3,14.2l-2.4,6.8z"/>
<path color="#518367" d="M565.8,427.1l2.2,-8.6l2.1,1.8l-2.1,8.6z"/>
<path color="#638339" d="M481.3,284.7l3.2,-5.7l2,-5.2l-3.2,5.6z"/>
<path color="#3d5b6d" d="M636.2,380.8l1.3,-7.3l5.2,-0.9l-1.3,7.3z"/>
<path color="#7c923c" d="M417.7,356l4,-7l6.2,-1l-3.9,7z"/>
<path color="#4c7b51" d="M550,376l2.4,-8.7l2.3,13.5l-2.4,8.9z"/>
<path color="#567131" d="M464.1,319.4l3.5,-6.4l4.5,-7.7l-3.4,6.3z"/>
<path color="#4f7f65" d="M568,428.9l2.1,-8.6l2.2,1.2l-2.1,8.5z"/>
<path color="#5b7c37" d="M513.7,205.8l2.8,-4.6l2.1,-3.3l-2.8,4.5z"/>
<path color="#598645" d="M536,255.7l2.5,-6.3l2.3,13.9l-2.5,6.5z"/>
<path color="#3c5d61" d="M613.8,393.9l1.6,-7.5l5.2,-1.6l-1.6,7.5z"/>
<path color="#415a8b" d="M665.5,372.5l0.9,-7.2l7.1,0.6l-0.9,7.3z"/>
<path color="#46705c" d="M570.2,430l2.1,-8.5l2.2,0.3l-2.1,8.4z"/>
<path color="#608239" d="M498.5,242.1l3,-5.2l2,-5.4l-3,5.1z"/>
<path color="#375850" d="M591.4,412.5l1.9,-7.8l5.1,-3.8l-1.8,7.7z"/>
<path color="#425b95" d="M694.8,369.2l0.6,-7.3l7.1,1.3l-0.5,7.3z"/>
<path color="#425c97" d="M724.1,367.5l0.2,-7.2l7.2,1.4l-0.1,7.3z"/>
<path color="#a7b246" d="M365.7,366.5l4.6,-7.1l6.1,1.1l-4.6,7.2z"/>
<path color="#618239" d="M483.3,279.4l3.2,-5.6l2,-5.3l-3.2,5.6z"/>
<path color="#8da041" d="M394.9,363.2l4.3,-7.2l6.1,0.4l-4.2,7.1z"/>
<path color="#4b7a4e" d="M547.6,358.6l2.4,-8.2l2.4,16.9l-2.4,8.7z"/>
<path color="#607a34" d="M446.6,340.9l3.6,-6.8l4.7,-3.2l-3.7,6.8z"/>
<path color="#577736" d="M515.8,202.4l2.8,-4.5l2.1,-1.6l-2.8,4.6z"/>
<path color="#3e5a76" d="M641.4,379.9l1.3,-7.3l5.2,-0.6l-1.2,7.3z"/>
<path color="#5b8744" d="M533.6,241.3l2.6,-5.8l2.3,13.9l-2.5,6.3z"/>
<path color="#416857" d="M572.4,430.2l2.1,-8.4l2.2,-0.1l-2.1,8.3z"/>
<path color="#738c3b" d="M424,355l3.9,-7l4.7,-1.2l-4,7z"/>
<path color="#5f813a" d="M500.5,236.6l3,-5.1l2,-5.6l-3,5z"/>
<path color="#5b7d3a" d="M517.9,200.9l2.8,-4.6l2.1,-0.7l-2.8,4.6z"/>
<path color="#406658" d="M574.6,430l2.1,-8.3l2.2,-0.4l-2.1,8.3z"/>
<path color="#5f8139" d="M485.3,274.1l3.2,-5.6l1.9,-5.2l-3.1,5.5z"/>
<path color="#5d8945" d="M531.3,229.1l2.6,-5.5l2.3,11.9l-2.6,5.8z"/>
<path color="#3c5b67" d="M619,392.3l1.6,-7.5l5.1,-1.4l-1.4,7.5z"/>
<path color="#4b7b4d" d="M545.3,341.2l2.4,-7.8l2.3,17l-2.4,8.2z"/>
<path color="#719d49" d="M520,200.2l2.8,-4.6l2.2,2.1l-2.8,4.8z"/>
<path color="#5f7f38" d="M468.7,311.6l3.4,-6.3l4.6,-9.5l-3.4,6.1z"/>
<path color="#415991" d="M672.6,373.2l0.9,-7.3l7,0.9l-0.7,7.3z"/>
<path color="#618d46" d="M529,221.1l2.7,-5.3l2.2,7.8l-2.6,5.5z"/>
<path color="#385856" d="M596.6,408.6l1.8,-7.7l5.1,-2.9l-1.8,7.6z"/>
<path color="#425c98" d="M731.4,369l0.1,-7.3l7.3,1.5l-0.1,7.3z"/>
<path color="#679246" d="M524.5,209.2l2.7,-5l2.2,5.6l-2.7,5.2z"/>
<path color="#425b96" d="M702,370.5l0.5,-7.3l7.2,1.4l-0.4,7.3z"/>
<path color="#659146" d="M526.7,215l2.7,-5.2l2.3,6l-2.7,5.3z"/>
<path color="#679145" d="M522.2,202.5l2.8,-4.8l2.2,6.5l-2.7,5z"/>
<path color="#9dad44" d="M371.8,367.7l4.6,-7.2l6.1,1l-4.5,7.2z"/>
<path color="#3a5d52" d="M576.8,429.6l2.1,-8.3l2.2,-1l-2.1,8.2z"/>
<path color="#3f5a7f" d="M646.7,379.3l1.2,-7.3l5.3,-0.1l-1.2,7.3z"/>
<path color="#839a3f" d="M401.1,363.5l4.2,-7.1l6.2,0l-4.2,7.2z"/>
<path color="#577332" d="M451.2,337.7l3.7,-6.8l4.6,-4.8l-3.6,6.7z"/>
<path color="#5d803a" d="M502.5,230.9l3,-5l2,-5.4l-2.9,4.9z"/>
<path color="#5e803a" d="M487.3,268.8l3.1,-5.5l2,-5.2l-3.1,5.4z"/>
<path color="#6c8739" d="M428.6,353.8l4,-7l4.6,-1.4l-3.9,7z"/>
<path color="#4c7c4b" d="M542.9,323.8l2.5,-7.4l2.3,17l-2.4,7.8z"/>
<path color="#375850" d="M579,428.5l2.1,-8.2l2.2,-1.6l-2,8.2z"/>
<path color="#3c586d" d="M624.3,390.9l1.4,-7.5l5.2,-1.3l-1.4,7.5z"/>
<path color="#405886" d="M652,379.2l1.2,-7.3l5.2,0.1l-1,7.4z"/>
<path color="#5b7e3a" d="M504.6,225.4l2.9,-4.9l2.1,-5.1l-3,4.9z"/>
<path color="#3a595f" d="M601.7,405.6l1.8,-7.6l5.1,-2.3l-1.6,7.6z"/>
<path color="#375751" d="M581.3,426.9l2,-8.2l2.2,-1.7l-2,8z"/>
<path color="#425a94" d="M679.8,374.1l0.7,-7.3l7.2,1.1l-0.7,7.4z"/>
<path color="#425c97" d="M709.3,371.9l0.4,-7.3l7.2,1.4l-0.3,7.3z"/>
<path color="#5c7f3a" d="M489.3,263.5l3.1,-5.4l2,-5.3l-3.1,5.4z"/>
<path color="#94a743" d="M378,368.7l4.5,-7.2l6.2,1l-4.5,7.2z"/>
<path color="#4c7c4a" d="M540.5,306.7l2.5,-7.2l2.4,16.9l-2.5,7.4z"/>
<path color="#638037" d="M433.3,352.4l3.9,-7l4.7,-2l-3.8,7.1z"/>
<path color="#79933d" d="M407.3,363.6l4.2,-7.2l6.2,-0.4l-4.1,7.2z"/>
<path color="#5c7f3a" d="M473.3,301.9l3.4,-6.1l4.6,-11.1l-3.3,5.9z"/>
<path color="#526e31" d="M455.9,332.8l3.6,-6.7l4.6,-6.7l-3.5,6.6z"/>
<path color="#375654" d="M583.5,425l2,-8l2.2,-1.6l-2,8z"/>
<path color="#3c5673" d="M629.5,389.6l1.4,-7.5l5.3,-1.3l-1.4,7.5z"/>
<path color="#597c3a" d="M506.6,220.3l3,-4.9l2,-4.8l-2.9,4.8z"/>
<path color="#5b7e3b" d="M491.3,258.2l3.1,-5.4l2.1,-5.4l-3.2,5.4z"/>
<path color="#4d7e48" d="M538.1,291.2l2.6,-6.9l2.3,15.2l-2.5,7.2z"/>
<path color="#4d7b66" d="M556.8,425.4l2.3,-9.1l2.3,5l-2.3,9z"/>
<path color="#4b7861" d="M554.5,418.2l2.4,-9.2l2.2,7.3l-2.3,9.1z"/>
<path color="#40578d" d="M657.4,379.4l1,-7.4l7.1,0.5l-1,7.4z"/>
<path color="#375556" d="M585.7,423.4l2,-8l2.2,-1.7l-1.9,8z"/>
<path color="#4e7e6a" d="M559.1,430.3l2.3,-9l2.2,3.5l-2.3,9z"/>
<path color="#3a5866" d="M607,403.3l1.6,-7.6l5.2,-1.8l-1.6,7.6z"/>
<path color="#4a775e" d="M552.2,409.1l2.4,-9.2l2.3,9.1l-2.4,9.2z"/>
<path color="#425b95" d="M687,375.3l0.7,-7.4l7.1,1.3l-0.6,7.4z"/>
<path color="#425c98" d="M716.6,373.3l0.3,-7.3l7.2,1.5l-0.2,7.3z"/>
<path color="#50806f" d="M561.3,433.8l2.3,-9l2.2,2.3l-2.3,8.9z"/>
<path color="#8aa041" d="M384.2,369.7l4.5,-7.2l6.2,0.7l-4.5,7.2z"/>
<path color="#4a785c" d="M549.9,398.8l2.4,-9.1l2.3,10.2l-2.4,9.2z"/>
<path color="#577b3b" d="M508.7,215.4l2.9,-4.8l2.1,-4.8l-2.9,4.8z"/>
<path color="#5b7a35" d="M438.1,350.5l3.8,-7.1l4.7,-2.5l-3.8,7z"/>
<path color="#365457" d="M588,421.7l1.9,-8l1.5,-1.2l-1.9,7.9z"/>
<path color="#4e7f48" d="M535.7,276.5l2.6,-6.7l2.4,14.5l-2.6,6.9z"/>
<path color="#4f7e70" d="M563.5,436l2.3,-8.9l2.2,1.8l-2.2,8.8z"/>
<path color="#597d3b" d="M493.3,252.8l3.2,-5.4l2,-5.3l-3.1,5.2z"/>
<path color="#3c557b" d="M634.8,388.3l1.4,-7.5l5.2,-0.9l-1.2,7.5z"/>
<path color="#5a7e3b" d="M478,290.6l3.3,-5.9l2,-5.3l-3.3,5.8z"/>
<path color="#6e8b3b" d="M413.6,363.2l4.1,-7.2l6.3,-1l-4.1,7.2z"/>
<path color="#4a7759" d="M547.6,384.9l2.4,-8.9l2.3,13.7l-2.4,9.1z"/>
<path color="#4c796e" d="M565.8,437.7l2.2,-8.8l2.2,1.1l-2.2,8.7z"/>
<path color="#4e6b31" d="M460.6,326l3.5,-6.6l4.6,-7.8l-3.5,6.4z"/>
<path color="#537739" d="M510.8,210.6l2.9,-4.8l2.1,-3.4l-2.9,4.7z"/>
<path color="#508047" d="M533.3,262.1l2.7,-6.4l2.3,14.1l-2.6,6.7z"/>
<path color="#3b576e" d="M612.2,401.5l1.6,-7.6l5.2,-1.6l-1.5,7.7z"/>
<path color="#405890" d="M664.5,379.9l1,-7.4l7.1,0.7l-0.9,7.5z"/>
<path color="#436964" d="M568,438.7l2.2,-8.7l2.2,0.2l-2.1,8.7z"/>
<path color="#36535b" d="M589.5,420.4l1.9,-7.9l5.2,-3.9l-1.9,7.9z"/>
<path color="#587c3b" d="M495.4,247.3l3.1,-5.2l2,-5.5l-3.1,5.2z"/>
<path color="#425b96" d="M694.2,376.6l0.6,-7.4l7.2,1.3l-0.5,7.4z"/>
<path color="#415c98" d="M723.9,374.8l0.2,-7.3l7.3,1.5l-0.1,7.4z"/>
<path color="#98aa44" d="M360.9,373.9l4.8,-7.4l6.1,1.2l-4.7,7.4z"/>
<path color="#597d3b" d="M480,285.2l3.3,-5.8l2,-5.3l-3.3,5.7z"/>
<path color="#497657" d="M545.2,367l2.4,-8.4l2.4,17.4l-2.4,8.9z"/>
<path color="#7f983f" d="M390.4,370.4l4.5,-7.2l6.2,0.3l-4.4,7.3z"/>
<path color="#557434" d="M442.8,347.9l3.8,-7l4.6,-3.2l-3.7,7z"/>
<path color="#507338" d="M512.9,207.1l2.9,-4.7l2.1,-1.5l-2.9,4.7z"/>
<path color="#3d5484" d="M640.2,387.4l1.2,-7.5l5.3,-0.6l-1.2,7.5z"/>
<path color="#528147" d="M531,247.3l2.6,-6l2.4,14.4l-2.7,6.4z"/>
<path color="#3f6261" d="M570.3,438.9l2.1,-8.7l2.2,-0.2l-2.1,8.6z"/>
<path color="#668439" d="M419.9,362.2l4.1,-7.2l4.6,-1.2l-4,7.2z"/>
<path color="#567c3c" d="M497.4,241.8l3.1,-5.2l2,-5.7l-3.1,5.2z"/>
<path color="#3e6062" d="M572.5,438.6l2.1,-8.6l2.2,-0.4l-2.1,8.5z"/>
<path color="#53793c" d="M515,205.6l2.9,-4.7l2.1,-0.7l-2.8,4.8z"/>
<path color="#548347" d="M528.6,234.7l2.7,-5.6l2.3,12.2l-2.6,6z"/>
<path color="#577c3b" d="M482,279.8l3.3,-5.7l2,-5.3l-3.3,5.7z"/>
<path color="#3b5574" d="M617.5,400l1.5,-7.7l5.3,-1.4l-1.5,7.7z"/>
<path color="#497755" d="M542.8,349.2l2.5,-8l2.3,17.4l-2.4,8.4z"/>
<path color="#415992" d="M671.7,380.7l0.9,-7.5l7.2,0.9l-0.8,7.5z"/>
<path color="#588748" d="M526.3,226.5l2.7,-5.4l2.3,8l-2.7,5.6z"/>
<path color="#577a3a" d="M465.2,318l3.5,-6.4l4.6,-9.7l-3.4,6.2z"/>
<path color="#66974c" d="M517.2,205l2.8,-4.8l2.2,2.3l-2.8,4.9z"/>
<path color="#375262" d="M594.7,416.5l1.9,-7.9l5.1,-3l-1.8,7.8z"/>
<path color="#415b97" d="M701.5,377.9l0.5,-7.4l7.3,1.4l-0.5,7.4z"/>
<path color="#5b8b49" d="M524,220.3l2.7,-5.3l2.3,6.1l-2.7,5.4z"/>
<path color="#5d8c49" d="M521.7,214.4l2.8,-5.2l2.2,5.8l-2.7,5.3z"/>
<path color="#5e8b47" d="M519.4,207.4l2.8,-4.9l2.3,6.7l-2.8,5.2z"/>
<path color="#8fa443" d="M367.1,375.1l4.7,-7.4l6.2,1l-4.7,7.4z"/>
<path color="#38575c" d="M574.7,438.1l2.1,-8.5l2.2,-1.1l-2,8.4z"/>
<path color="#3e558a" d="M645.5,386.8l1.2,-7.5l5.3,-0.1l-1.1,7.6z"/>
<path color="#75923e" d="M396.7,370.8l4.4,-7.3l6.2,0.1l-4.3,7.3z"/>
<path color="#4f6e33" d="M447.5,344.7l3.7,-7l4.7,-4.9l-3.6,6.9z"/>
<path color="#415b98" d="M731.3,376.4l0.1,-7.4l7.3,1.5l0,5.7l-2.8,1.1z"/>
<path color="#557a3c" d="M499.4,236.1l3.1,-5.2l2.1,-5.5l-3.1,5.1z"/>
<path color="#5f7f38" d="M424.6,361l4,-7.2l4.7,-1.4l-3.9,7.2z"/>
<path color="#567b3c" d="M484,274.5l3.3,-5.7l2,-5.3l-3.3,5.6z"/>
<path color="#4a7853" d="M540.3,331.5l2.6,-7.7l2.4,17.4l-2.5,8z"/>
<path color="#36535b" d="M577,436.9l2,-8.4l2.3,-1.6l-2.1,8.3z"/>
<path color="#3b527a" d="M622.8,398.6l1.5,-7.7l5.2,-1.3l-1.4,7.7z"/>
<path color="#3e568c" d="M650.9,386.8l1.1,-7.6l5.4,0.2l-1.1,7.6z"/>
<path color="#36515d" d="M579.2,435.2l2.1,-8.3l2.2,-1.9l-2,8.3z"/>
<path color="#39536b" d="M599.9,413.4l1.8,-7.8l5.3,-2.3l-1.8,7.9z"/>
<path color="#415a94" d="M679,381.6l0.8,-7.5l7.2,1.2l-0.7,7.5z"/>
<path color="#53793c" d="M501.5,230.5l3.1,-5.1l2,-5.1l-3,5z"/>
<path color="#415b97" d="M708.8,379.3l0.5,-7.4l7.3,1.4l-0.4,7.5z"/>
<path color="#547a3c" d="M486,269.1l3.3,-5.6l2,-5.3l-3.2,5.5z"/>
<path color="#859f42" d="M373.3,376.1l4.7,-7.4l6.2,1l-4.6,7.4z"/>
<path color="#4a7852" d="M537.9,314.1l2.6,-7.4l2.4,17.1l-2.6,7.7z"/>
<path color="#597a38" d="M429.4,359.6l3.9,-7.2l4.8,-1.9l-3.9,7.1z"/>
<path color="#6b8b3c" d="M403,370.9l4.3,-7.3l6.3,-0.4l-4.2,7.4z"/>
<path color="#547a3c" d="M469.9,308.1l3.4,-6.2l4.7,-11.3l-3.5,6z"/>
<path color="#4a6a33" d="M452.3,339.7l3.6,-6.9l4.7,-6.8l-3.7,6.8z"/>
<path color="#365160" d="M581.5,433.3l2,-8.3l2.2,-1.6l-2,8.2z"/>
<path color="#3b5081" d="M628.1,397.3l1.4,-7.7l5.3,-1.3l-1.3,7.7z"/>
<path color="#51773c" d="M503.6,225.3l3,-5l2.1,-4.9l-3,4.9z"/>
<path color="#53793d" d="M488.1,263.7l3.2,-5.5l2,-5.4l-3.2,5.4z"/>
<path color="#4b7a51" d="M535.5,298.3l2.6,-7.1l2.4,15.5l-2.6,7.4z"/>
<path color="#4b7671" d="M554.4,434.7l2.4,-9.3l2.3,4.9l-2.4,9.3z"/>
<path color="#49746b" d="M552.1,427.5l2.4,-9.3l2.3,7.2l-2.4,9.3z"/>
<path color="#4d7877" d="M556.7,439.6l2.4,-9.3l2.2,3.5l-2.3,9.2z"/>
<path color="#3f578e" d="M656.3,387l1.1,-7.6l7.1,0.5l-1,7.6z"/>
<path color="#487367" d="M549.8,418.5l2.4,-9.4l2.3,9.1l-2.4,9.3z"/>
<path color="#365062" d="M583.7,431.6l2,-8.2l2.3,-1.7l-2,8.1z"/>
<path color="#3a5273" d="M605.2,411.2l1.8,-7.9l5.2,-1.8l-1.7,7.9z"/>
<path color="#415b96" d="M686.3,382.8l0.7,-7.5l7.2,1.3l-0.6,7.6z"/>
<path color="#4e797d" d="M559,443l2.3,-9.2l2.2,2.2l-2.2,9.1z"/>
<path color="#487365" d="M547.5,408.1l2.4,-9.3l2.3,10.3l-2.4,9.4z"/>
<path color="#7b9840" d="M379.6,377.1l4.6,-7.4l6.2,0.7l-4.5,7.5z"/>
<path color="#415b99" d="M731.2,379.2l0.1,-2.8l4.6,0.9z"/>
<path color="#537537" d="M434.2,357.6l3.9,-7.1l4.7,-2.6l-3.9,7.2z"/>
<path color="#4f763d" d="M505.7,220.3l3,-4.9l2.1,-4.8l-3,4.8z"/>
<path color="#4b7b4f" d="M533.1,283.4l2.6,-6.9l2.4,14.7l-2.6,7.1z"/>
<path color="#354f63" d="M586,429.8l2,-8.1l1.5,-1.3l-2,8.2z"/>
<path color="#4d777f" d="M561.3,445.1l2.2,-9.1l2.3,1.7l-2.3,9z"/>
<path color="#51783d" d="M490.1,258.2l3.2,-5.4l2.1,-5.5l-3.2,5.4z"/>
<path color="#415b99" d="M723.7,382.2l0.2,-7.4l7.4,1.6l-0.1,2.8z"/>
<path color="#3b5184" d="M633.5,396l1.3,-7.7l5.4,-0.9l-1.4,7.7z"/>
<path color="#477362" d="M545.1,394l2.5,-9.1l2.3,13.9l-2.4,9.3z"/>
<path color="#52793d" d="M474.5,296.6l3.5,-6l2,-5.4l-3.4,6z"/>
<path color="#62833a" d="M409.4,370.6l4.2,-7.4l6.3,-1l-4.2,7.3z"/>
<path color="#415b98" d="M716.2,380.8l0.4,-7.5l7.3,1.5l-0.2,7.4l-0.3,0.1z"/>
<path color="#4a717d" d="M563.5,446.7l2.3,-9l2.2,1l-2.2,9z"/>
<path color="#476733" d="M456.9,332.8l3.7,-6.8l4.6,-8l-3.5,6.6z"/>
<path color="#4c7c4e" d="M530.7,268.6l2.6,-6.5l2.4,14.4l-2.6,6.9z"/>
<path color="#4b723b" d="M507.8,215.4l3,-4.8l2.1,-3.5l-3,4.8z"/>
<path color="#3a517b" d="M610.5,409.4l1.7,-7.9l5.3,-1.5l-1.6,7.9z"/>
<path color="#416271" d="M565.8,447.7l2.2,-9l2.3,0.2l-2.3,8.8z"/>
<path color="#405891" d="M663.5,387.5l1,-7.6l7.2,0.8l-0.9,7.6z"/>
<path color="#354d67" d="M587.5,428.6l2,-8.2l5.2,-3.9l-1.9,8z"/>
<path color="#415b96" d="M693.6,384.2l0.6,-7.6l7.3,1.3l-0.5,7.7z"/>
<path color="#50773d" d="M492.2,252.7l3.2,-5.4l2,-5.5l-3.2,5.3z"/>
<path color="#47725f" d="M542.6,375.7l2.6,-8.7l2.4,17.9l-2.5,9.1z"/>
<path color="#51783d" d="M476.6,291.2l3.4,-6l2,-5.4l-3.4,5.9z"/>
<path color="#70903e" d="M385.9,377.9l4.5,-7.5l6.3,0.4l-4.4,7.5z"/>
<path color="#4e6f36" d="M438.9,355.1l3.9,-7.2l4.7,-3.2l-3.8,7.1z"/>
<path color="#3d5b6d" d="M568,447.7l2.3,-8.8l2.2,-0.3l-2.2,8.8z"/>
<path color="#4c7c4c" d="M528.2,253.4l2.8,-6.1l2.3,14.8l-2.6,6.5z"/>
<path color="#3c5387" d="M638.8,395.1l1.4,-7.7l5.3,-0.6l-1.2,7.8z"/>
<path color="#486f3a" d="M509.9,211.9l3,-4.8l2.1,-1.5l-2.9,4.8z"/>
<path color="#5c7e3a" d="M415.7,369.5l4.2,-7.3l4.7,-1.2l-4.1,7.4z"/>
<path color="#3c596e" d="M570.3,447.4l2.2,-8.8l2.2,-0.5l-2.1,8.7z"/>
<path color="#4e763e" d="M494.2,247.1l3.2,-5.3l2,-5.7l-3.1,5.3z"/>
<path color="#4b743e" d="M512.1,210.4l2.9,-4.8l2.2,-0.6l-2.9,4.8z"/>
<path color="#4d7e4b" d="M525.8,240.5l2.8,-5.8l2.4,12.6l-2.8,6.1z"/>
<path color="#47735d" d="M540.2,357.4l2.6,-8.2l2.4,17.8l-2.6,8.7z"/>
<path color="#3a4f80" d="M615.9,407.9l1.6,-7.9l5.3,-1.4l-1.6,7.9z"/>
<path color="#4f773d" d="M478.6,285.7l3.4,-5.9l2,-5.3l-3.4,5.8z"/>
<path color="#405993" d="M670.8,388.3l0.9,-7.6l7.3,0.9l-0.8,7.7z"/>
<path color="#4f814b" d="M523.5,232.1l2.8,-5.6l2.3,8.2l-2.8,5.8z"/>
<path color="#4f753c" d="M461.7,324.6l3.5,-6.6l4.7,-9.9l-3.6,6.5z"/>
<path color="#5c904e" d="M514.3,209.8l2.9,-4.8l2.2,2.4l-2.9,5z"/>
<path color="#364d6f" d="M592.8,424.5l1.9,-8l5.2,-3.1l-1.8,8.1z"/>
<path color="#415b97" d="M701,385.6l0.5,-7.7l7.3,1.4l-0.4,7.7z"/>
<path color="#51844b" d="M521.2,225.8l2.8,-5.5l2.3,6.2l-2.8,5.6z"/>
<path color="#53864b" d="M518.9,219.7l2.8,-5.3l2.3,5.9l-2.8,5.5z"/>
<path color="#375168" d="M572.6,446.8l2.1,-8.7l2.3,-1.2l-2.2,8.6z"/>
<path color="#548549" d="M516.5,212.4l2.9,-5l2.3,7l-2.8,5.3z"/>
<path color="#3d558b" d="M644.3,394.6l1.2,-7.8l5.4,0l-1.2,7.7z"/>
<path color="#678a3c" d="M392.3,378.3l4.4,-7.5l6.3,0.1l-4.4,7.6z"/>
<path color="#486a35" d="M443.7,351.8l3.8,-7.1l4.8,-5l-3.8,7.1z"/>
<path color="#4c753e" d="M496.3,241.4l3.1,-5.3l2.1,-5.6l-3.1,5.2z"/>
<path color="#577a3a" d="M420.5,368.4l4.1,-7.4l4.8,-1.4l-4.1,7.3z"/>
<path color="#48745c" d="M537.7,339.3l2.6,-7.8l2.5,17.7l-2.6,8.2z"/>
<path color="#4d763e" d="M480.6,280.3l3.4,-5.8l2,-5.4l-3.3,5.7z"/>
<path color="#354d67" d="M574.8,445.5l2.2,-8.6l2.2,-1.7l-2.1,8.5z"/>
<path color="#415b98" d="M716,385.2l0.2,-4.4l7.2,1.5z"/>
<path color="#3a4f81" d="M621.2,406.5l1.6,-7.9l5.3,-1.3l-1.5,7.9z"/>
<path color="#3e568d" d="M649.7,394.5l1.2,-7.7l5.4,0.2l-1.1,7.7z"/>
<path color="#354c68" d="M577.1,443.7l2.1,-8.5l2.3,-1.9l-2.1,8.5z"/>
<path color="#405a95" d="M678.2,389.3l0.8,-7.7l7.3,1.2l-0.8,7.8z"/>
<path color="#384d78" d="M598.1,421.5l1.8,-8.1l5.3,-2.2l-1.8,8z"/>
<path color="#4b743e" d="M498.4,235.7l3.1,-5.2l2.1,-5.2l-3.1,5.1z"/>
<path color="#415b98" d="M708.4,387l0.4,-7.7l7.4,1.5l-0.2,4.4l-5.4,2.3z"/>
<path color="#4c753e" d="M482.7,274.8l3.3,-5.7l2.1,-5.4l-3.4,5.6z"/>
<path color="#48745a" d="M535.3,321.6l2.6,-7.5l2.4,17.4l-2.6,7.8z"/>
<path color="#517539" d="M425.3,366.9l4.1,-7.3l4.8,-2l-4.1,7.4z"/>
<path color="#60843c" d="M398.6,378.5l4.4,-7.6l6.4,-0.3l-4.4,7.5z"/>
<path color="#4c753e" d="M466.3,314.6l3.6,-6.5l4.6,-11.5l-3.5,6.2z"/>
<path color="#436534" d="M448.5,346.8l3.8,-7.1l4.6,-6.9l-3.7,6.9z"/>
<path color="#354c6b" d="M579.4,441.8l2.1,-8.5l2.2,-1.7l-2,8.4z"/>
<path color="#3a5082" d="M626.6,405.2l1.5,-7.9l5.4,-1.3l-1.5,7.9z"/>
<path color="#49723e" d="M500.5,230.4l3.1,-5.1l2.1,-5l-3.1,5.1z"/>
<path color="#486d7b" d="M549.7,437.1l2.4,-9.6l2.3,7.2l-2.4,9.6z"/>
<path color="#4a6f82" d="M552,444.3l2.4,-9.6l2.3,4.9l-2.4,9.5z"/>
<path color="#497659" d="M532.8,305.6l2.7,-7.3l2.4,15.8l-2.6,7.5z"/>
<path color="#4a743f" d="M484.7,269.3l3.4,-5.6l2,-5.5l-3.3,5.6z"/>
<path color="#476d76" d="M547.3,428.1l2.5,-9.6l2.3,9l-2.4,9.6z"/>
<path color="#4c7188" d="M554.3,449.1l2.4,-9.5l2.3,3.4l-2.4,9.4z"/>
<path color="#3f578f" d="M655.2,394.7l1.1,-7.7l7.2,0.5l-1,7.8z"/>
<path color="#354a6d" d="M581.7,440l2,-8.4l2.3,-1.8l-2.1,8.4z"/>
<path color="#394e7e" d="M603.4,419.2l1.8,-8l5.3,-1.8l-1.7,8z"/>
<path color="#415a96" d="M685.5,390.6l0.8,-7.8l7.3,1.4l-0.6,7.8z"/>
<path color="#4d718e" d="M556.6,452.4l2.4,-9.4l2.3,2.1l-2.4,9.3z"/>
<path color="#476d72" d="M545,417.7l2.5,-9.6l2.3,10.4l-2.5,9.6z"/>
<path color="#4c7039" d="M430.1,365l4.1,-7.4l4.7,-2.5l-3.9,7.4z"/>
<path color="#497758" d="M530.4,290.4l2.7,-7l2.4,14.9l-2.7,7.3z"/>
<path color="#4c6f90" d="M558.9,454.4l2.4,-9.3l2.2,1.6l-2.3,9.3z"/>
<path color="#47713f" d="M502.6,225.4l3.1,-5.1l2.1,-4.9l-3.1,5z"/>
<path color="#35496f" d="M583.9,438.2l2.1,-8.4l1.5,-1.2l-2,8.3z"/>
<path color="#466d6e" d="M542.5,403.3l2.6,-9.3l2.4,14.1l-2.5,9.6z"/>
<path color="#49733f" d="M486.8,263.8l3.3,-5.6l2.1,-5.5l-3.3,5.6z"/>
<path color="#3b5184" d="M632,403.9l1.5,-7.9l5.3,-0.9l-1.3,7.9z"/>
<path color="#597e3c" d="M405,378.1l4.4,-7.5l6.3,-1.1l-4.2,7.6z"/>
<path color="#4a743f" d="M471,302.8l3.5,-6.2l2.1,-5.4l-3.5,6.1z"/>
<path color="#48688c" d="M561.2,456l2.3,-9.3l2.3,1l-2.3,9.1z"/>
<path color="#406335" d="M453.2,339.7l3.7,-6.9l4.8,-8.2l-3.7,6.8z"/>
<path color="#4a7756" d="M527.9,275.3l2.8,-6.7l2.4,14.8l-2.7,7z"/>
<path color="#394f80" d="M608.8,417.4l1.7,-8l5.4,-1.5l-1.7,8.1z"/>
<path color="#405b98" d="M708.3,388.4l0.1,-1.4l2.2,0.5z"/>
<path color="#446d3d" d="M504.7,220.4l3.1,-5l2.1,-3.5l-3,4.9z"/>
<path color="#3f5a7e" d="M563.5,456.8l2.3,-9.1l2.2,0l-2.2,9.1z"/>
<path color="#3f5891" d="M662.5,395.3l1,-7.8l7.3,0.8l-0.9,7.9z"/>
<path color="#456d6a" d="M540.1,384.5l2.5,-8.8l2.5,18.3l-2.6,9.3z"/>
<path color="#405b98" d="M700.6,391.6l0.4,-6l7.4,1.4l-0.1,1.4z"/>
<path color="#354873" d="M585.5,436.9l2,-8.3l5.3,-4.1l-1.9,8.3z"/>
<path color="#47723f" d="M488.9,258.3l3.3,-5.6l2,-5.6l-3.2,5.5z"/>
<path color="#48733f" d="M473.1,297.3l3.5,-6.1l2,-5.5l-3.5,6z"/>
<path color="#466a38" d="M435,362.5l3.9,-7.4l4.8,-3.3l-3.9,7.4z"/>
<path color="#3c5479" d="M565.8,456.8l2.2,-9.1l2.3,-0.3l-2.2,9z"/>
<path color="#4a7854" d="M525.4,259.7l2.8,-6.3l2.5,15.2l-2.8,6.7z"/>
<path color="#405b97" d="M693,392l0.6,-7.8l7.4,1.4l-0.4,6l-3,1.2z"/>
<path color="#3c5388" d="M637.5,403l1.3,-7.9l5.5,-0.5l-1.3,7.9z"/>
<path color="#416b3d" d="M506.9,216.8l3,-4.9l2.2,-1.5l-3,5z"/>
<path color="#53793c" d="M411.5,377.1l4.2,-7.6l4.8,-1.1l-4.2,7.6z"/>
<path color="#3b527a" d="M568.1,456.4l2.2,-9l2.3,-0.6l-2.3,8.9z"/>
<path color="#456e67" d="M537.6,365.8l2.6,-8.4l2.4,18.3l-2.5,8.8z"/>
<path color="#4b7953" d="M523,246.4l2.8,-5.9l2.4,12.9l-2.8,6.3z"/>
<path color="#467140" d="M491,252.6l3.2,-5.5l2.1,-5.7l-3.2,5.4z"/>
<path color="#457042" d="M509.1,215.4l3,-5l2.2,-0.6l-3,5z"/>
<path color="#394f81" d="M614.2,416l1.7,-8.1l5.3,-1.4l-1.6,8.1z"/>
<path color="#47723f" d="M475.1,291.7l3.5,-6l2,-5.4l-3.4,5.9z"/>
<path color="#3f5993" d="M669.9,396.2l0.9,-7.9l7.4,1l-0.9,7.9z"/>
<path color="#4d7d54" d="M520.6,237.9l2.9,-5.8l2.3,8.4l-2.8,5.9z"/>
<path color="#47703e" d="M458,331.4l3.7,-6.8l4.6,-10l-3.6,6.5z"/>
<path color="#354977" d="M590.9,432.8l1.9,-8.3l5.3,-3l-1.9,8.2z"/>
<path color="#548a53" d="M511.3,214.8l3,-5l2.2,2.6l-2.9,5.2z"/>
<path color="#4f8053" d="M518.3,231.4l2.9,-5.6l2.3,6.3l-2.9,5.8z"/>
<path color="#364b73" d="M570.3,455.7l2.3,-8.9l2.2,-1.3l-2.2,8.8z"/>
<path color="#4f8152" d="M515.9,225.2l3,-5.5l2.3,6.1l-2.9,5.6z"/>
<path color="#4e804f" d="M513.6,217.6l2.9,-5.2l2.4,7.3l-3,5.5z"/>
<path color="#3d558b" d="M643,402.5l1.3,-7.9l5.4,-0.1l-1.2,8z"/>
<path color="#416537" d="M439.8,359.2l3.9,-7.4l4.8,-5l-3.9,7.3z"/>
<path color="#466f64" d="M535.1,347.4l2.6,-8.1l2.5,18.1l-2.6,8.4z"/>
<path color="#4f753c" d="M416.3,376l4.2,-7.6l4.8,-1.5l-4.1,7.6z"/>
<path color="#457040" d="M493.1,246.8l3.2,-5.4l2.1,-5.7l-3.2,5.4z"/>
<path color="#457140" d="M477.2,286.2l3.4,-5.9l2.1,-5.5l-3.4,5.9z"/>
<path color="#344872" d="M572.6,454.3l2.2,-8.8l2.3,-1.8l-2.2,8.8z"/>
<path color="#394f82" d="M619.6,414.6l1.6,-8.1l5.4,-1.3l-1.5,8.1z"/>
<path color="#3d558d" d="M648.5,402.5l1.2,-8l5.5,0.2l-1.2,8z"/>
<path color="#344773" d="M574.9,452.5l2.2,-8.8l2.3,-1.9l-2.2,8.7z"/>
<path color="#374c7c" d="M596.2,429.7l1.9,-8.2l5.3,-2.3l-1.8,8.3z"/>
<path color="#446f42" d="M495.2,241.1l3.2,-5.4l2.1,-5.3l-3.2,5.3z"/>
<path color="#467063" d="M532.5,329.4l2.8,-7.8l2.4,17.7l-2.6,8.1z"/>
<path color="#447041" d="M479.3,280.7l3.4,-5.9l2,-5.5l-3.4,5.8z"/>
<path color="#405a97" d="M692.7,394.9l0.3,-2.9l4.6,0.8z"/>
<path color="#49703b" d="M421.2,374.5l4.1,-7.6l4.8,-1.9l-4.1,7.6z"/>
<path color="#405a97" d="M684.8,398.3l0.7,-7.7l7.5,1.4l-0.3,2.9z"/>
<path color="#3c6136" d="M444.6,354.1l3.9,-7.3l4.7,-7.1l-3.8,7.1z"/>
<path color="#344874" d="M577.2,450.5l2.2,-8.7l2.3,-1.8l-2.2,8.7z"/>
<path color="#447040" d="M462.7,321.1l3.6,-6.5l4.7,-11.8l-3.5,6.4z"/>
<path color="#405a96" d="M677.3,397.2l0.9,-7.9l7.3,1.3l-0.7,7.7l-0.3,0.2z"/>
<path color="#395083" d="M625.1,413.3l1.5,-8.1l5.4,-1.3l-1.4,8.1z"/>
<path color="#47668b" d="M547.2,447l2.5,-9.9l2.3,7.2l-2.5,9.8z"/>
<path color="#496892" d="M549.5,454.1l2.5,-9.8l2.3,4.8l-2.4,9.7z"/>
<path color="#477262" d="M530.1,313.1l2.7,-7.5l2.5,16l-2.8,7.8z"/>
<path color="#436e43" d="M497.3,235.7l3.2,-5.3l2.1,-5l-3.2,5.2z"/>
<path color="#466686" d="M544.8,438l2.5,-9.9l2.4,9l-2.5,9.9z"/>
<path color="#4b6a99" d="M551.9,458.8l2.4,-9.7l2.3,3.3l-2.4,9.7z"/>
<path color="#446f42" d="M481.3,275.1l3.4,-5.8l2.1,-5.5l-3.4,5.8z"/>
<path color="#3e5790" d="M654,402.7l1.2,-8l7.3,0.6l-1,8z"/>
<path color="#344774" d="M579.5,448.7l2.2,-8.7l2.2,-1.8l-2,8.6z"/>
<path color="#466682" d="M542.4,427.5l2.6,-9.8l2.3,10.4l-2.5,9.9z"/>
<path color="#384d7f" d="M601.6,427.5l1.8,-8.3l5.4,-1.8l-1.7,8.3z"/>
<path color="#4c6a9f" d="M554.2,462.1l2.4,-9.7l2.3,2l-2.4,9.6z"/>
<path color="#477360" d="M527.6,297.6l2.8,-7.2l2.4,15.2l-2.7,7.5z"/>
<path color="#4b67a0" d="M556.5,464l2.4,-9.6l2.3,1.6l-2.4,9.5z"/>
<path color="#446b3b" d="M426,372.6l4.1,-7.6l4.9,-2.5l-4.1,7.5z"/>
<path color="#45667d" d="M539.9,412.9l2.6,-9.6l2.5,14.4l-2.6,9.8z"/>
<path color="#344774" d="M581.9,446.8l2,-8.6l1.6,-1.3l-2,8.6z"/>
<path color="#436d44" d="M499.4,230.6l3.2,-5.2l2.1,-5l-3.1,5.1z"/>
<path color="#446e44" d="M483.4,269.6l3.4,-5.8l2.1,-5.5l-3.4,5.7z"/>
<path color="#3a5185" d="M630.6,412l1.4,-8.1l5.5,-0.9l-1.4,8.1z"/>
<path color="#46609a" d="M558.8,465.5l2.4,-9.5l2.3,0.8l-2.4,9.5z"/>
<path color="#446f43" d="M467.5,309.2l3.5,-6.4l2.1,-5.5l-3.6,6.2z"/>
<path color="#3a5e37" d="M449.4,346.8l3.8,-7.1l4.8,-8.3l-3.8,6.9z"/>
<path color="#48735f" d="M525.1,282.2l2.8,-6.9l2.5,15.1l-2.8,7.2z"/>
<path color="#3e5488" d="M561.1,466.3l2.4,-9.5l2.3,0l-2.4,9.4z"/>
<path color="#394f81" d="M607.1,425.7l1.7,-8.3l5.4,-1.4l-1.7,8.3z"/>
<path color="#446679" d="M537.4,393.6l2.7,-9.1l2.4,18.8l-2.6,9.6z"/>
<path color="#416944" d="M501.6,225.5l3.1,-5.1l2.2,-3.6l-3.2,5z"/>
<path color="#3f5892" d="M661.5,403.3l1,-8l7.4,0.9l-1,8z"/>
<path color="#344774" d="M583.5,445.5l2,-8.6l5.4,-4.1l-2,8.5z"/>
<path color="#436e45" d="M485.5,264l3.4,-5.7l2.1,-5.7l-3.4,5.7z"/>
<path color="#446e44" d="M469.5,303.5l3.6,-6.2l2,-5.6l-3.5,6.2z"/>
<path color="#3a4f81" d="M563.4,466.2l2.4,-9.4l2.3,-0.4l-2.4,9.2z"/>
<path color="#3f6639" d="M430.9,370l4.1,-7.5l4.8,-3.3l-4,7.5z"/>
<path color="#48745d" d="M522.6,266.1l2.8,-6.4l2.5,15.6l-2.8,6.9z"/>
<path color="#3b5389" d="M636.1,411.1l1.4,-8.1l5.5,-0.5l-1.3,8.1z"/>
<path color="#406844" d="M503.7,221.8l3.2,-5l2.2,-1.4l-3.1,5z"/>
<path color="#3f5a96" d="M676.8,401.9l0.5,-4.7l7.2,1.3z"/>
<path color="#394f80" d="M565.7,465.6l2.4,-9.2l2.2,-0.7l-2.2,9.2z"/>
<path color="#446776" d="M534.9,374.4l2.7,-8.6l2.5,18.7l-2.7,9.1z"/>
<path color="#49755c" d="M520.1,252.5l2.9,-6.1l2.4,13.3l-2.8,6.4z"/>
<path color="#394f82" d="M612.5,424.3l1.7,-8.3l5.4,-1.4l-1.6,8.3z"/>
<path color="#436d47" d="M487.6,258.3l3.4,-5.7l2.1,-5.8l-3.4,5.6z"/>
<path color="#436d4a" d="M506,220.4l3.1,-5l2.2,-0.6l-3.1,5.1z"/>
<path color="#436e46" d="M471.6,297.9l3.5,-6.2l2.1,-5.5l-3.5,6.1z"/>
<path color="#4b795c" d="M517.7,243.7l2.9,-5.8l2.4,8.5l-2.9,6.1z"/>
<path color="#3f5994" d="M668.9,404.2l1,-8l7.4,1l-0.5,4.7l-5.7,2.7z"/>
<path color="#354977" d="M588.9,441.3l2,-8.5l5.3,-3.1l-1.9,8.5z"/>
<path color="#426c44" d="M454.2,338.3l3.8,-6.9l4.7,-10.3l-3.7,6.8z"/>
<path color="#354876" d="M568.1,464.9l2.2,-9.2l2.3,-1.4l-2.2,9.1z"/>
<path color="#4d7c5c" d="M515.3,237.2l3,-5.8l2.3,6.5l-2.9,5.8z"/>
<path color="#52855c" d="M508.2,219.9l3.1,-5.1l2.3,2.8l-3.1,5.2z"/>
<path color="#4d7d5b" d="M512.9,230.8l3,-5.6l2.4,6.2l-3,5.8z"/>
<path color="#4c7b57" d="M510.5,222.8l3.1,-5.2l2.3,7.6l-3,5.6z"/>
<path color="#3c548c" d="M641.7,410.6l1.3,-8.1l5.5,0l-1.2,8.1z"/>
<path color="#3b613a" d="M435.8,366.7l4,-7.5l4.8,-5.1l-4,7.4z"/>
<path color="#456973" d="M532.3,355.6l2.8,-8.2l2.5,18.4l-2.7,8.6z"/>
<path color="#436d48" d="M489.7,252.4l3.4,-5.6l2.1,-5.7l-3.3,5.4z"/>
<path color="#436d47" d="M473.7,292.3l3.5,-6.1l2.1,-5.5l-3.6,6z"/>
<path color="#344774" d="M570.4,463.4l2.2,-9.1l2.3,-1.8l-2.2,8.9z"/>
<path color="#394f82" d="M618,422.9l1.6,-8.3l5.5,-1.3l-1.6,8.3z"/>
<path color="#3d558e" d="M647.3,410.6l1.2,-8.1l5.5,0.2l-1.1,8.2z"/>
<path color="#334774" d="M572.7,461.4l2.2,-8.9l2.3,-2l-2.2,8.9z"/>
<path color="#374c7c" d="M594.3,438.2l1.9,-8.5l5.4,-2.2l-1.9,8.5z"/>
<path color="#456a70" d="M529.8,337.3l2.7,-7.9l2.6,18l-2.8,8.2z"/>
<path color="#426b49" d="M491.9,246.5l3.3,-5.4l2.1,-5.4l-3.3,5.4z"/>
<path color="#436c48" d="M475.7,286.7l3.6,-6l2,-5.6l-3.5,6z"/>
<path color="#344775" d="M575,459.4l2.2,-8.9l2.3,-1.8l-2.1,8.8z"/>
<path color="#395d3b" d="M440.6,361.5l4,-7.4l4.8,-7.3l-3.9,7.3z"/>
<path color="#426c48" d="M459,327.9l3.7,-6.8l4.8,-11.9l-3.7,6.6z"/>
<path color="#465f9a" d="M544.6,457.1l2.6,-10.1l2.3,7.1l-2.5,10.1z"/>
<path color="#394f83" d="M623.5,421.6l1.6,-8.3l5.5,-1.3l-1.5,8.3z"/>
<path color="#4863a0" d="M547,464.2l2.5,-10.1l2.4,4.7l-2.6,10z"/>
<path color="#456c6e" d="M527.2,320.7l2.9,-7.6l2.4,16.3l-2.7,7.9z"/>
<path color="#455f95" d="M542.2,448.1l2.6,-10.1l2.4,9l-2.6,10.1z"/>
<path color="#4a65a5" d="M549.3,468.8l2.6,-10l2.3,3.3l-2.5,9.9z"/>
<path color="#416a4a" d="M494,241.1l3.3,-5.4l2.1,-5.1l-3.2,5.4z"/>
<path color="#3e5894" d="M668.8,405.7l0.1,-1.5l2.2,0.4z"/>
<path color="#426c4a" d="M477.8,281.1l3.5,-6l2.1,-5.5l-3.4,5.9z"/>
<path color="#455f91" d="M539.7,437.6l2.7,-10.1l2.4,10.5l-2.6,10.1z"/>
<path color="#3e5893" d="M660.6,409.7l0.9,-6.4l7.4,0.9l-0.1,1.5z"/>
<path color="#334774" d="M577.4,457.5l2.1,-8.8l2.4,-1.9l-2.2,8.9z"/>
<path color="#4a66a7" d="M551.7,472l2.5,-9.9l2.3,1.9l-2.5,9.9z"/>
<path color="#384d80" d="M599.7,436l1.9,-8.5l5.5,-1.8l-1.9,8.5z"/>
<path color="#3d5791" d="M652.9,410.9l1.1,-8.2l7.5,0.6l-0.9,6.4l-3,1.6z"/>
<path color="#4964a4" d="M554,473.9l2.5,-9.9l2.3,1.5l-2.4,9.8z"/>
<path color="#466d6b" d="M524.7,305l2.9,-7.4l2.5,15.5l-2.9,7.6z"/>
<path color="#445f8c" d="M537.2,422.7l2.7,-9.8l2.5,14.6l-2.7,10.1z"/>
<path color="#334774" d="M579.7,455.7l2.2,-8.9l1.6,-1.3l-2.2,8.8z"/>
<path color="#416a4c" d="M496.2,236l3.2,-5.4l2.2,-5.1l-3.3,5.3z"/>
<path color="#395086" d="M629.1,420.3l1.5,-8.3l5.5,-0.9l-1.4,8.3z"/>
<path color="#426b4b" d="M480,275.5l3.4,-5.9l2.1,-5.6l-3.4,5.8z"/>
<path color="#445e99" d="M556.4,475.3l2.4,-9.8l2.3,0.8l-2.4,9.6z"/>
<path color="#426c4a" d="M463.8,315.8l3.7,-6.6l2,-5.7l-3.7,6.5z"/>
<path color="#466f69" d="M522.2,289.3l2.9,-7.1l2.5,15.4l-2.9,7.4z"/>
<path color="#385b3e" d="M445.5,354.1l3.9,-7.3l4.8,-8.5l-3.9,7.2z"/>
<path color="#3c5387" d="M558.7,475.9l2.4,-9.6l2.3,-0.1l-2.4,9.6z"/>
<path color="#435f88" d="M534.7,403l2.7,-9.4l2.5,19.3l-2.7,9.8z"/>
<path color="#384e82" d="M605.2,434.2l1.9,-8.5l5.4,-1.4l-1.7,8.5z"/>
<path color="#3f664b" d="M498.3,230.8l3.3,-5.3l2.1,-3.7l-3.2,5.2z"/>
<path color="#334775" d="M581.3,454.3l2.2,-8.8l5.4,-4.2l-2.1,8.8z"/>
<path color="#426a4d" d="M482.1,269.8l3.4,-5.8l2.1,-5.7l-3.4,5.8z"/>
<path color="#394e80" d="M561,475.8l2.4,-9.6l2.3,-0.6l-2.3,9.5z"/>
<path color="#426b4c" d="M465.8,310l3.7,-6.5l2.1,-5.6l-3.7,6.3z"/>
<path color="#467065" d="M519.6,272.7l3,-6.6l2.5,16.1l-2.9,7.1z"/>
<path color="#3b5289" d="M634.7,419.4l1.4,-8.3l5.6,-0.5l-1.4,8.4z"/>
<path color="#3e654c" d="M500.5,227l3.2,-5.2l2.3,-1.4l-3.2,5.3z"/>
<path color="#436185" d="M532.1,383.3l2.8,-8.9l2.5,19.2l-2.7,9.4z"/>
<path color="#384e7f" d="M563.4,475.1l2.3,-9.5l2.4,-0.7l-2.4,9.4z"/>
<path color="#477164" d="M517.1,258.7l3,-6.2l2.5,13.6l-3,6.6z"/>
<path color="#384f83" d="M610.8,432.8l1.7,-8.5l5.5,-1.4l-1.7,8.6z"/>
<path color="#416a4e" d="M484.2,264.1l3.4,-5.8l2.1,-5.9l-3.4,5.7z"/>
<path color="#426a52" d="M502.8,225.7l3.2,-5.3l2.2,-0.5l-3.2,5.3z"/>
<path color="#416a4d" d="M467.9,304.2l3.7,-6.3l2.1,-5.6l-3.7,6.3z"/>
<path color="#497565" d="M514.6,249.8l3.1,-6.1l2.4,8.8l-3,6.2z"/>
<path color="#344876" d="M565.7,474.3l2.4,-9.4l2.3,-1.5l-2.3,9.3z"/>
<path color="#344978" d="M586.8,450.1l2.1,-8.8l5.4,-3.1l-2,8.7z"/>
<path color="#41694b" d="M450.3,345.5l3.9,-7.2l4.8,-10.4l-3.9,7z"/>
<path color="#4a7765" d="M512.2,243.1l3.1,-5.9l2.4,6.5l-3.1,6.1z"/>
<path color="#3d5690" d="M652.4,414l0.5,-3.1l4.7,0.4z"/>
<path color="#4b7964" d="M509.8,236.6l3.1,-5.8l2.4,6.4l-3.1,5.9z"/>
<path color="#508165" d="M505,225.2l3.2,-5.3l2.3,2.9l-3.1,5.5z"/>
<path color="#4a7760" d="M507.4,228.3l3.1,-5.5l2.4,8l-3.1,5.8z"/>
<path color="#3c558e" d="M646.2,417.5l1.1,-6.9l5.6,0.3l-0.5,3.1z"/>
<path color="#446282" d="M529.5,364.1l2.8,-8.5l2.6,18.8l-2.8,8.9z"/>
<path color="#3c548d" d="M640.3,419l1.4,-8.4l5.6,0l-1.1,6.9l-2.4,1.4z"/>
<path color="#416950" d="M486.3,258.1l3.4,-5.7l2.2,-5.9l-3.4,5.7z"/>
<path color="#334774" d="M568.1,472.7l2.3,-9.3l2.3,-2l-2.3,9.3z"/>
<path color="#41694f" d="M470,298.6l3.7,-6.3l2,-5.6l-3.6,6.2z"/>
<path color="#384f83" d="M616.3,431.5l1.7,-8.6l5.5,-1.3l-1.6,8.5z"/>
<path color="#334674" d="M570.4,470.7l2.3,-9.3l2.3,-2l-2.2,9.1z"/>
<path color="#44637f" d="M526.9,345.5l2.9,-8.2l2.5,18.3l-2.8,8.5z"/>
<path color="#364c7d" d="M592.3,446.9l2,-8.7l5.4,-2.2l-1.9,8.7z"/>
<path color="#406851" d="M488.5,252.2l3.4,-5.7l2.1,-5.4l-3.4,5.6z"/>
<path color="#416950" d="M472.1,292.9l3.6,-6.2l2.1,-5.6l-3.5,6.1z"/>
<path color="#334775" d="M572.8,468.5l2.2,-9.1l2.4,-1.9l-2.3,9.2z"/>
<path color="#455f9b" d="M541.9,467.5l2.7,-10.4l2.4,7.1l-2.7,10.4z"/>
<path color="#41694f" d="M455.1,334.9l3.9,-7l4.8,-12.1l-3.8,6.7z"/>
<path color="#4763a1" d="M544.3,474.6l2.7,-10.4l2.3,4.6l-2.6,10.3z"/>
<path color="#384f84" d="M621.9,430.1l1.6,-8.5l5.6,-1.3l-1.5,8.6z"/>
<path color="#445e99" d="M539.5,458.6l2.7,-10.5l2.4,9l-2.7,10.4z"/>
<path color="#44657d" d="M524.3,328.6l2.9,-7.9l2.6,16.6l-2.9,8.2z"/>
<path color="#4965a6" d="M546.7,479.1l2.6,-10.3l2.4,3.2l-2.6,10.2z"/>
<path color="#406751" d="M490.6,246.7l3.4,-5.6l2.2,-5.1l-3.4,5.5z"/>
<path color="#445d98" d="M537,448l2.7,-10.4l2.5,10.5l-2.7,10.5z"/>
<path color="#406851" d="M474.3,287.2l3.5,-6.1l2.2,-5.6l-3.6,6.1z"/>
<path color="#4a66a7" d="M549.1,482.2l2.6,-10.2l2.3,1.9l-2.5,10.1z"/>
<path color="#334775" d="M575.1,466.7l2.3,-9.2l2.3,-1.8l-2.2,9z"/>
<path color="#374d80" d="M597.8,444.7l1.9,-8.7l5.5,-1.8l-1.8,8.8z"/>
<path color="#435c95" d="M534.5,432.8l2.7,-10.1l2.5,14.9l-2.7,10.4z"/>
<path color="#4864a4" d="M551.5,484l2.5,-10.1l2.4,1.4l-2.5,10z"/>
<path color="#45667a" d="M521.8,312.6l2.9,-7.6l2.5,15.7l-2.9,7.9z"/>
<path color="#3b548c" d="M640,421.3l0.3,-2.3l3.5,-0.1z"/>
<path color="#334775" d="M577.5,464.7l2.2,-9l1.6,-1.4l-2.1,9.1z"/>
<path color="#3a528a" d="M633.7,425.6l1,-6.2l5.6,-0.4l-0.3,2.3z"/>
<path color="#3f6653" d="M492.8,241.5l3.4,-5.5l2.1,-5.2l-3.3,5.4z"/>
<path color="#425c98" d="M553.9,485.3l2.5,-10l2.3,0.6l-2.5,10z"/>
<path color="#406753" d="M476.4,281.6l3.6,-6.1l2.1,-5.7l-3.6,6z"/>
<path color="#406852" d="M460,322.5l3.8,-6.7l2,-5.8l-3.7,6.6z"/>
<path color="#395086" d="M627.6,428.9l1.5,-8.6l5.6,-0.9l-1,6.2l-3.9,2.9z"/>
<path color="#456878" d="M519.2,296.6l3,-7.3l2.5,15.7l-2.9,7.6z"/>
<path color="#425a93" d="M531.8,412.5l2.9,-9.5l2.5,19.7l-2.7,10.1z"/>
<path color="#3b5286" d="M556.2,485.9l2.5,-10l2.3,-0.1l-2.4,9.8z"/>
<path color="#384e82" d="M603.4,443l1.8,-8.8l5.6,-1.4l-1.8,8.7z"/>
<path color="#3d6352" d="M495,236.2l3.3,-5.4l2.2,-3.8l-3.3,5.3z"/>
<path color="#334775" d="M579.2,463.4l2.1,-9.1l5.5,-4.2l-2.1,8.9z"/>
<path color="#406754" d="M478.5,275.8l3.6,-6l2.1,-5.7l-3.5,5.9z"/>
<path color="#384d7f" d="M558.6,485.6l2.4,-9.8l2.4,-0.7l-2.4,9.8z"/>
<path color="#456974" d="M516.6,279.6l3,-6.9l2.6,16.6l-3,7.3z"/>
<path color="#406753" d="M462.1,316.6l3.7,-6.6l2.1,-5.8l-3.7,6.5z"/>
<path color="#3d6254" d="M497.2,232.3l3.3,-5.3l2.3,-1.3l-3.3,5.3z"/>
<path color="#425a93" d="M529.2,392.4l2.9,-9.1l2.6,19.7l-2.9,9.5z"/>
<path color="#374d7f" d="M561,484.9l2.4,-9.8l2.3,-0.8l-2.4,9.7z"/>
<path color="#456b72" d="M514,265.1l3.1,-6.4l2.5,14l-3,6.9z"/>
<path color="#384f83" d="M609,441.5l1.8,-8.7l5.5,-1.3l-1.7,8.7z"/>
<path color="#406656" d="M480.7,270l3.5,-5.9l2.1,-6l-3.5,5.9z"/>
<path color="#40675a" d="M499.5,231l3.3,-5.3l2.2,-0.5l-3.2,5.4z"/>
<path color="#406655" d="M464.2,310.7l3.7,-6.5l2.1,-5.6l-3.7,6.4z"/>
<path color="#476f72" d="M511.5,256l3.1,-6.2l2.5,8.9l-3.1,6.4z"/>
<path color="#334776" d="M563.3,484l2.4,-9.7l2.4,-1.6l-2.4,9.6z"/>
<path color="#344878" d="M584.7,459l2.1,-8.9l5.5,-3.2l-2.1,8.9z"/>
<path color="#497271" d="M509.1,249.1l3.1,-6l2.4,6.7l-3.1,6.2z"/>
<path color="#49736f" d="M506.6,242.5l3.2,-5.9l2.4,6.5l-3.1,6z"/>
<path color="#4d7c6f" d="M501.8,230.6l3.2,-5.4l2.4,3.1l-3.2,5.6z"/>
<path color="#487269" d="M504.2,233.9l3.2,-5.6l2.4,8.3l-3.2,5.9z"/>
<path color="#435b91" d="M526.6,372.8l2.9,-8.7l2.6,19.2l-2.9,9.1z"/>
<path color="#385085" d="M627.3,430.4l0.3,-1.5l2.2,-0.4z"/>
<path color="#384f84" d="M620.9,435.6l1,-5.5l5.7,-1.2l-0.3,1.5z"/>
<path color="#324674" d="M565.7,482.3l2.4,-9.6l2.3,-2l-2.3,9.5z"/>
<path color="#3f6557" d="M482.8,264l3.5,-5.9l2.2,-5.9l-3.5,5.8z"/>
<path color="#3f6656" d="M466.3,305l3.7,-6.4l2.1,-5.7l-3.7,6.4z"/>
<path color="#384f83" d="M614.6,440.2l1.7,-8.7l5.6,-1.4l-1,5.5l-5.3,4.4z"/>
<path color="#435d8e" d="M524,353.9l2.9,-8.4l2.6,18.6l-2.9,8.7z"/>
<path color="#324674" d="M568.1,480.2l2.3,-9.5l2.4,-2.2l-2.3,9.5z"/>
<path color="#364b7e" d="M590.2,455.8l2.1,-8.9l5.5,-2.2l-2,8.9z"/>
<path color="#3f6458" d="M485,258l3.5,-5.8l2.1,-5.5l-3.4,5.7z"/>
<path color="#3f6557" d="M468.4,299.3l3.7,-6.4l2.2,-5.7l-3.7,6.4z"/>
<path color="#445f9c" d="M539.2,478.1l2.7,-10.6l2.4,7.1l-2.7,10.6z"/>
<path color="#334776" d="M570.5,478l2.3,-9.5l2.3,-1.8l-2.2,9.3z"/>
<path color="#4763a2" d="M541.6,485.2l2.7,-10.6l2.4,4.5l-2.6,10.5z"/>
<path color="#445e9a" d="M536.7,469.2l2.8,-10.6l2.4,8.9l-2.7,10.6z"/>
<path color="#435e8c" d="M521.3,336.7l3,-8.1l2.6,16.9l-2.9,8.4z"/>
<path color="#4965a7" d="M544.1,489.6l2.6,-10.5l2.4,3.1l-2.6,10.5z"/>
<path color="#435d98" d="M534.2,458.6l2.8,-10.6l2.5,10.6l-2.8,10.6z"/>
<path color="#3e6359" d="M487.2,252.4l3.4,-5.7l2.2,-5.2l-3.4,5.6z"/>
<path color="#4965a7" d="M546.5,492.7l2.6,-10.5l2.4,1.8l-2.6,10.3z"/>
<path color="#3f6459" d="M470.6,293.6l3.7,-6.4l2.1,-5.6l-3.7,6.2z"/>
<path color="#324775" d="M572.9,476l2.2,-9.3l2.4,-2l-2.2,9.4z"/>
<path color="#425b96" d="M531.6,443.2l2.9,-10.4l2.5,15.2l-2.8,10.6z"/>
<path color="#4763a3" d="M548.9,494.3l2.6,-10.3l2.4,1.3l-2.6,10.3z"/>
<path color="#44608a" d="M518.7,320.4l3.1,-7.8l2.5,16l-3,8.1z"/>
<path color="#324675" d="M575.3,474.1l2.2,-9.4l1.7,-1.3l-2.3,9.3z"/>
<path color="#374e83" d="M601.5,451.7l1.9,-8.7l5.6,-1.5l-1,4.7z"/>
<path color="#384f84" d="M614.5,440.9l0.1,-0.7l1,-0.2z"/>
<path color="#384f84" d="M608,446.2l1,-4.7l5.6,-1.3l-0.1,0.7z"/>
<path color="#415a96" d="M551.3,495.6l2.6,-10.3l2.3,0.6l-2.5,10.2z"/>
<path color="#3e625c" d="M489.4,247.1l3.4,-5.6l2.2,-5.3l-3.4,5.5z"/>
<path color="#374d81" d="M595.8,453.6l2,-8.9l5.6,-1.7l-1.9,8.7l-0.3,0.3z"/>
<path color="#3e645b" d="M472.7,287.8l3.7,-6.2l2.1,-5.8l-3.6,6.2z"/>
<path color="#446187" d="M516.1,304l3.1,-7.4l2.6,16l-3.1,7.8z"/>
<path color="#415a94" d="M529,422.4l2.8,-9.9l2.7,20.3l-2.9,10.4z"/>
<path color="#3a5085" d="M553.7,496.1l2.5,-10.2l2.4,-0.3l-2.5,10.1z"/>
<path color="#324776" d="M576.9,472.7l2.3,-9.3l5.5,-4.4l-2.2,9.2z"/>
<path color="#3c5e5c" d="M491.6,241.7l3.4,-5.5l2.2,-3.9l-3.4,5.5z"/>
<path color="#374c7f" d="M556.1,495.7l2.5,-10.1l2.4,-0.7l-2.5,10z"/>
<path color="#3e625d" d="M474.9,282l3.6,-6.2l2.2,-5.8l-3.7,6.1z"/>
<path color="#446283" d="M513.5,286.5l3.1,-6.9l2.6,17l-3.1,7.4z"/>
<path color="#415a94" d="M526.3,401.7l2.9,-9.3l2.6,20.1l-2.8,9.9z"/>
<path color="#3c5e5f" d="M493.8,237.8l3.4,-5.5l2.3,-1.3l-3.4,5.5z"/>
<path color="#364c7e" d="M558.5,494.9l2.5,-10l2.3,-0.9l-2.4,9.9z"/>
<path color="#446481" d="M510.9,271.7l3.1,-6.6l2.6,14.5l-3.1,6.9z"/>
<path color="#3e6260" d="M477,276.1l3.7,-6.1l2.1,-6l-3.6,6z"/>
<path color="#3f6266" d="M496.1,236.5l3.4,-5.5l2.3,-0.4l-3.3,5.6z"/>
<path color="#466782" d="M508.3,262.4l3.2,-6.4l2.5,9.1l-3.1,6.6z"/>
<path color="#334776" d="M560.9,493.9l2.4,-9.9l2.4,-1.7l-2.4,9.8z"/>
<path color="#486b81" d="M505.9,255.4l3.2,-6.3l2.4,6.9l-3.2,6.4z"/>
<path color="#486c7e" d="M503.4,248.6l3.2,-6.1l2.5,6.6l-3.2,6.3z"/>
<path color="#4c747e" d="M498.5,236.2l3.3,-5.6l2.4,3.3l-3.3,5.7z"/>
<path color="#476b79" d="M500.9,239.6l3.3,-5.7l2.4,8.6l-3.2,6.1z"/>
<path color="#425a94" d="M523.6,381.7l3,-8.9l2.6,19.6l-2.9,9.3z"/>
<path color="#354b7e" d="M588.4,463.9l1.8,-8.1l5.6,-2.2l-0.8,3.9z"/>
<path color="#364d81" d="M595,457.5l0.8,-3.9l5.4,-1.6z"/>
<path color="#334879" d="M582.5,468.2l2.2,-9.2l5.5,-3.2l-1.8,8.1l-1.8,1.9z"/>
<path color="#324675" d="M563.3,492.1l2.4,-9.8l2.4,-2.1l-2.4,9.7z"/>
<path color="#3e6062" d="M479.2,270l3.6,-6l2.2,-6l-3.6,5.9z"/>
<path color="#425a94" d="M520.9,362.5l3.1,-8.6l2.6,18.9l-3,8.9z"/>
<path color="#324675" d="M565.7,489.9l2.4,-9.7l2.4,-2.2l-2.4,9.7z"/>
<path color="#3d5f64" d="M481.4,263.9l3.6,-5.9l2.2,-5.6l-3.6,5.9z"/>
<path color="#324776" d="M568.1,487.7l2.4,-9.7l2.4,-2l-2.4,9.7z"/>
<path color="#425b94" d="M518.3,345.1l3,-8.4l2.7,17.2l-3.1,8.6z"/>
<path color="#3d5d66" d="M483.6,258.3l3.6,-5.9l2.2,-5.3l-3.6,5.8z"/>
<path color="#324676" d="M573.1,482.8l2.2,-8.7l1.6,-1.4l-1.8,7.3z"/>
<path color="#435b94" d="M515.6,328.5l3.1,-8.1l2.6,16.3l-3,8.4z"/>
<path color="#324776" d="M575.1,480l1.8,-7.3l5.6,-4.5l-0.7,3.1z"/>
<path color="#324777" d="M581.8,471.3l0.7,-3.1l4.1,-2.4z"/>
<path color="#324676" d="M570.5,485.7l2.4,-9.7l2.4,-1.9l-2.2,8.7l-1.3,1.8z"/>
<path color="#3d5c69" d="M485.8,252.9l3.6,-5.8l2.2,-5.4l-3.5,5.7z"/>
<path color="#435b94" d="M513,311.7l3.1,-7.7l2.6,16.4l-3.1,8.1z"/>
<path color="#3b5969" d="M488.1,247.4l3.5,-5.7l2.2,-3.9l-3.5,5.6z"/>
<path color="#435b92" d="M510.3,293.7l3.2,-7.2l2.6,17.5l-3.1,7.7z"/>
<path color="#3c596c" d="M490.3,243.4l3.5,-5.6l2.3,-1.3l-3.4,5.7z"/>
<path color="#435d90" d="M507.6,278.5l3.3,-6.8l2.6,14.8l-3.2,7.2z"/>
<path color="#3f5c75" d="M492.7,242.2l3.4,-5.7l2.4,-0.3l-3.5,5.7z"/>
<path color="#456091" d="M505.1,268.9l3.2,-6.5l2.6,9.3l-3.3,6.8z"/>
<path color="#476391" d="M502.5,261.8l3.4,-6.4l2.4,7l-3.2,6.5z"/>
<path color="#47658e" d="M500,254.8l3.4,-6.2l2.5,6.8l-3.4,6.4z"/>
<path color="#4b6d8f" d="M495,241.9l3.5,-5.7l2.4,3.4l-3.4,5.9z"/>
<path color="#466488" d="M497.5,245.5l3.4,-5.9l2.5,9l-3.4,6.2z"/>
</g>
<filter id="sbl" x="-0.02" y="-0.02" width="1.04" height="1.04"><feGaussianBlur stdDeviation="2.2"/></filter>
<filter id="swh" x="0" y="0" width="1" height="1"><feColorMatrix type="matrix" values="0 0 0 0 1  0 0 0 0 1  0 0 0 0 1  0 0 0 1 0"/></filter>
<mask id="sm" maskUnits="userSpaceOnUse" x="100" y="60" width="900" height="500"><use href="#sf" filter="url(#swh)"/></mask>
<g mask="url(#sm)"><use href="#sf" filter="url(#sbl)"/></g>
<path d="M565.9,122L563.9,125L561.4,128L559.9,131L557.9,134L555.9,137L554.4,140L552.4,143L550.4,146L548.4,149L546.9,152L544.9,155L543.4,158L540.9,161L539.4,164L537.4,167L535.9,170L533.9,173L531.9,176L530.4,179L528.4,182L526.4,185L524.9,188L522.9,191L520.9,194L518.9,197L517.4,200L515.4,203L513.4,206L511.4,209L509.4,212L507.9,215L505.9,218L504.4,221" stroke="#1a1a10" stroke-width="1.2" fill="none" stroke-linejoin="round"/>
<path d="M442.4,249.2L400.7,260.7M400.7,260.7L357.1,271.7M743.1,268.3L738.1,267.5M738.1,267.5L738.1,267.5M748.2,269.2L743.1,268.3M753.2,270.2L748.2,269.2M758.3,271.1L753.2,270.2M763.4,272.1L758.3,271.1M357.1,271.7L311.6,283M768.5,273L763.4,272.1M773.7,274L768.5,273M784.1,276L778.9,275M778.9,275L773.7,274M789.3,277L784.1,276M794.5,277.9L789.3,277M799.8,278.9L794.5,277.9M805.1,279.9L799.8,278.9M311.6,283L264,294.7M810.4,281L805.1,279.9M821.1,283L815.7,282M815.7,282L810.4,281M826.4,284L821.1,283M831.8,285L826.4,284M837.3,286.1L831.8,285M842.7,287.1L837.3,286.1M848.2,288.2L842.7,287.1M853.7,289.2L848.2,288.2M864.8,291.3L859.2,290.3M859.2,290.3L853.7,289.2M264,294.7L214.1,306.9M870.3,292.4L864.8,291.3M875.9,293.4L870.3,292.4M881.6,294.5L875.9,293.4M887.2,295.6L881.6,294.5M892.9,296.7L887.2,295.6M898.6,297.8L892.9,296.7M904.3,298.9L898.6,297.8M910.1,300L904.3,298.9M915.8,301.1L910.1,300M921.6,302.2L915.8,301.1M214.1,306.9L161.8,319.7M161.8,319.7L166,320.9M166,320.9L170.2,322.1M927.5,303.3L921.6,302.2M170.2,322.1L174.4,323.3M898.2,317.2L933.3,304.4M933.3,304.4L927.5,303.3M174.4,323.3L178.7,324.5M178.7,324.5L182.9,325.7M182.9,325.7L187.2,326.9M187.2,326.9L191.5,328.1M191.5,328.1L195.8,329.3M195.8,329.3L200.1,330.5M200.1,330.5L204.5,331.8M204.5,331.8L208.8,333M208.8,333L213.2,334.3M213.2,334.3L217.7,335.5M861.3,330.7L898.2,317.2M217.7,335.5L222.1,336.7M222.1,336.7L226.6,338M226.6,338L231,339.3M231,339.3L235.5,340.5M235.5,340.5L240.1,341.8M240.1,341.8L244.6,343.1M249.2,344.4L253.8,345.7M244.6,343.1L249.2,344.4M253.8,345.7L258.4,347M258.4,347L263,348.3M822.5,344.9L861.3,330.7M263,348.3L267.7,349.6M267.7,349.6L272.4,350.9M272.4,350.9L277.1,352.2M277.1,352.2L281.8,353.5M286.6,354.9L291.3,356.2M281.8,353.5L286.6,354.9M291.3,356.2L296.1,357.5M296.1,357.5L301,358.8M301,358.8L305.8,360.1M781.7,360L822.5,344.9M305.8,360.1L310.7,361.5M310.7,361.5L315.6,362.8M315.6,362.8L320.5,364.1M325.5,365.4L330.4,366.7M320.5,364.1L325.5,365.4M330.4,366.7L335.4,368M335.4,368L340.4,369.2M340.4,369.2L345.5,370.4M738.7,376.2L781.7,360M345.5,370.4L350.6,371.6M350.6,371.6L355.6,372.8M355.6,372.8L360.8,373.8M365.9,374.8L365.9,374.8M360.8,373.8L365.9,374.8M500.6,224.9L504.6,222.2M495.8,227.9L500.6,224.9M493.9,229L495.8,227.9M489.3,231.5L493.9,229M483,234.5L489.3,231.5M601.7,261.6L603.5,266.5M603.5,266.5L605.2,270.4M600,255.3L601.7,261.6M605.2,270.4L607,273.4M598.2,247.5L600,255.3M607,273.4L608.7,276M608.7,276L610.4,277.8M596.5,237.8L598.2,247.5M610.4,277.8L612.2,279.1M594.7,228.4L596.5,237.8M612.2,279.1L613.9,280.1M613.9,280.1L615.7,280.7M593,218.9L594.7,228.4M615.7,280.7L617.4,280.6M482.7,234.6L483,234.5M591.2,209.7L593,218.9M476.1,237.5L482.7,234.6M559.8,132.4L561.5,128.7M472,239.2L476.1,237.5M617.4,280.6L619.2,279.9M589.5,200.2L591.2,209.7M561.5,128.7L563.2,125.5M619.2,279.9L621,279M587.7,189.2L589.5,200.2M621,279L622.7,278.2M563.2,125.5L564.9,123.3M585.9,177L587.7,189.2M622.7,278.2L624,277.4M564.9,123.3L566.6,121.3M584.1,166.2L585.9,177M469.5,240.2L472,239.2M624,277.4L628.1,274.9M566.6,121.3L568.3,119.8M582.4,156L584.1,166.2M462.8,242.7L469.5,240.2M460.8,243.3L462.8,242.7M568.3,119.8L570,119.4M580.6,147L582.4,156M578.8,139.8L580.6,147M570,119.4L571.8,121.2M571.8,121.2L573.5,124.7M577,133.6L578.8,139.8M573.5,124.7L575.3,128.7M575.3,128.7L577,133.6M628.1,274.9L632.2,272.6M632.2,272.6L636.3,270.3M456,244.9L460.8,243.3M449.5,247L456,244.9M636.3,270.3L640.5,268.3M640.5,268.3L644.7,266.5M449.2,247.1L449.5,247M442.4,249.2L449.2,247.1M644.7,266.5L648.9,265M648.9,265L653.1,263.6M653.1,263.6L657.3,262.5M657.3,262.5L661.6,261.6M661.6,261.6L665.8,260.8M665.8,260.8L670.1,260.4M670.1,260.4L674.4,260.2M674.4,260.2L680.2,260.2M680.2,260.2L685.9,260.3M685.9,260.3L691.7,260.6M691.7,260.6L697.6,261.1M697.6,261.1L703.4,261.8M703.4,261.8L709.3,262.6M709.3,262.6L715.3,263.6M715.3,263.6L721.2,264.6M721.2,264.6L727.2,265.6M727.2,265.6L733.2,266.6M733.2,266.6L739.2,267.7M367.1,375.1L360.9,373.9M373.3,376.1L367.1,375.1M738.7,376.2L735.9,377.3M379.6,377.1L373.3,376.1M385.9,377.9L379.6,377.1M735.9,377.3L731.2,379.2M731.2,379.2L723.7,382.2M723.7,382.2L723.4,382.3M392.3,378.3L385.9,377.9M398.6,378.5L392.3,378.3M723.4,382.3L716,385.2M716,385.2L710.6,387.5M405,378.1L398.6,378.5M411.5,377.1L405,378.1M710.6,387.5L708.3,388.4M708.3,388.4L700.6,391.6M700.6,391.6L697.6,392.8M416.3,376L411.5,377.1M421.2,374.5L416.3,376M697.6,392.8L692.7,394.9M426,372.6L421.2,374.5M692.7,394.9L684.8,398.3M684.8,398.3L684.5,398.5M430.9,370L426,372.6M435.8,366.7L430.9,370M684.5,398.5L676.8,401.9M676.8,401.9L671.1,404.6M440.6,361.5L435.8,366.7M445.5,354.1L440.6,361.5M671.1,404.6L668.8,405.7M668.8,405.7L660.6,409.7M660.6,409.7L657.6,411.3M450.3,345.5L445.5,354.1M455.1,334.9L450.3,345.5M657.6,411.3L652.4,414M652.4,414L646.2,417.5M646.2,417.5L643.8,418.9M460,322.5L455.1,334.9M643.8,418.9L640,421.3M640,421.3L633.7,425.6M462.1,316.6L460,322.5M633.7,425.6L629.8,428.5M464.2,310.7L462.1,316.6M466.3,305L464.2,310.7M629.8,428.5L627.3,430.4M627.3,430.4L620.9,435.6M468.4,299.3L466.3,305M620.9,435.6L615.6,440M470.6,293.6L468.4,299.3M541.6,485.2L539.2,478.1M544.1,489.6L541.6,485.2M539.2,478.1L536.7,469.2M546.5,492.7L544.1,489.6M536.7,469.2L534.2,458.6M548.9,494.3L546.5,492.7M472.7,287.8L470.6,293.6M534.2,458.6L531.6,443.2M551.3,495.6L548.9,494.3M608,446.2L601.5,451.7M615.6,440L614.5,440.9M614.5,440.9L608,446.2M553.7,496.1L551.3,495.6M601.5,451.7L601.2,452M474.9,282L472.7,287.8M531.6,443.2L529,422.4M556.1,495.7L553.7,496.1M558.5,494.9L556.1,495.7M477,276.1L474.9,282M529,422.4L526.3,401.7M560.9,493.9L558.5,494.9M479.2,270L477,276.1M563.3,492.1L560.9,493.9M526.3,401.7L523.6,381.7M595,457.5L588.4,463.9M601.2,452L595,457.5M588.4,463.9L586.6,465.8M565.7,489.9L563.3,492.1M481.4,263.9L479.2,270M523.6,381.7L520.9,362.5M568.1,487.7L565.7,489.9M483.6,258.3L481.4,263.9M570.5,485.7L568.1,487.7M520.9,362.5L518.3,345.1M485.8,252.9L483.6,258.3M575.1,480L573.1,482.8M518.3,345.1L515.6,328.5M581.8,471.3L575.1,480M586.6,465.8L581.8,471.3M573.1,482.8L571.8,484.6M571.8,484.6L570.5,485.7M488.1,247.4L485.8,252.9M515.6,328.5L513,311.7M490.3,243.4L488.1,247.4M513,311.7L510.3,293.7M492.7,242.2L490.3,243.4M510.3,293.7L507.6,278.5M495,241.9L492.7,242.2M507.6,278.5L505.1,268.9M505.1,268.9L502.5,261.8M502.5,261.8L500,254.8M497.5,245.5L495,241.9M500,254.8L497.5,245.5" stroke="#000" stroke-width="2.1" stroke-linecap="round" fill="none"/>
<path d="M160.4,379.6L582,513.1" stroke="#000" stroke-width="3.7" stroke-linecap="round" fill="none"/>
<path d="M582,513.1L939,366.9" stroke="#000" stroke-width="3.7" stroke-linecap="round" fill="none"/>
<path d="M160.4,379.6L142.3,163.4" stroke="#000" stroke-width="3.7" stroke-linecap="round" fill="none"/>
<path d="M572,510v-5.6" stroke="#000" stroke-width="4" stroke-linecap="round"/>
<path d="M523.4,494.6v-4.0" stroke="#000" stroke-width="4" stroke-linecap="round"/>
<path d="M476.9,479.9v-4.0" stroke="#000" stroke-width="4" stroke-linecap="round"/>
<path d="M432.4,465.8v-4.0" stroke="#000" stroke-width="4" stroke-linecap="round"/>
<path d="M389.8,452.3v-4.0" stroke="#000" stroke-width="4" stroke-linecap="round"/>
<path d="M348.8,439.3v-5.6" stroke="#000" stroke-width="4" stroke-linecap="round"/>
<path d="M309.6,426.9v-4.0" stroke="#000" stroke-width="4" stroke-linecap="round"/>
<path d="M271.8,414.9v-4.0" stroke="#000" stroke-width="4" stroke-linecap="round"/>
<path d="M235.5,403.4v-4.0" stroke="#000" stroke-width="4" stroke-linecap="round"/>
<path d="M200.6,392.4v-4.0" stroke="#000" stroke-width="4" stroke-linecap="round"/>
<path d="M166.9,381.7v-5.6" stroke="#000" stroke-width="4" stroke-linecap="round"/>
<path d="M582,513.1v-5.6" stroke="#000" stroke-width="4" stroke-linecap="round"/>
<path d="M625.4,495.3v-4.0" stroke="#000" stroke-width="4" stroke-linecap="round"/>
<path d="M666.8,478.4v-4.0" stroke="#000" stroke-width="4" stroke-linecap="round"/>
<path d="M706.3,462.2v-4.0" stroke="#000" stroke-width="4" stroke-linecap="round"/>
<path d="M744,446.7v-4.0" stroke="#000" stroke-width="4" stroke-linecap="round"/>
<path d="M780.1,432v-5.6" stroke="#000" stroke-width="4" stroke-linecap="round"/>
<path d="M814.6,417.8v-4.0" stroke="#000" stroke-width="4" stroke-linecap="round"/>
<path d="M847.7,404.3v-4.0" stroke="#000" stroke-width="4" stroke-linecap="round"/>
<path d="M879.4,391.3v-4.0" stroke="#000" stroke-width="4" stroke-linecap="round"/>
<path d="M909.8,378.9v-4.0" stroke="#000" stroke-width="4" stroke-linecap="round"/>
<path d="M939,366.9v-5.6" stroke="#000" stroke-width="4" stroke-linecap="round"/>
<path d="M159.5,369.5l5.0,-1.0" stroke="#000" stroke-width="4" stroke-linecap="round"/>
<path d="M158.5,357.1l7.5,-1.5" stroke="#000" stroke-width="4" stroke-linecap="round"/>
<path d="M157.4,344.6l5.0,-1.0" stroke="#000" stroke-width="4" stroke-linecap="round"/>
<path d="M156.4,332.1l5.0,-1.0" stroke="#000" stroke-width="4" stroke-linecap="round"/>
<path d="M155.3,319.5l5.0,-1.0" stroke="#000" stroke-width="4" stroke-linecap="round"/>
<path d="M154.3,306.8l5.0,-1.0" stroke="#000" stroke-width="4" stroke-linecap="round"/>
<path d="M153.2,294.1l7.5,-1.5" stroke="#000" stroke-width="4" stroke-linecap="round"/>
<path d="M152.1,281.3l5.0,-1.0" stroke="#000" stroke-width="4" stroke-linecap="round"/>
<path d="M151.1,268.4l5.0,-1.0" stroke="#000" stroke-width="4" stroke-linecap="round"/>
<path d="M150,255.5l5.0,-1.0" stroke="#000" stroke-width="4" stroke-linecap="round"/>
<path d="M148.9,242.5l5.0,-1.0" stroke="#000" stroke-width="4" stroke-linecap="round"/>
<path d="M147.8,229.5l7.5,-1.5" stroke="#000" stroke-width="4" stroke-linecap="round"/>
<path d="M146.7,216.4l5.0,-1.0" stroke="#000" stroke-width="4" stroke-linecap="round"/>
<path d="M145.6,203.3l5.0,-1.0" stroke="#000" stroke-width="4" stroke-linecap="round"/>
<path d="M144.5,190l5.0,-1.0" stroke="#000" stroke-width="4" stroke-linecap="round"/>
<path d="M143.4,176.7l5.0,-1.0" stroke="#000" stroke-width="4" stroke-linecap="round"/>
<path d="M142.3,163.4l7.5,-1.5" stroke="#000" stroke-width="4" stroke-linecap="round"/>
<text transform="translate(128.5,172) scale(1.120,1.000)" font-size="11" text-anchor="middle" font-weight="bold" >1</text>
<text transform="translate(133.7,237.8) scale(1.120,1.000)" font-size="11" text-anchor="middle" font-weight="bold" >0</text>
<text transform="translate(135.5,303.5) scale(1.120,1.000)" font-size="11" text-anchor="middle" font-weight="bold" >−1</text>
<text transform="translate(141,366.5) scale(1.120,1.000)" font-size="11" text-anchor="middle" font-weight="bold" >−2</text>
<text transform="translate(167.8,399.2) scale(1.120,1.000)" font-size="11" text-anchor="middle" font-weight="bold" >5</text>
<text transform="translate(350,457.2) scale(1.150,1.000)" font-size="11.5" text-anchor="middle" font-weight="bold" >0</text>
<text transform="translate(570.2,528.5) scale(1.150,1.000)" font-size="11.5" text-anchor="middle" font-weight="bold" >−5</text>
<text transform="translate(583.2,531.8) scale(1.150,1.000)" font-size="11.5" text-anchor="middle" font-weight="bold" >−5</text>
<text transform="translate(780,449.6) scale(1.120,1.000)" font-size="11" text-anchor="middle" font-weight="bold" >0</text>
<text transform="translate(937.3,385) scale(1.120,1.000)" font-size="11" text-anchor="middle" font-weight="bold" >5</text>
<text transform="translate(349.6,494.3) scale(1.280,1.000)" font-size="16.5" text-anchor="middle" font-weight="bold" >t−axis</text>
<text transform="translate(779.2,485.7) scale(1.280,1.000)" font-size="16.5" text-anchor="middle" font-weight="bold" >x−axis</text>
<text transform="translate(549.2,94.2) scale(1.500,1.000)" font-size="12" text-anchor="middle" font-weight="bold" >(a)</text>
<text transform="translate(5,294.4) scale(1.270,1.000)" font-size="16" text-anchor="start" font-weight="bold" >Re Θ<tspan font-size="10.5" dy="2.2">18</tspan><tspan dy="-2.2">(x, t)</tspan></text>
</svg>
</body></html>
